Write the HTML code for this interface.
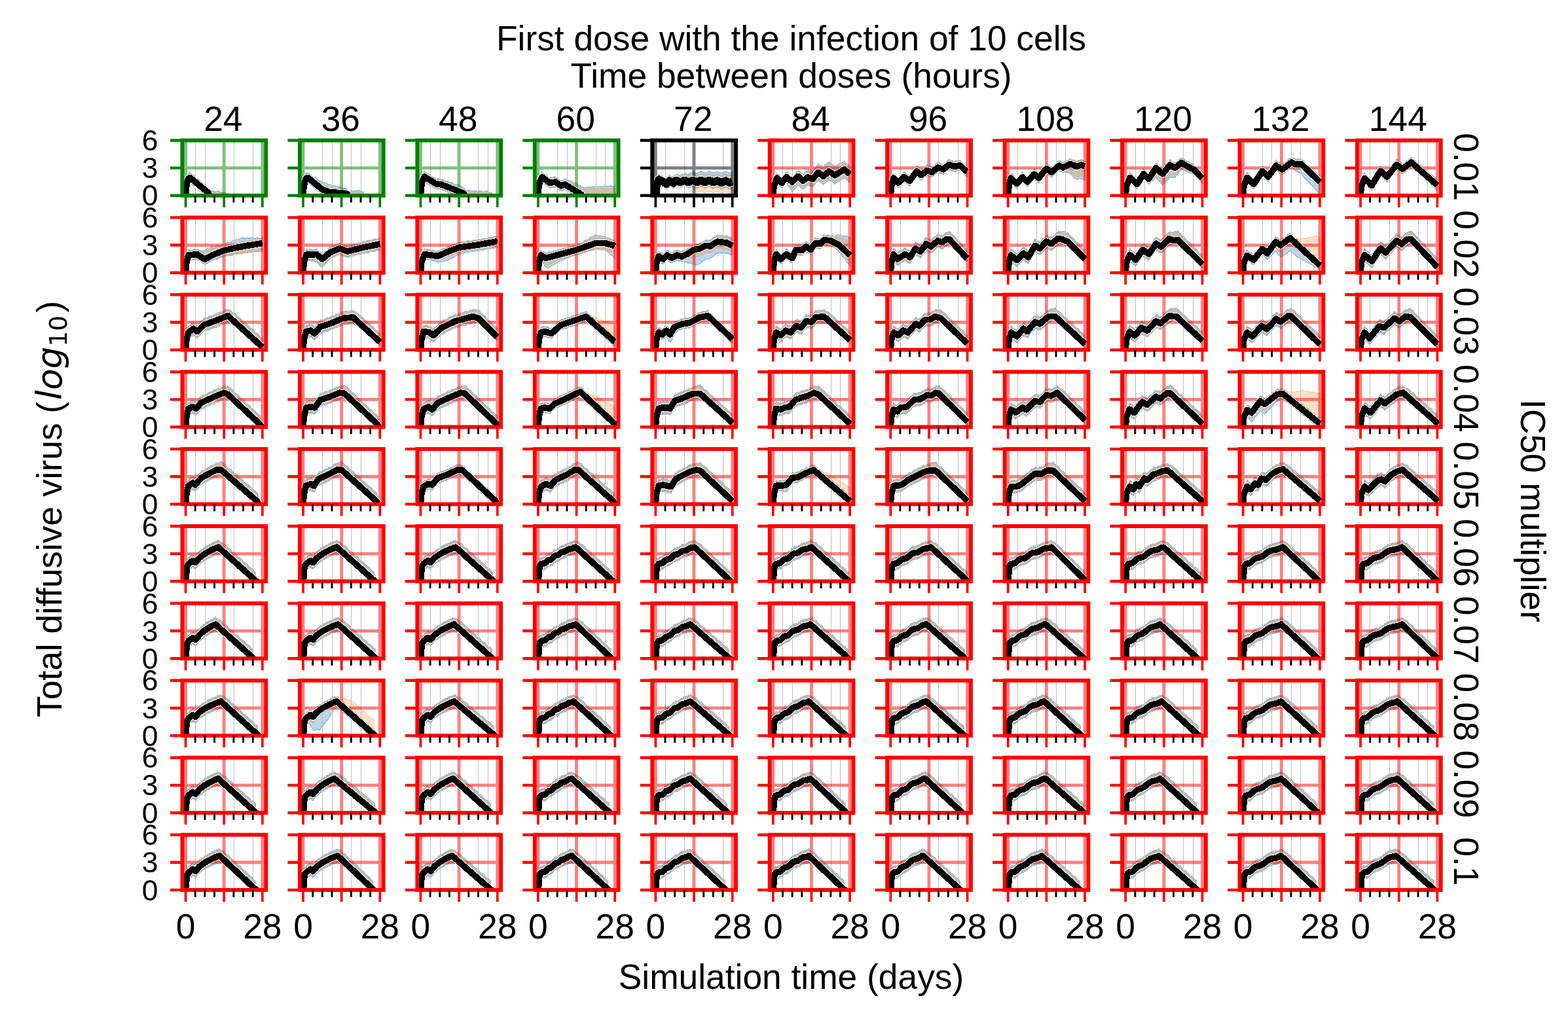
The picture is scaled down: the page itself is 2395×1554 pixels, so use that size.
<!DOCTYPE html><html><head><meta charset="utf-8"><style>html,body{margin:0;padding:0;background:#fff;width:2395px;height:1554px;overflow:hidden;}svg{display:block;}text{font-family:"Liberation Sans",Arial,sans-serif;}</style></head><body>
<svg width="2395" height="1554" viewBox="0 0 2395 1554">
<rect width="2395" height="1554" fill="#fff"/>
<defs><path id="gg" d="M5.1 0V84.3M63.76 0V84.3M122.42 0V84.3M0 42.15H127.8" stroke="#008000" stroke-opacity="0.5" stroke-width="4.8" fill="none"/><g id="fg"><rect width="127.8" height="84.3" fill="none" stroke="#008000" stroke-width="5.9"/><path d="M-18.5 84.3H0M-18.5 42.15H0M-18.5 0H0" stroke="#008000" stroke-width="4.4"/><path d="M5.1 84.3v18M63.76 84.3v18M122.42 84.3v18" stroke="#008000" stroke-width="3.7"/><use href="#mt"/></g><path id="gk" d="M5.1 0V84.3M63.76 0V84.3M122.42 0V84.3M0 42.15H127.8" stroke="#000000" stroke-opacity="0.5" stroke-width="4.8" fill="none"/><g id="fk"><rect width="127.8" height="84.3" fill="none" stroke="#000000" stroke-width="5.9"/><path d="M-18.5 84.3H0M-18.5 42.15H0M-18.5 0H0" stroke="#000000" stroke-width="4.4"/><path d="M5.1 84.3v18M63.76 84.3v18M122.42 84.3v18" stroke="#000000" stroke-width="3.7"/><use href="#mt"/></g><path id="gr" d="M5.1 0V84.3M63.76 0V84.3M122.42 0V84.3M0 42.15H127.8" stroke="#ff0000" stroke-opacity="0.5" stroke-width="4.8" fill="none"/><g id="fr"><rect width="127.8" height="84.3" fill="none" stroke="#ff0000" stroke-width="5.9"/><path d="M-18.5 84.3H0M-18.5 42.15H0M-18.5 0H0" stroke="#ff0000" stroke-width="4.4"/><path d="M5.1 84.3v18M63.76 84.3v18M122.42 84.3v18" stroke="#ff0000" stroke-width="3.7"/><use href="#mt"/></g><path id="mt" d="M19.77 84.3v10.8M34.43 84.3v10.8M49.1 84.3v10.8M78.42 84.3v10.8M93.09 84.3v10.8M107.76 84.3v10.8" stroke="#000" stroke-width="2.9"/></defs>
<svg x="278.45" y="214.5" width="127.8" height="84.3" overflow="hidden"><path d="M5.9 65.3 7.6 54.8 8.9 52.5 9.3 50.6 11.8 48.5 11.8 49.9 14.7 51.6 17.7 53.3 20.6 57.2 23.5 58.8 26.5 60.6 29.4 64.5 32.3 66.1 35.3 67.9 38.2 71.7 39.9 72.3 41.1 76.1 42.8 78.2 44.1 77.4 47 76.9 49.9 78.5 52.9 77.8 55.8 77.4 58.7 79.5 61.7 79.3 64.6 79.4 67.5 81.5 70.5 81.5 72.1 81.5 72.1 86.7 70.5 86.5 67.5 86 64.6 86.7 61.7 86.5 58.7 86 55.8 86.7 52.9 86.5 49.9 86 47 86.7 44.1 86.4 42.8 86 41.1 86.2 39.9 87.8 38.2 86 35.3 84.4 32.3 81.6 29.4 78.8 26.5 77.1 23.5 74.3 20.6 71.5 17.7 69.8 14.7 67.1 11.8 64.3 11.8 65 9.3 66 8.9 66.9 7.6 71.3 5.9 80.8Z" fill="#1f77b4" fill-opacity="0.3" stroke="#1f77b4" stroke-opacity="0.4" stroke-width="1.4" shape-rendering="crispEdges"/><path d="M5.9 66.3 7.6 55.8 8.9 53.3 9.3 51.5 11.8 49.5 11.8 50.7 14.7 52.5 17.7 54.4 20.6 58 23.5 59.8 26.5 61.6 29.4 65.3 32.3 67 35.3 68.9 38.2 72.5 39.9 73.2 41.1 77.7 42.8 79.5 44.1 78.9 47 78.5 49.9 79.8 52.9 79.2 55.8 78.9 58.7 80.7 61.7 80.5 64.6 80.6 67.5 82.3 70.5 82 72.1 81.9 72.1 86.4 70.5 86.2 67.5 85.8 64.6 86.4 61.7 86.2 58.7 85.8 55.8 86.4 52.9 86.2 49.9 85.8 47 86.4 44.1 86.2 42.8 85.8 41.1 85.8 39.9 86.9 38.2 85.2 35.3 83.4 32.3 80.7 29.4 77.9 26.5 76.1 23.5 73.4 20.6 70.7 17.7 68.8 14.7 66.1 11.8 63.4 11.8 64 9.3 65.1 8.9 66 7.6 70.3 5.9 79.9Z" fill="#ff7f0e" fill-opacity="0.24" stroke="#ff7f0e" stroke-opacity="0.3" stroke-width="1.2" shape-rendering="crispEdges"/></svg><path d="M298.5 214.5V298.8M313.5 214.5V298.8M357.5 214.5V298.8M386.5 214.5V298.8" stroke="#bdbdbd" stroke-width="1"/><use href="#gg" transform="translate(278.45,214.5)"/><svg x="278.45" y="214.5" width="127.8" height="84.3" overflow="hidden"><path d="M5.1 84.3 5.9 73.1 7.6 63.2 9.3 58.3 11.8 56.9 39.9 80.1 42.8 88.5" fill="none" stroke="#fff" stroke-width="11.2" stroke-linejoin="round"/><path d="M5.1 84.3 5.9 73.1 7.6 63.2 9.3 58.3 11.8 56.9 39.9 80.1 42.8 88.5" fill="none" stroke="#000" stroke-width="9.6" stroke-linejoin="round" shape-rendering="crispEdges"/></svg><use href="#fg" transform="translate(278.45,214.5)"/>
<text x="241.45" y="314.4" font-size="44.44" text-anchor="end">0</text>
<text x="241.45" y="272.25" font-size="44.44" text-anchor="end">3</text>
<text x="241.45" y="230.1" font-size="44.44" text-anchor="end">6</text>
<text x="340.85" y="200" font-size="53.33" text-anchor="middle">24</text>
<svg x="457.9" y="214.5" width="127.8" height="84.3" overflow="hidden"><path d="M5.9 64.8 7.6 55.2 8.9 52.6 9.3 50 11.8 49.1 12.2 50 14.7 50.7 17.7 53.4 20.6 56.9 23.5 55.8 26.5 58.3 29.4 61.4 32.3 62.2 33.6 63.4 35.3 65 38.2 64.5 41.1 65.8 44.1 68.1 44.9 67.2 47 68.1 49.9 69.8 52.9 69 55.8 70.1 58.7 71.8 60.4 70.7 61.7 71.6 64.6 73.5 67.5 72.6 70.5 73.4 72.1 74.6 73.4 77.1 75.5 77.6 76.3 78.5 79.3 76.8 82.2 77.1 85.1 77.8 88.1 76.2 91 76.5 93.9 78.6 96.9 78.5 97.3 79.3 97.3 87.6 96.9 87.8 93.9 87.1 91 87.5 88.1 87.7 85.1 87 82.2 87.4 79.3 87.6 76.3 86.9 75.5 87.3 73.4 87.4 72.1 88.8 70.5 89.1 67.5 89 64.6 87.9 61.7 88 60.4 88.1 58.7 87.3 55.8 87.6 52.9 87.6 49.9 86.7 47 87.1 44.9 87.1 44.1 86.1 41.1 85.4 38.2 84.4 35.3 82.5 33.6 82.3 32.3 81.5 29.4 78.3 26.5 76.5 23.5 74.2 20.6 71.1 17.7 69.2 14.7 67 12.2 64.2 11.8 65 9.3 66.3 8.9 66.9 7.6 71.1 5.9 81.1Z" fill="#1f77b4" fill-opacity="0.3" stroke="#1f77b4" stroke-opacity="0.4" stroke-width="1.4" shape-rendering="crispEdges"/><path d="M5.9 65.8 7.6 56.2 8.9 53.4 9.3 51 11.8 50.1 12.2 50.8 14.7 51.7 17.7 54.4 20.6 57.7 23.5 58.9 26.5 61.4 29.4 64.5 32.3 65.6 33.6 66.8 35.3 68.3 38.2 68.1 41.1 69.4 44.1 71.5 44.9 70.8 47 71.5 49.9 72.8 52.9 72.1 55.8 72.8 58.7 73.8 60.4 72.8 61.7 73.3 64.6 74.5 67.5 73.6 70.5 74.4 72.1 75.4 73.4 78.6 75.5 79.1 76.3 79.9 79.3 78.6 82.2 78.9 85.1 79.6 88.1 78.3 91 78.7 93.9 80.2 96.9 79.9 97.3 80.5 97.3 86.7 96.9 86.9 93.9 86.3 91 86.7 88.1 86.9 85.1 86.2 82.2 86.6 79.3 86.8 76.3 86.2 75.5 86.6 73.4 86.6 72.1 88 70.5 88.2 67.5 88 64.6 87.1 61.7 87.1 60.4 87.1 58.7 86.4 55.8 86.7 52.9 86.7 49.9 85.9 47 86.1 44.9 86.2 44.1 85.2 41.1 84.4 38.2 83.4 35.3 81.6 33.6 81.4 32.3 80.5 29.4 77.5 26.5 75.5 23.5 73.2 20.6 70.2 17.7 68.3 14.7 66 12.2 63.4 11.8 64 9.3 65.3 8.9 66 7.6 70.1 5.9 80.1Z" fill="#ff7f0e" fill-opacity="0.24" stroke="#ff7f0e" stroke-opacity="0.3" stroke-width="1.2" shape-rendering="crispEdges"/></svg><path d="M492.5 214.5V298.8M507.5 214.5V298.8M536.5 214.5V298.8M551.5 214.5V298.8" stroke="#bdbdbd" stroke-width="1"/><use href="#gg" transform="translate(457.9,214.5)"/><svg x="457.9" y="214.5" width="127.8" height="84.3" overflow="hidden"><path d="M5.1 84.3 5.9 73.1 7.6 63.2 9.3 58.3 12.2 56.9 33.6 74.5 44.9 79.1 60.4 80.1 72.1 81.5 75.5 88.5" fill="none" stroke="#fff" stroke-width="11.2" stroke-linejoin="round"/><path d="M5.1 84.3 5.9 73.1 7.6 63.2 9.3 58.3 12.2 56.9 33.6 74.5 44.9 79.1 60.4 80.1 72.1 81.5 75.5 88.5" fill="none" stroke="#000" stroke-width="9.6" stroke-linejoin="round" shape-rendering="crispEdges"/></svg><use href="#fg" transform="translate(457.9,214.5)"/>
<text x="520.3" y="200" font-size="53.33" text-anchor="middle">36</text>
<svg x="637.35" y="214.5" width="127.8" height="84.3" overflow="hidden"><path d="M5.9 64.5 7.6 55.1 8.9 52.7 11 46.9 11.8 48.6 14.7 50.6 17.7 51.1 20.6 54 23.5 56 26.5 56.5 28.6 58.9 29.4 59.2 32.3 58.3 35.3 59.8 36.5 60.1 38.2 59.3 41.1 61.5 44.1 62.6 47 62.3 49.1 64.2 49.9 64.5 52.9 64.3 55.8 66.5 58.7 67.7 61.7 67.4 63.8 69.4 64.6 69.8 67.5 70 70.5 72.7 71.3 73.1 73.4 75.2 74.2 76.6 76.3 76.8 79.3 75.8 82.2 77.3 85.1 77.4 88.1 76.3 91 77.7 93.9 77.8 96.9 76.7 99.8 78.1 102.7 78.1 105.7 77 108.6 78.6 111.5 79.9 114 79.9 114 88.1 111.5 87.5 108.6 87.4 105.7 88 102.7 87.4 99.8 87.3 96.9 87.9 93.9 87.3 91 87.2 88.1 87.8 85.1 87.2 82.2 87.1 79.3 87.7 76.3 87.1 74.2 87 73.4 87.6 71.3 88.6 70.5 88.3 67.5 87.7 64.6 86 63.8 85.6 61.7 85.4 58.7 83.6 55.8 82.4 52.9 81.9 49.9 80 49.1 79.8 47 79.6 44.1 77.8 41.1 76.7 38.2 76.2 36.5 74.9 35.3 74.8 32.3 75 29.4 73.9 28.6 73.9 26.5 73.2 23.5 70.7 20.6 69 17.7 67.8 14.7 65.3 11.8 63.6 11 63.6 8.9 67.3 7.6 70.1 5.9 81.2Z" fill="#1f77b4" fill-opacity="0.3" stroke="#1f77b4" stroke-opacity="0.4" stroke-width="1.4" shape-rendering="crispEdges"/><path d="M5.9 65.6 7.6 56 8.9 53.5 11 48 11.8 49.5 14.7 51.4 17.7 52.1 20.6 54.9 23.5 56.8 26.5 57.5 28.6 59.8 29.4 60 32.3 59.3 35.3 60.8 36.5 61 38.2 60.6 41.1 62.7 44.1 63.9 47 63.9 49.1 65.7 49.9 66.1 52.9 66.2 55.8 68.4 58.7 69.7 61.7 69.8 63.8 71.7 64.6 72 67.5 72.1 70.5 74.3 71.3 74.6 73.4 77.5 74.2 78.6 76.3 78.7 79.3 77.9 82.2 79.1 85.1 79.2 88.1 78.3 91 79.6 93.9 79.6 96.9 78.7 99.8 80 102.7 80 105.7 79.2 108.6 80.5 111.5 81.3 114 81.1 114 87.1 111.5 86.6 108.6 86.5 105.7 87 102.7 86.5 99.8 86.5 96.9 87 93.9 86.5 91 86.4 88.1 86.9 85.1 86.4 82.2 86.4 79.3 86.9 76.3 86.4 74.2 86.3 73.4 86.9 71.3 87.7 70.5 87.4 67.5 86.7 64.6 85.1 63.8 84.8 61.7 84.4 58.7 82.7 55.8 81.6 52.9 80.9 49.9 79.2 49.1 78.9 47 78.6 44.1 76.9 41.1 75.8 38.2 75.2 36.5 74 35.3 73.9 32.3 74 29.4 73 28.6 73 26.5 72.2 23.5 69.8 20.6 68.1 17.7 66.8 14.7 64.4 11.8 62.7 11 62.6 8.9 66.5 7.6 69.2 5.9 80.2Z" fill="#ff7f0e" fill-opacity="0.24" stroke="#ff7f0e" stroke-opacity="0.3" stroke-width="1.2" shape-rendering="crispEdges"/></svg><path d="M657.5 214.5V298.8M672.5 214.5V298.8M730.5 214.5V298.8M745.5 214.5V298.8" stroke="#bdbdbd" stroke-width="1"/><use href="#gg" transform="translate(637.35,214.5)"/><svg x="637.35" y="214.5" width="127.8" height="84.3" overflow="hidden"><path d="M5.1 84.3 5.9 73.1 7.6 62.5 11 55.5 28.6 66.3 36.5 67.4 49.1 72.2 63.8 78.1 71.3 81.1 74.2 88.5" fill="none" stroke="#fff" stroke-width="11.2" stroke-linejoin="round"/><path d="M5.1 84.3 5.9 73.1 7.6 62.5 11 55.5 28.6 66.3 36.5 67.4 49.1 72.2 63.8 78.1 71.3 81.1 74.2 88.5" fill="none" stroke="#000" stroke-width="9.6" stroke-linejoin="round" shape-rendering="crispEdges"/></svg><use href="#fg" transform="translate(637.35,214.5)"/>
<text x="699.75" y="200" font-size="53.33" text-anchor="middle">48</text>
<svg x="816.8" y="214.5" width="127.8" height="84.3" overflow="hidden"><path d="M5.9 64.6 7.6 56.2 8.9 52.8 11 47.8 11.8 49.8 14.7 51.2 17.7 52.7 20.6 56.4 22.7 57.1 23.5 56.3 26.5 57.3 29.4 56.1 31.5 55.1 32.3 57.1 35.3 58.2 38.2 59.5 40.3 62.3 41.1 61.2 44.1 59 46.2 59.3 47 58.7 49.9 59.3 52 61.6 52.9 61.1 55.8 61.8 58.7 64.5 61.7 64.9 64.6 65.8 66.7 68.3 67.5 68 70.5 69.3 71.3 71.3 73.4 71.7 73.4 71.2 76.3 72.5 79.3 71.3 82.2 70.7 85.1 72 88.1 70.8 91 70.2 93.9 71.5 96.9 70.4 99.8 69.9 102.7 71.2 105.7 70 108.6 69.5 111.5 70.8 114.5 69.7 117.4 69.2 120.3 70.5 122.4 69.3 122.4 89.3 120.3 88.8 117.4 89.5 114.5 89.3 111.5 88.8 108.6 89.5 105.7 89.3 102.7 88.8 99.8 89.5 96.9 89.3 93.9 88.8 91 89.5 88.1 89.3 85.1 88.8 82.2 89.5 79.3 89.3 76.3 88.8 73.4 89.5 73.4 89.3 71.3 90.2 70.5 90.4 67.5 88 66.7 87 64.6 86.5 61.7 84.4 58.7 82.2 55.8 81.1 52.9 79.1 52 78.2 49.9 77.7 47 75.7 46.2 74.8 44.1 76.2 41.1 76.8 40.3 76.6 38.2 76 35.3 73.7 32.3 71.4 31.5 71.6 29.4 71.6 26.5 71.7 23.5 72.9 22.7 72.7 20.6 70.7 17.7 69.3 14.7 66.7 11.8 64.2 11 64.3 8.9 68.3 7.6 70.6 5.9 81.2Z" fill="#1f77b4" fill-opacity="0.3" stroke="#1f77b4" stroke-opacity="0.4" stroke-width="1.4" shape-rendering="crispEdges"/><path d="M5.9 65.7 7.6 57 8.9 53.8 11 48.8 11.8 50.6 14.7 52.2 17.7 53.8 20.6 57.2 22.7 58.1 23.5 57.4 26.5 58.1 29.4 57 31.5 56.1 32.3 57.9 35.3 59.1 38.2 60.5 40.3 63.1 41.1 62.1 44.1 60.7 46.2 61.3 47 61 49.9 61.8 52 63.9 52.9 63.6 55.8 64.4 58.7 67 61.7 67.6 64.6 68.5 66.7 70.9 67.5 70.7 70.5 72.2 71.3 73.9 73.4 74.4 73.4 74 76.3 75.1 79.3 74.1 82.2 73.6 85.1 74.6 88.1 73.7 91 73.2 93.9 74.4 96.9 73.5 99.8 73.1 102.7 74.2 105.7 73.3 108.6 72.9 111.5 74.1 114.5 73.1 117.4 72.8 120.3 73.9 122.4 73 122.4 88.1 120.3 87.7 117.4 88.2 114.5 88 111.5 87.6 108.6 88.1 105.7 88 102.7 87.5 99.8 88.1 96.9 87.9 93.9 87.4 91 88 88.1 87.8 85.1 87.4 82.2 87.9 79.3 87.7 76.3 87.3 73.4 87.9 73.4 87.7 71.3 89.4 70.5 89.4 67.5 87.1 66.7 86.1 64.6 85.5 61.7 83.5 58.7 81.3 55.8 80.2 52.9 78.2 52 77.3 49.9 76.7 47 74.8 46.2 73.9 44.1 75.2 41.1 75.8 40.3 75.7 38.2 75 35.3 72.8 32.3 70.5 31.5 70.6 29.4 70.7 26.5 70.8 23.5 71.9 22.7 71.7 20.6 69.8 17.7 68.3 14.7 65.8 11.8 63.3 11 63.3 8.9 67.4 7.6 69.7 5.9 80.2Z" fill="#ff7f0e" fill-opacity="0.24" stroke="#ff7f0e" stroke-opacity="0.3" stroke-width="1.2" shape-rendering="crispEdges"/></svg><path d="M851.5 214.5V298.8M866.5 214.5V298.8M910.5 214.5V298.8M924.5 214.5V298.8" stroke="#bdbdbd" stroke-width="1"/><use href="#gg" transform="translate(816.8,214.5)"/><svg x="816.8" y="214.5" width="127.8" height="84.3" overflow="hidden"><path d="M5.1 84.3 5.9 73.1 7.6 63.2 11 56.2 22.7 64.9 31.5 63.5 40.3 69.3 46.2 67.4 52 70.8 66.7 79.7 71.3 82.9 73.4 88.5" fill="none" stroke="#fff" stroke-width="11.2" stroke-linejoin="round"/><path d="M5.1 84.3 5.9 73.1 7.6 63.2 11 56.2 22.7 64.9 31.5 63.5 40.3 69.3 46.2 67.4 52 70.8 66.7 79.7 71.3 82.9 73.4 88.5" fill="none" stroke="#000" stroke-width="9.6" stroke-linejoin="round" shape-rendering="crispEdges"/></svg><use href="#fg" transform="translate(816.8,214.5)"/>
<text x="879.2" y="200" font-size="53.33" text-anchor="middle">60</text>
<svg x="996.25" y="214.5" width="127.8" height="84.3" overflow="hidden"><path d="M5.9 66.9 6.4 63.4 8.9 54.9 10.1 51.7 11.8 53.7 14.7 53.8 15.6 54.5 17.7 57 20.6 57.3 21.9 58.4 23.5 57.3 26.1 52.7 26.5 53.3 29.4 55.7 32.3 55.6 35.3 52.8 36.5 52.4 38.2 51.6 41.1 53 42.8 54.6 44.1 52.5 47 51.3 49.1 51 49.9 49.8 52.9 51.1 55.4 52.8 55.8 51.1 58.7 49.8 61.7 48.9 61.7 47.5 64.6 48.9 67.5 51.1 68 49.8 70.5 49.2 73.4 48.7 74.2 46.9 76.3 48.3 79.3 50.4 80.5 49.5 82.2 49.3 85.1 48.8 86.8 46.5 88.1 47.7 91 49.8 93.1 49.2 93.9 49.5 96.9 49.3 99.4 46.9 99.8 47.7 102.7 49.8 105.7 49.6 105.7 50.2 108.6 49.6 111.5 46.8 111.9 47.3 114.5 49.1 117.4 48.9 118.2 50 120.3 50 122.4 47.7 122.4 73.4 120.3 73.4 118.2 74.4 117.4 74.4 114.5 72.3 111.9 71.5 111.5 72.1 108.6 72.6 105.7 74.3 105.7 74.6 102.7 72.5 99.8 71.6 99.4 71.7 96.9 71.8 93.9 73.2 93.1 73.7 91 72 88.1 71.1 86.8 70.8 85.1 70.8 82.2 72.5 80.5 73.6 79.3 72.3 76.3 71.4 74.2 70.7 73.4 70.3 70.5 72 68 73.4 67.5 72.4 64.6 71.3 61.7 69.9 61.7 69.1 58.7 70.6 55.8 71.8 55.4 71.3 52.9 70.6 49.9 69.5 49.1 68.4 47 69.9 44.1 71.4 42.8 71.3 41.1 71 38.2 69.9 36.5 68.4 35.3 70.2 32.3 73.4 29.4 71 26.5 69.9 26.1 69.8 23.5 72.1 21.9 74.6 20.6 73.9 17.7 71.2 15.6 70.4 14.7 70.1 11.8 67.9 10.1 67.6 8.9 71.2 6.4 77.6 5.9 82.8Z" fill="#1f77b4" fill-opacity="0.3" stroke="#1f77b4" stroke-opacity="0.4" stroke-width="1.4" shape-rendering="crispEdges"/><path d="M5.9 67.9 6.4 64.1 8.9 56 10.1 52.7 11.8 54.5 14.7 54.8 15.6 55.5 17.7 57.8 20.6 58.6 21.9 59.7 23.5 58.7 26.1 54.5 26.5 55.1 29.4 57.6 32.3 58 35.3 55.2 36.5 54.6 38.2 54.1 41.1 55.5 42.8 56.9 44.1 55.1 47 53.9 49.1 53.4 49.9 52.5 52.9 53.8 55.4 55.3 55.8 53.9 58.7 52.5 61.7 51.6 61.7 50.4 64.6 51.8 67.5 53.8 68 52.8 70.5 52.1 73.4 51.5 74.2 49.9 76.3 51.3 79.3 53.3 80.5 52.7 82.2 52.4 85.1 51.8 86.8 49.8 88.1 50.8 91 52.8 93.1 52.5 93.9 52.8 96.9 52.4 99.4 50.4 99.8 51.1 102.7 53 105.7 53.1 105.7 53.6 108.6 53 111.5 50.4 111.9 50.8 114.5 52.5 117.4 52.6 118.2 53.5 120.3 53.4 122.4 51.5 122.4 80.2 120.3 80.3 118.2 81.3 117.4 81.2 114.5 79.2 111.9 78.4 111.5 78.9 108.6 79.5 105.7 81.2 105.7 81.4 102.7 79.5 99.8 78.5 99.4 78.5 96.9 78.7 93.9 80 93.1 80.6 91 79 88.1 78 86.8 77.7 85.1 77.8 82.2 79.5 80.5 80.4 79.3 79.2 76.3 78.3 74.2 77.5 73.4 77.3 70.5 79 68 80.3 67.5 79.2 64.6 76.4 61.7 73.4 61.7 72.8 58.7 72.7 55.8 72.3 55.4 71.6 52.9 70.4 49.9 68.6 49.1 67.6 47 68.9 44.1 70.4 42.8 70.4 41.1 70.1 38.2 68.9 36.5 67.6 35.3 69.3 32.3 72.4 29.4 70.2 26.5 68.9 26.1 68.9 23.5 71.2 21.9 73.6 20.6 72.9 17.7 70.4 15.6 69.4 14.7 69.1 11.8 67 10.1 66.6 8.9 70.3 6.4 76.7 5.9 81.9Z" fill="#ff7f0e" fill-opacity="0.24" stroke="#ff7f0e" stroke-opacity="0.3" stroke-width="1.2" shape-rendering="crispEdges"/></svg><path d="M1016.5 214.5V298.8M1045.5 214.5V298.8M1104.5 214.5V298.8" stroke="#bdbdbd" stroke-width="1"/><use href="#gk" transform="translate(996.25,214.5)"/><svg x="996.25" y="214.5" width="127.8" height="84.3" overflow="hidden"><path d="M5.1 84.3 6.4 70.2 10.1 59.7 15.6 62.5 21.9 66.7 26.1 61.8 32.3 65.3 36.5 61.1 42.8 63.9 49.1 61.1 55.4 63.9 61.7 61.1 68 63.9 74.2 61.1 80.5 63.9 86.8 61.1 93.1 63.9 99.4 61.8 105.7 64.6 111.9 61.8 118.2 64.6 122.4 63.2" fill="none" stroke="#fff" stroke-width="13.6" stroke-linejoin="round"/><path d="M5.1 84.3 6.4 70.2 10.1 59.7 15.6 62.5 21.9 66.7 26.1 61.8 32.3 65.3 36.5 61.1 42.8 63.9 49.1 61.1 55.4 63.9 61.7 61.1 68 63.9 74.2 61.1 80.5 63.9 86.8 61.1 93.1 63.9 99.4 61.8 105.7 64.6 111.9 61.8 118.2 64.6 122.4 63.2" fill="none" stroke="#000" stroke-width="12.0" stroke-linejoin="round" shape-rendering="crispEdges"/></svg><use href="#fk" transform="translate(996.25,214.5)"/>
<text x="1058.65" y="200" font-size="53.33" text-anchor="middle">72</text>
<svg x="1175.7" y="214.5" width="127.8" height="84.3" overflow="hidden"><path d="M5.9 67.5 6.4 63.1 8.9 54.8 11 50.2 11.8 51.2 14.7 52.7 17.7 56.7 18.5 57.7 20.6 53.8 23.5 51.4 25.6 49 26.5 48.3 29.4 52 32.3 54.5 34.4 54.9 35.3 55.3 38.2 52.2 41.1 47.5 43.2 46.4 44.1 47.1 47 48.2 49.9 51.8 50.8 52.5 52.9 49.3 55.8 47.9 58.3 45.7 58.7 44.6 61.7 46.6 64.6 47.4 65.4 46.4 67.5 44.9 70.5 41.1 73.4 36.1 74.2 36.3 76.3 37.7 79.3 38.4 81.8 41.4 82.2 40.9 85.1 36.8 88.1 35.3 90.6 33.1 91 32.2 93.9 35.8 96.9 37.9 99.4 38.7 99.8 39.8 102.7 38.1 105.7 35.3 108.6 35.1 111.5 33.4 114 30.9 114.5 32.7 117.4 35.3 120.3 36.9 122.4 40.3 122.4 64.8 120.3 63.6 117.4 60.4 114.5 57.7 114 58 111.5 58.9 108.6 60.5 105.7 63 102.7 64.1 99.8 65.8 99.4 66.7 96.9 64.3 93.9 62.2 91 60.7 90.6 59.8 88.1 61.9 85.1 64.9 82.2 66.7 81.8 67.1 79.3 65.6 76.3 62.6 74.2 60.9 73.4 62.5 70.5 65.2 67.5 68.6 65.4 71.6 64.6 70.6 61.7 69.4 58.7 68.8 58.3 68 55.8 69.9 52.9 73.1 50.8 74.3 49.9 73.6 47 71.9 44.1 68.8 43.2 68.2 41.1 71.1 38.2 73.8 35.3 77.1 34.4 78.7 32.3 74.9 29.4 70.5 26.5 66.7 25.6 65 23.5 67.1 20.6 70.5 18.5 72.4 17.7 71.7 14.7 69.4 11.8 65.9 11 65.2 8.9 71.5 6.4 77.7 5.9 82.5Z" fill="#1f77b4" fill-opacity="0.3" stroke="#1f77b4" stroke-opacity="0.4" stroke-width="1.4" shape-rendering="crispEdges"/><path d="M5.9 68.4 6.4 63.9 8.9 55.9 11 51.1 11.8 52.1 14.7 53.8 17.7 57.6 18.5 58.5 20.6 54.9 23.5 52.2 25.6 49.8 26.5 49.4 29.4 52.8 32.3 55.4 34.4 56 35.3 56.2 38.2 53.4 41.1 49.4 43.2 48.3 44.1 49.2 47 50.7 49.9 54.1 50.8 54.9 52.9 51.9 55.8 50.4 58.3 48.2 58.7 47.3 61.7 49.1 64.6 50 65.4 49.2 67.5 47.5 70.5 43.8 73.4 39 74.2 39 76.3 40.4 79.3 41.4 81.8 44.2 82.2 43.8 85.1 39.9 88.1 38.2 90.6 36 91 35.3 93.9 38.7 96.9 40.8 99.4 41.7 99.8 42.6 102.7 40.9 105.7 38.3 108.6 37.9 111.5 36.1 114 33.8 114.5 35.3 117.4 37.9 120.3 39.8 122.4 42.9 122.4 62 120.3 60.7 117.4 57.6 114.5 54.9 114 55.1 111.5 56.1 108.6 57.8 105.7 60.1 102.7 61.3 99.8 63 99.4 63.8 96.9 61.5 93.9 59.4 91 57.9 90.6 57.1 88.1 59.2 85.1 62.1 82.2 64 81.8 64.4 79.3 62.8 76.3 59.9 74.2 58.2 73.4 59.7 70.5 62.5 67.5 65.9 65.4 68.8 64.6 67.9 61.7 66.7 58.7 66.1 58.3 65.3 55.8 67.2 52.9 70.1 50.8 71.3 49.9 70.6 47 68.5 44.1 65.3 43.2 64.6 41.1 67.3 38.2 69.9 35.3 73 34.4 74.4 32.3 71.1 29.4 67.5 26.5 64.2 25.6 62.8 23.5 65.4 20.6 69.5 18.5 71.5 17.7 70.8 14.7 68.4 11.8 65 11 64.3 8.9 70.5 6.4 76.8 5.9 81.6Z" fill="#ff7f0e" fill-opacity="0.24" stroke="#ff7f0e" stroke-opacity="0.3" stroke-width="1.2" shape-rendering="crispEdges"/></svg><path d="M1195.5 214.5V298.8M1210.5 214.5V298.8M1269.5 214.5V298.8M1283.5 214.5V298.8" stroke="#bdbdbd" stroke-width="1"/><use href="#gr" transform="translate(1175.7,214.5)"/><svg x="1175.7" y="214.5" width="127.8" height="84.3" overflow="hidden"><path d="M5.1 84.3 6.4 70.2 11 57.6 18.5 64.9 25.6 56.2 34.4 63.5 43.2 54.8 50.8 62 58.3 56.2 65.4 59 74.2 48.8 81.8 54.8 90.6 47.3 99.4 53.4 114 44.4 122.4 51.7" fill="none" stroke="#fff" stroke-width="11.2" stroke-linejoin="round"/><path d="M5.1 84.3 6.4 70.2 11 57.6 18.5 64.9 25.6 56.2 34.4 63.5 43.2 54.8 50.8 62 58.3 56.2 65.4 59 74.2 48.8 81.8 54.8 90.6 47.3 99.4 53.4 114 44.4 122.4 51.7" fill="none" stroke="#000" stroke-width="9.6" stroke-linejoin="round" shape-rendering="crispEdges"/></svg><use href="#fr" transform="translate(1175.7,214.5)"/>
<text x="1238.1" y="200" font-size="53.33" text-anchor="middle">84</text>
<svg x="1355.15" y="214.5" width="127.8" height="84.3" overflow="hidden"><path d="M5.9 67.9 6.4 62.5 8.9 52.3 9.7 50.6 11.8 52 14.7 54.3 16.8 57.9 17.7 56.3 20.6 52.7 23.5 51.3 25.6 48.4 26.5 48.3 29.4 51.7 32.3 52.8 34.4 53.5 35.3 53.8 38.2 48.8 41.1 44.1 44.1 41.4 44.9 39.4 47 40.5 49.9 44.4 52 45.3 52.9 44 55.8 43 58.7 39.7 60.8 37.4 61.7 39.2 64.6 39.4 67.5 40.1 68.4 41.8 70.5 39.2 73.4 36.3 76.3 35.3 77.2 33.7 79.3 33.9 82.2 36.3 85.1 36.2 86 36.1 88.1 35.7 91 32.3 93.9 29.4 94.8 30.1 96.9 29.9 99.8 30.6 102.3 33 102.7 31.8 105.7 30.9 108.6 31.7 111.1 30.2 111.5 30.2 114.5 34.3 117.4 35.8 120.3 38.2 121.2 40.3 122.4 39.8 122.4 55.6 121.2 54.5 120.3 54.5 117.4 51.7 114.5 48.5 111.5 46.6 111.1 46 108.6 46 105.7 47.2 102.7 47.6 102.3 47.2 99.8 46.9 96.9 45.6 94.8 44.3 93.9 45.8 91 48 88.1 50 86 52.4 85.1 51.9 82.2 50.5 79.3 50.3 77.2 49.4 76.3 49.6 73.4 52.7 70.5 54.9 68.4 56.1 67.5 56.5 64.6 55.1 61.7 53.5 60.8 53.9 58.7 55.3 55.8 57.3 52.9 60.5 52 60.9 49.9 58.7 47 57 44.9 55 44.1 55.7 41.1 60.6 38.2 64.4 35.3 68.1 34.4 70 32.3 68.4 29.4 66 26.5 64.8 25.6 64 23.5 65.6 20.6 69.3 17.7 71.8 16.8 72.3 14.7 70.8 11.8 67.5 9.7 65 8.9 68.9 6.4 78 5.9 82.3Z" fill="#1f77b4" fill-opacity="0.3" stroke="#1f77b4" stroke-opacity="0.4" stroke-width="1.4" shape-rendering="crispEdges"/><path d="M5.9 68.7 6.4 63.4 8.9 53.4 9.7 51.4 11.8 52.9 14.7 55.4 16.8 58.7 17.7 57.2 20.6 53.8 23.5 52.1 25.6 49.4 26.5 49.4 29.4 52.5 32.3 53.7 34.4 54.6 35.3 54.6 38.2 49.8 41.1 45.2 44.1 42.2 44.9 40.3 47 41.6 49.9 45.2 52 46.2 52.9 45.1 55.8 43.8 58.7 40.6 60.8 38.5 61.7 40 64.6 40.4 67.5 41.1 68.4 42.6 70.5 40.1 73.4 37.3 76.3 36.1 77.2 34.6 79.3 34.9 82.2 37.1 85.1 37.2 86 37.1 88.1 36.5 91 33.2 93.9 30.4 94.8 30.9 96.9 30.8 99.8 31.6 102.3 33.7 102.7 32.8 105.7 31.9 108.6 32.5 111.1 31.2 111.5 31.3 114.5 35.1 117.4 36.8 120.3 39.2 121.2 41.1 122.4 40.7 122.4 54.7 121.2 53.7 120.3 53.5 117.4 50.7 114.5 47.6 111.5 45.6 111.1 45.1 108.6 45.1 105.7 46.3 102.7 46.7 102.3 46.3 99.8 46 96.9 44.7 94.8 43.5 93.9 44.8 91 47.1 88.1 49.1 86 51.5 85.1 51 82.2 49.7 79.3 49.3 77.2 48.5 76.3 48.7 73.4 51.7 70.5 53.9 68.4 55.2 67.5 55.5 64.6 54.1 61.7 52.6 60.8 52.9 58.7 54.4 55.8 56.5 52.9 59.5 52 60 49.9 57.8 47 56 44.9 54 44.1 54.9 41.1 59.6 38.2 63.5 35.3 67.3 34.4 69 32.3 67.4 29.4 65.2 26.5 63.8 25.6 63 23.5 64.8 20.6 68.3 17.7 70.9 16.8 71.4 14.7 69.9 11.8 66.6 9.7 64.1 8.9 67.9 6.4 77.1 5.9 81.4Z" fill="#ff7f0e" fill-opacity="0.24" stroke="#ff7f0e" stroke-opacity="0.3" stroke-width="1.2" shape-rendering="crispEdges"/></svg><path d="M1375.5 214.5V298.8M1433.5 214.5V298.8M1463.5 214.5V298.8" stroke="#bdbdbd" stroke-width="1"/><use href="#gr" transform="translate(1355.15,214.5)"/><svg x="1355.15" y="214.5" width="127.8" height="84.3" overflow="hidden"><path d="M5.1 84.3 6.4 70.2 9.7 57.6 16.8 64.9 25.6 56.2 34.4 62 44.9 47.2 52 53.1 60.8 45.8 68.4 48.8 77.2 41.6 86 44.4 94.8 37 102.3 39.9 111.1 38.2 121.2 47.2 122.4 47.8" fill="none" stroke="#fff" stroke-width="11.2" stroke-linejoin="round"/><path d="M5.1 84.3 6.4 70.2 9.7 57.6 16.8 64.9 25.6 56.2 34.4 62 44.9 47.2 52 53.1 60.8 45.8 68.4 48.8 77.2 41.6 86 44.4 94.8 37 102.3 39.9 111.1 38.2 121.2 47.2 122.4 47.8" fill="none" stroke="#000" stroke-width="9.6" stroke-linejoin="round" shape-rendering="crispEdges"/></svg><use href="#fr" transform="translate(1355.15,214.5)"/>
<text x="1417.55" y="200" font-size="53.33" text-anchor="middle">96</text>
<svg x="1534.6" y="214.5" width="127.8" height="84.3" overflow="hidden"><path d="M5.9 68 6.4 62 8.9 51.4 9.3 50.7 11.8 51.7 14.7 54.8 17.7 58.6 18.5 58 20.6 55.9 23.5 53.6 26.5 48.9 27.3 48.2 29.4 51.4 32.3 53 34.4 55.6 35.3 55.6 38.2 50.9 41.1 48 44.1 45.7 44.9 43.4 47 45.5 49.9 48.9 52 49.3 52.9 48.7 55.8 45.9 58.7 40.8 61.7 37.6 63.8 35.9 64.6 35.1 67.5 37.9 70.5 41.2 71.3 40.4 73.4 39.1 76.3 37.5 79.3 33.6 82.2 31.6 83 31.8 85.1 31.4 88.1 33.3 88.9 34.6 91 32.2 93.9 31.3 96.9 30.8 99.8 27.9 100.6 28.1 102.7 29.9 105.7 29.7 108.6 31.7 109.4 32.9 111.5 30.8 114.5 30.6 117 30.6 117.4 29.3 120.3 30.8 122.4 32.2 122.4 60.6 120.3 60 117.4 59 117 58.1 114.5 58.8 111.5 59.5 109.4 59.1 108.6 59 105.7 57.5 102.7 53.2 100.6 51.1 99.8 51.2 96.9 49.7 93.9 49.3 91 48.8 88.9 48.9 88.1 49 85.1 47.8 83 46.1 82.2 47.2 79.3 50 76.3 51.8 73.4 54.8 71.3 56.8 70.5 55.4 67.5 53.6 64.6 51.6 63.8 50.2 61.7 53.3 58.7 57.2 55.8 60.2 52.9 64.4 52 65.6 49.9 63.2 47 61.3 44.9 59.7 44.1 60 41.1 63.8 38.2 67.3 35.3 69.9 34.4 71.3 32.3 69.4 29.4 65.7 27.3 64 26.5 65.2 23.5 67.9 20.6 71.8 18.5 74.3 17.7 72.8 14.7 70.6 11.8 68 9.3 64.9 8.9 67.3 6.4 78.3 5.9 82.2Z" fill="#1f77b4" fill-opacity="0.3" stroke="#1f77b4" stroke-opacity="0.4" stroke-width="1.4" shape-rendering="crispEdges"/><path d="M5.9 68.8 6.4 63 8.9 52.4 9.3 51.5 11.8 52.7 14.7 55.7 17.7 59.4 18.5 59 20.6 56.9 23.5 54.4 26.5 49.9 27.3 49.2 29.4 52.2 32.3 54.1 34.4 56.5 35.3 56.4 38.2 52 41.1 49 44.1 46.5 44.9 44.4 47 46.5 49.9 49.7 52 50.3 52.9 49.6 55.8 46.7 58.7 41.8 61.7 38.6 63.8 36.7 64.6 36.2 67.5 38.9 70.5 42 71.3 41.4 73.4 40.1 76.3 38.3 79.3 34.6 82.2 32.5 83 32.6 85.1 32.4 88.1 34.3 88.9 35.4 91 33.2 93.9 32.3 96.9 31.6 99.8 28.9 100.6 29 102.7 30.7 105.7 30.8 108.6 32.6 109.4 33.7 111.5 31.9 114.5 31.5 117 31.4 117.4 30.3 120.3 31.7 122.4 33 122.4 56.8 120.3 56.2 117.4 55.2 117 54.4 114.5 55.1 111.5 55.9 109.4 55.6 108.6 55.4 105.7 53.9 102.7 50.1 100.6 48.2 99.8 48.4 96.9 47.3 93.9 47.3 91 47.6 88.9 48.1 88.1 48 85.1 46.8 83 45.2 82.2 46.3 79.3 49 76.3 50.9 73.4 53.8 71.3 55.8 70.5 54.6 67.5 52.7 64.6 50.6 63.8 49.3 61.7 52.4 58.7 56.2 55.8 59.3 52.9 63.4 52 64.7 49.9 62.3 47 60.3 44.9 58.8 44.1 59.1 41.1 62.8 38.2 66.3 35.3 69 34.4 70.4 32.3 68.4 29.4 64.8 27.3 63.1 26.5 64.2 23.5 67 20.6 70.8 18.5 73.4 17.7 72 14.7 69.7 11.8 67 9.3 64.1 8.9 66.3 6.4 77.3 5.9 81.4Z" fill="#ff7f0e" fill-opacity="0.24" stroke="#ff7f0e" stroke-opacity="0.3" stroke-width="1.2" shape-rendering="crispEdges"/></svg><path d="M1554.5 214.5V298.8M1583.5 214.5V298.8M1613.5 214.5V298.8M1627.5 214.5V298.8" stroke="#bdbdbd" stroke-width="1"/><use href="#gr" transform="translate(1534.6,214.5)"/><svg x="1534.6" y="214.5" width="127.8" height="84.3" overflow="hidden"><path d="M5.1 84.3 6.4 70.2 9.3 57.6 18.5 66.3 27.3 56.2 34.4 63.5 44.9 51.7 52 57.6 63.8 42.9 71.3 48.8 83 38.7 88.9 41.6 100.6 35.9 109.4 39.9 117 37.6 122.4 39.2" fill="none" stroke="#fff" stroke-width="11.2" stroke-linejoin="round"/><path d="M5.1 84.3 6.4 70.2 9.3 57.6 18.5 66.3 27.3 56.2 34.4 63.5 44.9 51.7 52 57.6 63.8 42.9 71.3 48.8 83 38.7 88.9 41.6 100.6 35.9 109.4 39.9 117 37.6 122.4 39.2" fill="none" stroke="#000" stroke-width="9.6" stroke-linejoin="round" shape-rendering="crispEdges"/></svg><use href="#fr" transform="translate(1534.6,214.5)"/>
<text x="1597" y="200" font-size="53.33" text-anchor="middle">108</text>
<svg x="1714.05" y="214.5" width="127.8" height="84.3" overflow="hidden"><path d="M5.9 67.7 6.4 61.7 8.9 56.6 11.8 49.6 11.8 48.2 14.7 52.1 17.7 55 20.6 56.4 22.7 59.5 23.5 58.3 26.5 52.5 29.4 49.1 32.3 44.7 32.8 42.7 35.3 46.4 38.2 49.3 40.7 50.4 41.1 51 44.1 46.6 47 40.7 49.9 37.4 51.6 34.9 52.9 34.7 55.8 38.6 58.7 41.3 61.7 42.7 61.7 44 64.6 40.4 67.5 35.6 70.5 33.3 73 30.3 73.4 29.3 76.3 32.3 79.3 34.1 80.5 33.6 82.2 33.5 85.1 31.2 88.1 27.6 90.6 26.9 91 27.1 93.9 27.7 96.9 30.8 99.8 32.6 100.6 31.9 102.7 34.2 105.7 35.4 108.6 35.6 109.4 37.3 111.5 39.3 114.5 41.1 117.4 45.5 120.3 48.3 122.4 49.3 122.4 66 120.3 63.3 117.4 60.2 114.5 57.9 111.5 54.2 109.4 52 108.6 52.3 105.7 50.3 102.7 48.9 100.6 48.6 99.8 47.5 96.9 46.4 93.9 46 91 44.3 90.6 44.1 88.1 47.5 85.1 50.7 82.2 54.5 80.5 57.3 79.3 56.6 76.3 56.3 73.4 56.6 73 55.9 70.5 59.1 67.5 62.6 64.6 65 61.7 67.9 61.7 68.6 58.7 64.7 55.8 61.4 52.9 58.8 51.6 56.8 49.9 58.5 47 61.6 44.1 63.6 41.1 66.2 40.7 67.2 38.2 64.1 35.3 61.3 32.8 59.4 32.3 59.4 29.4 64 26.5 69.2 23.5 73.1 22.7 74.4 20.6 73.1 17.7 69.7 14.7 67.1 11.8 64.9 11.8 64.2 8.9 71.6 6.4 78.4 5.9 82.4Z" fill="#1f77b4" fill-opacity="0.3" stroke="#1f77b4" stroke-opacity="0.4" stroke-width="1.4" shape-rendering="crispEdges"/><path d="M5.9 68.6 6.4 62.8 8.9 57.5 11.8 50.4 11.8 49.3 14.7 53 17.7 55.8 20.6 57.4 22.7 60.4 23.5 59.2 26.5 53.5 29.4 50 32.3 45.5 32.8 43.8 35.3 47.2 38.2 50.2 40.7 51.5 41.1 51.9 44.1 47.4 47 41.8 49.9 38.3 51.6 35.7 52.9 35.8 55.8 39.5 58.7 42.2 61.7 43.8 61.7 44.8 64.6 41.3 67.5 36.7 70.5 34.2 73 31.1 73.4 30.3 76.3 33.2 79.3 34.9 80.5 34.6 82.2 34.4 85.1 32 88.1 28.7 90.6 27.8 91 27.9 93.9 28.8 96.9 31.7 99.8 33.4 100.6 32.9 102.7 35 105.7 36.3 108.6 36.6 109.4 38.2 111.5 40.2 114.5 42.2 117.4 46.3 120.3 49.2 122.4 50.4 122.4 65 120.3 62.4 117.4 59.3 114.5 56.9 111.5 53.4 109.4 51.1 108.6 51.3 105.7 49.4 102.7 48 100.6 47.7 99.8 46.8 96.9 45.2 93.9 44.2 91 42.1 90.6 41.9 88.1 44.9 85.1 48 82.2 51.6 80.5 54.2 79.3 53.5 76.3 53 73.4 53.1 73 52.5 70.5 55.7 67.5 59.4 64.6 62.1 61.7 65.3 61.7 65.9 58.7 62.3 55.8 59.3 52.9 56.8 51.6 55 49.9 56.8 47 60.1 44.1 62.4 41.1 65.3 40.7 66.2 38.2 63.2 35.3 60.4 32.8 58.4 32.3 58.5 29.4 63.1 26.5 68.2 23.5 72.2 22.7 73.5 20.6 72.1 17.7 68.8 14.7 66.2 11.8 63.9 11.8 63.3 8.9 70.7 6.4 77.4 5.9 81.5Z" fill="#ff7f0e" fill-opacity="0.24" stroke="#ff7f0e" stroke-opacity="0.3" stroke-width="1.2" shape-rendering="crispEdges"/></svg><path d="M1734.5 214.5V298.8M1748.5 214.5V298.8M1807.5 214.5V298.8M1822.5 214.5V298.8" stroke="#bdbdbd" stroke-width="1"/><use href="#gr" transform="translate(1714.05,214.5)"/><svg x="1714.05" y="214.5" width="127.8" height="84.3" overflow="hidden"><path d="M5.1 84.3 6.4 70.2 11.8 56.8 22.7 66.9 32.8 51.3 40.7 59 51.6 42.1 61.7 51.3 73 37.6 80.5 42.1 90.6 34.2 100.6 40.4 109.4 44.5 122.4 57.9" fill="none" stroke="#fff" stroke-width="11.2" stroke-linejoin="round"/><path d="M5.1 84.3 6.4 70.2 11.8 56.8 22.7 66.9 32.8 51.3 40.7 59 51.6 42.1 61.7 51.3 73 37.6 80.5 42.1 90.6 34.2 100.6 40.4 109.4 44.5 122.4 57.9" fill="none" stroke="#000" stroke-width="9.6" stroke-linejoin="round" shape-rendering="crispEdges"/></svg><use href="#fr" transform="translate(1714.05,214.5)"/>
<text x="1776.45" y="200" font-size="53.33" text-anchor="middle">120</text>
<svg x="1893.5" y="214.5" width="127.8" height="84.3" overflow="hidden"><path d="M5.9 67.2 6.4 61.8 8.9 56.5 11.4 49 11.8 48.7 14.7 53.2 17.7 55.3 20.6 57.6 21.4 59.9 23.5 56 26.5 50.9 29.4 48 32.3 42.8 34.8 38.4 35.3 40.2 38.2 42.3 41.1 44.7 43.6 48.7 44.1 47.2 47 42.6 49.9 39.9 52.9 35 55.8 30.3 55.8 31.8 58.7 32.7 61.7 34 64.6 37.3 65 36.7 67.5 34.2 70.5 33.4 73.4 30.2 76.3 27.5 79.3 26.7 82.2 27.2 85.1 28.1 86 30 88.1 28.8 91 28 93.9 29.1 96.9 30.9 99.8 33.2 102.7 37.5 105.7 39.2 108.6 41.6 111.5 45.8 114.5 47.6 117.4 50 120.3 54.2 122.4 55.1 122.4 82.2 120.3 79.4 117.4 77 114.5 73.7 111.5 70.1 108.6 67.7 105.7 64.4 102.7 60.7 99.8 58.3 96.9 54.8 93.9 50 91 49.4 88.1 48 86 46.6 85.1 46.4 82.2 43.2 79.3 40.9 76.3 43.9 73.4 45.9 70.5 47.7 67.5 50.7 65 52.3 64.6 51.6 61.7 50.5 58.7 48.4 55.8 46.1 55.8 46.8 52.9 50.6 49.9 54.2 47 59 44.1 62.8 43.6 63 41.1 61.2 38.2 57.9 35.3 54.6 34.8 54.9 32.3 58.3 29.4 62.3 26.5 67.4 23.5 71.5 21.4 74.2 20.6 74.1 17.7 70.8 14.7 67.5 11.8 65.3 11.4 64.5 8.9 70.9 6.4 78.3 5.9 82.7Z" fill="#1f77b4" fill-opacity="0.3" stroke="#1f77b4" stroke-opacity="0.4" stroke-width="1.4" shape-rendering="crispEdges"/><path d="M5.9 68.1 6.4 62.8 8.9 57.3 11.4 49.9 11.8 49.8 14.7 54 17.7 56.2 20.6 58.6 21.4 60.7 23.5 56.9 26.5 52 29.4 48.8 32.3 43.7 34.8 39.4 35.3 41 38.2 43.3 41.1 45.7 43.6 49.5 44.1 48.2 47 43.6 49.9 40.7 52.9 35.9 55.8 31.4 55.8 32.6 58.7 33.7 61.7 35.1 64.6 38.1 65 37.6 67.5 35.3 70.5 34.2 73.4 31.2 76.3 28.5 79.3 27.5 82.2 28.1 85.1 29.2 86 30.8 88.1 29.7 91 29 93.9 29.9 96.9 31.8 99.8 34.3 102.7 38.2 105.7 40.2 108.6 42.7 111.5 46.6 114.5 48.5 117.4 51 120.3 55 122.4 56.1 122.4 70 120.3 67.6 117.4 65.4 114.5 62.4 111.5 59.2 108.6 57 105.7 54 102.7 50.8 99.8 48.6 96.9 45.7 93.9 42.5 91 43.4 88.1 43.5 86 43.4 85.1 43.6 82.2 41.9 79.3 40.1 76.3 42.9 73.4 45 70.5 46.8 67.5 49.7 65 51.4 64.6 50.7 61.7 49.5 58.7 47.4 55.8 45.2 55.8 45.8 52.9 49.7 49.9 53.4 47 58.1 44.1 61.9 43.6 62.1 41.1 60.2 38.2 57 35.3 53.7 34.8 53.9 32.3 57.4 29.4 61.4 26.5 66.4 23.5 70.6 21.4 73.4 20.6 73.1 17.7 69.9 14.7 66.6 11.8 64.3 11.4 63.6 8.9 70 6.4 77.4 5.9 81.7Z" fill="#ff7f0e" fill-opacity="0.24" stroke="#ff7f0e" stroke-opacity="0.3" stroke-width="1.2" shape-rendering="crispEdges"/></svg><path d="M1928.5 214.5V298.8M1942.5 214.5V298.8M1972.5 214.5V298.8M1986.5 214.5V298.8" stroke="#bdbdbd" stroke-width="1"/><use href="#gr" transform="translate(1893.5,214.5)"/><svg x="1893.5" y="214.5" width="127.8" height="84.3" overflow="hidden"><path d="M5.1 84.3 6.4 70.2 11.4 56.8 21.4 66.9 34.8 46.8 43.6 55.6 55.8 38.7 65 44.5 79.3 33.6 86 36.9 93.9 36 122.8 63.5" fill="none" stroke="#fff" stroke-width="11.2" stroke-linejoin="round"/><path d="M5.1 84.3 6.4 70.2 11.4 56.8 21.4 66.9 34.8 46.8 43.6 55.6 55.8 38.7 65 44.5 79.3 33.6 86 36.9 93.9 36 122.8 63.5" fill="none" stroke="#000" stroke-width="9.6" stroke-linejoin="round" shape-rendering="crispEdges"/></svg><use href="#fr" transform="translate(1893.5,214.5)"/>
<text x="1955.9" y="200" font-size="53.33" text-anchor="middle">132</text>
<svg x="2072.95" y="214.5" width="127.8" height="84.3" overflow="hidden"><path d="M5.9 66.7 6.4 62.3 8.9 57.2 11.4 49.6 11.8 50.3 14.7 54.4 17.7 56 20.6 59.3 22.3 62.1 23.5 58.6 26.5 54.1 29.4 50.3 32.3 44 35.3 39.5 35.7 39.9 38.2 40.7 41.1 43.7 44.1 47.2 45.7 47.3 47 46.1 49.9 43.4 52.9 38.2 55.8 34.9 58.7 32.1 60.4 28.5 61.7 30 64.6 33.1 67.5 33.9 69.2 35.7 70.5 35.7 73.4 32.1 76.3 30.4 79.3 29.1 82.2 25.5 82.6 25.8 85.1 28.9 88.1 30 91 33.1 93.9 36.6 96.9 37.7 99.8 40.9 102.7 44.3 105.7 45.4 108.6 48.6 111.5 52 114.5 52.8 117.4 55.6 120.3 58.6 121.6 58.1 122.4 59.4 122.4 76.3 121.6 75.9 120.3 74.1 117.4 71.9 114.5 69.7 111.5 66.4 108.6 64.2 105.7 61.9 102.7 58.6 99.8 56.5 96.9 54.2 93.9 50.9 91 48.7 88.1 46.5 85.1 43.2 82.6 41.4 82.2 42 79.3 43.4 76.3 46.1 73.4 48.5 70.5 50 69.2 51.4 67.5 50.3 64.6 47.4 61.7 45.7 60.4 45 58.7 46.4 55.8 50.6 52.9 54.6 49.9 57.6 47 61.9 45.7 63.7 44.1 61.5 41.1 59.4 38.2 57 35.7 54.1 35.3 55.3 32.3 60.4 29.4 64.5 26.5 69.9 23.5 74.9 22.3 76.3 20.6 75.1 17.7 72.3 14.7 68.6 11.8 66.2 11.4 65.9 8.9 71.4 6.4 78.1 5.9 82.9Z" fill="#1f77b4" fill-opacity="0.3" stroke="#1f77b4" stroke-opacity="0.4" stroke-width="1.4" shape-rendering="crispEdges"/><path d="M5.9 67.7 6.4 63.2 8.9 58 11.4 50.6 11.8 51.3 14.7 55.2 17.7 57 20.6 60.3 22.3 62.9 23.5 59.6 26.5 55.1 29.4 51.1 32.3 45 35.3 40.5 35.7 40.7 38.2 41.7 41.1 44.6 44.1 48 45.7 48.3 47 47.1 49.9 44.2 52.9 39.2 55.8 35.8 58.7 32.9 60.4 29.6 61.7 30.9 64.6 33.9 67.5 35 69.2 36.6 70.5 36.5 73.4 33.1 76.3 31.4 79.3 29.9 82.2 26.6 82.6 26.7 85.1 29.7 88.1 31 91 34.1 93.9 37.4 96.9 38.8 99.8 41.8 102.7 45.1 105.7 46.5 108.6 49.6 111.5 52.9 114.5 54.2 117.4 57.3 120.3 60.6 121.6 60.5 122.4 61.7 122.4 75.4 121.6 75 120.3 73.2 117.4 71 114.5 68.7 111.5 65.5 108.6 63.3 105.7 60.9 102.7 57.8 99.8 55.5 96.9 53.2 93.9 50 91 47.8 88.1 45.5 85.1 42.3 82.6 40.5 82.2 41 79.3 42.6 76.3 45.1 73.4 47.5 70.5 49.1 69.2 50.4 67.5 49.4 64.6 46.5 61.7 44.7 60.4 44 58.7 45.5 55.8 49.7 52.9 53.6 49.9 56.8 47 60.9 45.7 62.7 44.1 60.6 41.1 58.5 38.2 56.1 35.7 53.2 35.3 54.4 32.3 59.4 29.4 63.7 26.5 68.9 23.5 73.9 22.3 75.4 20.6 74.2 17.7 71.3 14.7 67.8 11.8 65.2 11.4 64.9 8.9 70.5 6.4 77.2 5.9 82Z" fill="#ff7f0e" fill-opacity="0.24" stroke="#ff7f0e" stroke-opacity="0.3" stroke-width="1.2" shape-rendering="crispEdges"/></svg><path d="M2092.5 214.5V298.8M2122.5 214.5V298.8M2166.5 214.5V298.8M2180.5 214.5V298.8" stroke="#bdbdbd" stroke-width="1"/><use href="#gr" transform="translate(2072.95,214.5)"/><svg x="2072.95" y="214.5" width="127.8" height="84.3" overflow="hidden"><path d="M5.1 84.3 6.4 70.2 11.4 57.9 22.3 69 35.7 46.8 45.7 55.6 60.4 36.9 69.2 43.6 82.6 33.6 121.6 67.9 122.4 68.6" fill="none" stroke="#fff" stroke-width="11.2" stroke-linejoin="round"/><path d="M5.1 84.3 6.4 70.2 11.4 57.9 22.3 69 35.7 46.8 45.7 55.6 60.4 36.9 69.2 43.6 82.6 33.6 121.6 67.9 122.4 68.6" fill="none" stroke="#000" stroke-width="9.6" stroke-linejoin="round" shape-rendering="crispEdges"/></svg><use href="#fr" transform="translate(2072.95,214.5)"/>
<text x="2135.35" y="200" font-size="53.33" text-anchor="middle">144</text>
<text transform="translate(2220.5,255.15) rotate(90)" font-size="53.33" text-anchor="middle">0.01</text>
<svg x="278.45" y="332.4" width="127.8" height="84.3" overflow="hidden"><path d="M5.9 65.5 6.4 61.3 8.9 52.1 9.3 49.1 11.8 49.8 14.7 49.9 17.7 48.2 20.6 48.9 22.7 49 23.5 48.2 26.5 50.3 29.4 51.1 32.3 50.1 34.4 51.6 35.3 50.9 38.2 46.4 41.1 46.3 44.1 45.5 47 43.2 47 44.3 49.9 44.1 52.9 42.2 55.8 42.8 58.7 42.5 61.7 40.7 63.8 41.5 64.6 41.3 67.5 38.8 70.5 38.8 73.4 37.8 76.3 35.3 79.3 35.3 80.5 34.9 82.2 33 85.1 33.2 88.1 32.2 91 30.6 93.9 31.7 96.9 31.8 99.4 30.4 99.8 31.7 102.7 31.7 105.7 30.5 108.6 31.7 111.5 31.8 114.5 30.5 117.4 31.8 120.3 31.9 122.4 30.6 122.4 51.6 120.3 51.1 117.4 51.5 114.5 52.4 111.5 52.1 108.6 52.5 105.7 53.4 102.7 53.1 99.8 53.5 99.4 54.1 96.9 53.8 93.9 54.3 91 55.3 88.1 55 85.1 55.5 82.2 56.5 80.5 56.1 79.3 56.4 76.3 57.5 73.4 57.4 70.5 58 67.5 59.1 64.6 59 63.8 59.3 61.7 60.6 58.7 60.9 55.8 62 52.9 63.6 49.9 64 47 65.1 47 65.6 44.1 66.5 41.1 68.1 38.2 70.1 35.3 71 34.4 71.5 32.3 70.7 29.4 68.1 26.5 66.3 23.5 64.9 22.7 63.6 20.6 64 17.7 64.9 14.7 64.5 11.8 65 9.3 65.7 8.9 66.6 6.4 76.5 5.9 82.1Z" fill="#1f77b4" fill-opacity="0.3" stroke="#1f77b4" stroke-opacity="0.4" stroke-width="1.4" shape-rendering="crispEdges"/><path d="M5.9 66.5 6.4 62.2 8.9 52.9 9.3 50.1 11.8 50.7 14.7 50.7 17.7 49.2 20.6 49.8 22.7 49.3 23.5 48.5 26.5 50.5 29.4 51.9 32.3 51.9 34.4 53.6 35.3 53.1 38.2 49.5 41.1 49.2 44.1 48.3 47 46.1 47 47.1 49.9 46.7 52.9 45 55.8 45.3 58.7 44.9 61.7 43.2 63.8 43.8 64.6 43.7 67.5 41.9 70.5 42.2 73.4 41.7 76.3 39.8 79.3 40.2 80.5 40 82.2 38.6 85.1 39 88.1 38.6 91 36.9 93.9 37.4 96.9 36.9 99.4 35.4 99.8 36.3 102.7 35.9 105.7 34.4 108.6 34.9 111.5 34.5 114.5 33 117.4 33.5 120.3 33.1 122.4 31.7 122.4 51.3 120.3 50.9 117.4 51.2 114.5 52 111.5 51.7 108.6 52 105.7 52.8 102.7 52.5 99.8 52.8 99.4 53.3 96.9 53.1 93.9 53.5 91 54.3 88.1 54.1 85.1 54.5 82.2 55.3 80.5 55 79.3 55.2 76.3 56.2 73.4 56.1 70.5 56.7 67.5 57.7 64.6 57.6 63.8 57.8 61.7 58.9 58.7 59.3 55.8 60.4 52.9 61.8 49.9 62.3 47 63.6 47 64 44.1 65.1 41.1 66.9 38.2 69 35.3 70 34.4 70.6 32.3 69.7 29.4 67.2 26.5 65.4 23.5 63.9 22.7 62.8 20.6 63.1 17.7 63.9 14.7 63.6 11.8 64 9.3 64.7 8.9 65.8 6.4 75.6 5.9 81.1Z" fill="#ff7f0e" fill-opacity="0.24" stroke="#ff7f0e" stroke-opacity="0.3" stroke-width="1.2" shape-rendering="crispEdges"/></svg><path d="M298.5 332.4V416.7M313.5 332.4V416.7M357.5 332.4V416.7M386.5 332.4V416.7" stroke="#bdbdbd" stroke-width="1"/><use href="#gr" transform="translate(278.45,332.4)"/><svg x="278.45" y="332.4" width="127.8" height="84.3" overflow="hidden"><path d="M5.1 84.3 6.4 68.8 9.3 57.6 22.7 56.2 34.4 63.9 47 56.9 63.8 50.3 80.5 46.4 99.4 42.9 122.4 39.2" fill="none" stroke="#fff" stroke-width="11.2" stroke-linejoin="round"/><path d="M5.1 84.3 6.4 68.8 9.3 57.6 22.7 56.2 34.4 63.9 47 56.9 63.8 50.3 80.5 46.4 99.4 42.9 122.4 39.2" fill="none" stroke="#000" stroke-width="9.6" stroke-linejoin="round" shape-rendering="crispEdges"/></svg><use href="#fr" transform="translate(278.45,332.4)"/>
<text x="241.45" y="432.3" font-size="44.44" text-anchor="end">0</text>
<text x="241.45" y="390.15" font-size="44.44" text-anchor="end">3</text>
<text x="241.45" y="348" font-size="44.44" text-anchor="end">6</text>
<svg x="457.9" y="332.4" width="127.8" height="84.3" overflow="hidden"><path d="M5.9 65.5 6.4 61.8 8.9 52.2 9.7 48.4 11.8 49.8 14.7 49 17.7 48.1 20.6 49.4 23.5 48.6 25.6 47.7 26.5 49.9 29.4 51.6 32.3 53.3 34.4 56.5 35.3 55.1 38.2 51.8 41.1 50.7 44.1 47.5 46.2 44.9 47 46.1 49.9 44.1 52.9 42.2 55.8 42.4 58.7 40.5 60.8 38.9 61.7 40.7 64.6 41 67.5 41.3 70.5 43.8 72.6 43.7 73.4 42.8 76.3 43.5 79.3 41.9 82.2 40.5 85.1 41.1 88.1 39.5 91 38.1 93.9 38.7 96.4 37.2 96.9 36.5 99.8 37.3 102.7 35.8 105.7 34.5 108.6 35.3 111.5 33.7 114.5 32.5 117.4 33.3 120.3 31.7 122.4 30.7 122.4 50 120.3 50.2 117.4 50.3 114.5 51.6 111.5 51.9 108.6 52.1 105.7 53.4 102.7 53.7 99.8 53.9 96.9 55.2 96.4 55 93.9 55.2 91 56.6 88.1 57 85.1 57.3 82.2 58.8 79.3 59.2 76.3 59.5 73.4 61 72.6 60.9 70.5 59.7 67.5 59.3 64.6 57.9 61.7 56.4 60.8 56.8 58.7 57.4 55.8 58.2 52.9 60.1 49.9 61 47 61.8 46.2 63.1 44.1 65.1 41.1 68.1 38.2 72.1 35.3 75.1 34.4 75.7 32.3 75.3 29.4 72.1 26.5 68.5 25.6 68.4 23.5 67.5 20.6 66.5 17.7 66.6 14.7 65.5 11.8 64.6 9.7 65 8.9 67.6 6.4 76.2 5.9 82.1Z" fill="#1f77b4" fill-opacity="0.3" stroke="#1f77b4" stroke-opacity="0.4" stroke-width="1.4" shape-rendering="crispEdges"/><path d="M5.9 66.6 6.4 62.6 8.9 53.1 9.7 49.5 11.8 50.6 14.7 49.9 17.7 49.1 20.6 50.2 23.5 49.5 25.6 48.8 26.5 50.7 29.4 52.6 32.3 54.3 34.4 57.3 35.3 56 38.2 52.8 41.1 51.5 44.1 48.4 46.2 46 47 46.9 49.9 45 52.9 43.2 55.8 43.2 58.7 41.4 60.8 40 61.7 41.5 64.6 41.9 67.5 42.4 70.5 44.8 72.6 44.9 73.4 44.1 76.3 44.6 79.3 43.2 82.2 41.9 85.1 42.4 88.1 41 91 39.8 93.9 40.3 96.4 38.8 96.9 38.3 99.8 38.8 102.7 37.4 105.7 36.3 108.6 36.9 111.5 35.4 114.5 34.3 117.4 34.9 120.3 33.5 122.4 32.6 122.4 48.2 120.3 48.4 117.4 48.6 114.5 49.8 111.5 50.2 108.6 50.4 105.7 51.6 102.7 52 99.8 52.2 96.9 53.4 96.4 53.3 93.9 53.5 91 54.9 88.1 55.3 85.1 55.7 82.2 57 79.3 57.5 76.3 57.9 73.4 59.2 72.6 59.1 70.5 58 67.5 57.5 64.6 56.2 61.7 54.8 60.8 55.1 58.7 55.6 55.8 56.5 52.9 58.3 49.9 59.3 47 60.2 46.2 61.3 44.1 63.2 41.1 66 38.2 69.7 35.3 72.5 34.4 73.1 32.3 72.4 29.4 69.4 26.5 66 25.6 65.8 23.5 65.1 20.6 64.3 17.7 64.5 14.7 63.6 11.8 63.3 9.7 64 8.9 66.7 6.4 75.4 5.9 81.1Z" fill="#ff7f0e" fill-opacity="0.24" stroke="#ff7f0e" stroke-opacity="0.3" stroke-width="1.2" shape-rendering="crispEdges"/></svg><path d="M492.5 332.4V416.7M507.5 332.4V416.7M536.5 332.4V416.7M551.5 332.4V416.7" stroke="#bdbdbd" stroke-width="1"/><use href="#gr" transform="translate(457.9,332.4)"/><svg x="457.9" y="332.4" width="127.8" height="84.3" overflow="hidden"><path d="M5.1 84.3 6.4 68.8 9.7 56.9 25.6 56.2 34.4 63.5 46.2 53.4 60.8 47.3 72.6 51.7 96.4 45.8 122.8 40.4" fill="none" stroke="#fff" stroke-width="11.2" stroke-linejoin="round"/><path d="M5.1 84.3 6.4 68.8 9.7 56.9 25.6 56.2 34.4 63.5 46.2 53.4 60.8 47.3 72.6 51.7 96.4 45.8 122.8 40.4" fill="none" stroke="#000" stroke-width="9.6" stroke-linejoin="round" shape-rendering="crispEdges"/></svg><use href="#fr" transform="translate(457.9,332.4)"/>
<svg x="637.35" y="332.4" width="127.8" height="84.3" overflow="hidden"><path d="M5.9 65.9 6.4 62 8.9 53.7 11 48.1 11.8 49.4 14.7 48.5 17.7 49.1 20.6 50.6 23.5 49.7 26.5 50.3 29.4 51.8 31.5 50.8 32.3 50.6 35.3 50.4 38.2 47.7 41.1 46.6 44.1 46.4 47 43.7 47 44 49.9 44 52.9 41.5 55.8 40.7 58.7 40.8 61.7 38.3 63.8 37.8 64.6 38.8 67.5 37 70.5 36.9 73.4 37.5 76.3 35.7 79.3 35.6 82.2 36.2 85.1 34.4 88.1 34.4 91 35 93.1 33.2 93.9 33.5 96.9 34 99.8 32 102.7 31.9 105.7 32.4 108.6 30.5 111.5 30.4 114.5 30.8 117.4 28.9 119.9 28.9 120.3 29.9 122.4 28.7 122.4 46.5 120.3 45.6 119.9 46 117.4 46.7 114.5 46.5 111.5 47.5 108.6 48.3 105.7 48.1 102.7 49.1 99.8 49.8 96.9 49.6 93.9 50.7 93.1 51 91 50.6 88.1 51.5 85.1 52.2 82.2 51.9 79.3 52.8 76.3 53.4 73.4 53.1 70.5 54.4 67.5 55.5 64.6 55.7 63.8 56.5 61.7 57.7 58.7 58.6 55.8 60.7 52.9 62.5 49.9 63.3 47 65.5 47 65.6 44.1 65.6 41.1 66.8 38.2 67.5 35.3 67.5 32.3 68.7 31.5 69 29.4 67.5 26.5 67 23.5 66 20.6 64.8 17.7 65 14.7 64.7 11.8 63.6 11 64.1 8.9 69.9 6.4 76.2 5.9 81.9Z" fill="#1f77b4" fill-opacity="0.3" stroke="#1f77b4" stroke-opacity="0.4" stroke-width="1.4" shape-rendering="crispEdges"/><path d="M5.9 66.9 6.4 62.7 8.9 54.7 11 49.1 11.8 50.2 14.7 49.5 17.7 50 20.6 51.4 23.5 50.7 26.5 51.3 29.4 52.6 31.5 51.8 32.3 51.6 35.3 51.2 38.2 48.7 41.1 47.6 44.1 47.2 47 44.7 47 45 49.9 44.8 52.9 42.6 55.8 41.7 58.7 41.5 61.7 39.3 63.8 38.8 64.6 39.6 67.5 38 70.5 37.8 73.4 38.3 76.3 36.7 79.3 36.6 82.2 37 85.1 35.4 88.1 35.3 91 35.8 93.1 34.3 93.9 34.5 96.9 34.8 99.8 33.1 102.7 32.9 105.7 33.2 108.6 31.5 111.5 31.3 114.5 31.6 117.4 29.9 119.9 29.9 120.3 30.7 122.4 29.7 122.4 44.1 120.3 43.3 119.9 43.7 117.4 44.3 114.5 44.2 111.5 45.2 108.6 45.9 105.7 45.8 102.7 46.7 99.8 47.4 96.9 47.4 93.9 48.3 93.1 48.6 91 48.3 88.1 49.2 85.1 49.8 82.2 49.7 79.3 50.6 76.3 51.3 73.4 51.2 70.5 52.2 67.5 52.9 64.6 52.8 63.8 53.4 61.7 54.4 58.7 55 55.8 56.6 52.9 57.9 49.9 58.5 47 60.1 47 60.2 44.1 60.6 41.1 62 38.2 63.1 35.3 63.8 32.3 65.6 31.5 66 29.4 65.2 26.5 65.3 23.5 64.9 20.6 64 17.7 64.1 14.7 63.7 11.8 62.8 11 63.1 8.9 69 6.4 75.3 5.9 80.9Z" fill="#ff7f0e" fill-opacity="0.24" stroke="#ff7f0e" stroke-opacity="0.3" stroke-width="1.2" shape-rendering="crispEdges"/></svg><path d="M657.5 332.4V416.7M672.5 332.4V416.7M730.5 332.4V416.7M745.5 332.4V416.7" stroke="#bdbdbd" stroke-width="1"/><use href="#gr" transform="translate(637.35,332.4)"/><svg x="637.35" y="332.4" width="127.8" height="84.3" overflow="hidden"><path d="M5.1 84.3 6.4 68.8 11 56.2 31.5 59 47 52 63.8 45.8 93.1 41.6 119.9 36.8 122.4 37" fill="none" stroke="#fff" stroke-width="11.2" stroke-linejoin="round"/><path d="M5.1 84.3 6.4 68.8 11 56.2 31.5 59 47 52 63.8 45.8 93.1 41.6 119.9 36.8 122.4 37" fill="none" stroke="#000" stroke-width="9.6" stroke-linejoin="round" shape-rendering="crispEdges"/></svg><use href="#fr" transform="translate(637.35,332.4)"/>
<svg x="816.8" y="332.4" width="127.8" height="84.3" overflow="hidden"><path d="M5.9 66.5 6.4 61.7 8.9 50.7 9.3 50.1 11.8 52 14.7 52.3 16.8 54.6 17.7 54.7 20.6 52.5 23.5 52.8 26.5 52.3 29.4 50.1 32.3 50.4 35.3 49.9 38.2 47.8 38.6 48.8 41.1 48.3 44.1 46.2 47 46.5 49.9 46 52.9 43.9 55.8 44.2 58.7 43.6 60.8 41.7 61.7 42.6 64.6 41.8 67.5 39.4 70.5 39.4 73.4 37.9 76.3 34.8 79.3 34.3 82.2 32.8 85.1 29.7 88.1 29.2 91 27.8 93.1 26.1 93.9 27.4 96.9 28 99.8 27.1 102.7 28.8 105.7 29.3 107.8 28.4 108.6 30 111.5 31.2 114.5 31.2 117.4 33.7 120.3 35 121.2 34.1 122.4 36.3 122.4 62.3 121.2 61.5 120.3 60.1 117.4 57.6 114.5 55.7 111.5 52.6 108.6 50.1 107.8 50 105.7 48.1 102.7 47.9 99.8 48.3 96.9 47.5 93.9 47.3 93.1 47.9 91 47.8 88.1 48.7 85.1 50.1 82.2 50.4 79.3 51.5 76.3 53.1 73.4 53.4 70.5 54.5 67.5 56.1 64.6 56.5 61.7 57.6 60.8 58.4 58.7 58.3 55.8 59.2 52.9 61 49.9 61.6 47 63 44.1 64.8 41.1 65.4 38.6 66.6 38.2 67.4 35.3 68.4 32.3 70.2 29.4 72.4 26.5 73.4 23.5 75.2 20.6 77.4 17.7 75.9 16.8 75.6 14.7 73.1 11.8 68.1 9.3 65.2 8.9 67.3 6.4 76.3 5.9 81.6Z" fill="#1f77b4" fill-opacity="0.3" stroke="#1f77b4" stroke-opacity="0.4" stroke-width="1.4" shape-rendering="crispEdges"/><path d="M5.9 67.4 6.4 62.5 8.9 51.7 9.3 51 11.8 52.8 14.7 53.4 16.8 55.5 17.7 55.6 20.6 53.6 23.5 53.7 26.5 53.2 29.4 51.2 32.3 51.3 35.3 50.8 38.2 48.8 38.6 49.6 41.1 49.2 44.1 47.3 47 47.4 49.9 46.8 52.9 44.9 55.8 45.1 58.7 44.5 60.8 42.7 61.7 43.3 64.6 42.2 67.5 39.9 70.5 39.6 73.4 38.5 76.3 36.1 79.3 35.9 82.2 34.7 85.1 32.4 88.1 32.1 91 31.1 93.1 29.5 93.9 30.6 96.9 31 99.8 30.3 102.7 31.7 105.7 32 107.8 31.2 108.6 32.6 111.5 33.8 114.5 33.5 117.4 35.4 120.3 36.2 121.2 35.3 122.4 37.1 122.4 55.1 121.2 54.9 120.3 54.1 117.4 53.1 114.5 52.6 111.5 51.1 108.6 50.2 107.8 50.4 105.7 49.8 102.7 49.6 99.8 49.9 96.9 49.2 93.9 49.1 93.1 49.6 91 49.6 88.1 50.5 85.1 51.8 82.2 52.1 79.3 53 76.3 54.3 73.4 54.6 70.5 55.5 67.5 56.8 64.6 57.1 61.7 58 60.8 58.8 58.7 58.6 55.8 59.3 52.9 60.4 49.9 60.4 47 61.1 44.1 62.2 41.1 62.3 38.6 62.9 38.2 63.6 35.3 64.6 32.3 66.2 29.4 68.3 26.5 69.2 23.5 70.9 20.6 72.9 17.7 72.1 16.8 71.9 14.7 69.8 11.8 65.7 9.3 64.3 8.9 66.4 6.4 75.4 5.9 80.7Z" fill="#ff7f0e" fill-opacity="0.24" stroke="#ff7f0e" stroke-opacity="0.3" stroke-width="1.2" shape-rendering="crispEdges"/></svg><path d="M851.5 332.4V416.7M866.5 332.4V416.7M910.5 332.4V416.7M924.5 332.4V416.7" stroke="#bdbdbd" stroke-width="1"/><use href="#gr" transform="translate(816.8,332.4)"/><svg x="816.8" y="332.4" width="127.8" height="84.3" overflow="hidden"><path d="M5.1 84.3 6.4 68.8 9.3 57.6 16.8 62.1 38.6 56.2 60.8 50.3 93.1 39.2 107.8 39.2 121.2 42.9 122.4 43.6" fill="none" stroke="#fff" stroke-width="11.2" stroke-linejoin="round"/><path d="M5.1 84.3 6.4 68.8 9.3 57.6 16.8 62.1 38.6 56.2 60.8 50.3 93.1 39.2 107.8 39.2 121.2 42.9 122.4 43.6" fill="none" stroke="#000" stroke-width="9.6" stroke-linejoin="round" shape-rendering="crispEdges"/></svg><use href="#fr" transform="translate(816.8,332.4)"/>
<svg x="996.25" y="332.4" width="127.8" height="84.3" overflow="hidden"><path d="M5.9 67.9 6.4 62.6 8.9 53.3 9.7 52 11.8 52.7 14.7 53.7 16.8 56.5 17.7 55 20.6 51.2 22.7 50.6 23.5 50.4 26.5 51.5 29.4 54.8 32.3 52.6 35.3 50.4 37.8 50.6 38.2 50 41.1 50.1 44.1 52.5 44.9 52 47 50.3 49.9 50.4 52.9 48.2 55.4 46.4 55.8 47.5 58.7 44.7 61.7 41.9 63.8 41.9 64.6 41 67.5 40 70.5 41 72.1 40 73.4 38.7 76.3 38.7 79.3 36.1 81.8 34 82.2 35.4 85.1 34.5 88.1 33.9 88.9 35.4 91 32.9 93.9 30.2 96.9 29.4 99.4 26.8 99.8 26.3 102.7 28 105.7 27.4 108.2 27.1 108.6 28.6 111.5 28 114 27.8 114.5 29.4 117.4 29.8 120.3 30.7 122.4 33.1 122.4 57.2 120.3 57.2 117.4 55.8 114.5 54.3 114 54.9 111.5 54.6 108.6 54.1 108.2 54.8 105.7 54.5 102.7 54.1 99.8 54.8 99.4 54.5 96.9 56 93.9 59 91 61 88.9 62.1 88.1 63 85.1 63.2 82.2 63.2 81.8 64 79.3 65.6 76.3 67.4 73.4 70.4 72.1 71 70.5 71.2 67.5 73.1 64.6 71.6 63.8 70.6 61.7 71 58.7 70.2 55.8 69.4 55.4 70.1 52.9 68.7 49.9 67.2 47 66.8 44.9 67.4 44.1 66.8 41.1 66.7 38.2 65.5 37.8 65 35.3 67 32.3 68.1 29.4 69.2 26.5 68.1 23.5 65.8 22.7 65 20.6 67.8 17.7 70.4 16.8 70.9 14.7 70.3 11.8 68 9.7 66.4 8.9 69.9 6.4 77.9 5.9 82.3Z" fill="#1f77b4" fill-opacity="0.3" stroke="#1f77b4" stroke-opacity="0.4" stroke-width="1.4" shape-rendering="crispEdges"/><path d="M5.9 68.7 6.4 63.5 8.9 54.4 9.7 52.8 11.8 53.6 14.7 54.8 16.8 57.3 17.7 55.9 20.6 52.3 22.7 51.4 23.5 51.4 26.5 52.6 29.4 55.6 32.3 53.6 35.3 51.5 37.8 51.4 38.2 50.9 41.1 51.2 44.1 53.3 44.9 52.9 47 51.3 49.9 51.2 52.9 49.2 55.4 47.4 55.8 48.3 58.7 45.6 61.7 43 63.8 42.7 64.6 41.9 67.5 41 70.5 41.8 72.1 40.9 73.4 39.8 76.3 39.5 79.3 37.3 81.8 35.5 82.2 36.7 85.1 36.3 88.1 36 88.9 37.2 91 35 93.9 32.5 96.9 31.7 99.4 29.2 99.8 28.8 102.7 30.3 105.7 29.9 108.2 29.7 108.6 31 111.5 30.5 114 30.4 114.5 31.8 117.4 32.3 120.3 33.3 122.4 35.5 122.4 51.8 120.3 51.4 117.4 49.9 114.5 48.2 114 48.6 111.5 48.2 108.6 47.5 108.2 48.1 105.7 47.7 102.7 47 99.8 47.4 99.4 47.1 96.9 48.5 93.9 51.1 91 52.9 88.9 54 88.1 54.6 85.1 54.2 82.2 53.6 81.8 54.2 79.3 55.4 76.3 56.6 73.4 58.9 72.1 59.3 70.5 59.3 67.5 60.4 64.6 59.9 63.8 59.4 61.7 60.8 58.7 61.7 55.8 62.5 55.4 63.3 52.9 63.4 49.9 63.8 47 65.8 44.9 66.5 44.1 66 41.1 65.7 38.2 64.5 37.8 64.1 35.3 66 32.3 67.1 29.4 68.3 26.5 67.1 23.5 64.9 22.7 64.1 20.6 66.8 17.7 69.4 16.8 70 14.7 69.3 11.8 67.1 9.7 65.5 8.9 68.9 6.4 77 5.9 81.4Z" fill="#ff7f0e" fill-opacity="0.24" stroke="#ff7f0e" stroke-opacity="0.3" stroke-width="1.2" shape-rendering="crispEdges"/></svg><path d="M1016.5 332.4V416.7M1045.5 332.4V416.7M1104.5 332.4V416.7" stroke="#bdbdbd" stroke-width="1"/><use href="#gr" transform="translate(996.25,332.4)"/><svg x="996.25" y="332.4" width="127.8" height="84.3" overflow="hidden"><path d="M5.1 84.3 6.4 70.2 9.7 59 16.8 63.5 22.7 57.6 29.4 61.8 37.8 57.6 44.9 59.7 55.4 54.8 63.8 48.9 72.1 47.8 81.8 42.9 88.9 43.6 99.4 36.8 108.2 37.9 114 38.7 122.4 42.9" fill="none" stroke="#fff" stroke-width="11.2" stroke-linejoin="round"/><path d="M5.1 84.3 6.4 70.2 9.7 59 16.8 63.5 22.7 57.6 29.4 61.8 37.8 57.6 44.9 59.7 55.4 54.8 63.8 48.9 72.1 47.8 81.8 42.9 88.9 43.6 99.4 36.8 108.2 37.9 114 38.7 122.4 42.9" fill="none" stroke="#000" stroke-width="9.6" stroke-linejoin="round" shape-rendering="crispEdges"/></svg><use href="#fr" transform="translate(996.25,332.4)"/>
<svg x="1175.7" y="332.4" width="127.8" height="84.3" overflow="hidden"><path d="M5.9 67.1 6.4 60.6 8.9 51.3 9.7 49.3 11.8 50.1 14.7 53.3 16.8 56.6 17.7 54.6 20.6 52.3 23.5 51 25.6 48 26.5 48.7 29.4 51.8 32.3 52.4 34.4 54.1 35.3 53.3 38.2 45.3 40.3 40.9 41.1 42.1 44.1 41.2 47 42 49.1 43.4 49.9 41.2 52.9 38.5 55 37.5 55.8 36.6 58.7 38.7 61.7 41.5 62.5 40.6 64.6 38.1 67.5 35.1 69.6 30.9 70.5 31.4 73.4 32.8 76.3 31.9 77.2 32.4 79.3 31.3 82.2 26.9 83 26.5 85.1 27.7 88.1 26.6 91 27.4 93.1 28.6 93.9 27.6 96.9 28.2 99.8 28.5 102.7 26.4 105.2 26.4 105.7 27.4 108.6 26.5 111.5 27.6 114.5 29.1 117.4 28.2 120.3 29.3 122.4 30.6 122.4 73.7 120.3 71.4 117.4 67.8 114.5 63.2 111.5 59.8 108.6 56.2 105.7 51.6 105.2 51.5 102.7 49.5 99.8 46.2 96.9 45.2 93.9 44 93.1 42.9 91 43.1 88.1 43 85.1 42 83 42.2 82.2 43.3 79.3 45.5 77.2 48.2 76.3 48.2 73.4 47.1 70.5 47.1 69.6 47.2 67.5 49.4 64.6 53.9 62.5 56.9 61.7 55.7 58.7 54.5 55.8 52.9 55 51.7 52.9 54.4 49.9 57.5 49.1 57.6 47 57.8 44.1 57.5 41.1 56.3 40.3 56.8 38.2 61.6 35.3 67.5 34.4 70 32.3 68.7 29.4 66 26.5 64.6 25.6 64.2 23.5 65.2 20.6 68.3 17.7 70.8 16.8 70.8 14.7 69.3 11.8 66.3 9.7 63.5 8.9 67.3 6.4 76.8 5.9 81.3Z" fill="#1f77b4" fill-opacity="0.3" stroke="#1f77b4" stroke-opacity="0.4" stroke-width="1.4" shape-rendering="crispEdges"/><path d="M5.9 67.9 6.4 61.6 8.9 52.3 9.7 50.1 11.8 51.1 14.7 54.3 16.8 57.4 17.7 55.6 20.6 53.3 23.5 51.8 25.6 49 26.5 49.7 29.4 52.6 32.3 53.5 34.4 55.1 35.3 54.1 38.2 46.4 40.3 41.9 41.1 42.9 44.1 42.2 47 42.9 49.1 44.2 49.9 42.2 52.9 39.5 55 38.3 55.8 37.6 58.7 39.6 61.7 42.3 62.5 41.6 64.6 39 67.5 35.9 69.6 31.9 70.5 32.3 73.4 33.6 76.3 32.9 77.2 33.4 79.3 32.1 82.2 27.9 83 27.4 85.1 28.5 88.1 27.6 91 28.4 93.1 29.4 93.9 28.6 96.9 30.3 99.8 31.1 102.7 29.8 105.2 30.1 105.7 31.1 108.6 31 111.5 32.5 114.5 34.4 117.4 34.3 120.3 35.9 122.4 37.5 122.4 67.4 120.3 65.4 117.4 62.3 114.5 58.3 111.5 55.3 108.6 52.2 105.7 48.4 105.2 48.4 102.7 47.4 99.8 45.3 96.9 44.3 93.9 43 93.1 42 91 42.2 88.1 42 85.1 41.1 83 41.3 82.2 42.3 79.3 44.7 77.2 47.2 76.3 47.3 73.4 46.2 70.5 46.2 69.6 46.2 67.5 48.5 64.6 52.9 62.5 55.9 61.7 54.9 58.7 53.5 55.8 51.9 55 50.9 52.9 53.4 49.9 56.5 49.1 56.8 47 56.9 44.1 56.5 41.1 55.5 40.3 55.8 38.2 60.6 35.3 66.7 34.4 69 32.3 67.7 29.4 65.2 26.5 63.7 25.6 63.2 23.5 64.4 20.6 67.3 17.7 69.8 16.8 70 14.7 68.3 11.8 65.4 9.7 62.7 8.9 66.3 6.4 75.8 5.9 80.4Z" fill="#ff7f0e" fill-opacity="0.24" stroke="#ff7f0e" stroke-opacity="0.3" stroke-width="1.2" shape-rendering="crispEdges"/></svg><path d="M1195.5 332.4V416.7M1210.5 332.4V416.7M1269.5 332.4V416.7M1283.5 332.4V416.7" stroke="#bdbdbd" stroke-width="1"/><use href="#gr" transform="translate(1175.7,332.4)"/><svg x="1175.7" y="332.4" width="127.8" height="84.3" overflow="hidden"><path d="M5.1 84.3 6.4 68.8 9.7 56.2 16.8 63.5 25.6 56.2 34.4 62.1 40.3 48.9 49.1 50.3 55 44.4 62.5 48.9 69.6 39.2 77.2 40.3 83 34.4 93.1 35.5 105.2 41.6 122.8 57.6" fill="none" stroke="#fff" stroke-width="11.2" stroke-linejoin="round"/><path d="M5.1 84.3 6.4 68.8 9.7 56.2 16.8 63.5 25.6 56.2 34.4 62.1 40.3 48.9 49.1 50.3 55 44.4 62.5 48.9 69.6 39.2 77.2 40.3 83 34.4 93.1 35.5 105.2 41.6 122.8 57.6" fill="none" stroke="#000" stroke-width="9.6" stroke-linejoin="round" shape-rendering="crispEdges"/></svg><use href="#fr" transform="translate(1175.7,332.4)"/>
<svg x="1355.15" y="332.4" width="127.8" height="84.3" overflow="hidden"><path d="M5.9 65 6.4 58.5 8.9 50 9.7 47.2 11.8 48.4 14.7 53.1 15.6 54.5 17.7 51.7 20.6 51 23.5 49.4 26.5 46.2 27.3 46.8 29.4 48.2 32.3 48.5 34.8 51.1 35.3 50.7 38.2 44.7 41.1 41.2 43.2 38.1 44.1 37.2 47 40 49.9 41.9 50.8 41 52.9 39.4 55.8 35.8 58.7 30.7 59.6 30.8 61.7 32.1 64.6 32.4 66.7 34.8 67.5 34.2 70.5 30.4 73.4 29.1 76.3 26.7 77.2 24.7 79.3 26.6 82.2 27.6 84.3 27 85.1 27.6 88.1 25.4 90.6 22.2 91 23.3 93.9 22.3 94.8 20.8 96.9 23.6 99.8 26.1 102.7 28 105.7 32.4 108.6 35.6 111.5 37.5 114.5 41.9 117.4 45.1 120.3 47 121.6 49.6 122.4 50.4 122.4 68.1 121.6 67.2 120.3 66.5 117.4 62.7 114.5 59.5 111.5 57 108.6 53.2 105.7 50 102.7 47.5 99.8 43.7 96.9 41.7 94.8 41.3 93.9 41.1 91 42.8 90.6 43.7 88.1 44.9 85.1 47.2 84.3 48.4 82.2 47.1 79.3 46.1 77.2 46 76.3 46.1 73.4 48.6 70.5 51.7 67.5 53.5 66.7 54.3 64.6 53.7 61.7 51.3 59.6 50.2 58.7 51.8 55.8 54.9 52.9 58.8 50.8 62.1 49.9 60.9 47 59.3 44.1 58.2 43.2 57 41.1 60.5 38.2 65.6 35.3 69.6 34.8 70.3 32.3 69.4 29.4 67 27.3 66 26.5 67 23.5 68.2 20.6 70.1 17.7 72.5 15.6 73.1 14.7 72.2 11.8 69.1 9.7 65.8 8.9 69.1 6.4 79.1 5.9 83.5Z" fill="#1f77b4" fill-opacity="0.3" stroke="#1f77b4" stroke-opacity="0.4" stroke-width="1.4" shape-rendering="crispEdges"/><path d="M5.9 66.6 6.4 60.2 8.9 51.6 9.7 48.7 11.8 50.2 14.7 54.7 15.6 56 17.7 53.5 20.6 52.6 23.5 51 26.5 48 27.3 48.4 29.4 49.8 32.3 50.3 34.8 52.7 35.3 52.3 38.2 46.5 41.1 42.8 43.2 39.7 44.1 39 47 41.6 49.9 43.5 50.8 42.8 52.9 41.1 55.8 37.4 58.7 32.5 59.6 32.4 61.7 33.7 64.6 34.2 66.7 36.4 67.5 35.8 70.5 32.2 73.4 30.7 76.3 28.3 77.2 26.5 79.3 28.2 82.2 29.3 84.3 28.9 85.1 29.2 88.1 27 90.6 24 91 24.9 93.9 24.1 94.8 22.8 96.9 25.5 99.8 28.1 102.7 30.2 105.7 34.4 108.6 37.5 111.5 39.7 114.5 43.9 117.4 47 120.3 49.2 121.6 51.6 122.4 52.4 122.4 67.5 121.6 66.6 120.3 65.8 117.4 62.1 114.5 58.9 111.5 56.3 108.6 52.6 105.7 49.4 102.7 46.8 99.8 43.1 96.9 40.9 94.8 40.1 93.9 39.9 91 41.2 90.6 41.9 88.1 43.3 85.1 45.5 84.3 46.7 82.2 45.4 79.3 44.5 77.2 44.3 76.3 44.4 73.4 46.9 70.5 49.9 67.5 51.8 66.7 52.6 64.6 51.9 61.7 49.6 59.6 48.5 58.7 50.1 55.8 53.3 52.9 57.2 50.8 60.3 49.9 59.3 47 57.7 44.1 56.5 43.2 55.4 41.1 58.8 38.2 63.9 35.3 67.9 34.8 68.7 32.3 67.7 29.4 65.4 27.3 64.3 26.5 65.3 23.5 66.5 20.6 68.5 17.7 70.7 15.6 71.5 14.7 70.5 11.8 67.3 9.7 64.1 8.9 67.4 6.4 77.3 5.9 81.9Z" fill="#ff7f0e" fill-opacity="0.24" stroke="#ff7f0e" stroke-opacity="0.3" stroke-width="1.2" shape-rendering="crispEdges"/></svg><path d="M1375.5 332.4V416.7M1433.5 332.4V416.7M1463.5 332.4V416.7" stroke="#bdbdbd" stroke-width="1"/><use href="#gr" transform="translate(1355.15,332.4)"/><svg x="1355.15" y="332.4" width="127.8" height="84.3" overflow="hidden"><path d="M5.1 84.3 6.4 68.8 9.7 56.2 15.6 63.5 27.3 56.2 34.8 60.6 43.2 47.3 50.8 51.7 59.6 40.3 66.7 44.4 77.2 35.5 84.3 37.9 90.6 33.1 94.8 33.1 121.6 62.1 122.4 62.9" fill="none" stroke="#fff" stroke-width="11.2" stroke-linejoin="round"/><path d="M5.1 84.3 6.4 68.8 9.7 56.2 15.6 63.5 27.3 56.2 34.8 60.6 43.2 47.3 50.8 51.7 59.6 40.3 66.7 44.4 77.2 35.5 84.3 37.9 90.6 33.1 94.8 33.1 121.6 62.1 122.4 62.9" fill="none" stroke="#000" stroke-width="9.6" stroke-linejoin="round" shape-rendering="crispEdges"/></svg><use href="#fr" transform="translate(1355.15,332.4)"/>
<svg x="1534.6" y="332.4" width="127.8" height="84.3" overflow="hidden"><path d="M5.9 64.5 6.4 58.5 8.9 50.3 9.3 48.1 11.8 49.3 14.7 53.1 17.7 54.8 18.5 54.7 20.6 54 23.5 50.3 26.5 46.5 28.6 45.8 29.4 45.7 32.3 47.2 35.3 50.9 36.1 50.8 38.2 46.3 41.1 42.6 44.1 36.7 46.2 32.3 47 34.2 49.9 35.2 52.9 36.2 53.7 38.2 55.8 35.2 58.7 31.4 61.7 29.8 63.8 26.8 64.6 26.5 67.5 29.3 70.5 29.8 71.3 29.6 73.4 29.3 76.3 26 79.3 23 81.4 22.7 82.2 21.7 85.1 20.7 87.2 21.8 88.1 21 91 21 93.9 23.7 96.4 23.7 96.9 23.6 99.8 28 102.7 30.1 105.7 32.6 108.6 37 111.5 39 114.5 41.5 117.4 45.9 120.3 47.9 122.4 49.5 122.4 68.7 120.3 66.4 117.4 62.9 114.5 60.7 111.5 57.5 108.6 54 105.7 51.8 102.7 48.6 99.8 45.1 96.9 42.9 96.4 42.2 93.9 40.7 91 40.3 88.1 39.8 87.2 39.5 85.1 41 82.2 41.9 81.4 41.7 79.3 44.2 76.3 46.3 73.4 48.3 71.3 50.8 70.5 50 67.5 48.2 64.6 47.6 63.8 46.9 61.7 48.7 58.7 52.5 55.8 55.2 53.7 57 52.9 57.2 49.9 55.1 47 53 46.2 53.2 44.1 56.5 41.1 61.3 38.2 67.2 36.1 70.5 35.3 69.5 32.3 68 29.4 65.4 28.6 64.4 26.5 67.2 23.5 69.8 20.6 72.5 18.5 75.3 17.7 74.2 14.7 71.5 11.8 69.9 9.3 67.4 8.9 68.7 6.4 79.1 5.9 83.8Z" fill="#1f77b4" fill-opacity="0.3" stroke="#1f77b4" stroke-opacity="0.4" stroke-width="1.4" shape-rendering="crispEdges"/><path d="M5.9 66.1 6.4 60.3 8.9 51.9 9.3 49.7 11.8 51.1 14.7 54.6 17.7 56.4 18.5 56.4 20.6 55.5 23.5 51.9 26.5 48.3 28.6 47.3 29.4 47.4 32.3 49 35.3 52.4 36.1 52.4 38.2 48.1 41.1 44.2 44.1 38.4 46.2 34.1 47 35.8 49.9 36.9 52.9 38 53.7 39.7 55.8 36.9 58.7 33.2 61.7 31.3 63.8 28.5 64.6 28.3 67.5 30.9 70.5 31.5 71.3 31.4 73.4 30.9 76.3 27.7 79.3 24.8 81.4 24.2 82.2 23.4 85.1 22.7 87.2 23.7 88.1 23 91 23.2 93.9 25.6 96.4 25.8 96.9 25.8 99.8 30 102.7 32.2 105.7 34.7 108.6 38.9 111.5 41 114.5 43.6 117.4 47.8 120.3 49.9 122.4 51.7 122.4 68 120.3 65.7 117.4 62.4 114.5 60 111.5 56.8 108.6 53.5 105.7 51.1 102.7 47.9 99.8 44.6 96.9 42.2 96.4 41.5 93.9 40.2 91 39.6 88.1 39 87.2 38.6 85.1 39.8 82.2 40.2 81.4 40.1 79.3 42.4 76.3 44.6 73.4 46.7 71.3 49 70.5 48.3 67.5 46.6 64.6 45.8 63.8 45.2 61.7 47 58.7 50.7 55.8 53.5 53.7 55.4 52.9 55.5 49.9 53.4 47 51.3 46.2 51.4 44.1 54.8 41.1 59.7 38.2 65.4 36.1 68.8 35.3 67.9 32.3 66.2 29.4 63.7 28.6 62.7 26.5 65.5 23.5 68.1 20.6 70.8 18.5 73.6 17.7 72.6 14.7 69.9 11.8 68.1 9.3 65.8 8.9 67.1 6.4 77.3 5.9 82.1Z" fill="#ff7f0e" fill-opacity="0.24" stroke="#ff7f0e" stroke-opacity="0.3" stroke-width="1.2" shape-rendering="crispEdges"/></svg><path d="M1554.5 332.4V416.7M1583.5 332.4V416.7M1613.5 332.4V416.7M1627.5 332.4V416.7" stroke="#bdbdbd" stroke-width="1"/><use href="#gr" transform="translate(1534.6,332.4)"/><svg x="1534.6" y="332.4" width="127.8" height="84.3" overflow="hidden"><path d="M5.1 84.3 6.4 68.8 9.3 57.6 18.5 65.1 28.6 54.8 36.1 60.6 46.2 42.9 53.7 47.3 63.8 36.8 71.3 40.3 81.4 32 87.2 33.1 96.4 36.8 122.8 63.5" fill="none" stroke="#fff" stroke-width="11.2" stroke-linejoin="round"/><path d="M5.1 84.3 6.4 68.8 9.3 57.6 18.5 65.1 28.6 54.8 36.1 60.6 46.2 42.9 53.7 47.3 63.8 36.8 71.3 40.3 81.4 32 87.2 33.1 96.4 36.8 122.8 63.5" fill="none" stroke="#000" stroke-width="9.6" stroke-linejoin="round" shape-rendering="crispEdges"/></svg><use href="#fr" transform="translate(1534.6,332.4)"/>
<svg x="1714.05" y="332.4" width="127.8" height="84.3" overflow="hidden"><path d="M5.9 63.9 6.4 58.9 8.9 54.1 11.4 46.8 11.8 47.3 14.7 50.9 17.7 52 20.6 54.6 23.5 51.6 26.5 46.1 29.4 42.1 31.5 40.2 32.3 39.5 35.3 41.8 38.2 45 40.7 45.4 41.1 45 44.1 41.8 47 36.1 49.9 32.1 51.6 30.7 52.9 30.1 55.8 32.1 58.7 34.9 59.6 33.9 61.7 32.2 64.6 30.3 67.5 25.9 70.5 23.3 71.7 23 73.4 21.8 76.3 22.4 78.4 23.5 79.3 21.7 82.2 21.4 85.1 22.1 85.1 20.6 88.1 24 91 27.8 93.9 29.3 96.9 32.6 99.8 36.5 102.7 38 105.7 41.3 108.6 45.2 111.5 46.6 114.5 50 117.4 53.9 120.3 55.3 122.4 57.9 122.4 76.4 120.3 74.6 117.4 70.9 114.5 68.5 111.5 65.9 108.6 62.3 105.7 59.8 102.7 57.2 99.8 53.6 96.9 51.2 93.9 48.5 91 44.9 88.1 42.5 85.1 39.8 85.1 39.1 82.2 40 79.3 41.1 78.4 41 76.3 41.8 73.4 42.5 71.7 42.1 70.5 43.8 67.5 46.9 64.6 49.2 61.7 52.6 59.6 54.9 58.7 53.7 55.8 52.5 52.9 50.9 51.6 49.5 49.9 52.5 47 56.9 44.1 60.5 41.1 65.3 40.7 66 38.2 63.5 35.3 62 32.3 60 31.5 58.7 29.4 62.2 26.5 66.5 23.5 70 20.6 74.7 17.7 72.3 14.7 69.2 11.8 67.3 11.4 67 8.9 72.3 6.4 78.9 5.9 84.1Z" fill="#1f77b4" fill-opacity="0.3" stroke="#1f77b4" stroke-opacity="0.4" stroke-width="1.4" shape-rendering="crispEdges"/><path d="M5.9 65.7 6.4 60.6 8.9 55.6 11.4 48.5 11.8 49 14.7 52.4 17.7 53.7 20.6 56.3 23.5 53.1 26.5 47.8 29.4 43.8 31.5 41.8 32.3 41.2 35.3 43.5 38.2 46.5 40.7 47.1 41.1 46.8 44.1 43.4 47 37.9 49.9 33.8 51.6 32.3 52.9 31.9 55.8 33.8 58.7 36.4 59.6 35.7 61.7 33.9 64.6 31.8 67.5 27.7 70.5 25 71.7 24.6 73.4 23.6 76.3 24.3 78.4 25.4 79.3 23.8 82.2 23.5 85.1 24 85.1 22.8 88.1 26 91 29.7 93.9 31.5 96.9 34.7 99.8 38.4 102.7 40.1 105.7 43.4 108.6 47.1 111.5 48.8 114.5 52.1 117.4 55.8 120.3 57.5 122.4 60 122.4 75.7 120.3 73.9 117.4 70.4 114.5 67.9 111.5 65.2 108.6 61.7 105.7 59.2 102.7 56.5 99.8 53 96.9 50.5 93.9 47.8 91 44.3 88.1 41.8 85.1 39.1 85.1 38.5 82.2 39.4 79.3 40.3 78.4 40.2 76.3 40.7 73.4 40.9 71.7 40.4 70.5 42.1 67.5 45.2 64.6 47.5 61.7 50.9 59.6 53.1 58.7 52.1 55.8 50.8 52.9 49.2 51.6 47.9 49.9 50.8 47 55.1 44.1 58.8 41.1 63.6 40.7 64.3 38.2 61.9 35.3 60.3 32.3 58.3 31.5 57.1 29.4 60.5 26.5 64.8 23.5 68.3 20.6 73 17.7 70.6 14.7 67.6 11.8 65.6 11.4 65.3 8.9 70.7 6.4 77.2 5.9 82.4Z" fill="#ff7f0e" fill-opacity="0.24" stroke="#ff7f0e" stroke-opacity="0.3" stroke-width="1.2" shape-rendering="crispEdges"/></svg><path d="M1734.5 332.4V416.7M1748.5 332.4V416.7M1807.5 332.4V416.7M1822.5 332.4V416.7" stroke="#bdbdbd" stroke-width="1"/><use href="#gr" transform="translate(1714.05,332.4)"/><svg x="1714.05" y="332.4" width="127.8" height="84.3" overflow="hidden"><path d="M5.1 84.3 6.4 68.8 11.4 56.9 20.6 64.6 31.5 49.2 40.7 55.8 51.6 39.9 59.6 44.5 71.7 32.3 78.4 35.1 85.1 34.2 122.8 71.4" fill="none" stroke="#fff" stroke-width="11.2" stroke-linejoin="round"/><path d="M5.1 84.3 6.4 68.8 11.4 56.9 20.6 64.6 31.5 49.2 40.7 55.8 51.6 39.9 59.6 44.5 71.7 32.3 78.4 35.1 85.1 34.2 122.8 71.4" fill="none" stroke="#000" stroke-width="9.6" stroke-linejoin="round" shape-rendering="crispEdges"/></svg><use href="#fr" transform="translate(1714.05,332.4)"/>
<svg x="1893.5" y="332.4" width="127.8" height="84.3" overflow="hidden"><path d="M5.9 65.5 6.4 61.3 8.9 56.2 11.4 49.3 11.8 50.7 14.7 53 17.7 53.6 20.6 56.6 21.4 57.5 23.5 53.5 26.5 50.9 29.4 47.5 32.3 42.5 34.8 40.5 35.3 41.1 38.2 42.3 41.1 46.1 42.4 47.5 44.1 43.7 47 40.7 49.9 36.8 52.9 31.3 55 29.5 55.8 30.3 58.7 31.1 61.7 34.4 62.5 35.2 64.6 32.3 67.5 31.3 70.5 29.2 73.4 25.7 76.3 24.7 77.2 24.2 79.3 24.8 82.2 28.7 85.1 31.5 88.1 32.9 91 36.9 93.9 39.6 96.9 41 99.8 45 102.7 47.7 105.7 49.1 108.6 53.1 111.5 55.8 114.5 57.2 117.4 61.2 120.3 63.9 122.4 64.5 122.4 81.2 120.3 78.7 117.4 76.3 114.5 75.3 111.5 73 108.6 71.3 105.7 70.2 102.7 67.9 99.8 66.3 96.9 65.2 93.9 62.9 91 61.2 88.1 60.2 85.1 57.5 82.2 54.9 79.3 52.8 77.2 50.2 76.3 50.9 73.4 53.7 70.5 55.2 67.5 57.5 64.6 60.3 62.5 60.6 61.7 59.7 58.7 56.8 55.8 52.7 55 51.8 52.9 54.4 49.9 56.6 47 59.5 44.1 63 42.4 63.9 41.1 62.5 38.2 59.9 35.3 56.2 34.8 55.9 32.3 59.2 29.4 62.2 26.5 66 23.5 70.2 21.4 72.1 20.6 71.7 17.7 70.2 14.7 67.6 11.8 65.8 11.4 66 8.9 70.8 6.4 76.5 5.9 82.1Z" fill="#1f77b4" fill-opacity="0.3" stroke="#1f77b4" stroke-opacity="0.4" stroke-width="1.4" shape-rendering="crispEdges"/><path d="M5.9 66.5 6.4 62.2 8.9 57.1 11.4 50.4 11.8 51.6 14.7 53.8 17.7 54.6 20.6 57.5 21.4 58.3 23.5 54.5 26.5 51.8 29.4 48.4 32.3 43.6 34.8 41.3 35.3 41.9 38.2 43.4 41.1 47 42.4 48.3 44.1 44.8 47 41.6 49.9 37.6 52.9 32.4 55 30.4 55.8 31.1 58.7 32.2 61.7 35.3 62.5 36 64.6 33.4 67.5 32.2 70.5 30.1 73.4 26.8 76.3 25.6 77.2 25.1 79.3 25.9 82.2 29.6 85.1 31.3 88.1 31.5 91 33.5 93.9 33 96.9 31.4 99.8 31.9 102.7 31.3 105.7 29.7 108.6 30.2 111.5 29.6 114.5 28 117.4 28.5 120.3 28.9 122.4 29.7 122.4 80.2 120.3 77.8 117.4 75.1 114.5 72.9 111.5 69.7 108.6 67 105.7 64.8 102.7 61.6 99.8 59.3 96.9 57.5 93.9 54.6 91 52.3 88.1 50.5 85.1 47.6 82.2 45.4 79.3 43.5 77.2 41.3 76.3 42.1 73.4 45.2 70.5 47.2 67.5 49.8 64.6 52.9 62.5 53.7 61.7 53 58.7 50.6 55.8 47.3 55 46.6 52.9 49.5 49.9 52.5 47 56 44.1 60 42.4 61.4 41.1 60.2 38.2 58.1 35.3 54.9 34.8 54.6 32.3 58.2 29.4 61.3 26.5 65 23.5 69.2 21.4 71.2 20.6 70.8 17.7 69.2 14.7 66.7 11.8 64.9 11.4 65 8.9 69.9 6.4 75.5 5.9 81.1Z" fill="#ff7f0e" fill-opacity="0.24" stroke="#ff7f0e" stroke-opacity="0.3" stroke-width="1.2" shape-rendering="crispEdges"/></svg><path d="M1928.5 332.4V416.7M1942.5 332.4V416.7M1972.5 332.4V416.7M1986.5 332.4V416.7" stroke="#bdbdbd" stroke-width="1"/><use href="#gr" transform="translate(1893.5,332.4)"/><svg x="1893.5" y="332.4" width="127.8" height="84.3" overflow="hidden"><path d="M5.1 84.3 6.4 68.8 11.4 57.9 21.4 64.6 34.8 47.9 42.4 54.7 55 36.9 62.5 42.4 77.2 31.5 122.8 73.5" fill="none" stroke="#fff" stroke-width="11.2" stroke-linejoin="round"/><path d="M5.1 84.3 6.4 68.8 11.4 57.9 21.4 64.6 34.8 47.9 42.4 54.7 55 36.9 62.5 42.4 77.2 31.5 122.8 73.5" fill="none" stroke="#000" stroke-width="9.6" stroke-linejoin="round" shape-rendering="crispEdges"/></svg><use href="#fr" transform="translate(1893.5,332.4)"/>
<svg x="2072.95" y="332.4" width="127.8" height="84.3" overflow="hidden"><path d="M5.9 63.7 6.4 60 8.9 53.3 11.4 46.5 11.8 48.4 14.7 50.4 17.7 52.3 20.6 56.4 22.3 57.2 23.5 54.6 26.5 51.6 29.4 46.5 32.3 41.3 35.3 38.3 35.7 37 38.2 38.4 41.1 42.3 43.6 43.7 44.1 42.5 47 40.7 49.9 36.7 52.9 32.7 55.8 30.9 58.7 26.9 60.4 24.4 61.7 26.7 64.6 28 67.5 29.5 68 31.3 70.5 28.1 73.4 24.8 75.9 23.9 76.3 22.9 79.3 21.3 82.2 21.8 82.6 20.8 85.1 22.3 88.1 26.9 91 29.1 93.9 31.7 96.9 36.2 99.8 38.4 102.7 41 105.7 45.6 108.6 47.8 111.5 50.4 114.5 54.9 117.4 57.1 120.3 59.7 121.6 62.5 122.4 62.4 122.4 80.9 121.6 79.5 120.3 78.9 117.4 75.6 114.5 72 111.5 69.6 108.6 66.2 105.7 62.7 102.7 60.3 99.8 56.9 96.9 53.3 93.9 50.9 91 47.5 88.1 44 85.1 41.6 82.6 39.6 82.2 39.4 79.3 41.8 76.3 43.2 75.9 43 73.4 46 70.5 48.4 68 50.3 67.5 50.7 64.6 48.2 61.7 45.7 60.4 45.5 58.7 47 55.8 49.8 52.9 53.8 49.9 56.6 47 59.5 44.1 63.4 43.6 63.5 41.1 61 38.2 59.2 35.7 56.7 35.3 57 32.3 62.1 29.4 66.1 26.5 70.2 23.5 75.3 22.3 76.8 20.6 74.9 17.7 72.9 14.7 69.8 11.8 66.8 11.4 67.1 8.9 72.7 6.4 78.3 5.9 84.2Z" fill="#1f77b4" fill-opacity="0.3" stroke="#1f77b4" stroke-opacity="0.4" stroke-width="1.4" shape-rendering="crispEdges"/><path d="M5.9 65.4 6.4 61.5 8.9 55 11.4 48.3 11.8 49.9 14.7 52 17.7 54 20.6 57.9 22.3 58.9 23.5 56.3 26.5 53.1 29.4 48.1 32.3 43.1 35.3 39.9 35.7 38.7 38.2 40.2 41.1 43.8 43.6 45.3 44.1 44.3 47 42.3 49.9 38.4 52.9 34.5 55.8 32.5 58.7 28.6 60.4 26.2 61.7 28.3 64.6 29.7 67.5 31.3 68 32.8 70.5 29.8 73.4 26.6 75.9 25.5 76.3 24.7 79.3 23.3 82.2 23.6 82.6 22.8 85.1 24.5 88.1 28.8 91 31.2 93.9 33.8 96.9 38.1 99.8 40.5 102.7 43.2 105.7 47.5 108.6 49.8 111.5 52.5 114.5 56.8 117.4 59.1 120.3 61.9 121.6 64.4 122.4 64.4 122.4 80.2 121.6 79 120.3 78.2 117.4 74.9 114.5 71.4 111.5 68.9 108.6 65.6 105.7 62.1 102.7 59.6 99.8 56.2 96.9 52.7 93.9 50.2 91 46.9 88.1 43.4 85.1 40.9 82.6 38.7 82.2 38.6 79.3 40.5 76.3 41.5 75.9 41.3 73.4 44.3 70.5 46.7 68 48.6 67.5 48.9 64.6 46.5 61.7 44 60.4 43.7 58.7 45.3 55.8 48.2 52.9 52 49.9 54.9 47 57.8 44.1 61.7 43.6 61.8 41.1 59.4 38.2 57.5 35.7 55.1 35.3 55.4 32.3 60.4 29.4 64.4 26.5 68.5 23.5 73.5 22.3 75.1 20.6 73.3 17.7 71.2 14.7 68.1 11.8 65.2 11.4 65.4 8.9 71 6.4 76.7 5.9 82.5Z" fill="#ff7f0e" fill-opacity="0.24" stroke="#ff7f0e" stroke-opacity="0.3" stroke-width="1.2" shape-rendering="crispEdges"/></svg><path d="M2092.5 332.4V416.7M2122.5 332.4V416.7M2166.5 332.4V416.7M2180.5 332.4V416.7" stroke="#bdbdbd" stroke-width="1"/><use href="#gr" transform="translate(2072.95,332.4)"/><svg x="2072.95" y="332.4" width="127.8" height="84.3" overflow="hidden"><path d="M5.1 84.3 6.4 68.8 11.4 56.9 22.3 66.9 35.7 46.8 43.6 53.5 60.4 35.1 68 40.6 75.9 33.3 82.6 33.3 121.6 74.6 122.4 75.4" fill="none" stroke="#fff" stroke-width="11.2" stroke-linejoin="round"/><path d="M5.1 84.3 6.4 68.8 11.4 56.9 22.3 66.9 35.7 46.8 43.6 53.5 60.4 35.1 68 40.6 75.9 33.3 82.6 33.3 121.6 74.6 122.4 75.4" fill="none" stroke="#000" stroke-width="9.6" stroke-linejoin="round" shape-rendering="crispEdges"/></svg><use href="#fr" transform="translate(2072.95,332.4)"/>
<text transform="translate(2220.5,373.05) rotate(90)" font-size="53.33" text-anchor="middle">0.02</text>
<svg x="278.45" y="450.3" width="127.8" height="84.3" overflow="hidden"><path d="M5.9 64 6.4 60.1 8.9 49.3 9.3 47.7 11.8 47.1 14.7 43.5 16.8 41.9 17.7 43.8 20.6 44.7 22.7 46.2 23.5 46.6 26.5 42.5 29.4 39.6 32.3 38 33.2 35.8 35.3 35.1 38.2 35.3 41.1 32.9 44.1 31.9 47 32 49.9 29.6 52 29 52.9 29.8 55.8 27.3 58.7 26.3 61.7 26.2 64.6 23.7 67.5 22.7 69.6 23 70.5 22.1 73.4 24 76.3 26.8 79.3 27.5 82.2 30.4 85.1 34.2 88.1 35.5 91 38.4 93.9 42.2 96.9 43.4 99.8 46.4 102.7 50.1 105.7 51.4 108.6 54.4 111.5 58.1 114.5 59.4 117.4 62.4 120.3 66.1 122.4 66.6 122.4 85.7 120.3 83.1 117.4 81 114.5 78.5 111.5 75.1 108.6 73 105.7 70.5 102.7 67.2 99.8 65.1 96.9 62.5 93.9 59.2 91 57.1 88.1 54.6 85.1 51.2 82.2 49.1 79.3 46.6 76.3 44.2 73.4 43.8 70.5 42.9 69.6 41.9 67.5 43.3 64.6 44.6 61.7 45.1 58.7 46.8 55.8 48.1 52.9 48.6 52 49.5 49.9 50.3 47 50.7 44.1 52.3 41.1 53.5 38.2 53.8 35.3 55.5 33.2 56.3 32.3 56.4 29.4 59.9 26.5 62.8 23.5 65 22.7 66.5 20.6 64.9 17.7 62.1 16.8 62.1 14.7 63.7 11.8 65.3 9.3 67.8 8.9 69.4 6.4 78.3 5.9 84.1Z" fill="#1f77b4" fill-opacity="0.3" stroke="#1f77b4" stroke-opacity="0.4" stroke-width="1.4" shape-rendering="crispEdges"/><path d="M5.9 65.7 6.4 61.6 8.9 51 9.3 49.4 11.8 48.6 14.7 45.2 16.8 43.6 17.7 45.3 20.6 46.4 22.7 48 23.5 48.2 26.5 44.2 29.4 41.4 32.3 39.5 33.2 37.6 35.3 36.9 38.2 36.8 41.1 34.6 44.1 33.7 47 33.6 49.9 31.4 52 30.7 52.9 31.4 55.8 29.1 58.7 28 61.7 27.8 64.6 25.5 67.5 24.4 69.6 24.5 70.5 23.9 73.4 25.9 76.3 28.6 79.3 29.6 82.2 32.5 85.1 36.1 88.1 37.6 91 40.5 93.9 44.1 96.9 45.6 99.8 48.5 102.7 52 105.7 53.5 108.6 56.5 111.5 60 114.5 61.5 117.4 64.4 120.3 68 122.4 68.7 122.4 85 120.3 82.5 117.4 80.3 114.5 77.8 111.5 74.6 108.6 72.4 105.7 69.8 102.7 66.6 99.8 64.4 96.9 61.8 93.9 58.6 91 56.4 88.1 53.9 85.1 50.6 82.2 48.4 79.3 45.9 76.3 43.4 73.4 42.5 70.5 41.2 69.6 40.3 67.5 41.6 64.6 42.9 61.7 43.5 58.7 45.1 55.8 46.3 52.9 47 52 47.8 49.9 48.6 47 49.1 44.1 50.6 41.1 51.7 38.2 52.2 35.3 53.8 33.2 54.5 32.3 54.8 29.4 58.2 26.5 61.1 23.5 63.4 22.7 64.7 20.6 63.2 17.7 60.5 16.8 60.4 14.7 62 11.8 63.7 9.3 66.1 8.9 67.7 6.4 76.7 5.9 82.3Z" fill="#ff7f0e" fill-opacity="0.24" stroke="#ff7f0e" stroke-opacity="0.3" stroke-width="1.2" shape-rendering="crispEdges"/></svg><path d="M298.5 450.3V534.6M313.5 450.3V534.6M357.5 450.3V534.6M386.5 450.3V534.6" stroke="#bdbdbd" stroke-width="1"/><use href="#gr" transform="translate(278.45,450.3)"/><svg x="278.45" y="450.3" width="127.8" height="84.3" overflow="hidden"><path d="M5.1 84.3 6.4 68.8 9.3 57.7 16.8 52 22.7 56.3 33.2 46.1 52 39.3 69.6 32.2 122.4 80.1" fill="none" stroke="#fff" stroke-width="11.2" stroke-linejoin="round"/><path d="M5.1 84.3 6.4 68.8 9.3 57.7 16.8 52 22.7 56.3 33.2 46.1 52 39.3 69.6 32.2 122.4 80.1" fill="none" stroke="#000" stroke-width="9.6" stroke-linejoin="round" shape-rendering="crispEdges"/></svg><use href="#fr" transform="translate(278.45,450.3)"/>
<text x="241.45" y="550.2" font-size="44.44" text-anchor="end">0</text>
<text x="241.45" y="508.05" font-size="44.44" text-anchor="end">3</text>
<text x="241.45" y="465.9" font-size="44.44" text-anchor="end">6</text>
<svg x="457.9" y="450.3" width="127.8" height="84.3" overflow="hidden"><path d="M5.9 64.6 6.4 59.9 8.9 49 9.7 46.8 11.8 46.8 14.7 44.8 16.8 45.3 17.7 46.4 20.6 47.2 22.7 49.8 23.5 49.2 26.5 44.4 29.4 41.9 31.5 39.9 32.3 38.2 35.3 38.2 38.2 37.6 41.1 35.2 44.1 35.2 47 34.6 49.1 32.4 49.9 33.1 52.9 32.2 55.8 29.6 58.7 29.4 61.7 28.5 64.6 25.8 66.7 26 67.5 26.3 70.5 24.6 73.4 25.5 76.3 25.5 79.3 23.9 81.4 24.8 82.2 25.5 85.1 25.9 88.1 28.7 91 31 93.9 32.3 96.9 36.2 99.8 39.1 102.7 40.4 105.7 44.2 108.6 47.1 111.5 48.4 114.5 52.3 117.4 55.1 120.3 56.4 122.4 59.5 122.4 77.3 120.3 76 117.4 72.6 114.5 70 111.5 67.9 108.6 64.6 105.7 62 102.7 59.9 99.8 56.5 96.9 54 93.9 51.9 91 48.5 88.1 46.9 85.1 46.5 82.2 44.8 81.4 44.6 79.3 45.3 76.3 44.8 73.4 45.2 70.5 46 67.5 45.5 66.7 45.7 64.6 47.1 61.7 47.6 58.7 49 55.8 50.8 52.9 51.3 49.9 52.7 49.1 53.5 47 53.5 44.1 54.7 41.1 56.2 38.2 56.4 35.3 57.6 32.3 59.1 31.5 58.7 29.4 61.3 26.5 65.2 23.5 67.9 22.7 69.1 20.6 68 17.7 65 16.8 64.6 14.7 65.5 11.8 65.3 9.7 66 8.9 69.6 6.4 78.4 5.9 83.8Z" fill="#1f77b4" fill-opacity="0.3" stroke="#1f77b4" stroke-opacity="0.4" stroke-width="1.4" shape-rendering="crispEdges"/><path d="M5.9 66.2 6.4 61.5 8.9 50.8 9.7 48.4 11.8 48.4 14.7 46.6 16.8 46.9 17.7 48 20.6 49 22.7 51.4 23.5 50.8 26.5 46.2 29.4 43.6 31.5 41.5 32.3 40 35.3 39.8 38.2 39.2 41.1 37 44.1 36.8 47 36.1 49.1 34.3 49.9 34.8 52.9 33.8 55.8 31.4 58.7 31 61.7 30.1 64.6 27.7 66.7 27.7 67.5 27.9 70.5 26.5 73.4 27.1 76.3 27.1 79.3 25.7 81.4 26.5 82.2 27.2 85.1 27.9 88.1 30.6 91 33 93.9 34.5 96.9 38.2 99.8 41 102.7 42.6 105.7 46.2 108.6 49 111.5 50.6 114.5 54.2 117.4 57.1 120.3 58.6 122.4 61.5 122.4 76.7 120.3 75.3 117.4 72 114.5 69.4 111.5 67.2 108.6 64 105.7 61.4 102.7 59.2 99.8 55.9 96.9 53.4 93.9 51.1 91 47.9 88.1 46.1 85.1 45.2 82.2 43.2 81.4 42.9 79.3 43.5 76.3 43.2 73.4 43.5 70.5 44.2 67.5 43.8 66.7 44 64.6 45.3 61.7 46 58.7 47.3 55.8 49 52.9 49.6 49.9 51 49.1 51.8 47 51.9 44.1 53 41.1 54.4 38.2 54.8 35.3 55.9 32.3 57.3 31.5 57 29.4 59.6 26.5 63.5 23.5 66.3 22.7 67.4 20.6 66.2 17.7 63.4 16.8 62.9 14.7 63.7 11.8 63.7 9.7 64.3 8.9 67.9 6.4 76.7 5.9 82.1Z" fill="#ff7f0e" fill-opacity="0.24" stroke="#ff7f0e" stroke-opacity="0.3" stroke-width="1.2" shape-rendering="crispEdges"/></svg><path d="M492.5 450.3V534.6M507.5 450.3V534.6M536.5 450.3V534.6M551.5 450.3V534.6" stroke="#bdbdbd" stroke-width="1"/><use href="#gr" transform="translate(457.9,450.3)"/><svg x="457.9" y="450.3" width="127.8" height="84.3" overflow="hidden"><path d="M5.1 84.3 6.4 68.8 9.7 56.2 16.8 54.8 22.7 59.3 31.5 49 49.1 43.1 66.7 35.8 81.4 34.6 122.8 72.5" fill="none" stroke="#fff" stroke-width="11.2" stroke-linejoin="round"/><path d="M5.1 84.3 6.4 68.8 9.7 56.2 16.8 54.8 22.7 59.3 31.5 49 49.1 43.1 66.7 35.8 81.4 34.6 122.8 72.5" fill="none" stroke="#000" stroke-width="9.6" stroke-linejoin="round" shape-rendering="crispEdges"/></svg><use href="#fr" transform="translate(457.9,450.3)"/>
<svg x="637.35" y="450.3" width="127.8" height="84.3" overflow="hidden"><path d="M5.9 65.1 6.4 59.4 8.9 49 9.7 47.3 11.8 47.1 14.7 46.6 17.7 48.5 18.5 48.1 20.6 48.8 23.5 52.6 24.4 52.7 26.5 49.9 29.4 48.6 32.3 45.4 35.3 41.8 37.4 41.3 38.2 40.3 41.1 38 44.1 38.1 47 36 49.9 33.8 52.9 33.8 55.8 31.7 57.9 29.9 58.7 31.1 61.7 29.6 64.6 28 67.5 28.7 70.5 27.2 73.4 25.6 76.3 26.3 79.3 24.8 82.2 23.2 84.7 24 85.1 23.2 88.1 22.4 91 23.7 93.1 22.8 93.9 23 96.9 27.3 99.8 29.5 102.7 31.7 105.7 36.1 108.6 38.2 111.5 40.4 114.5 44.8 117.4 46.9 120.3 49.2 121.2 51.5 122.4 51.6 122.4 70 121.2 68.6 120.3 68.5 117.4 65.3 114.5 62 111.5 59.8 108.6 56.5 105.7 53.2 102.7 51 99.8 47.8 96.9 44.5 93.9 42.3 93.1 41.1 91 41.3 88.1 42.9 85.1 43.4 84.7 43.1 82.2 44.5 79.3 44.9 76.3 45.3 73.4 46.9 70.5 47.2 67.5 47.7 64.6 49.2 61.7 49.6 58.7 50 57.9 51 55.8 51.5 52.9 52.6 49.9 54.8 47 55.7 44.1 56.8 41.1 59 38.2 59.9 37.4 60 35.3 62.7 32.3 64.9 29.4 67.3 26.5 70.6 24.4 72.1 23.5 71.1 20.6 69.5 18.5 67.4 17.7 67 14.7 67.3 11.8 66.3 9.7 65.7 8.9 69.6 6.4 78.6 5.9 83.5Z" fill="#1f77b4" fill-opacity="0.3" stroke="#1f77b4" stroke-opacity="0.4" stroke-width="1.4" shape-rendering="crispEdges"/><path d="M5.9 66.6 6.4 61.1 8.9 50.8 9.7 48.8 11.8 48.7 14.7 48.4 17.7 50 18.5 49.7 20.6 50.6 23.5 54.1 24.4 54.3 26.5 51.6 29.4 50.2 32.3 47 35.3 43.6 37.4 42.9 38.2 42 41.1 39.8 44.1 39.6 47 37.7 49.9 35.6 52.9 35.3 55.8 33.4 57.9 31.7 58.7 32.7 61.7 31.3 64.6 29.9 67.5 30.3 70.5 28.9 73.4 27.4 76.3 27.9 79.3 26.5 82.2 25 84.7 25.6 85.1 25 88.1 24.3 91 25.5 93.1 24.9 93.9 25.1 96.9 29.3 99.8 31.5 102.7 33.9 105.7 38 108.6 40.2 111.5 42.6 114.5 46.7 117.4 49 120.3 51.4 121.2 53.4 122.4 53.7 122.4 69.4 121.2 68 120.3 67.8 117.4 64.6 114.5 61.4 111.5 59.1 108.6 55.9 105.7 52.6 102.7 50.3 99.8 47.1 96.9 43.9 93.9 41.6 93.1 40.5 91 40.5 88.1 41.6 85.1 41.7 84.7 41.5 82.2 42.8 79.3 43.2 76.3 43.7 73.4 45.1 70.5 45.5 67.5 46 64.6 47.4 61.7 47.9 58.7 48.4 57.9 49.2 55.8 49.9 52.9 51 49.9 53 47 54.1 44.1 55.2 41.1 57.2 38.2 58.3 37.4 58.4 35.3 60.9 32.3 63.2 29.4 65.6 26.5 68.9 24.4 70.4 23.5 69.5 20.6 67.8 18.5 65.8 17.7 65.4 14.7 65.5 11.8 64.7 9.7 64.1 8.9 67.9 6.4 76.9 5.9 81.9Z" fill="#ff7f0e" fill-opacity="0.24" stroke="#ff7f0e" stroke-opacity="0.3" stroke-width="1.2" shape-rendering="crispEdges"/></svg><path d="M657.5 450.3V534.6M672.5 450.3V534.6M730.5 450.3V534.6M745.5 450.3V534.6" stroke="#bdbdbd" stroke-width="1"/><use href="#gr" transform="translate(637.35,450.3)"/><svg x="637.35" y="450.3" width="127.8" height="84.3" overflow="hidden"><path d="M5.1 84.3 6.4 68.8 9.7 56.2 18.5 57.6 24.4 62.2 37.4 50.4 57.9 40.6 84.7 33.4 93.1 35.8 121.2 63.6 122.4 64.6" fill="none" stroke="#fff" stroke-width="11.2" stroke-linejoin="round"/><path d="M5.1 84.3 6.4 68.8 9.7 56.2 18.5 57.6 24.4 62.2 37.4 50.4 57.9 40.6 84.7 33.4 93.1 35.8 121.2 63.6 122.4 64.6" fill="none" stroke="#000" stroke-width="9.6" stroke-linejoin="round" shape-rendering="crispEdges"/></svg><use href="#fr" transform="translate(637.35,450.3)"/>
<svg x="816.8" y="450.3" width="127.8" height="84.3" overflow="hidden"><path d="M5.9 67.1 6.4 60.7 8.9 51.2 9.3 50.9 11.8 49 14.7 48.4 15.6 49.5 17.7 48.8 20.6 49.7 23.5 51.8 25.6 51.1 26.5 50.4 29.4 49 32.3 45.1 35.3 42.5 38.2 41.1 40.3 37.9 41.1 37.7 44.1 38 47 35.7 49.9 34.8 52.9 35 55.8 32.7 58.7 31.9 60.8 32.4 61.7 30.8 64.6 30 67.5 30.2 70.5 27.8 73.4 27 76.3 27.2 78.4 25.1 79.3 26.1 82.2 29.8 85.1 31 88.1 33.8 91 37.5 93.9 38.7 96.9 41.6 99.8 45.3 102.7 46.4 105.7 49.3 108.6 53 111.5 54.2 114.5 57.1 117.4 60.7 120.3 61.9 121.2 63 122.4 64.7 122.4 79 121.2 78.8 120.3 78.2 117.4 75 114.5 72.9 111.5 70.5 108.6 67.2 105.7 65.2 102.7 62.8 99.8 59.5 96.9 57.4 93.9 55 91 51.7 88.1 49.7 85.1 47.3 82.2 44 79.3 42 78.4 41.4 76.3 41.4 73.4 42.9 70.5 44 67.5 44.4 64.6 45.9 61.7 47 60.8 46.6 58.7 47.9 55.8 48.9 52.9 49.2 49.9 50.8 47 51.8 44.1 52.1 41.1 53.7 40.3 54 38.2 55.3 35.3 58.5 32.3 61.2 29.4 63.2 26.5 66.5 25.6 67.2 23.5 66 20.6 65.7 17.7 64.9 15.6 63.6 14.7 64.5 11.8 65.1 9.3 65.1 8.9 67.3 6.4 76.8 5.9 81.3Z" fill="#1f77b4" fill-opacity="0.3" stroke="#1f77b4" stroke-opacity="0.4" stroke-width="1.4" shape-rendering="crispEdges"/><path d="M5.9 67.9 6.4 61.7 8.9 52.2 9.3 51.6 11.8 50 14.7 49.4 15.6 50.2 17.7 49.8 20.6 50.7 23.5 52.6 25.6 52.1 26.5 51.4 29.4 49.8 32.3 46.1 35.3 43.5 38.2 41.9 40.3 38.9 41.1 38.7 44.1 38.7 47 36.7 49.9 35.8 52.9 35.8 55.8 33.7 58.7 32.9 60.8 33.2 61.7 31.8 64.6 31 67.5 30.9 70.5 28.8 73.4 28 76.3 28 78.4 26.1 79.3 27.1 82.2 30.6 85.1 32 88.1 33.7 91 35.5 93.9 35.3 96.9 36.5 99.8 38.3 102.7 38.1 105.7 39.3 108.6 41.1 111.5 40.8 114.5 42 117.4 43.9 120.3 43.6 121.2 44.2 122.4 45.8 122.4 78.1 121.2 77.8 120.3 77.3 117.4 74.1 114.5 72 111.5 69.5 108.6 66.4 105.7 64.2 102.7 61.8 99.8 58.6 96.9 56.5 93.9 54 91 50.9 88.1 48.8 85.1 46.3 82.2 43.1 79.3 41 78.4 40.4 76.3 40.5 73.4 42 70.5 43.1 67.5 43.5 64.6 45 61.7 46 60.8 45.8 58.7 46.9 55.8 48 52.9 48.4 49.9 49.8 47 50.9 44.1 51.3 41.1 52.8 40.3 53.1 38.2 54.4 35.3 57.6 32.3 60.2 29.4 62.3 26.5 65.5 25.6 66.3 23.5 65.1 20.6 64.8 17.7 63.9 15.6 62.8 14.7 63.5 11.8 64.2 9.3 64.2 8.9 66.3 6.4 75.8 5.9 80.4Z" fill="#ff7f0e" fill-opacity="0.24" stroke="#ff7f0e" stroke-opacity="0.3" stroke-width="1.2" shape-rendering="crispEdges"/></svg><path d="M851.5 450.3V534.6M866.5 450.3V534.6M910.5 450.3V534.6M924.5 450.3V534.6" stroke="#bdbdbd" stroke-width="1"/><use href="#gr" transform="translate(816.8,450.3)"/><svg x="816.8" y="450.3" width="127.8" height="84.3" overflow="hidden"><path d="M5.1 84.3 6.4 68.8 9.3 57.7 15.6 56.3 25.6 59.3 40.3 46.1 60.8 39.3 78.4 33.4 121.2 71 122.4 71.7" fill="none" stroke="#fff" stroke-width="11.2" stroke-linejoin="round"/><path d="M5.1 84.3 6.4 68.8 9.3 57.7 15.6 56.3 25.6 59.3 40.3 46.1 60.8 39.3 78.4 33.4 121.2 71 122.4 71.7" fill="none" stroke="#000" stroke-width="9.6" stroke-linejoin="round" shape-rendering="crispEdges"/></svg><use href="#fr" transform="translate(816.8,450.3)"/>
<svg x="996.25" y="450.3" width="127.8" height="84.3" overflow="hidden"><path d="M5.9 66.9 6.4 60.3 8.9 52.9 9.7 50.7 11.8 50.3 14.7 52.7 15.6 53.6 17.7 50.1 20.6 48.1 21.4 47.7 23.5 48.4 26.5 52.3 27.3 53.6 29.4 48.7 32.3 44.9 34.4 41.9 35.3 40.2 38.2 40.1 41.1 39.3 44.1 36.8 46.2 37 47 37.3 49.9 35.5 52.9 36.2 55.8 36.1 56.6 34.6 58.7 34.5 61.7 33.3 63.8 30.7 64.6 31.4 67.5 30.2 70.5 27.3 73 27.2 73.4 27.4 76.3 25.4 79.3 25.9 82.2 25.6 84.7 23.7 85.1 25.2 88.1 28.2 91 29.6 93.9 33.5 96.9 36.4 99.8 37.8 102.7 41.7 105.7 44.7 108.6 46.1 111.5 50 114.5 52.9 117.4 54.3 120.3 58.3 122.4 60.4 122.4 75.1 120.3 73.2 117.4 71 114.5 67.6 111.5 64.9 108.6 62.8 105.7 59.4 102.7 56.7 99.8 54.5 96.9 51.1 93.9 48.4 91 46.3 88.1 42.8 85.1 40.2 84.7 40.4 82.2 40.2 79.3 40.9 76.3 42.1 73.4 42 73 42.2 70.5 44 67.5 44.8 64.6 46.5 63.8 47.4 61.7 47.9 58.7 49.6 56.6 51.3 55.8 50.7 52.9 51.2 49.9 52.2 47 51.9 46.2 52.2 44.1 53.5 41.1 53.9 38.2 55.5 35.3 59.1 34.4 59.3 32.3 64.3 29.4 70.7 27.3 72.7 26.5 71.7 23.5 68.2 21.4 64.6 20.6 65.4 17.7 67.8 15.6 68.4 14.7 67.9 11.8 66.9 9.7 65.2 8.9 68.2 6.4 77 5.9 81.4Z" fill="#1f77b4" fill-opacity="0.3" stroke="#1f77b4" stroke-opacity="0.4" stroke-width="1.4" shape-rendering="crispEdges"/><path d="M5.9 67.7 6.4 61.4 8.9 53.8 9.7 51.5 11.8 51.3 14.7 53.6 15.6 54.4 17.7 51.1 20.6 49 21.4 48.5 23.5 49.4 26.5 53.2 27.3 54.4 29.4 49.8 32.3 45.8 34.4 42.7 35.3 41.2 38.2 41 41.1 40.2 44.1 37.9 46.2 37.9 47 38.1 49.9 36.5 52.9 37 55.8 36.9 56.6 35.6 58.7 35.4 61.7 34.1 63.8 31.8 64.6 32.3 67.5 31 70.5 28.4 73 28.1 73.4 28.2 76.3 26.5 79.3 26.8 82.2 26.4 84.7 24.7 85.1 26.1 88.1 29 91 30.6 93.9 34.4 96.9 37.3 99.8 38.9 102.7 42.6 105.7 45.5 108.6 47.1 111.5 50.9 114.5 53.7 117.4 55.4 120.3 59.1 122.4 61.2 122.4 74.2 120.3 72.3 117.4 70 114.5 66.7 111.5 64 108.6 61.8 105.7 58.5 102.7 55.8 99.8 53.5 96.9 50.2 93.9 47.5 91 45.3 88.1 42 85.1 39.3 84.7 39.4 82.2 39.3 79.3 40 76.3 41.1 73.4 41.1 73 41.3 70.5 43 67.5 44 64.6 45.6 63.8 46.4 61.7 47 58.7 48.7 56.6 50.3 55.8 49.8 52.9 50.3 49.9 51.2 47 51 46.2 51.2 44.1 52.5 41.1 53 38.2 54.3 35.3 55.9 34.4 55.6 32.3 59.2 29.4 64.4 27.3 67.2 26.5 66.6 23.5 64 21.4 61.3 20.6 62.4 17.7 65.7 15.6 67.2 14.7 67 11.8 65.9 9.7 64.3 8.9 67.3 6.4 76 5.9 80.5Z" fill="#ff7f0e" fill-opacity="0.24" stroke="#ff7f0e" stroke-opacity="0.3" stroke-width="1.2" shape-rendering="crispEdges"/></svg><path d="M1016.5 450.3V534.6M1045.5 450.3V534.6M1104.5 450.3V534.6" stroke="#bdbdbd" stroke-width="1"/><use href="#gr" transform="translate(996.25,450.3)"/><svg x="996.25" y="450.3" width="127.8" height="84.3" overflow="hidden"><path d="M5.1 84.3 6.4 68.8 9.7 57.7 15.6 60.7 21.4 54.8 27.3 60.7 34.4 49 46.2 44.5 56.6 43.1 63.8 39.3 73 34.6 84.7 32.2 122.8 68" fill="none" stroke="#fff" stroke-width="11.2" stroke-linejoin="round"/><path d="M5.1 84.3 6.4 68.8 9.7 57.7 15.6 60.7 21.4 54.8 27.3 60.7 34.4 49 46.2 44.5 56.6 43.1 63.8 39.3 73 34.6 84.7 32.2 122.8 68" fill="none" stroke="#000" stroke-width="9.6" stroke-linejoin="round" shape-rendering="crispEdges"/></svg><use href="#fr" transform="translate(996.25,450.3)"/>
<svg x="1175.7" y="450.3" width="127.8" height="84.3" overflow="hidden"><path d="M5.9 64.6 6.4 58.5 8.9 51.6 9.7 48.3 11.8 48.7 14.7 52 16.8 52.7 17.7 51 20.6 49.5 23.5 46 24.4 44.3 26.5 46.6 29.4 47.1 31.9 47.2 32.3 48.2 35.3 44.2 38.2 39.9 40.7 38.4 41.1 37.9 44.1 38.3 47 40.9 47.8 40.6 49.9 37.1 52.9 34.7 55.4 30.7 55.8 29.9 58.7 31.8 61.7 31.4 64.2 31 64.6 31.9 67.5 27.7 70 23.9 70.5 25.3 73.4 24.3 76.3 23.2 79.3 24.4 82.2 23.3 83 22.5 85.1 25.2 88.1 26.1 91 27.1 93.9 31.1 96.9 33 99.8 35 102.7 39.1 105.7 41 108.6 43 111.5 47.1 114.5 48.9 117.4 51 120.3 55.1 122.4 56.2 122.4 74.5 120.3 72.2 117.4 70.3 114.5 67.3 111.5 64.2 108.6 62.3 105.7 59.3 102.7 56.2 99.8 54.3 96.9 51.3 93.9 48.2 91 46.5 88.1 45.2 85.1 43.8 83 43.9 82.2 43.6 79.3 43.5 76.3 44.5 73.4 44.4 70.5 44.3 70 45.1 67.5 47.7 64.6 50.9 64.2 52.1 61.7 51.4 58.7 50.7 55.8 51 55.4 50.6 52.9 53.5 49.9 58.1 47.8 60.4 47 59.7 44.1 59.2 41.1 57.6 40.7 57.1 38.2 60.8 35.3 63.7 32.3 66.8 31.9 68.1 29.4 66.6 26.5 65.2 24.4 65.1 23.5 65.5 20.6 68.1 17.7 71.7 16.8 72.1 14.7 70.5 11.8 69.3 9.7 67.5 8.9 70 6.4 79.1 5.9 83.8Z" fill="#1f77b4" fill-opacity="0.3" stroke="#1f77b4" stroke-opacity="0.4" stroke-width="1.4" shape-rendering="crispEdges"/><path d="M5.9 66.2 6.4 60.3 8.9 53.1 9.7 49.9 11.8 50.5 14.7 53.5 16.8 54.4 17.7 52.8 20.6 51.1 23.5 47.7 24.4 46.1 26.5 48.1 29.4 48.8 31.9 49 32.3 49.7 35.3 45.8 38.2 41.7 40.7 39.9 41.1 39.6 44.1 40.1 47 42.5 47.8 42.3 49.9 38.9 52.9 36.2 55.4 32.4 55.8 31.8 58.7 33.3 61.7 33.1 64.2 32.8 64.6 33.5 67.5 29.4 70 25.7 70.5 26.9 73.4 26 76.3 25.1 79.3 26 82.2 25 83 24.4 85.1 26.9 88.1 28 91 29.3 93.9 33 96.9 35 99.8 37.1 102.7 41 105.7 43 108.6 45.1 111.5 49 114.5 51 117.4 53.1 120.3 57 122.4 58.2 122.4 73.9 120.3 71.6 117.4 69.6 114.5 66.7 111.5 63.6 108.6 61.6 105.7 58.7 102.7 55.7 99.8 53.6 96.9 50.7 93.9 47.7 91 45.8 88.1 44.1 85.1 42.4 83 42.1 82.2 41.9 79.3 41.8 76.3 42.7 73.4 42.7 70.5 42.7 70 43.3 67.5 46 64.6 49.2 64.2 50.4 61.7 49.7 58.7 49 55.8 49.2 55.4 48.9 52.9 51.9 49.9 56.3 47.8 58.7 47 58.1 44.1 57.5 41.1 55.9 40.7 55.5 38.2 59 35.3 62.1 32.3 65.2 31.9 66.3 29.4 65 26.5 63.6 24.4 63.3 23.5 63.8 20.6 66.5 17.7 69.9 16.8 70.4 14.7 68.8 11.8 67.6 9.7 65.9 8.9 68.4 6.4 77.3 5.9 82.1Z" fill="#ff7f0e" fill-opacity="0.24" stroke="#ff7f0e" stroke-opacity="0.3" stroke-width="1.2" shape-rendering="crispEdges"/></svg><path d="M1195.5 450.3V534.6M1210.5 450.3V534.6M1269.5 450.3V534.6M1283.5 450.3V534.6" stroke="#bdbdbd" stroke-width="1"/><use href="#gr" transform="translate(1175.7,450.3)"/><svg x="1175.7" y="450.3" width="127.8" height="84.3" overflow="hidden"><path d="M5.1 84.3 6.4 68.8 9.7 57.7 16.8 62.2 24.4 54.8 31.9 57.7 40.7 47.5 47.8 50.4 55.4 40.6 64.2 41.7 70 34.6 83 33.4 122.8 69.5" fill="none" stroke="#fff" stroke-width="11.2" stroke-linejoin="round"/><path d="M5.1 84.3 6.4 68.8 9.7 57.7 16.8 62.2 24.4 54.8 31.9 57.7 40.7 47.5 47.8 50.4 55.4 40.6 64.2 41.7 70 34.6 83 33.4 122.8 69.5" fill="none" stroke="#000" stroke-width="9.6" stroke-linejoin="round" shape-rendering="crispEdges"/></svg><use href="#fr" transform="translate(1175.7,450.3)"/>
<svg x="1355.15" y="450.3" width="127.8" height="84.3" overflow="hidden"><path d="M5.9 64 6.4 58.9 8.9 51.8 9.7 47.7 11.8 49 14.7 52.1 16.8 52.1 17.7 51.4 20.6 49.7 23.5 45.5 24.4 44.7 26.5 46.7 29.4 46.5 31.9 47.6 32.3 48.3 35.3 43.7 38.2 40.5 41.1 38.4 43.6 34.2 44.1 34.5 47 37.3 49.1 37.1 49.9 36.3 52.9 34.4 55.8 29.9 57.9 27.8 58.7 29 61.7 27.6 64.6 27.8 65.4 28.9 67.5 26.2 70.5 24.6 73 24.1 73.4 22.7 76.3 22.8 79.3 23.7 81.8 22.3 82.2 23 85.1 26.9 88.1 28.3 91 31.5 93.9 35.3 96.9 36.8 99.8 39.9 102.7 43.8 105.7 45.2 108.6 48.4 111.5 52.3 114.5 53.7 117.4 56.9 120.3 60.7 121.6 60.5 122.4 61.6 122.4 80.2 121.6 79.7 120.3 77.8 117.4 75.5 114.5 72.8 111.5 69.3 108.6 67 105.7 64.4 102.7 60.8 99.8 58.6 96.9 55.9 93.9 52.4 91 50.1 88.1 47.4 85.1 43.9 82.2 41.6 81.8 41.4 79.3 41.2 76.3 42.6 73.4 43.6 73 43.1 70.5 45.2 67.5 47.2 65.4 47.8 64.6 48.4 61.7 48.5 58.7 47.8 57.9 48.4 55.8 50.7 52.9 53.1 49.9 56.8 49.1 57.8 47 55.9 44.1 54.9 43.6 54.8 41.1 56.9 38.2 60.8 35.3 64.2 32.3 66.8 31.9 67.9 29.4 66.9 26.5 65.1 24.4 64.9 23.5 65.8 20.6 68 17.7 71.5 16.8 72.3 14.7 70.4 11.8 69.1 9.7 67.8 8.9 69.9 6.4 78.9 5.9 84Z" fill="#1f77b4" fill-opacity="0.3" stroke="#1f77b4" stroke-opacity="0.4" stroke-width="1.4" shape-rendering="crispEdges"/><path d="M5.9 65.7 6.4 60.6 8.9 53.3 9.7 49.4 11.8 50.8 14.7 53.6 16.8 53.9 17.7 53.1 20.6 51.2 23.5 47.2 24.4 46.4 26.5 48.2 29.4 48.3 31.9 49.3 32.3 49.9 35.3 45.4 38.2 42.2 41.1 39.9 43.6 35.9 44.1 36.3 47 38.8 49.1 38.8 49.9 38.1 52.9 35.9 55.8 31.7 57.9 29.6 58.7 30.6 61.7 29.4 64.6 29.6 65.4 30.5 67.5 28 70.5 26.3 73 25.7 73.4 24.5 76.3 24.7 79.3 25.5 81.8 24.4 82.2 25.1 85.1 28.8 88.1 30.5 91 33.5 93.9 37.3 96.9 38.9 99.8 42 102.7 45.7 105.7 47.4 108.6 50.5 111.5 54.2 114.5 55.8 117.4 59 120.3 62.6 121.6 62.7 122.4 63.7 122.4 79.5 121.6 79 120.3 77.2 117.4 74.8 114.5 72.1 111.5 68.7 108.6 66.3 105.7 63.7 102.7 60.3 99.8 57.9 96.9 55.2 93.9 51.8 91 49.4 88.1 46.7 85.1 43.3 82.2 41 81.8 40.7 79.3 40.4 76.3 41.3 73.4 41.9 73 41.4 70.5 43.5 67.5 45.4 65.4 46.2 64.6 46.7 61.7 46.7 58.7 46.2 57.9 46.6 55.8 48.9 52.9 51.5 49.9 55.1 49.1 56 47 54.3 44.1 53.2 43.6 53 41.1 55.3 38.2 59.1 35.3 62.4 32.3 65.2 31.9 66.2 29.4 65.2 26.5 63.5 24.4 63.2 23.5 64 20.6 66.4 17.7 69.8 16.8 70.6 14.7 68.8 11.8 67.4 9.7 66.1 8.9 68.3 6.4 77.2 5.9 82.3Z" fill="#ff7f0e" fill-opacity="0.24" stroke="#ff7f0e" stroke-opacity="0.3" stroke-width="1.2" shape-rendering="crispEdges"/></svg><path d="M1375.5 450.3V534.6M1433.5 450.3V534.6M1463.5 450.3V534.6" stroke="#bdbdbd" stroke-width="1"/><use href="#gr" transform="translate(1355.15,450.3)"/><svg x="1355.15" y="450.3" width="127.8" height="84.3" overflow="hidden"><path d="M5.1 84.3 6.4 68.8 9.7 57.7 16.8 62.2 24.4 54.8 31.9 57.7 43.6 44.5 49.1 47.5 57.9 38.2 65.4 38.2 73 33.4 81.8 35.8 121.6 74 122.4 74.7" fill="none" stroke="#fff" stroke-width="11.2" stroke-linejoin="round"/><path d="M5.1 84.3 6.4 68.8 9.7 57.7 16.8 62.2 24.4 54.8 31.9 57.7 43.6 44.5 49.1 47.5 57.9 38.2 65.4 38.2 73 33.4 81.8 35.8 121.6 74 122.4 74.7" fill="none" stroke="#000" stroke-width="9.6" stroke-linejoin="round" shape-rendering="crispEdges"/></svg><use href="#fr" transform="translate(1355.15,450.3)"/>
<svg x="1534.6" y="450.3" width="127.8" height="84.3" overflow="hidden"><path d="M5.9 63.6 6.4 59.4 8.9 51.6 9.7 47.4 11.8 49.7 14.7 52.1 17.7 52.6 18.5 54.1 20.6 52.1 23.5 47.3 26.5 44.9 28.6 42.8 29.4 42 32.3 45.2 34.4 47.1 35.3 44.7 38.2 42 41.1 38.7 44.1 33.6 46.2 32 47 32.7 49.9 32.3 52.9 34.5 53.7 35.1 55.8 31.9 58.7 30.4 61.7 28.2 64.6 24.3 66.7 23.5 67.5 23.5 70.5 21.2 73.4 21.3 76.3 21 77.2 19.6 79.3 22.7 82.2 25.6 85.1 26.9 88.1 30.8 91 33.7 93.9 35.1 96.9 38.9 99.8 41.8 102.7 43.2 105.7 47 108.6 49.9 111.5 51.3 114.5 55.2 117.4 58 120.3 59.4 122.4 62.5 122.4 80.2 120.3 78.9 117.4 75.5 114.5 72.9 111.5 70.8 108.6 67.4 105.7 64.8 102.7 62.7 99.8 59.3 96.9 56.7 93.9 54.6 91 51.2 88.1 48.6 85.1 46.5 82.2 43.1 79.3 40.5 77.2 39.1 76.3 38.4 73.4 39.5 70.5 41.8 67.5 42.7 66.7 43.4 64.6 45.7 61.7 47.5 58.7 50.2 55.8 53.2 53.7 54.3 52.9 54.2 49.9 53.6 47 51.7 46.2 51.6 44.1 54.7 41.1 57.7 38.2 61.5 35.3 65.7 34.4 66 32.3 64.6 29.4 63 28.6 61.6 26.5 64.3 23.5 68.1 20.6 70.8 18.5 73.5 17.7 73.4 14.7 70.7 11.8 68.9 9.7 68 8.9 70.1 6.4 78.6 5.9 84.2Z" fill="#1f77b4" fill-opacity="0.3" stroke="#1f77b4" stroke-opacity="0.4" stroke-width="1.4" shape-rendering="crispEdges"/><path d="M5.9 65.4 6.4 61 8.9 53.1 9.7 49.1 11.8 51.3 14.7 53.7 17.7 54.4 18.5 55.8 20.6 53.7 23.5 49.1 26.5 46.5 28.6 44.4 29.4 43.8 32.3 46.8 34.4 48.7 35.3 46.5 38.2 43.6 41.1 40.3 44.1 35.4 46.2 33.6 47 34.2 49.9 34.2 52.9 36.1 53.7 36.7 55.8 33.7 58.7 32.1 61.7 29.8 64.6 26.1 66.7 25.2 67.5 25.2 70.5 23.2 73.4 23.2 76.3 22.9 77.2 21.8 79.3 24.7 82.2 27.6 85.1 29.1 88.1 32.8 91 35.7 93.9 37.2 96.9 40.9 99.8 43.8 102.7 45.3 105.7 49 108.6 51.9 111.5 53.4 114.5 57.1 117.4 60 120.3 61.6 122.4 64.5 122.4 79.6 120.3 78.2 117.4 74.9 114.5 72.3 111.5 70.1 108.6 66.8 105.7 64.2 102.7 62 99.8 58.7 96.9 56.1 93.9 53.9 91 50.6 88.1 48 85.1 45.8 82.2 42.5 79.3 39.9 77.2 38.4 76.3 37.8 73.4 38.7 70.5 40.5 67.5 41.2 66.7 41.7 64.6 43.9 61.7 45.8 58.7 48.5 55.8 51.4 53.7 52.7 52.9 52.5 49.9 51.8 47 50.1 46.2 49.9 44.1 53 41.1 56 38.2 59.8 35.3 63.9 34.4 64.4 32.3 63 29.4 61.2 28.6 60 26.5 62.6 23.5 66.4 20.6 69.2 18.5 71.8 17.7 71.6 14.7 69.1 11.8 67.3 9.7 66.3 8.9 68.4 6.4 76.9 5.9 82.5Z" fill="#ff7f0e" fill-opacity="0.24" stroke="#ff7f0e" stroke-opacity="0.3" stroke-width="1.2" shape-rendering="crispEdges"/></svg><path d="M1554.5 450.3V534.6M1583.5 450.3V534.6M1613.5 450.3V534.6M1627.5 450.3V534.6" stroke="#bdbdbd" stroke-width="1"/><use href="#gr" transform="translate(1534.6,450.3)"/><svg x="1534.6" y="450.3" width="127.8" height="84.3" overflow="hidden"><path d="M5.1 84.3 6.4 68.8 9.7 57.7 18.5 63.6 28.6 52 34.4 56.3 46.2 41.7 53.7 44.5 66.7 33.4 77.2 33.4 122.8 75.4" fill="none" stroke="#fff" stroke-width="11.2" stroke-linejoin="round"/><path d="M5.1 84.3 6.4 68.8 9.7 57.7 18.5 63.6 28.6 52 34.4 56.3 46.2 41.7 53.7 44.5 66.7 33.4 77.2 33.4 122.8 75.4" fill="none" stroke="#000" stroke-width="9.6" stroke-linejoin="round" shape-rendering="crispEdges"/></svg><use href="#fr" transform="translate(1534.6,450.3)"/>
<svg x="1714.05" y="450.3" width="127.8" height="84.3" overflow="hidden"><path d="M5.9 63.6 6.4 59.9 8.9 53.4 11.4 46.4 11.8 48.1 14.7 49.6 17.7 50.8 19.3 53.4 20.6 51.3 23.5 46.9 26.5 44.8 29.4 40.6 32.3 41.2 35.3 44.2 38.2 45 38.2 44.2 41.1 42.5 44.1 38.8 47 34.9 49.9 33.2 51.6 30.8 52.9 30.5 55.8 33.3 58.3 33.7 58.7 32.6 61.7 31.6 64.6 28.5 67.5 25.2 70.5 24.2 71.7 22.5 73.4 21.3 76.3 22 79.3 20.5 82.2 19.8 83 21.3 85.1 22.5 88.1 24.5 91 28.7 93.9 30.6 96.9 32.7 99.8 36.8 102.7 38.8 105.7 40.8 108.6 45 111.5 46.9 114.5 49 117.4 53.2 120.3 55.1 122.4 56.4 122.4 75.7 120.3 73.4 117.4 70.3 114.5 68.3 111.5 65.3 108.6 62.1 105.7 60.2 102.7 57.1 99.8 54 96.9 52 93.9 48.9 91 45.8 88.1 43.8 85.1 40.8 83 38.5 82.2 39.1 79.3 39 76.3 40.1 73.4 42.2 71.7 42.7 70.5 43.4 67.5 46.5 64.6 48.6 61.7 50.6 58.7 53.8 58.3 53.7 55.8 52.3 52.9 51.6 51.6 50.7 49.9 52.1 47 55.9 44.1 58.6 41.1 61.3 38.2 65.2 38.2 64.7 35.3 62.9 32.3 62.1 29.4 60.2 26.5 63.4 23.5 67.6 20.6 70.7 19.3 71.9 17.7 71.5 14.7 68.9 11.8 66.6 11.4 67 8.9 72.6 6.4 78.4 5.9 84.2Z" fill="#1f77b4" fill-opacity="0.3" stroke="#1f77b4" stroke-opacity="0.4" stroke-width="1.4" shape-rendering="crispEdges"/><path d="M5.9 65.4 6.4 61.5 8.9 55 11.4 48.1 11.8 49.6 14.7 51.2 17.7 52.5 19.3 54.9 20.6 52.9 23.5 48.6 26.5 46.3 29.4 42.3 32.3 43 35.3 45.7 38.2 46.7 38.2 46 41.1 44.1 44.1 40.5 47 36.7 49.9 34.8 51.6 32.5 52.9 32.3 55.8 34.9 58.3 35.4 58.7 34.4 61.7 33.2 64.6 30.2 67.5 27.1 70.5 25.8 71.7 24.2 73.4 23.2 76.3 23.8 79.3 22.6 82.2 21.9 83 23.2 85.1 24.5 88.1 26.7 91 30.6 93.9 32.7 96.9 34.8 99.8 38.8 102.7 40.8 105.7 43 108.6 46.9 111.5 49 114.5 51.2 117.4 55.1 120.3 57.1 122.4 58.5 122.4 75 120.3 72.8 117.4 69.7 114.5 67.6 111.5 64.6 108.6 61.6 105.7 59.5 102.7 56.5 99.8 53.4 96.9 51.3 93.9 48.3 91 45.3 88.1 43.1 85.1 40.1 83 37.9 82.2 38.4 79.3 38.3 76.3 39 73.4 40.7 71.7 41 70.5 41.7 67.5 44.8 64.6 46.9 61.7 49 58.7 52 58.3 52 55.8 50.6 52.9 49.9 51.6 49 49.9 50.5 47 54.2 44.1 56.9 41.1 59.7 38.2 63.4 38.2 63 35.3 61.3 32.3 60.4 29.4 58.5 26.5 61.8 23.5 65.9 20.6 69 19.3 70.3 17.7 69.7 14.7 67.3 11.8 65 11.4 65.3 8.9 70.9 6.4 76.7 5.9 82.5Z" fill="#ff7f0e" fill-opacity="0.24" stroke="#ff7f0e" stroke-opacity="0.3" stroke-width="1.2" shape-rendering="crispEdges"/></svg><path d="M1734.5 450.3V534.6M1748.5 450.3V534.6M1807.5 450.3V534.6M1822.5 450.3V534.6" stroke="#bdbdbd" stroke-width="1"/><use href="#gr" transform="translate(1714.05,450.3)"/><svg x="1714.05" y="450.3" width="127.8" height="84.3" overflow="hidden"><path d="M5.1 84.3 6.4 68.8 11.4 56.8 19.3 62.4 29.4 50.3 38.2 54.8 51.6 40.7 58.3 43.7 71.7 32.6 83 33.5 122.8 70.4" fill="none" stroke="#fff" stroke-width="11.2" stroke-linejoin="round"/><path d="M5.1 84.3 6.4 68.8 11.4 56.8 19.3 62.4 29.4 50.3 38.2 54.8 51.6 40.7 58.3 43.7 71.7 32.6 83 33.5 122.8 70.4" fill="none" stroke="#000" stroke-width="9.6" stroke-linejoin="round" shape-rendering="crispEdges"/></svg><use href="#fr" transform="translate(1714.05,450.3)"/>
<svg x="1893.5" y="450.3" width="127.8" height="84.3" overflow="hidden"><path d="M5.9 64 6.4 60.1 8.9 53.4 11.4 47.9 11.8 49.4 14.7 50.2 17.7 52.4 19.3 54.8 20.6 52.1 23.5 48.9 26.5 46.8 29.4 42.2 32.3 39 33.6 38.8 35.3 38.5 38.2 40.4 41.1 43.3 41.6 42.2 44.1 39.6 47 37.6 49.9 33 52.9 29.9 55.8 27.9 55.8 26.5 58.7 28.7 61.7 31.7 62.5 30.9 64.6 29.5 67.5 28.3 70.5 24.6 73.4 22.5 73.8 23.3 76.3 21.1 78 20.8 79.3 22.7 82.2 23.1 85.1 26.3 88.1 30.2 91 31.6 93.9 34.8 96.9 38.7 99.8 40.1 102.7 43.3 105.7 47.2 108.6 48.6 111.5 51.8 114.5 55.7 117.4 57.1 120.3 60.3 122.4 63.4 122.4 80.4 120.3 78.9 117.4 76.2 114.5 72.7 111.5 70.4 108.6 67.7 105.7 64.2 102.7 61.9 99.8 59.2 96.9 55.7 93.9 53.4 91 50.7 88.1 47.2 85.1 44.9 82.2 42.2 79.3 40.4 78 40.4 76.3 41.5 73.8 42.3 73.4 43.2 70.5 45.6 67.5 47.2 64.6 50.1 62.5 51.8 61.7 50.6 58.7 49.2 55.8 47.3 55.8 46.6 52.9 50.4 49.9 53.7 47 56.2 44.1 60 41.6 62.8 41.1 61.9 38.2 60.7 35.3 59 33.6 57.3 32.3 59.3 29.4 62.6 26.5 65.2 23.5 69.1 20.6 72.4 19.3 73.1 17.7 72.5 14.7 70.4 11.8 67.6 11.4 68 8.9 73.4 6.4 78.3 5.9 84Z" fill="#1f77b4" fill-opacity="0.3" stroke="#1f77b4" stroke-opacity="0.4" stroke-width="1.4" shape-rendering="crispEdges"/><path d="M5.9 65.7 6.4 61.6 8.9 55.1 11.4 49.6 11.8 50.9 14.7 52 17.7 54.1 19.3 56.3 20.6 53.8 23.5 50.6 26.5 48.3 29.4 44 32.3 40.8 33.6 40.4 35.3 40.2 38.2 42.1 41.1 44.8 41.6 44 44.1 41.3 47 39.1 49.9 34.8 52.9 31.7 55.8 29.4 55.8 28.3 58.7 30.4 61.7 33.3 62.5 32.7 64.6 31.2 67.5 29.8 70.5 26.4 73.4 24.3 73.8 24.9 76.3 23 78 22.7 79.3 24.5 82.2 25.3 85.1 28.4 88.1 32.1 91 33.8 93.9 36.9 96.9 40.6 99.8 42.3 102.7 45.4 105.7 49.1 108.6 50.7 111.5 53.9 114.5 57.6 117.4 59.2 120.3 62.4 122.4 65.3 122.4 79.8 120.3 78.2 117.4 75.6 114.5 72.1 111.5 69.7 108.6 67.1 105.7 63.6 102.7 61.2 99.8 58.6 96.9 55.1 93.9 52.8 91 50.1 88.1 46.6 85.1 44.3 82.2 41.6 79.3 39.4 78 39.2 76.3 40.1 73.8 40.6 73.4 41.4 70.5 43.8 67.5 45.6 64.6 48.3 62.5 50.1 61.7 48.9 58.7 47.5 55.8 45.6 55.8 45 52.9 48.7 49.9 51.9 47 54.6 44.1 58.3 41.6 61 41.1 60.2 38.2 59 35.3 57.2 33.6 55.7 32.3 57.6 29.4 60.9 26.5 63.6 23.5 67.4 20.6 70.7 19.3 71.5 17.7 70.8 14.7 68.7 11.8 66 11.4 66.2 8.9 71.7 6.4 76.7 5.9 82.3Z" fill="#ff7f0e" fill-opacity="0.24" stroke="#ff7f0e" stroke-opacity="0.3" stroke-width="1.2" shape-rendering="crispEdges"/></svg><path d="M1928.5 450.3V534.6M1942.5 450.3V534.6M1972.5 450.3V534.6M1986.5 450.3V534.6" stroke="#bdbdbd" stroke-width="1"/><use href="#gr" transform="translate(1893.5,450.3)"/><svg x="1893.5" y="450.3" width="127.8" height="84.3" overflow="hidden"><path d="M5.1 84.3 6.4 68.8 11.4 57.9 19.3 63.6 33.6 47.8 41.6 52.5 55.8 37 62.5 41.5 73.8 32.6 78 32.6 122.8 75.9" fill="none" stroke="#fff" stroke-width="11.2" stroke-linejoin="round"/><path d="M5.1 84.3 6.4 68.8 11.4 57.9 19.3 63.6 33.6 47.8 41.6 52.5 55.8 37 62.5 41.5 73.8 32.6 78 32.6 122.8 75.9" fill="none" stroke="#000" stroke-width="9.6" stroke-linejoin="round" shape-rendering="crispEdges"/></svg><use href="#fr" transform="translate(1893.5,450.3)"/>
<svg x="2072.95" y="450.3" width="127.8" height="84.3" overflow="hidden"><path d="M5.9 64.6 6.4 59.9 8.9 53 11.4 48.4 11.8 49.4 14.7 51.4 17.7 55.9 18.9 57.8 20.6 54.2 23.5 51.4 26.5 48.1 29.4 42.9 32.3 40.1 33.6 38.9 35.3 37.9 38.2 39.8 41.1 41 41.1 39.6 44.1 38 47 35.8 49.9 31.7 52.9 30.1 55.8 27.8 57.1 25.3 58.7 27.4 61.7 29.4 64.6 29.8 67.5 28.5 70.5 26.3 73.4 22.5 73.4 23.7 76.3 23.2 79.3 21.2 81.4 21.8 82.2 22.7 85.1 24.3 88.1 28.4 91 31.6 93.9 33.2 96.9 37.3 99.8 40.4 102.7 42 105.7 46.1 108.6 49.3 111.5 50.9 114.5 55 117.4 58.1 120.3 59.7 121.6 62.2 122.4 63 122.4 80.6 121.6 79.9 120.3 79.2 117.4 75.6 114.5 72.7 111.5 70.4 108.6 66.8 105.7 63.9 102.7 61.5 99.8 57.9 96.9 55.1 93.9 52.7 91 49.1 88.1 46.2 85.1 43.8 82.2 40.2 81.4 39.7 79.3 41.3 76.3 42 73.4 43.5 73.4 44 70.5 45.7 67.5 48.2 64.6 51.2 61.7 48.7 58.7 47.1 57.1 46.6 55.8 47 52.9 49.8 49.9 52.9 47 54.8 44.1 57.6 41.1 60.7 41.1 60 38.2 59.3 35.3 58.9 33.6 57.7 32.3 59.5 29.4 63.8 26.5 66.8 23.5 70.8 20.6 75 18.9 76.5 17.7 75.2 14.7 72.2 11.8 67.9 11.4 67.7 8.9 73.6 6.4 78.4 5.9 83.8Z" fill="#1f77b4" fill-opacity="0.3" stroke="#1f77b4" stroke-opacity="0.4" stroke-width="1.4" shape-rendering="crispEdges"/><path d="M5.9 66.2 6.4 61.5 8.9 54.8 11.4 50.1 11.8 51 14.7 53.2 17.7 57.5 18.9 59.4 20.6 56 23.5 53.1 26.5 49.6 29.4 44.7 32.3 41.7 33.6 40.4 35.3 39.7 38.2 41.5 41.1 42.6 41.1 41.4 44.1 39.7 47 37.3 49.9 33.5 52.9 31.8 55.8 29.4 57.1 27.1 58.7 29 61.7 31 64.6 31.6 67.5 30.1 70.5 28 73.4 24.4 73.4 25.3 76.3 25 79.3 23.2 81.4 23.8 82.2 24.7 85.1 26.5 88.1 30.4 91 33.5 93.9 35.4 96.9 39.3 99.8 42.4 102.7 44.2 105.7 48.1 108.6 51.2 111.5 53.1 114.5 57 117.4 60.1 120.3 61.9 121.6 64.2 122.4 65 122.4 79.9 121.6 79.3 120.3 78.5 117.4 75 114.5 72.1 111.5 69.7 108.6 66.2 105.7 63.3 102.7 60.8 99.8 57.3 96.9 54.4 93.9 52 91 48.5 88.1 45.6 85.1 43.1 82.2 39.6 81.4 39 79.3 40.2 76.3 40.7 73.4 41.8 73.4 42.2 70.5 44 67.5 46.5 64.6 49.4 61.7 47 58.7 45.4 57.1 44.8 55.8 45.3 52.9 48.1 49.9 51.1 47 53.1 44.1 55.9 41.1 58.9 41.1 58.3 38.2 57.6 35.3 57.2 33.6 56.1 32.3 57.8 29.4 62 26.5 65.2 23.5 69.1 20.6 73.3 18.9 74.8 17.7 73.5 14.7 70.4 11.8 66.3 11.4 66 8.9 71.9 6.4 76.7 5.9 82.1Z" fill="#ff7f0e" fill-opacity="0.24" stroke="#ff7f0e" stroke-opacity="0.3" stroke-width="1.2" shape-rendering="crispEdges"/></svg><path d="M2092.5 450.3V534.6M2122.5 450.3V534.6M2166.5 450.3V534.6M2180.5 450.3V534.6" stroke="#bdbdbd" stroke-width="1"/><use href="#gr" transform="translate(2072.95,450.3)"/><svg x="2072.95" y="450.3" width="127.8" height="84.3" overflow="hidden"><path d="M5.1 84.3 6.4 68.8 11.4 57.9 18.9 66.9 33.6 48.1 41.1 50.3 57.1 36.1 64.6 40.7 73.4 33.5 81.4 34.3 121.6 74.7 122.4 75.4" fill="none" stroke="#fff" stroke-width="11.2" stroke-linejoin="round"/><path d="M5.1 84.3 6.4 68.8 11.4 57.9 18.9 66.9 33.6 48.1 41.1 50.3 57.1 36.1 64.6 40.7 73.4 33.5 81.4 34.3 121.6 74.7 122.4 75.4" fill="none" stroke="#000" stroke-width="9.6" stroke-linejoin="round" shape-rendering="crispEdges"/></svg><use href="#fr" transform="translate(2072.95,450.3)"/>
<text transform="translate(2220.5,490.95) rotate(90)" font-size="53.33" text-anchor="middle">0.03</text>
<svg x="278.45" y="568.2" width="127.8" height="84.3" overflow="hidden"><path d="M5.9 65 6.4 59.5 8.9 47.6 9.3 47.2 11.8 45.7 14.7 43.3 15.6 44.3 17.7 44.9 20.6 45.3 21.4 47.1 23.5 44.1 26.5 39.4 28.6 38.2 29.4 37.4 32.3 35 35.3 35.1 38.2 33.2 41.1 30.9 44.1 31 47 29.1 49.1 27.2 49.9 28.3 52.9 26.5 55.8 24.4 58.7 24.6 61.7 22.9 63.8 21.1 64.6 22.6 67.5 22.3 69.6 21.5 70.5 23.5 73.4 25.1 76.3 26.9 79.3 31.1 82.2 33.3 85.1 35.1 88.1 39.3 91 41.4 93.9 43.3 96.9 47.5 99.8 49.6 102.7 51.5 105.7 55.7 108.6 57.8 111.5 59.7 114.5 63.9 117.4 66 118.2 66 119.6 69.9 119.6 87.1 118.2 85.4 117.4 84.2 114.5 81.1 111.5 79.1 108.6 76 105.7 72.9 102.7 70.9 99.8 67.8 96.9 64.8 93.9 62.8 91 59.6 88.1 56.6 85.1 54.6 82.2 51.4 79.3 48.4 76.3 46.4 73.4 43.2 70.5 41.1 69.6 41.6 67.5 41.5 64.6 41.7 63.8 42.5 61.7 42.9 58.7 43.8 55.8 45.7 52.9 46.4 49.9 47.3 49.1 48.4 47 48.9 44.1 49.9 41.1 52 38.2 52.8 35.3 53.9 32.3 56 29.4 56.8 28.6 57 26.5 60.3 23.5 63.4 21.4 65.8 20.6 66.1 17.7 64.2 15.6 63 14.7 64.1 11.8 64.8 9.3 65.8 8.9 68.3 6.4 78.6 5.9 83.5Z" fill="#1f77b4" fill-opacity="0.3" stroke="#1f77b4" stroke-opacity="0.4" stroke-width="1.4" shape-rendering="crispEdges"/><path d="M5.9 66.6 6.4 61.1 8.9 49.4 9.3 48.7 11.8 47.3 14.7 45.1 15.6 45.9 17.7 46.5 20.6 47.1 21.4 48.7 23.5 45.7 26.5 41.2 28.6 39.8 29.4 39 32.3 36.8 35.3 36.6 38.2 34.9 41.1 32.7 44.1 32.5 47 30.8 49.1 29 49.9 29.8 52.9 28.2 55.8 26.2 58.7 26.2 61.7 24.6 63.8 22.9 64.6 24.2 67.5 24.1 69.6 23.6 70.5 25.4 73.4 27.1 76.3 29.1 79.3 33.1 82.2 35.3 85.1 37.3 88.1 41.3 91 43.5 93.9 45.5 96.9 49.5 99.8 51.7 102.7 53.7 105.7 57.7 108.6 59.8 111.5 61.9 114.5 65.9 117.4 68 118.2 68.2 119.6 71.8 119.6 86.5 118.2 84.7 117.4 83.6 114.5 80.6 111.5 78.4 108.6 75.4 105.7 72.4 102.7 70.2 99.8 67.2 96.9 64.2 93.9 62 91 59 88.1 56 85.1 53.9 82.2 50.8 79.3 47.8 76.3 45.7 73.4 42.6 70.5 40.3 69.6 40.5 67.5 40.2 64.6 40.1 63.8 40.7 61.7 41.2 58.7 42.2 55.8 43.9 52.9 44.7 49.9 45.7 49.1 46.6 47 47.2 44.1 48.3 41.1 50.2 38.2 51.2 35.3 52.3 32.3 54.2 29.4 55.2 28.6 55.3 26.5 58.5 23.5 61.8 21.4 64.2 20.6 64.4 17.7 62.5 15.6 61.3 14.7 62.3 11.8 63.2 9.3 64.1 8.9 66.5 6.4 76.9 5.9 81.9Z" fill="#ff7f0e" fill-opacity="0.24" stroke="#ff7f0e" stroke-opacity="0.3" stroke-width="1.2" shape-rendering="crispEdges"/></svg><path d="M298.5 568.2V652.5M313.5 568.2V652.5M357.5 568.2V652.5M386.5 568.2V652.5" stroke="#bdbdbd" stroke-width="1"/><use href="#gr" transform="translate(278.45,568.2)"/><svg x="278.45" y="568.2" width="127.8" height="84.3" overflow="hidden"><path d="M5.1 84.3 6.4 68.8 9.3 56.2 15.6 53.4 21.4 56.2 28.6 47.3 49.1 37.9 63.8 32 69.6 34.4 118.2 79.7 123.3 88.5" fill="none" stroke="#fff" stroke-width="11.2" stroke-linejoin="round"/><path d="M5.1 84.3 6.4 68.8 9.3 56.2 15.6 53.4 21.4 56.2 28.6 47.3 49.1 37.9 63.8 32 69.6 34.4 118.2 79.7 123.3 88.5" fill="none" stroke="#000" stroke-width="9.6" stroke-linejoin="round" shape-rendering="crispEdges"/></svg><use href="#fr" transform="translate(278.45,568.2)"/>
<text x="241.45" y="668.1" font-size="44.44" text-anchor="end">0</text>
<text x="241.45" y="625.95" font-size="44.44" text-anchor="end">3</text>
<text x="241.45" y="583.8" font-size="44.44" text-anchor="end">6</text>
<svg x="457.9" y="568.2" width="127.8" height="84.3" overflow="hidden"><path d="M5.9 65.3 6.4 58.9 8.9 48.2 9.7 46 11.8 44.4 14.7 43.7 16.8 44.6 17.7 43.5 20.6 44.1 22.7 45.9 23.5 43.5 26.5 39.4 29.4 36.7 31.5 32.6 32.3 32.3 35.3 32.6 38.2 30.3 41.1 29.3 44.1 29.5 46.2 27.5 47 27.2 49.9 27.2 52.9 24.8 55.8 23.6 58.7 23.6 60.8 21.4 61.7 21.3 64.6 22 67.5 20.2 68.4 20.1 70.5 23 73.4 24.4 76.3 27.3 79.3 31.2 82.2 32.6 85.1 35.5 88.1 39.4 91 40.8 93.9 43.7 96.9 47.6 99.8 49 102.7 51.9 105.7 55.8 108.6 57.2 111.5 60.2 114.5 64.1 117.4 65.4 118.2 66.4 119.6 70 119.6 87 118.2 85.2 117.4 84.5 114.5 81.1 111.5 78.9 108.6 76.3 105.7 72.9 102.7 70.7 99.8 68.1 96.9 64.6 93.9 62.5 91 59.8 88.1 56.4 85.1 54.3 82.2 51.6 79.3 48.2 76.3 46.1 73.4 43.4 70.5 40 68.4 39.2 67.5 39.5 64.6 40.1 61.7 42 60.8 42.3 58.7 42.5 55.8 44.3 52.9 45.5 49.9 46 47 47.9 46.2 48.2 44.1 48.2 41.1 49.9 38.2 50.8 35.3 51.2 32.3 52.8 31.5 53 29.4 55.2 26.5 59.8 23.5 63.8 22.7 64.3 20.6 64.4 17.7 63.7 16.8 62.9 14.7 63.9 11.8 64.4 9.7 64.2 8.9 68.4 6.4 78.9 5.9 83.4Z" fill="#1f77b4" fill-opacity="0.3" stroke="#1f77b4" stroke-opacity="0.4" stroke-width="1.4" shape-rendering="crispEdges"/><path d="M5.9 66.8 6.4 60.6 8.9 50 9.7 47.5 11.8 46.1 14.7 45.4 16.8 46.1 17.7 45.3 20.6 45.9 22.7 47.4 23.5 45.3 26.5 41.2 29.4 38.3 31.5 34.4 32.3 34 35.3 34.1 38.2 32.1 41.1 31 44.1 31.1 46.2 29.3 47 29 49.9 28.8 52.9 26.5 55.8 25.3 58.7 25.2 60.8 23.2 61.7 23.1 64.6 23.8 67.5 22.3 68.4 22.2 70.5 24.9 73.4 26.6 76.3 29.4 79.3 33.1 82.2 34.8 85.1 37.6 88.1 41.3 91 43 93.9 45.8 96.9 49.5 99.8 51.2 102.7 54 105.7 57.8 108.6 59.4 111.5 62.3 114.5 66 117.4 67.6 118.2 68.5 119.6 71.9 119.6 86.4 118.2 84.5 117.4 83.8 114.5 80.5 111.5 78.2 108.6 75.6 105.7 72.3 102.7 70 99.8 67.4 96.9 64.1 93.9 61.8 91 59.2 88.1 55.9 85.1 53.6 82.2 50.9 79.3 47.7 76.3 45.4 73.4 42.7 70.5 39.4 68.4 38.4 67.5 38.6 64.6 39 61.7 40.3 60.8 40.6 58.7 40.9 55.8 42.6 52.9 43.8 49.9 44.4 47 46.1 46.2 46.4 44.1 46.6 41.1 48.1 38.2 49.1 35.3 49.5 32.3 51 31.5 51.3 29.4 53.6 26.5 58.1 23.5 62.1 22.7 62.7 20.6 62.7 17.7 62 16.8 61.3 14.7 62.2 11.8 62.7 9.7 62.6 8.9 66.7 6.4 77.2 5.9 81.8Z" fill="#ff7f0e" fill-opacity="0.24" stroke="#ff7f0e" stroke-opacity="0.3" stroke-width="1.2" shape-rendering="crispEdges"/></svg><path d="M492.5 568.2V652.5M507.5 568.2V652.5M536.5 568.2V652.5M551.5 568.2V652.5" stroke="#bdbdbd" stroke-width="1"/><use href="#gr" transform="translate(457.9,568.2)"/><svg x="457.9" y="568.2" width="127.8" height="84.3" overflow="hidden"><path d="M5.1 84.3 6.4 68.8 9.7 54.8 16.8 53.4 22.7 54.8 31.5 42.9 46.2 37.9 60.8 32 68.4 33.1 118.2 79.7 123.3 88.5" fill="none" stroke="#fff" stroke-width="11.2" stroke-linejoin="round"/><path d="M5.1 84.3 6.4 68.8 9.7 54.8 16.8 53.4 22.7 54.8 31.5 42.9 46.2 37.9 60.8 32 68.4 33.1 118.2 79.7 123.3 88.5" fill="none" stroke="#000" stroke-width="9.6" stroke-linejoin="round" shape-rendering="crispEdges"/></svg><use href="#fr" transform="translate(457.9,568.2)"/>
<svg x="637.35" y="568.2" width="127.8" height="84.3" overflow="hidden"><path d="M5.9 65.1 6.4 58.5 8.9 49.7 9.3 48.7 11.8 45.8 14.7 45 16.8 44.4 17.7 43.6 20.6 46.5 22.7 48.6 23.5 46.1 26.5 43.5 29.4 40.6 31.5 36.6 32.3 37.1 35.3 36.3 38.2 33.5 41.1 33.1 44.1 32.2 47 29.4 49.1 29.4 49.9 29.5 52.9 26.9 55.8 26.6 58.7 25.8 61.7 23.2 64.6 22.9 66.7 22.5 67.5 21 70.5 21.5 72.6 21.6 73.4 20.7 76.3 23.9 79.3 27.1 82.2 28.5 85.1 32.4 88.1 35.6 91 37 93.9 40.8 96.9 44 99.8 45.4 102.7 49.3 105.7 52.4 108.6 53.9 111.5 57.7 114.5 60.9 117.4 62.3 120.3 66.2 121.2 67.3 122.1 67.9 122.1 87.4 121.2 84.7 120.3 84.1 117.4 81.8 114.5 78.3 111.5 75.6 108.6 73.4 105.7 69.8 102.7 67.2 99.8 64.9 96.9 61.4 93.9 58.8 91 56.5 88.1 52.9 85.1 50.3 82.2 48 79.3 44.5 76.3 41.9 73.4 40.5 72.6 39.5 70.5 40.5 67.5 42.2 66.7 41.8 64.6 42.9 61.7 44.6 58.7 45 55.8 46.4 52.9 48.1 49.9 48.6 49.1 49.1 47 50.6 44.1 51.2 41.1 52.7 38.2 54.5 35.3 55.1 32.3 56.7 31.5 57.6 29.4 59.3 26.5 63 23.5 66.9 22.7 67.2 20.6 66 17.7 64.3 16.8 62.9 14.7 64.4 11.8 66.4 9.3 67.1 8.9 69 6.4 79.1 5.9 83.5Z" fill="#1f77b4" fill-opacity="0.3" stroke="#1f77b4" stroke-opacity="0.4" stroke-width="1.4" shape-rendering="crispEdges"/><path d="M5.9 66.7 6.4 60.3 8.9 51.3 9.3 50.2 11.8 47.6 14.7 46.6 16.8 46 17.7 45.3 20.6 48.1 22.7 50.1 23.5 47.9 26.5 45.2 29.4 42.1 31.5 38.4 32.3 38.8 35.3 37.9 38.2 35.3 41.1 34.7 44.1 33.8 47 31.2 49.1 31 49.9 31.1 52.9 28.7 55.8 28.3 58.7 27.4 61.7 25 64.6 24.6 66.7 24.1 67.5 22.8 70.5 23.3 72.6 23.4 73.4 22.8 76.3 25.9 79.3 29.1 82.2 30.7 85.1 34.4 88.1 37.5 91 39.2 93.9 42.8 96.9 46 99.8 47.6 102.7 51.3 105.7 54.4 108.6 56 111.5 59.8 114.5 62.8 117.4 64.5 120.3 68.2 121.2 69.2 122.1 70.1 122.1 86.7 121.2 84.1 120.3 83.4 117.4 81.1 114.5 77.7 111.5 75 108.6 72.6 105.7 69.2 102.7 66.6 99.8 64.2 96.9 60.8 93.9 58.1 91 55.8 88.1 52.4 85.1 49.7 82.2 47.3 79.3 43.9 76.3 41.3 73.4 39.6 72.6 38.6 70.5 39.3 67.5 40.5 66.7 40.2 64.6 41.2 61.7 42.8 58.7 43.4 55.8 44.7 52.9 46.3 49.9 46.9 49.1 47.5 47 48.8 44.1 49.5 41.1 51.1 38.2 52.8 35.3 53.5 32.3 55 31.5 55.8 29.4 57.7 26.5 61.4 23.5 65.2 22.7 65.6 20.6 64.3 17.7 62.5 16.8 61.3 14.7 62.7 11.8 64.7 9.3 65.5 8.9 67.4 6.4 77.3 5.9 81.9Z" fill="#ff7f0e" fill-opacity="0.24" stroke="#ff7f0e" stroke-opacity="0.3" stroke-width="1.2" shape-rendering="crispEdges"/></svg><path d="M657.5 568.2V652.5M672.5 568.2V652.5M730.5 568.2V652.5M745.5 568.2V652.5" stroke="#bdbdbd" stroke-width="1"/><use href="#gr" transform="translate(637.35,568.2)"/><svg x="637.35" y="568.2" width="127.8" height="84.3" overflow="hidden"><path d="M5.1 84.3 6.4 68.8 9.3 57.6 16.8 53.4 22.7 57.6 31.5 47.2 49.1 39.2 66.7 32 72.6 33 121.2 79.7 125.4 88.5" fill="none" stroke="#fff" stroke-width="11.2" stroke-linejoin="round"/><path d="M5.1 84.3 6.4 68.8 9.3 57.6 16.8 53.4 22.7 57.6 31.5 47.2 49.1 39.2 66.7 32 72.6 33 121.2 79.7 125.4 88.5" fill="none" stroke="#000" stroke-width="9.6" stroke-linejoin="round" shape-rendering="crispEdges"/></svg><use href="#fr" transform="translate(637.35,568.2)"/>
<svg x="816.8" y="568.2" width="127.8" height="84.3" overflow="hidden"><path d="M5.9 66.5 6.4 60.3 8.9 50.9 9.3 48.7 11.8 47.1 14.7 47.9 15.6 47.3 17.7 46.7 20.6 48.7 22.7 48.7 23.5 46.8 26.5 45.4 29.4 42 30.2 40.2 32.3 40.7 35.3 38.9 38.2 36.7 41.1 36.8 44.1 35 47 32.7 49.1 33.2 49.9 32.3 52.9 29.9 55.8 29.9 58.7 27.9 60.8 25.9 61.7 27 64.6 25.1 67.5 22.9 69.6 23.4 70.5 23.6 73.4 25.5 76.3 29.7 79.3 31.8 82.2 33.7 85.1 37.9 88.1 40 91 41.9 93.9 46.1 96.9 48.2 99.8 50.1 102.7 54.3 105.7 56.4 108.6 58.3 111.5 62.5 114.5 64.5 117.4 66.5 120.3 70.7 122.4 71.9 122.4 87.4 120.3 85.1 117.4 83.1 114.5 80 111.5 76.9 108.6 74.9 105.7 71.8 102.7 68.7 99.8 66.7 96.9 63.6 93.9 60.5 91 58.5 88.1 55.4 85.1 52.3 82.2 50.3 79.3 47.2 76.3 44.1 73.4 42.1 70.5 38.9 69.6 37.9 67.5 39.5 64.6 40.4 61.7 41.4 60.8 42.5 58.7 43.1 55.8 44.3 52.9 46.5 49.9 47.6 49.1 47.7 47 49.4 44.1 50.2 41.1 51.3 38.2 53.3 35.3 54.2 32.3 55.2 30.2 56.9 29.4 57.2 26.5 59.9 23.5 63.5 22.7 63.8 20.6 63.2 17.7 63.3 15.6 62.4 14.7 62.4 11.8 63.8 9.3 63.8 8.9 65.4 6.4 77 5.9 81.6Z" fill="#1f77b4" fill-opacity="0.3" stroke="#1f77b4" stroke-opacity="0.4" stroke-width="1.4" shape-rendering="crispEdges"/><path d="M5.9 67.4 6.4 61.4 8.9 51.7 9.3 49.6 11.8 48.2 14.7 48.7 15.6 48.2 17.7 47.7 20.6 49.5 22.7 49.6 23.5 47.9 26.5 46.2 29.4 42.9 30.2 41.3 32.3 41.5 35.3 39.8 38.2 37.7 41.1 37.6 44.1 35.9 47 33.8 49.1 34.1 49.9 33.2 52.9 31 55.8 30.7 58.7 28.8 60.8 26.9 61.7 27.8 64.6 26 67.5 24 69.6 24.2 70.5 24.5 73.4 26.6 76.3 30.5 79.3 31.8 82.2 32.2 85.1 34.5 88.1 35.1 91 35.5 93.9 37.9 96.9 39.1 99.8 40 102.7 42.9 105.7 44 108.6 45 111.5 47.9 114.5 48.9 117.4 49.9 120.3 53.2 122.4 55.6 122.4 86.5 120.3 84.2 117.4 82.1 114.5 79 111.5 76 108.6 73.9 105.7 70.8 102.7 67.8 99.8 65.7 96.9 62.6 93.9 59.6 91 57.5 88.1 54.4 85.1 51.4 82.2 49.3 79.3 46.2 76.3 43.2 73.4 41.1 70.5 38 69.6 37 67.5 38.5 64.6 39.5 61.7 40.6 60.8 41.5 58.7 42.2 55.8 43.5 52.9 45.6 49.9 46.6 49.1 46.9 47 48.4 44.1 49.3 41.1 50.4 38.2 52.3 35.3 53.2 32.3 54.4 30.2 55.9 29.4 56.3 26.5 59 23.5 62.5 22.7 62.9 20.6 62.3 17.7 62.3 15.6 61.5 14.7 61.5 11.8 62.8 9.3 62.9 8.9 64.6 6.4 76 5.9 80.7Z" fill="#ff7f0e" fill-opacity="0.24" stroke="#ff7f0e" stroke-opacity="0.3" stroke-width="1.2" shape-rendering="crispEdges"/></svg><path d="M851.5 568.2V652.5M866.5 568.2V652.5M910.5 568.2V652.5M924.5 568.2V652.5" stroke="#bdbdbd" stroke-width="1"/><use href="#gr" transform="translate(816.8,568.2)"/><svg x="816.8" y="568.2" width="127.8" height="84.3" overflow="hidden"><path d="M5.1 84.3 6.4 68.8 9.3 56.2 15.6 54.8 22.7 56.2 30.2 48.8 49.1 40.3 60.8 34.4 69.6 30.5 122.4 79.7 126.6 88.5" fill="none" stroke="#fff" stroke-width="11.2" stroke-linejoin="round"/><path d="M5.1 84.3 6.4 68.8 9.3 56.2 15.6 54.8 22.7 56.2 30.2 48.8 49.1 40.3 60.8 34.4 69.6 30.5 122.4 79.7 126.6 88.5" fill="none" stroke="#000" stroke-width="9.6" stroke-linejoin="round" shape-rendering="crispEdges"/></svg><use href="#fr" transform="translate(816.8,568.2)"/>
<svg x="996.25" y="568.2" width="127.8" height="84.3" overflow="hidden"><path d="M5.9 64.1 6.4 58.8 8.9 50.6 9.7 46.2 11.8 45.6 14.7 46.2 15.6 44.8 17.7 44.7 20.6 45.9 22.7 44.7 23.5 44.9 26.5 47 27.3 46 29.4 42.5 32.3 38.8 34.4 34 35.3 33.7 38.2 34 41.1 31.7 44.1 30.7 46.2 31.2 47 29.6 49.9 28.2 52.9 28.1 55.8 25.4 56.6 25.1 58.7 25.6 61.7 23.3 63.8 22.6 64.6 23.6 67.5 21.3 70.5 20.4 73 21.1 73.4 20.1 76.3 22.9 79.3 26.7 82.2 28 85.1 30.8 88.1 34.7 91 36 93.9 38.8 96.9 42.6 99.8 43.9 102.7 46.7 105.7 50.5 108.6 51.8 111.5 54.7 114.5 58.5 117.4 59.7 120.3 62.6 122.4 65.6 122.4 82.7 120.3 81.3 117.4 78.8 114.5 75.5 111.5 73.4 108.6 70.9 105.7 67.5 102.7 65.5 99.8 62.9 96.9 59.6 93.9 57.5 91 55 88.1 51.7 85.1 49.6 82.2 47 79.3 43.7 76.3 41.7 73.4 39.1 73 38.1 70.5 39.6 67.5 41.3 64.6 42.4 63.8 43.5 61.7 44.2 58.7 44.5 56.6 45.8 55.8 46.2 52.9 46.9 49.9 48.9 47 50.2 46.2 49.9 44.1 51.3 41.1 52.2 38.2 52.6 35.3 54.2 34.4 54.4 32.3 57.3 29.4 62.9 27.3 66.3 26.5 65.5 23.5 65.2 22.7 64.9 20.6 64.3 17.7 64.9 15.6 64.9 14.7 64.5 11.8 65.8 9.7 66.2 8.9 68.8 6.4 78.9 5.9 84Z" fill="#1f77b4" fill-opacity="0.3" stroke="#1f77b4" stroke-opacity="0.4" stroke-width="1.4" shape-rendering="crispEdges"/><path d="M5.9 65.8 6.4 60.5 8.9 52.1 9.7 48 11.8 47.3 14.7 47.7 15.6 46.5 17.7 46.4 20.6 47.5 22.7 46.4 23.5 46.6 26.5 48.6 27.3 47.8 29.4 44.2 32.3 40.3 34.4 35.8 35.3 35.4 38.2 35.5 41.1 33.4 44.1 32.4 46.2 32.8 47 31.3 49.9 30 52.9 29.7 55.8 27.2 56.6 26.9 58.7 27.2 61.7 25.1 63.8 24.4 64.6 25.2 67.5 23.2 70.5 22.5 73 23 73.4 22.2 76.3 25 79.3 28.6 82.2 30.2 85.1 32.9 88.1 36.6 91 38.1 93.9 40.9 96.9 44.5 99.8 46 102.7 48.8 105.7 52.4 108.6 54 111.5 56.8 114.5 60.4 117.4 61.9 120.3 64.7 122.4 67.6 122.4 82.1 120.3 80.7 117.4 78.1 114.5 74.9 111.5 72.7 108.6 70.2 105.7 67 102.7 64.8 99.8 62.2 96.9 59 93.9 56.9 91 54.3 88.1 51.1 85.1 48.9 82.2 46.4 79.3 43.2 76.3 41 73.4 38.4 73 37.5 70.5 38.7 67.5 40.1 64.6 40.8 63.8 41.7 61.7 42.4 58.7 42.9 56.6 44.1 55.8 44.5 52.9 45.3 49.9 47.1 47 48.5 46.2 48.3 44.1 49.5 41.1 50.5 38.2 50.9 35.3 52.4 34.4 52.7 32.3 55.7 29.4 61.1 27.3 64.6 26.5 63.8 23.5 63.5 22.7 63.2 20.6 62.7 17.7 63.2 15.6 63.2 14.7 62.8 11.8 64.1 9.7 64.5 8.9 67.2 6.4 77.2 5.9 82.3Z" fill="#ff7f0e" fill-opacity="0.24" stroke="#ff7f0e" stroke-opacity="0.3" stroke-width="1.2" shape-rendering="crispEdges"/></svg><path d="M1016.5 568.2V652.5M1045.5 568.2V652.5M1104.5 568.2V652.5" stroke="#bdbdbd" stroke-width="1"/><use href="#gr" transform="translate(996.25,568.2)"/><svg x="996.25" y="568.2" width="127.8" height="84.3" overflow="hidden"><path d="M5.1 84.3 6.4 68.8 9.7 56.2 15.6 54.8 22.7 54.8 27.3 56.2 34.4 44.3 46.2 40.3 56.6 35.5 63.8 33.1 73 33.1 122.8 78.1" fill="none" stroke="#fff" stroke-width="11.2" stroke-linejoin="round"/><path d="M5.1 84.3 6.4 68.8 9.7 56.2 15.6 54.8 22.7 54.8 27.3 56.2 34.4 44.3 46.2 40.3 56.6 35.5 63.8 33.1 73 33.1 122.8 78.1" fill="none" stroke="#000" stroke-width="9.6" stroke-linejoin="round" shape-rendering="crispEdges"/></svg><use href="#fr" transform="translate(996.25,568.2)"/>
<svg x="1175.7" y="568.2" width="127.8" height="84.3" overflow="hidden"><path d="M5.9 63.7 6.4 59.3 8.9 50.5 9.7 45.8 11.8 47.1 14.7 48.2 16.8 47.2 17.7 47.6 20.6 46.8 22.7 44.3 23.5 45 26.5 45 29.4 43 30.2 43.7 32.3 41.7 35.3 36.8 38.2 34.1 39 33.6 41.1 31.4 44.1 31.3 47 30.7 49.1 28.4 49.9 29.2 52.9 28.9 55.8 26.6 58.3 26.9 58.7 27.1 61.7 24.1 64.6 23.5 67.1 22.5 67.5 21.1 70.5 22.1 73.4 22.5 74.2 21.1 76.3 23.6 79.3 26.8 82.2 28.1 85.1 31.9 88.1 34.9 91 36.3 93.9 40.1 96.9 43.1 99.8 44.5 102.7 48.3 105.7 51.3 108.6 52.6 111.5 56.5 114.5 59.5 117.4 60.8 120.3 64.7 122.4 66.9 122.4 84.3 120.3 82.5 117.4 80.3 114.5 76.9 111.5 74.3 108.6 72.1 105.7 68.7 102.7 66.1 99.8 64 96.9 60.5 93.9 58 91 55.8 88.1 52.3 85.1 49.8 82.2 47.6 79.3 44.1 76.3 41.6 74.2 40.9 73.4 40.4 70.5 41.2 67.5 42.4 67.1 41.8 64.6 43.4 61.7 45.5 58.7 46.3 58.3 46.8 55.8 47.9 52.9 47.9 49.9 48.9 49.1 49.6 47 49.7 44.1 51 41.1 52.5 39 52.5 38.2 53.8 35.3 57.7 32.3 60.5 30.2 63.3 29.4 63.9 26.5 63.7 23.5 64.5 22.7 65.1 20.6 65.4 17.7 67 16.8 67.9 14.7 66.7 11.8 66.4 9.7 66.4 8.9 68.9 6.4 78.7 5.9 84.2Z" fill="#1f77b4" fill-opacity="0.3" stroke="#1f77b4" stroke-opacity="0.4" stroke-width="1.4" shape-rendering="crispEdges"/><path d="M5.9 65.4 6.4 61 8.9 52 9.7 47.6 11.8 48.7 14.7 49.8 16.8 49 17.7 49.3 20.6 48.3 22.7 46.1 23.5 46.7 26.5 46.6 29.4 44.8 30.2 45.4 32.3 43.3 35.3 38.6 38.2 35.8 39 35.2 41.1 33.2 44.1 32.9 47 32.2 49.1 30.3 49.9 30.8 52.9 30.4 55.8 28.5 58.3 28.6 58.7 28.7 61.7 25.9 64.6 25.1 67.1 24.1 67.5 22.9 70.5 23.9 73.4 24.4 74.2 23.2 76.3 25.7 79.3 28.7 82.2 30.3 85.1 33.9 88.1 36.9 91 38.4 93.9 42.1 96.9 45.1 99.8 46.6 102.7 50.3 105.7 53.3 108.6 54.8 111.5 58.5 114.5 61.4 117.4 63 120.3 66.7 122.4 68.8 122.4 83.7 120.3 81.9 117.4 79.6 114.5 76.3 111.5 73.7 108.6 71.4 105.7 68.1 102.7 65.5 99.8 63.2 96.9 59.9 93.9 57.3 91 55 88.1 51.7 85.1 49.1 82.2 46.9 79.3 43.5 76.3 41 74.2 40 73.4 39.5 70.5 40 67.5 40.7 67.1 40.2 64.6 41.7 61.7 43.7 58.7 44.7 58.3 45.1 55.8 46.1 52.9 46.3 49.9 47.2 49.1 47.9 47 48 44.1 49.3 41.1 50.7 39 50.9 38.2 52.1 35.3 56 32.3 58.9 30.2 61.6 29.4 62.1 26.5 62.1 23.5 62.8 22.7 63.3 20.6 63.7 17.7 65.4 16.8 66.1 14.7 65.1 11.8 64.8 9.7 64.7 8.9 67.2 6.4 77 5.9 82.5Z" fill="#ff7f0e" fill-opacity="0.24" stroke="#ff7f0e" stroke-opacity="0.3" stroke-width="1.2" shape-rendering="crispEdges"/></svg><path d="M1195.5 568.2V652.5M1210.5 568.2V652.5M1269.5 568.2V652.5M1283.5 568.2V652.5" stroke="#bdbdbd" stroke-width="1"/><use href="#gr" transform="translate(1175.7,568.2)"/><svg x="1175.7" y="568.2" width="127.8" height="84.3" overflow="hidden"><path d="M5.1 84.3 6.4 68.8 9.7 56.2 16.8 57.6 22.7 54.8 30.2 53.4 39 42.9 49.1 39.2 58.3 36.8 67.1 32 74.2 34.4 122.8 79.7" fill="none" stroke="#fff" stroke-width="11.2" stroke-linejoin="round"/><path d="M5.1 84.3 6.4 68.8 9.7 56.2 16.8 57.6 22.7 54.8 30.2 53.4 39 42.9 49.1 39.2 58.3 36.8 67.1 32 74.2 34.4 122.8 79.7" fill="none" stroke="#000" stroke-width="9.6" stroke-linejoin="round" shape-rendering="crispEdges"/></svg><use href="#fr" transform="translate(1175.7,568.2)"/>
<svg x="1355.15" y="568.2" width="127.8" height="84.3" overflow="hidden"><path d="M5.9 63.6 6.4 59.9 8.9 51.1 9.7 47.2 11.8 49.7 14.7 50.7 15.6 50.1 17.7 48.6 19.8 45.3 20.6 44.2 23.5 45.2 26.5 44.3 29.4 42.9 30.2 44.3 32.3 41.7 35.3 37.7 38.2 36.2 40.7 33.2 41.1 32.2 44.1 33.2 47 32.3 49.9 31 50.8 32.3 52.9 30.6 55.8 27.9 58.7 27.7 61.2 25.6 61.7 24.8 64.6 26.7 66.7 26.5 67.5 25.1 70.5 24.8 73.4 22.5 74.2 21.1 76.3 22.4 78.8 21.6 79.3 21 82.2 24.4 85.1 26.5 88.1 28.6 91 33 93.9 35.2 96.9 37.3 99.8 41.7 102.7 43.9 105.7 46 108.6 50.4 111.5 52.6 114.5 54.8 117.4 59.1 120.3 61.3 122.4 62.6 122.4 82 120.3 79.6 117.4 76.3 114.5 74.1 111.5 70.8 108.6 67.6 105.7 65.4 102.7 62.1 99.8 58.9 96.9 56.7 93.9 53.4 91 50.2 88.1 48 85.1 44.7 82.2 41.7 79.3 41.2 78.8 40.6 76.3 41.1 74.2 42.5 73.4 42.6 70.5 44 67.5 46.4 66.7 46.5 64.6 45.8 61.7 46.1 61.2 45.5 58.7 46.7 55.8 49.1 52.9 50.3 50.8 51.3 49.9 52.1 47 52 44.1 52.1 41.1 53.2 40.7 52.8 38.2 55 35.3 58.7 32.3 61.1 30.2 63 29.4 63.8 26.5 63.7 23.5 63.9 20.6 65 19.8 64.6 17.7 67.3 15.6 70.8 14.7 69.9 11.8 68.2 9.7 67.9 8.9 70.2 6.4 78.4 5.9 84.2Z" fill="#1f77b4" fill-opacity="0.3" stroke="#1f77b4" stroke-opacity="0.4" stroke-width="1.4" shape-rendering="crispEdges"/><path d="M5.9 65.4 6.4 61.4 8.9 52.7 9.7 49 11.8 51.2 14.7 52.3 15.6 51.9 17.7 50.2 19.8 46.9 20.6 46 23.5 46.8 26.5 46 29.4 44.7 30.2 45.8 32.3 43.3 35.3 39.5 38.2 37.8 40.7 34.8 41.1 34 44.1 34.8 47 34 49.9 32.8 50.8 33.9 52.9 32.2 55.8 29.8 58.7 29.2 61.2 27.3 61.7 26.6 64.6 28.3 66.7 28.2 67.5 27 70.5 26.4 73.4 24.2 74.2 23 76.3 24.1 78.8 23.4 79.3 23 82.2 26.3 85.1 28.5 88.1 30.8 91 34.9 93.9 37.2 96.9 39.5 99.8 43.6 102.7 45.9 105.7 48.2 108.6 52.3 111.5 54.6 114.5 56.9 117.4 61 120.3 63.3 122.4 64.8 122.4 81.3 120.3 78.9 117.4 75.7 114.5 73.4 111.5 70.2 108.6 67 105.7 64.7 102.7 61.5 99.8 58.3 96.9 56 93.9 52.8 91 49.6 88.1 47.3 85.1 44 82.2 41.1 79.3 40.1 78.8 39.5 76.3 39.7 74.2 40.7 73.4 40.9 70.5 42.3 67.5 44.7 66.7 44.8 64.6 44.2 61.7 44.3 61.2 43.9 58.7 45.1 55.8 47.3 52.9 48.7 50.8 49.6 49.9 50.3 47 50.3 44.1 50.5 41.1 51.4 40.7 51.1 38.2 53.4 35.3 56.9 32.3 59.5 30.2 61.4 29.4 62.1 26.5 62.1 23.5 62.3 20.6 63.2 19.8 62.9 17.7 65.6 15.6 69.1 14.7 68.2 11.8 66.6 9.7 66.1 8.9 68.5 6.4 76.8 5.9 82.5Z" fill="#ff7f0e" fill-opacity="0.24" stroke="#ff7f0e" stroke-opacity="0.3" stroke-width="1.2" shape-rendering="crispEdges"/></svg><path d="M1375.5 568.2V652.5M1433.5 568.2V652.5M1463.5 568.2V652.5" stroke="#bdbdbd" stroke-width="1"/><use href="#gr" transform="translate(1355.15,568.2)"/><svg x="1355.15" y="568.2" width="127.8" height="84.3" overflow="hidden"><path d="M5.1 84.3 6.4 68.8 9.7 57.6 15.6 60.6 19.8 54.8 30.2 53.4 40.7 42.9 50.8 41.6 61.2 35.5 66.7 36.5 74.2 32 78.8 33.1 122.8 76.7" fill="none" stroke="#fff" stroke-width="11.2" stroke-linejoin="round"/><path d="M5.1 84.3 6.4 68.8 9.7 57.6 15.6 60.6 19.8 54.8 30.2 53.4 40.7 42.9 50.8 41.6 61.2 35.5 66.7 36.5 74.2 32 78.8 33.1 122.8 76.7" fill="none" stroke="#000" stroke-width="9.6" stroke-linejoin="round" shape-rendering="crispEdges"/></svg><use href="#fr" transform="translate(1355.15,568.2)"/>
<svg x="1534.6" y="568.2" width="127.8" height="84.3" overflow="hidden"><path d="M5.9 63.9 6.4 60.1 8.9 50.5 9.7 47.5 11.8 50.1 14.7 50.7 16.8 51.8 17.7 52.6 20.6 49.3 23.5 47.2 26.5 46.5 27.3 44.7 29.4 45.6 32.3 48.3 33.2 47.4 35.3 45.2 38.2 43.5 41.1 39.2 44.1 36.1 46.2 35.2 47 34.1 49.9 34.7 52.9 36.6 53.7 35.4 55.8 33.3 58.7 31.6 61.7 27.2 63.8 25.2 64.6 26.5 67.5 25.7 70.5 26.2 71.3 27.6 73.4 25.1 76.3 23.6 79.3 23.2 80.1 21.4 82.2 22.9 85.1 26 88.1 26.5 91 29.4 93.9 33.4 96.9 34.9 99.8 38 102.7 42 105.7 43.5 108.6 46.6 111.5 50.6 114.5 52.1 117.4 55.2 120.3 59.2 122.4 59.9 122.4 79 120.3 76.2 117.4 73.9 114.5 71.2 111.5 67.6 108.6 65.3 105.7 62.6 102.7 59 99.8 56.7 96.9 54 93.9 50.4 91 48.2 88.1 45.6 85.1 43.8 82.2 43.1 80.1 42.4 79.3 42.2 76.3 44.3 73.4 46 71.3 46.5 70.5 46.9 67.5 46.5 64.6 45.3 63.8 45.8 61.7 48 58.7 50.3 55.8 53.9 53.7 56 52.9 55.2 49.9 55.2 47 54.6 46.2 53.8 44.1 56.6 41.1 59.6 38.2 62 35.3 65.6 33.2 67.7 32.3 66.7 29.4 65.9 27.3 64.9 26.5 64.9 23.5 67.5 20.6 69.5 17.7 70.8 16.8 72.1 14.7 70.7 11.8 68.3 9.7 67.7 8.9 70.4 6.4 78.3 5.9 84.1Z" fill="#1f77b4" fill-opacity="0.3" stroke="#1f77b4" stroke-opacity="0.4" stroke-width="1.4" shape-rendering="crispEdges"/><path d="M5.9 65.7 6.4 61.6 8.9 52.2 9.7 49.3 11.8 51.6 14.7 52.4 16.8 53.6 17.7 54.1 20.6 51 23.5 49 26.5 48 27.3 46.4 29.4 47.4 32.3 49.8 33.2 49.2 35.3 47 38.2 45 41.1 40.9 44.1 37.9 46.2 36.8 47 35.9 49.9 36.5 52.9 38.1 53.7 37.2 55.8 35.1 58.7 33.1 61.7 29 63.8 26.9 64.6 28.1 67.5 27.5 70.5 28 71.3 29.1 73.4 26.9 76.3 25.4 79.3 24.8 80.1 23.2 82.2 24.7 85.1 27.7 88.1 28.6 91 31.5 93.9 35.3 96.9 37.1 99.8 40.1 102.7 43.9 105.7 45.7 108.6 48.7 111.5 52.5 114.5 54.3 117.4 57.3 120.3 61.1 122.4 62 122.4 78.3 120.3 75.7 117.4 73.3 114.5 70.5 111.5 67.1 108.6 64.7 105.7 61.9 102.7 58.5 99.8 56.1 96.9 53.3 93.9 49.9 91 47.5 88.1 44.9 85.1 42.8 82.2 41.7 80.1 40.6 79.3 40.5 76.3 42.6 73.4 44.2 71.3 44.8 70.5 45.2 67.5 44.7 64.6 43.7 63.8 44.1 61.7 46.2 58.7 48.7 55.8 52.2 53.7 54.3 52.9 53.6 49.9 53.5 47 52.9 46.2 52.2 44.1 54.9 41.1 57.9 38.2 60.4 35.3 63.9 33.2 66 32.3 65.1 29.4 64.2 27.3 63.2 26.5 63.2 23.5 65.8 20.6 67.8 17.7 69.2 16.8 70.4 14.7 69 11.8 66.7 9.7 66 8.9 68.7 6.4 76.7 5.9 82.4Z" fill="#ff7f0e" fill-opacity="0.24" stroke="#ff7f0e" stroke-opacity="0.3" stroke-width="1.2" shape-rendering="crispEdges"/></svg><path d="M1554.5 568.2V652.5M1583.5 568.2V652.5M1613.5 568.2V652.5M1627.5 568.2V652.5" stroke="#bdbdbd" stroke-width="1"/><use href="#gr" transform="translate(1534.6,568.2)"/><svg x="1534.6" y="568.2" width="127.8" height="84.3" overflow="hidden"><path d="M5.1 84.3 6.4 68.8 9.7 57.6 16.8 62 27.3 54.8 33.2 57.6 46.2 44.3 53.7 45.8 63.8 35.5 71.3 36.8 80.1 32 122.8 73.8" fill="none" stroke="#fff" stroke-width="11.2" stroke-linejoin="round"/><path d="M5.1 84.3 6.4 68.8 9.7 57.6 16.8 62 27.3 54.8 33.2 57.6 46.2 44.3 53.7 45.8 63.8 35.5 71.3 36.8 80.1 32 122.8 73.8" fill="none" stroke="#000" stroke-width="9.6" stroke-linejoin="round" shape-rendering="crispEdges"/></svg><use href="#fr" transform="translate(1534.6,568.2)"/>
<svg x="1714.05" y="568.2" width="127.8" height="84.3" overflow="hidden"><path d="M5.9 64.5 6.4 60 8.9 52.6 11.4 47.5 11.8 48.5 14.7 49.4 17.7 52.6 18.1 53.5 20.6 48.7 23.5 45.7 26.5 42.4 29.4 37.1 30.7 36.3 32.3 37.8 35.3 38.1 38.2 40.7 38.2 41.2 41.1 37.1 44.1 35.3 47 33 49.9 28.8 51.6 28.2 52.9 29.2 55.8 28.9 58.3 30.8 58.7 30.9 61.7 27.1 64.6 25.7 67.5 23.8 68.4 21.7 70.5 22.1 73.4 21.8 73.8 20.3 76.3 22.8 79.3 25.9 82.2 27.2 85.1 31 88.1 34.2 91 35.5 93.9 39.4 96.9 42.5 99.8 43.8 102.7 47.7 105.7 50.8 108.6 52.2 111.5 56 114.5 59.1 117.4 60.5 120.3 64.4 122.4 66.6 122.4 84.1 120.3 82.2 117.4 80 114.5 76.5 111.5 73.9 108.6 71.7 105.7 68.2 102.7 65.6 99.8 63.3 96.9 59.9 93.9 57.3 91 55 88.1 51.5 85.1 49 82.2 46.7 79.3 43.2 76.3 40.9 73.8 40.5 73.4 39.9 70.5 41.6 68.4 43.1 67.5 43.1 64.6 45.6 61.7 48.5 58.7 50.1 58.3 50.7 55.8 50.1 52.9 48.3 51.6 48 49.9 50 47 52 44.1 55 41.1 58.1 38.2 60.1 38.2 60.4 35.3 59.1 32.3 56.6 30.7 55.8 29.4 57.9 26.5 61.1 23.5 65.2 20.6 69.5 18.1 72.1 17.7 72 14.7 70 11.8 66.9 11.4 66.9 8.9 73.2 6.4 78.3 5.9 83.8Z" fill="#1f77b4" fill-opacity="0.3" stroke="#1f77b4" stroke-opacity="0.4" stroke-width="1.4" shape-rendering="crispEdges"/><path d="M5.9 66.1 6.4 61.5 8.9 54.4 11.4 49.1 11.8 50 14.7 51.2 17.7 54.2 18.1 55.1 20.6 50.5 23.5 47.4 26.5 43.9 29.4 38.8 30.7 37.9 32.3 39.4 35.3 39.9 38.2 42.4 38.2 42.8 41.1 38.9 44.1 36.9 47 34.6 49.9 30.7 51.6 29.9 52.9 30.8 55.8 30.7 58.3 32.5 58.7 32.5 61.7 28.9 64.6 27.4 67.5 25.4 68.4 23.5 70.5 23.9 73.4 23.6 73.8 22.3 76.3 24.8 79.3 27.8 82.2 29.4 85.1 33 88.1 36.1 91 37.7 93.9 41.4 96.9 44.4 99.8 46 102.7 49.7 105.7 52.7 108.6 54.3 111.5 58 114.5 61 117.4 62.7 120.3 66.4 122.4 68.6 122.4 83.5 120.3 81.6 117.4 79.3 114.5 75.9 111.5 73.3 108.6 71 105.7 67.6 102.7 65 99.8 62.6 96.9 59.3 93.9 56.6 91 54.3 88.1 51 85.1 48.3 82.2 46 79.3 42.6 76.3 40.2 73.8 39.4 73.4 38.9 70.5 40.1 68.4 41.3 67.5 41.4 64.6 43.9 61.7 46.7 58.7 48.4 58.3 49 55.8 48.4 52.9 46.6 51.6 46.3 49.9 48.3 47 50.4 44.1 53.3 41.1 56.4 38.2 58.5 38.2 58.7 35.3 57.3 32.3 54.9 30.7 54.2 29.4 56.2 26.5 59.4 23.5 63.5 20.6 67.8 18.1 70.5 17.7 70.4 14.7 68.3 11.8 65.3 11.4 65.2 8.9 71.4 6.4 76.7 5.9 82.1Z" fill="#ff7f0e" fill-opacity="0.24" stroke="#ff7f0e" stroke-opacity="0.3" stroke-width="1.2" shape-rendering="crispEdges"/></svg><path d="M1734.5 568.2V652.5M1748.5 568.2V652.5M1807.5 568.2V652.5M1822.5 568.2V652.5" stroke="#bdbdbd" stroke-width="1"/><use href="#gr" transform="translate(1714.05,568.2)"/><svg x="1714.05" y="568.2" width="127.8" height="84.3" overflow="hidden"><path d="M5.1 84.3 6.4 68.8 11.4 57 18.1 62.5 30.7 45.9 38.2 50.4 51.6 38 58.3 40.7 68.4 32.6 73.8 33 122.8 79.4" fill="none" stroke="#fff" stroke-width="11.2" stroke-linejoin="round"/><path d="M5.1 84.3 6.4 68.8 11.4 57 18.1 62.5 30.7 45.9 38.2 50.4 51.6 38 58.3 40.7 68.4 32.6 73.8 33 122.8 79.4" fill="none" stroke="#000" stroke-width="9.6" stroke-linejoin="round" shape-rendering="crispEdges"/></svg><use href="#fr" transform="translate(1714.05,568.2)"/>
<svg x="1893.5" y="568.2" width="127.8" height="84.3" overflow="hidden"><path d="M5.9 66.9 6.4 61.3 8.9 55 11.4 51 11.8 50.9 14.7 51.8 17.7 55.1 18.1 55 20.6 50.7 23.5 48.2 26.5 43.9 29.4 39.1 31.5 37.7 32.3 37.8 35.3 38.8 38.2 42.2 38.2 41.7 41.1 38.5 44.1 37.6 47 34.8 49.9 31.5 52.9 30.6 55.8 27.8 57.1 25.9 58.7 27.2 61.7 26.3 64.6 25.1 65.9 26.4 67.5 27.2 70.5 28.7 73.4 32.5 76.3 34.3 79.3 35.8 82.2 39.6 85.1 41.4 88.1 42.9 91 46.7 93.9 48.4 96.9 50 99.8 53.8 102.7 55.5 105.7 57.1 108.6 60.9 111.5 62.6 114.5 64.2 117.4 68 120.3 69.6 122.4 70.6 122.4 87.1 120.3 85.1 117.4 82.4 114.5 80.7 111.5 78 108.6 75.3 105.7 73.6 102.7 70.9 99.8 68.2 96.9 66.6 93.9 63.8 91 61.1 88.1 59.5 85.1 56.7 82.2 54 79.3 52.4 76.3 49.6 73.4 46.9 70.5 45.3 67.5 42.5 65.9 40.9 64.6 42 61.7 43 58.7 43.8 57.1 45.2 55.8 46.1 52.9 49 49.9 52.8 47 55.5 44.1 58.4 41.1 62.1 38.2 64 38.2 63.7 35.3 62.5 32.3 60.1 31.5 59.3 29.4 62.7 26.5 66.1 23.5 69.8 20.6 74.4 18.1 76.2 17.7 75.5 14.7 72.1 11.8 67.5 11.4 66.7 8.9 71.6 6.4 76.5 5.9 81.4Z" fill="#1f77b4" fill-opacity="0.3" stroke="#1f77b4" stroke-opacity="0.4" stroke-width="1.4" shape-rendering="crispEdges"/><path d="M5.9 67.7 6.4 62.2 8.9 56 11.4 51.9 11.8 51.8 14.7 52.9 17.7 56 18.1 55.9 20.6 51.7 23.5 49 26.5 44.8 29.4 40.1 31.5 38.5 32.3 38.7 35.3 39.9 38.2 43 38.2 42.6 41.1 39.5 44.1 38.4 47 35.7 49.9 32.6 52.9 31.5 55.8 28.7 57.1 26.9 58.7 28 61.7 27.2 64.6 26.2 65.9 27.3 67.5 28.1 70.5 28.6 73.4 30.4 76.3 30.4 79.3 30.2 82.2 31.4 85.1 30.4 88.1 29.3 91 30.1 93.9 29.1 96.9 27.9 99.8 29.5 102.7 29.4 105.7 29.3 108.6 31 111.5 30.9 114.5 30.7 117.4 32.4 120.3 32.3 122.4 32.1 122.4 86.2 120.3 84.2 117.4 81.5 114.5 79.7 111.5 77.1 108.6 74.4 105.7 72.7 102.7 70 99.8 67.3 96.9 65.6 93.9 62.9 91 60.2 88.1 58.5 85.1 55.8 82.2 53.2 79.3 51.4 76.3 48.7 73.4 46.1 70.5 44.3 67.5 41.6 65.9 40 64.6 40.7 61.7 40.7 58.7 40.7 57.1 41.5 55.8 42.1 52.9 44.6 49.9 48.1 47 50.6 44.1 53.2 41.1 56.6 38.2 58.5 38.2 58.3 35.3 57 32.3 54.6 31.5 53.8 29.4 57.2 26.5 60.7 23.5 64.3 20.6 68.8 18.1 71.2 17.7 70.5 14.7 68 11.8 65.2 11.4 64.7 8.9 70.6 6.4 75.6 5.9 80.6Z" fill="#ff7f0e" fill-opacity="0.24" stroke="#ff7f0e" stroke-opacity="0.3" stroke-width="1.2" shape-rendering="crispEdges"/></svg><path d="M1928.5 568.2V652.5M1942.5 568.2V652.5M1972.5 568.2V652.5M1986.5 568.2V652.5" stroke="#bdbdbd" stroke-width="1"/><use href="#gr" transform="translate(1893.5,568.2)"/><svg x="1893.5" y="568.2" width="127.8" height="84.3" overflow="hidden"><path d="M5.1 84.3 6.4 68.8 11.4 58.2 18.1 62.5 31.5 44.8 38.2 49.3 57.1 34.4 65.9 33.5 122.8 79.4" fill="none" stroke="#fff" stroke-width="11.2" stroke-linejoin="round"/><path d="M5.1 84.3 6.4 68.8 11.4 58.2 18.1 62.5 31.5 44.8 38.2 49.3 57.1 34.4 65.9 33.5 122.8 79.4" fill="none" stroke="#000" stroke-width="9.6" stroke-linejoin="round" shape-rendering="crispEdges"/></svg><use href="#fr" transform="translate(1893.5,568.2)"/>
<svg x="2072.95" y="568.2" width="127.8" height="84.3" overflow="hidden"><path d="M5.9 65.3 6.4 58.9 8.9 52.3 11.4 47.2 11.8 46.3 14.7 48.3 17.7 51.8 20.2 52.5 20.6 51.9 23.5 49.6 26.5 44.8 29.4 41.1 32.3 38.8 35.3 34 35.7 33.4 38.2 36.4 41.1 37.1 42.4 37.9 44.1 37.9 47 34.3 49.9 32.1 52.9 31 55.8 27.5 58.7 25.3 60.4 25.2 61.7 23.5 64.6 22.7 67.5 23.1 70 21 70.5 21.4 73.4 24.2 76.3 24.5 79.3 26.5 82.2 30.3 85.1 31.6 88.1 34.4 91 38.2 93.9 39.5 96.9 42.2 99.8 46 102.7 47.3 105.7 50.1 108.6 53.9 111.5 55.1 114.5 57.9 117.4 61.7 120.3 62.9 122.4 65 122.4 83.7 120.3 82 117.4 78.7 114.5 76.7 111.5 74.2 108.6 70.9 105.7 68.8 102.7 66.3 99.8 63 96.9 61 93.9 58.5 91 55.2 88.1 53.2 85.1 50.6 82.2 47.4 79.3 45.3 76.3 44 73.4 42.4 70.5 42 70 42 67.5 42 64.6 43.5 61.7 44.3 60.4 44.1 58.7 45.9 55.8 48.2 52.9 49.8 49.9 52.7 47 54.9 44.1 56.5 42.4 58.4 41.1 57.5 38.2 54.9 35.7 53.9 35.3 54.4 32.3 57.3 29.4 61.5 26.5 65 23.5 67.9 20.6 72.1 20.2 72.6 17.7 70.1 14.7 68.5 11.8 66.3 11.4 65.4 8.9 72.5 6.4 78.9 5.9 83.4Z" fill="#1f77b4" fill-opacity="0.3" stroke="#1f77b4" stroke-opacity="0.4" stroke-width="1.4" shape-rendering="crispEdges"/><path d="M5.9 66.8 6.4 60.6 8.9 54 11.4 48.7 11.8 48 14.7 50.1 17.7 53.3 20.2 54.2 20.6 53.6 23.5 51.1 26.5 46.5 29.4 42.9 32.3 40.3 35.3 35.7 35.7 35.2 38.2 37.9 41.1 38.8 42.4 39.6 44.1 39.4 47 36.1 49.9 33.8 52.9 32.6 55.8 29.3 58.7 27 60.4 26.8 61.7 25.3 64.6 24.5 67.5 24.7 70 22.8 70.5 23.1 73.4 25.9 76.3 26.6 79.3 28.6 82.2 32.3 85.1 33.8 88.1 36.5 91 40.1 93.9 41.6 96.9 44.3 99.8 47.9 102.7 49.4 105.7 52.2 108.6 55.8 111.5 57.2 114.5 60 117.4 63.6 120.3 65.1 122.4 67.1 122.4 83.1 120.3 81.3 117.4 78.1 114.5 76 111.5 73.5 108.6 70.3 105.7 68.2 102.7 65.6 99.8 62.5 96.9 60.3 93.9 57.8 91 54.6 88.1 52.5 85.1 49.9 82.2 46.8 79.3 44.7 76.3 43 73.4 41.2 70.5 40.4 70 40.2 67.5 40.4 64.6 41.7 61.7 42.6 60.4 42.4 58.7 44.2 55.8 46.5 52.9 48.2 49.9 50.9 47 53.2 44.1 54.9 42.4 56.7 41.1 55.8 38.2 53.3 35.7 52.2 35.3 52.6 32.3 55.7 29.4 59.8 26.5 63.3 23.5 66.3 20.6 70.4 20.2 70.9 17.7 68.5 14.7 66.8 11.8 64.6 11.4 63.8 8.9 70.8 6.4 77.2 5.9 81.8Z" fill="#ff7f0e" fill-opacity="0.24" stroke="#ff7f0e" stroke-opacity="0.3" stroke-width="1.2" shape-rendering="crispEdges"/></svg><path d="M2092.5 568.2V652.5M2122.5 568.2V652.5M2166.5 568.2V652.5M2180.5 568.2V652.5" stroke="#bdbdbd" stroke-width="1"/><use href="#gr" transform="translate(2072.95,568.2)"/><svg x="2072.95" y="568.2" width="127.8" height="84.3" overflow="hidden"><path d="M5.1 84.3 6.4 68.8 11.4 55.9 20.2 62.5 35.7 43.7 42.4 48.2 60.4 34.4 70 31.6 123.7 79.4" fill="none" stroke="#fff" stroke-width="11.2" stroke-linejoin="round"/><path d="M5.1 84.3 6.4 68.8 11.4 55.9 20.2 62.5 35.7 43.7 42.4 48.2 60.4 34.4 70 31.6 123.7 79.4" fill="none" stroke="#000" stroke-width="9.6" stroke-linejoin="round" shape-rendering="crispEdges"/></svg><use href="#fr" transform="translate(2072.95,568.2)"/>
<text transform="translate(2220.5,608.85) rotate(90)" font-size="53.33" text-anchor="middle">0.04</text>
<svg x="278.45" y="686.1" width="127.8" height="84.3" overflow="hidden"><path d="M5.9 65.2 6.4 58.6 8.9 48.4 9.3 47.3 11.8 44.2 14.7 42.9 15.6 43 17.7 43 19.8 45.1 20.6 44.8 23.5 39.8 26.5 37 28.6 35.1 29.4 33.2 32.3 32.4 35.3 31.4 38.2 28.4 40.3 28 41.1 28.2 44.1 25.3 47 24.6 49.9 23.7 52 21.1 52.9 21.7 55.8 21.3 58.7 18.9 59.6 19.5 61.7 21.6 64.6 22.7 67.5 26.2 70.5 29.3 73.4 30.4 76.3 33.9 79.3 37 82.2 38.1 85.1 41.6 88.1 44.7 91 45.8 93.9 49.3 96.9 52.3 99.8 53.5 102.7 57 105.7 60 108.6 61.2 111.5 64.7 114 67.4 114.5 66.7 115.4 69.4 115.4 87.3 114.5 86.1 114 84.7 111.5 82.7 108.6 80.6 105.7 77.4 102.7 75 99.8 72.9 96.9 69.7 93.9 67.3 91 65.2 88.1 61.9 85.1 59.6 82.2 57.5 79.3 54.2 76.3 51.9 73.4 49.8 70.5 46.5 67.5 44.3 64.6 42.1 61.7 38.8 59.6 37.8 58.7 38.7 55.8 39.6 52.9 41.6 52 42.5 49.9 42.8 47 44.6 44.1 46.5 41.1 47.2 40.3 48 38.2 49.5 35.3 50.3 32.3 52.2 29.4 54.2 28.6 53.9 26.5 56.7 23.5 60.6 20.6 63.4 19.8 64.7 17.7 63.7 15.6 61.5 14.7 62.4 11.8 64.8 9.3 65.7 8.9 67.9 6.4 79 5.9 83.5Z" fill="#1f77b4" fill-opacity="0.3" stroke="#1f77b4" stroke-opacity="0.4" stroke-width="1.4" shape-rendering="crispEdges"/><path d="M5.9 66.7 6.4 60.3 8.9 50 9.3 48.9 11.8 45.9 14.7 44.5 15.6 44.6 17.7 44.7 19.8 46.7 20.6 46.3 23.5 41.6 26.5 38.6 28.6 36.7 29.4 35 32.3 34.1 35.3 33 38.2 30.2 40.3 29.7 41.1 29.8 44.1 27.1 47 26.2 49.9 25.3 52 23 52.9 23.4 55.8 23.1 58.7 21 59.6 21.5 61.7 23.5 64.6 24.9 67.5 28.2 70.5 31.2 73.4 32.6 76.3 35.9 79.3 38.9 82.2 40.3 85.1 43.6 88.1 46.6 91 48 93.9 51.3 96.9 54.3 99.8 55.7 102.7 59 105.7 62 108.6 63.4 111.5 66.7 114 69.3 114.5 68.9 115.4 71.4 115.4 86.7 114.5 85.4 114 84.1 111.5 82.1 108.6 79.9 105.7 76.8 102.7 74.4 99.8 72.2 96.9 69.1 93.9 66.7 91 64.5 88.1 61.4 85.1 59 82.2 56.8 79.3 53.7 76.3 51.3 73.4 49.1 70.5 46 67.5 43.6 64.6 41.4 61.7 38.3 59.6 37 58.7 37.8 55.8 38.5 52.9 40 52 40.7 49.9 41.2 47 42.9 44.1 44.7 41.1 45.6 40.3 46.3 38.2 47.7 35.3 48.7 32.3 50.5 29.4 52.4 28.6 52.2 26.5 55 23.5 58.8 20.6 61.7 19.8 63 17.7 61.9 15.6 59.9 14.7 60.8 11.8 63 9.3 64.1 8.9 66.2 6.4 77.3 5.9 81.9Z" fill="#ff7f0e" fill-opacity="0.24" stroke="#ff7f0e" stroke-opacity="0.3" stroke-width="1.2" shape-rendering="crispEdges"/></svg><path d="M298.5 686.1V770.4M313.5 686.1V770.4M357.5 686.1V770.4M386.5 686.1V770.4" stroke="#bdbdbd" stroke-width="1"/><use href="#gr" transform="translate(278.45,686.1)"/><svg x="278.45" y="686.1" width="127.8" height="84.3" overflow="hidden"><path d="M5.1 84.3 6.4 68.8 9.3 56.2 15.6 52 19.8 54.8 28.6 44.3 40.3 37.9 52 32 59.6 32 114 79.7 119.1 88.5" fill="none" stroke="#fff" stroke-width="11.2" stroke-linejoin="round"/><path d="M5.1 84.3 6.4 68.8 9.3 56.2 15.6 52 19.8 54.8 28.6 44.3 40.3 37.9 52 32 59.6 32 114 79.7 119.1 88.5" fill="none" stroke="#000" stroke-width="9.6" stroke-linejoin="round" shape-rendering="crispEdges"/></svg><use href="#fr" transform="translate(278.45,686.1)"/>
<text x="241.45" y="786" font-size="44.44" text-anchor="end">0</text>
<text x="241.45" y="743.85" font-size="44.44" text-anchor="end">3</text>
<text x="241.45" y="701.7" font-size="44.44" text-anchor="end">6</text>
<svg x="457.9" y="686.1" width="127.8" height="84.3" overflow="hidden"><path d="M5.9 64.7 6.4 58.4 8.9 48.9 9.3 46.9 11.8 44.8 14.7 45 16.8 44 17.7 43.4 20.6 46.5 21.4 46.7 23.5 42.6 26.5 39.6 28.6 36.3 29.4 34.8 32.3 34.8 35.3 33.1 38.2 30.7 41.1 30.8 43.2 29.5 44.1 27.9 47 27.7 49.9 25.8 52.9 23.1 55.8 22.9 56.6 22.1 58.7 20.4 61.7 20.8 63.8 19.7 64.6 19.2 67.5 23.1 70.5 25.3 73.4 26.9 76.3 31 79.3 33.1 82.2 34.8 85.1 38.9 88.1 41 91 42.7 93.9 46.7 96.9 48.9 99.8 50.6 102.7 54.6 105.7 56.7 108.6 58.5 111.5 62.5 114.5 64.6 117 66 117.4 68.1 118.3 69.3 118.3 87.4 117.4 85.4 117 85.4 114.5 82.7 111.5 79.8 108.6 77.9 105.7 74.8 102.7 71.9 99.8 70 96.9 66.9 93.9 64 91 62.1 88.1 59 85.1 56.2 82.2 54.3 79.3 51.1 76.3 48.3 73.4 46.4 70.5 43.3 67.5 40.4 64.6 38.7 63.8 38 61.7 39 58.7 41.3 56.6 42 55.8 42.3 52.9 44.5 49.9 45.6 47 46.9 44.1 49.2 43.2 49.1 41.1 49.9 38.2 51.9 35.3 52.7 32.3 53.8 29.4 55.8 28.6 55.6 26.5 58.5 23.5 63.5 21.4 66 20.6 65.3 17.7 64.2 16.8 63.1 14.7 63.8 11.8 65.6 9.3 65.9 8.9 67.6 6.4 79.1 5.9 83.7Z" fill="#1f77b4" fill-opacity="0.3" stroke="#1f77b4" stroke-opacity="0.4" stroke-width="1.4" shape-rendering="crispEdges"/><path d="M5.9 66.3 6.4 60.2 8.9 50.5 9.3 48.5 11.8 46.6 14.7 46.6 16.8 45.6 17.7 45.2 20.6 48.1 21.4 48.4 23.5 44.4 26.5 41.2 28.6 37.9 29.4 36.6 32.3 36.4 35.3 34.8 38.2 32.5 41.1 32.4 43.2 31.1 44.1 29.8 47 29.3 49.9 27.4 52.9 25 55.8 24.6 56.6 23.8 58.7 22.3 61.7 22.6 63.8 21.7 64.6 21.3 67.5 25 70.5 27.3 73.4 29.1 76.3 32.9 79.3 35.1 82.2 37 85.1 40.8 88.1 43 91 44.9 93.9 48.7 96.9 50.9 99.8 52.7 102.7 56.6 105.7 58.8 108.6 60.6 111.5 64.5 114.5 66.6 117 68.1 117.4 70.1 118.3 71.3 118.3 86.7 117.4 84.8 117 84.7 114.5 82.1 111.5 79.2 108.6 77.2 105.7 74.2 102.7 71.3 99.8 69.3 96.9 66.3 93.9 63.5 91 61.4 88.1 58.4 85.1 55.6 82.2 53.5 79.3 50.5 76.3 47.7 73.4 45.7 70.5 42.6 67.5 39.8 64.6 38 63.8 37.2 61.7 37.9 58.7 39.8 56.6 40.3 55.8 40.6 52.9 42.8 49.9 43.9 47 45.3 44.1 47.4 43.2 47.4 41.1 48.2 38.2 50.1 35.3 51 32.3 52.2 29.4 54 28.6 54 26.5 56.9 23.5 61.7 21.4 64.3 20.6 63.7 17.7 62.5 16.8 61.5 14.7 62.2 11.8 63.8 9.3 64.3 8.9 66 6.4 77.4 5.9 82Z" fill="#ff7f0e" fill-opacity="0.24" stroke="#ff7f0e" stroke-opacity="0.3" stroke-width="1.2" shape-rendering="crispEdges"/></svg><path d="M492.5 686.1V770.4M507.5 686.1V770.4M536.5 686.1V770.4M551.5 686.1V770.4" stroke="#bdbdbd" stroke-width="1"/><use href="#gr" transform="translate(457.9,686.1)"/><svg x="457.9" y="686.1" width="127.8" height="84.3" overflow="hidden"><path d="M5.1 84.3 6.4 68.8 9.3 56.2 16.8 53.4 21.4 56.2 28.6 45.8 43.2 39.2 56.6 32 63.8 32 117 79.7 122 88.5" fill="none" stroke="#fff" stroke-width="11.2" stroke-linejoin="round"/><path d="M5.1 84.3 6.4 68.8 9.3 56.2 16.8 53.4 21.4 56.2 28.6 45.8 43.2 39.2 56.6 32 63.8 32 117 79.7 122 88.5" fill="none" stroke="#000" stroke-width="9.6" stroke-linejoin="round" shape-rendering="crispEdges"/></svg><use href="#fr" transform="translate(457.9,686.1)"/>
<svg x="637.35" y="686.1" width="127.8" height="84.3" overflow="hidden"><path d="M5.9 66 6.4 60.6 8.9 52.3 9.3 49.6 11.8 47.9 14.7 47.7 16.8 45.4 17.7 45.3 20.6 47.4 22.7 46.8 23.5 45.5 26.5 43.4 29.4 38.7 31.5 36 32.3 37.1 35.3 34.9 38.2 33.7 41.1 34 44.1 31.8 46.2 31 47 31.9 49.9 29.3 52.9 27.7 55.8 27.6 58.7 24.9 60.8 23.8 61.7 25.1 64.6 23.9 67.5 23.8 68.4 25.1 70.5 25.8 73.4 28.5 76.3 32.5 79.3 33.9 82.2 36.6 85.1 40.6 88.1 42.1 91 44.8 93.9 48.8 96.9 50.2 99.8 52.9 102.7 56.9 105.7 58.3 108.6 61.1 111.5 65 114.5 66.4 117.4 69.2 119.9 72.8 120.3 72.2 121.3 74 121.3 90 120.3 88.4 119.9 87 117.4 85.3 114.5 82.6 111.5 79.2 108.6 77.1 105.7 74.4 102.7 71.1 99.8 69 96.9 66.3 93.9 62.9 91 60.9 88.1 58.2 85.1 54.8 82.2 52.7 79.3 50 76.3 46.7 73.4 44.6 70.5 41.9 68.4 39.3 67.5 40 64.6 39.9 61.7 39.3 60.8 40 58.7 40.9 55.8 41.8 52.9 43.9 49.9 45.2 47 46.1 46.2 47.2 44.1 47.8 41.1 48.4 38.2 50.3 35.3 51.5 32.3 52.2 31.5 53.2 29.4 55.8 26.5 59 23.5 62.6 22.7 63.3 20.6 61.7 17.7 61.6 16.8 61.3 14.7 61.9 11.8 64.2 9.3 65.5 8.9 66.5 6.4 76.9 5.9 81.9Z" fill="#1f77b4" fill-opacity="0.3" stroke="#1f77b4" stroke-opacity="0.4" stroke-width="1.4" shape-rendering="crispEdges"/><path d="M5.9 67 6.4 61.6 8.9 53.1 9.3 50.6 11.8 48.9 14.7 48.5 16.8 46.3 17.7 46.3 20.6 48.2 22.7 47.7 23.5 46.6 26.5 44.2 29.4 39.7 31.5 37 32.3 37.9 35.3 35.9 38.2 34.7 41.1 34.8 44.1 32.8 46.2 32 47 32.7 49.9 30.2 52.9 28.7 55.8 28.4 58.7 25.9 60.8 24.8 61.7 25.9 64.6 24.9 67.5 24.8 68.4 25.9 70.5 26.8 73.4 29.5 76.3 33.3 79.3 34.9 82.2 37.6 85.1 41.4 88.1 43.1 91 45.8 93.9 49.5 96.9 51.2 99.8 53.9 102.7 57.7 105.7 59.3 108.6 62.1 111.5 65.8 114.5 67.4 117.4 70.2 119.9 73.6 120.3 73.2 121.3 75 121.3 89 120.3 87.4 119.9 86.1 117.4 84.3 114.5 81.6 111.5 78.4 108.6 76.2 105.7 73.5 102.7 70.2 99.8 68 96.9 65.3 93.9 62.1 91 59.9 88.1 57.2 85.1 54 82.2 51.8 79.3 49.1 76.3 45.8 73.4 43.6 70.5 40.9 68.4 38.5 67.5 39 64.6 39 61.7 38.5 60.8 39 58.7 40 55.8 40.9 52.9 42.9 49.9 44.3 47 45.2 46.2 46.2 44.1 46.9 41.1 47.4 38.2 48.9 35.3 49.9 32.3 50.4 31.5 51.3 29.4 53.7 26.5 56.7 23.5 60.8 22.7 61.7 20.6 60.7 17.7 60.6 16.8 60.3 14.7 61 11.8 63.2 9.3 64.5 8.9 65.7 6.4 75.9 5.9 80.9Z" fill="#ff7f0e" fill-opacity="0.24" stroke="#ff7f0e" stroke-opacity="0.3" stroke-width="1.2" shape-rendering="crispEdges"/></svg><path d="M657.5 686.1V770.4M672.5 686.1V770.4M730.5 686.1V770.4M745.5 686.1V770.4" stroke="#bdbdbd" stroke-width="1"/><use href="#gr" transform="translate(637.35,686.1)"/><svg x="637.35" y="686.1" width="127.8" height="84.3" overflow="hidden"><path d="M5.1 84.3 6.4 68.8 9.3 57.6 16.8 53.4 22.7 54.8 31.5 44.3 46.2 39.2 60.8 32 68.4 32 119.9 79.7 124.9 88.5" fill="none" stroke="#fff" stroke-width="11.2" stroke-linejoin="round"/><path d="M5.1 84.3 6.4 68.8 9.3 57.6 16.8 53.4 22.7 54.8 31.5 44.3 46.2 39.2 60.8 32 68.4 32 119.9 79.7 124.9 88.5" fill="none" stroke="#000" stroke-width="9.6" stroke-linejoin="round" shape-rendering="crispEdges"/></svg><use href="#fr" transform="translate(637.35,686.1)"/>
<svg x="816.8" y="686.1" width="127.8" height="84.3" overflow="hidden"><path d="M5.9 63.7 6.4 59.3 8.9 50.4 9.3 47.3 11.8 46.6 14.7 45.6 16.8 43 17.7 44 20.6 45.8 23.5 45.4 24.4 46.5 26.5 44.5 29.4 39.4 31.5 37.6 32.3 37.8 35.3 35 38.2 34.4 41.1 33.7 44.1 30.8 47 30.2 49.1 29.9 49.9 27.9 52.9 26.9 55.8 25.7 58.7 22.4 60.8 22 61.7 22.3 64.6 19.9 66.7 20 67.5 21.1 70.5 21.7 73.4 25.2 76.3 28.4 79.3 29.6 82.2 33.1 85.1 36.2 88.1 37.4 91 41 93.9 44.1 96.9 45.3 99.8 48.9 102.7 52 105.7 53.2 108.6 56.8 111.5 59.9 114.5 61.1 117.4 64.7 119.9 67.4 120.3 66.7 121.3 69.4 121.3 87.3 120.3 86.1 119.9 84.7 117.4 82.7 114.5 80.5 111.5 77.2 108.6 74.8 105.7 72.6 102.7 69.3 99.8 66.9 96.9 64.8 93.9 61.4 91 59 88.1 56.9 85.1 53.5 82.2 51.2 79.3 49 76.3 45.6 73.4 43.3 70.5 41.1 67.5 38.7 66.7 38.7 64.6 40.4 61.7 41.3 60.8 42.1 58.7 43.8 55.8 44.8 52.9 46.9 49.9 49.1 49.1 48.9 47 50.2 44.1 51.9 41.1 52.5 38.2 54.2 35.3 56 32.3 56.6 31.5 57.3 29.4 60.3 26.5 63.2 24.4 66.1 23.5 66.2 20.6 64.3 17.7 63.6 16.8 63.6 14.7 64.1 11.8 66.1 9.3 67.8 8.9 68.7 6.4 78.7 5.9 84.2Z" fill="#1f77b4" fill-opacity="0.3" stroke="#1f77b4" stroke-opacity="0.4" stroke-width="1.4" shape-rendering="crispEdges"/><path d="M5.9 65.5 6.4 60.9 8.9 51.9 9.3 49.1 11.8 48.2 14.7 47.2 16.8 44.8 17.7 45.7 20.6 47.3 23.5 47.2 24.4 48.1 26.5 46.1 29.4 41.2 31.5 39.2 32.3 39.4 35.3 36.8 38.2 36.1 41.1 35.2 44.1 32.6 47 31.9 49.1 31.5 49.9 29.7 52.9 28.6 55.8 27.3 58.7 24.3 60.8 23.7 61.7 23.9 64.6 21.8 66.7 22 67.5 22.9 70.5 23.9 73.4 27.2 76.3 30.3 79.3 31.7 82.2 35.1 85.1 38.2 88.1 39.6 91 43 93.9 46.1 96.9 47.5 99.8 50.9 102.7 53.9 105.7 55.4 108.6 58.8 111.5 61.8 114.5 63.2 117.4 66.7 119.9 69.3 120.3 68.8 121.3 71.4 121.3 86.7 120.3 85.4 119.9 84.1 117.4 82 114.5 79.8 111.5 76.6 108.6 74.2 105.7 71.9 102.7 68.7 99.8 66.3 96.9 64.1 93.9 60.8 91 58.4 88.1 56.2 85.1 52.9 82.2 50.5 79.3 48.3 76.3 45.1 73.4 42.7 70.5 40.4 67.5 37.9 66.7 37.8 64.6 39.1 61.7 39.8 60.8 40.4 58.7 42 55.8 43.2 52.9 45.2 49.9 47.4 49.1 47.3 47 48.5 44.1 50.2 41.1 50.9 38.2 52.5 35.3 54.2 32.3 54.9 31.5 55.6 29.4 58.5 26.5 61.6 24.4 64.4 23.5 64.4 20.6 62.7 17.7 61.9 16.8 61.9 14.7 62.5 11.8 64.4 9.3 66.1 8.9 67.1 6.4 77 5.9 82.5Z" fill="#ff7f0e" fill-opacity="0.24" stroke="#ff7f0e" stroke-opacity="0.3" stroke-width="1.2" shape-rendering="crispEdges"/></svg><path d="M851.5 686.1V770.4M866.5 686.1V770.4M910.5 686.1V770.4M924.5 686.1V770.4" stroke="#bdbdbd" stroke-width="1"/><use href="#gr" transform="translate(816.8,686.1)"/><svg x="816.8" y="686.1" width="127.8" height="84.3" overflow="hidden"><path d="M5.1 84.3 6.4 68.8 9.3 57.6 16.8 53.4 24.4 56.2 31.5 47.3 49.1 39.2 60.8 32 66.7 32 119.9 79.7 124.9 88.5" fill="none" stroke="#fff" stroke-width="11.2" stroke-linejoin="round"/><path d="M5.1 84.3 6.4 68.8 9.3 57.6 16.8 53.4 24.4 56.2 31.5 47.3 49.1 39.2 60.8 32 66.7 32 119.9 79.7 124.9 88.5" fill="none" stroke="#000" stroke-width="9.6" stroke-linejoin="round" shape-rendering="crispEdges"/></svg><use href="#fr" transform="translate(816.8,686.1)"/>
<svg x="996.25" y="686.1" width="127.8" height="84.3" overflow="hidden"><path d="M5.9 63.6 6.4 59.8 8.9 50.1 9.7 45.8 11.8 46.7 14.7 45.9 16.8 44.3 17.7 45.9 20.6 46.3 22.7 45.7 23.5 47.2 26.5 47.6 28.6 47 29.4 47.1 32.3 42.2 35.3 36.5 36.1 36.5 38.2 35 41.1 32.4 44.1 32.2 46.2 30.6 47 29.2 49.9 29.1 52.9 27.3 55.8 24.8 58.3 25 58.7 24.4 61.7 22.6 64.6 23.2 67.1 22.1 67.5 21 70.5 22 73 21.1 73.4 20.4 76.3 23.9 79.3 26.1 82.2 27.9 85.1 32.1 88.1 34.4 91 36.2 93.9 40.4 96.9 42.6 99.8 44.4 102.7 48.6 105.7 50.8 108.6 52.6 111.5 56.8 114.5 59 117.4 60.9 120.3 65.1 122.4 66.4 122.4 84.6 120.3 82.3 117.4 80.3 114.5 77.1 111.5 74.1 108.6 72.1 105.7 68.9 102.7 65.9 99.8 63.8 96.9 60.6 93.9 57.6 91 55.6 88.1 52.4 85.1 49.4 82.2 47.4 79.3 44.2 76.3 41.2 73.4 40.4 73 39.7 70.5 40.5 67.5 42.4 67.1 42 64.6 42.5 61.7 44 58.7 44.3 58.3 44.2 55.8 46.1 52.9 47 49.9 48.2 47 50.3 46.2 50.2 44.1 51.2 41.1 53.5 38.2 54.5 36.1 55.5 35.3 57.5 32.3 61.5 29.4 66 28.6 68 26.5 66.9 23.5 66 22.7 66.5 20.6 65.5 17.7 64.6 16.8 65.1 14.7 64.9 11.8 65.4 9.7 66.5 8.9 69.1 6.4 78.4 5.9 84.3Z" fill="#1f77b4" fill-opacity="0.3" stroke="#1f77b4" stroke-opacity="0.4" stroke-width="1.4" shape-rendering="crispEdges"/><path d="M5.9 65.4 6.4 61.4 8.9 51.7 9.7 47.6 11.8 48.3 14.7 47.5 16.8 46.1 17.7 47.4 20.6 47.9 22.7 47.5 23.5 48.8 26.5 49.2 28.6 48.8 29.4 48.7 32.3 43.8 35.3 38.3 36.1 38.1 38.2 36.7 41.1 34.2 44.1 33.7 46.2 32.3 47 31 49.9 30.7 52.9 28.9 55.8 26.6 58.3 26.6 58.7 26.1 61.7 24.5 64.6 24.8 67.1 23.7 67.5 22.9 70.5 23.7 73 23 73.4 22.5 76.3 25.8 79.3 28.2 82.2 30.1 85.1 34.1 88.1 36.4 91 38.3 93.9 42.3 96.9 44.6 99.8 46.6 102.7 50.5 105.7 52.8 108.6 54.8 111.5 58.8 114.5 61 117.4 63 120.3 67 122.4 68.5 122.4 83.9 120.3 81.7 117.4 79.6 114.5 76.5 111.5 73.5 108.6 71.4 105.7 68.3 102.7 65.3 99.8 63.1 96.9 60 93.9 57.1 91 54.9 88.1 51.8 85.1 48.8 82.2 46.7 79.3 43.5 76.3 40.6 73.4 39.4 73 38.8 70.5 39.3 67.5 40.6 67.1 40.3 64.6 40.8 61.7 42.2 58.7 42.6 58.3 42.5 55.8 44.3 52.9 45.3 49.9 46.6 47 48.6 46.2 48.6 44.1 49.5 41.1 51.7 38.2 52.9 36.1 53.8 35.3 55.7 32.3 59.9 29.4 64.3 28.6 66.2 26.5 65.2 23.5 64.4 22.7 64.8 20.6 63.8 17.7 63 16.8 63.3 14.7 63.3 11.8 63.7 9.7 64.7 8.9 67.4 6.4 76.8 5.9 82.5Z" fill="#ff7f0e" fill-opacity="0.24" stroke="#ff7f0e" stroke-opacity="0.3" stroke-width="1.2" shape-rendering="crispEdges"/></svg><path d="M1016.5 686.1V770.4M1045.5 686.1V770.4M1104.5 686.1V770.4" stroke="#bdbdbd" stroke-width="1"/><use href="#gr" transform="translate(996.25,686.1)"/><svg x="996.25" y="686.1" width="127.8" height="84.3" overflow="hidden"><path d="M5.1 84.3 6.4 68.8 9.7 56.2 16.8 54.8 22.7 56.2 28.6 57.6 36.1 45.8 46.2 40.3 58.3 34.4 67.1 32 73 33 122.8 79.7" fill="none" stroke="#fff" stroke-width="11.2" stroke-linejoin="round"/><path d="M5.1 84.3 6.4 68.8 9.7 56.2 16.8 54.8 22.7 56.2 28.6 57.6 36.1 45.8 46.2 40.3 58.3 34.4 67.1 32 73 33 122.8 79.7" fill="none" stroke="#000" stroke-width="9.6" stroke-linejoin="round" shape-rendering="crispEdges"/></svg><use href="#fr" transform="translate(996.25,686.1)"/>
<svg x="1175.7" y="686.1" width="127.8" height="84.3" overflow="hidden"><path d="M5.9 65.7 6.4 61.9 8.9 51.4 9.7 47.9 11.8 49.3 14.7 48.2 16.8 47.9 17.7 49.2 20.6 47.6 23.5 46.9 25.6 47.9 26.5 45.7 29.4 42 32.3 39.9 34.4 36.2 35.3 35.9 38.2 36.8 41.1 35.2 43.6 34.6 44.1 35.7 47 33 49.9 31.4 52.9 31.2 55.4 28.7 55.8 28.4 58.7 28.5 61.7 26.1 64.6 24.8 67.1 25.1 67.5 24.2 70.5 26.7 73.4 30.5 76.3 31.8 79.3 34.2 82.2 38 85.1 39.3 88.1 41.8 91 45.5 93.9 46.8 96.9 49.3 99.8 53.1 102.7 54.3 105.7 56.8 108.6 60.6 111.5 61.8 114.5 64.4 117.4 68.1 120.3 69.3 122.4 71.2 122.4 87.2 120.3 85.5 117.4 82.3 114.5 80.4 111.5 77.9 108.6 74.8 105.7 72.9 102.7 70.4 99.8 67.3 96.9 65.4 93.9 62.9 91 59.7 88.1 57.9 85.1 55.4 82.2 52.2 79.3 50.3 76.3 47.8 73.4 44.7 70.5 42.8 67.5 40.3 67.1 39.3 64.6 41 61.7 42.1 58.7 42.7 55.8 44.6 55.4 44.7 52.9 45.4 49.9 47.6 47 49 44.1 49.9 43.6 50.8 41.1 51.1 38.2 51 35.3 52.6 34.4 52.8 32.3 55.2 29.4 60.1 26.5 64.3 25.6 64.9 23.5 65.3 20.6 64.7 17.7 63.7 16.8 64.3 14.7 64.1 11.8 63.5 9.7 64.2 8.9 67.2 6.4 76.2 5.9 82Z" fill="#1f77b4" fill-opacity="0.3" stroke="#1f77b4" stroke-opacity="0.4" stroke-width="1.4" shape-rendering="crispEdges"/><path d="M5.9 66.7 6.4 62.7 8.9 52.3 9.7 48.9 11.8 50.1 14.7 49.2 16.8 49 17.7 50 20.6 48.5 23.5 47.9 25.6 48.7 26.5 46.7 29.4 43 32.3 40.7 34.4 37.2 35.3 36.9 38.2 37.6 41.1 36.2 43.6 35.6 44.1 36.5 47 34 49.9 32.4 52.9 32 55.4 29.7 55.8 29.4 58.7 29.3 61.7 27.1 64.6 25.9 67.1 25.9 67.5 25.2 70.5 27.7 73.4 31.3 76.3 32.2 79.3 33.4 82.2 35.7 85.1 35.8 88.1 37.1 91 39.4 93.9 40.3 96.9 42.2 99.8 45.1 102.7 45.9 105.7 47.9 108.6 50.8 111.5 51.6 114.5 53.5 117.4 56.5 120.3 57.3 122.4 59.2 122.4 86.3 120.3 84.5 117.4 81.5 114.5 79.5 111.5 77 108.6 73.9 105.7 71.9 102.7 69.4 99.8 66.4 96.9 64.4 93.9 61.9 91 58.9 88.1 56.9 85.1 54.4 82.2 51.4 79.3 49.4 76.3 46.9 73.4 43.8 70.5 41.9 67.5 39.3 67.1 38.5 64.6 40 61.7 41.2 58.7 41.9 55.8 43.6 55.4 43.7 52.9 44.5 49.9 46.6 47 48.1 44.1 49.1 43.6 49.9 41.1 50.2 38.2 50.1 35.3 51.1 34.4 51.2 32.3 53.2 29.4 57.3 26.5 60.7 25.6 61.2 23.5 62.1 20.6 62.5 17.7 62.5 16.8 63.2 14.7 63.1 11.8 62.7 9.7 63.2 8.9 66.3 6.4 75.3 5.9 81Z" fill="#ff7f0e" fill-opacity="0.24" stroke="#ff7f0e" stroke-opacity="0.3" stroke-width="1.2" shape-rendering="crispEdges"/></svg><path d="M1195.5 686.1V770.4M1210.5 686.1V770.4M1269.5 686.1V770.4M1283.5 686.1V770.4" stroke="#bdbdbd" stroke-width="1"/><use href="#gr" transform="translate(1175.7,686.1)"/><svg x="1175.7" y="686.1" width="127.8" height="84.3" overflow="hidden"><path d="M5.1 84.3 6.4 68.8 9.7 56.2 16.8 56.2 25.6 54.8 34.4 44.3 43.6 42.9 55.4 36.8 67.1 32 122.8 79.7" fill="none" stroke="#fff" stroke-width="11.2" stroke-linejoin="round"/><path d="M5.1 84.3 6.4 68.8 9.7 56.2 16.8 56.2 25.6 54.8 34.4 44.3 43.6 42.9 55.4 36.8 67.1 32 122.8 79.7" fill="none" stroke="#000" stroke-width="9.6" stroke-linejoin="round" shape-rendering="crispEdges"/></svg><use href="#fr" transform="translate(1175.7,686.1)"/>
<svg x="1355.15" y="686.1" width="127.8" height="84.3" overflow="hidden"><path d="M5.9 64.4 6.4 60 8.9 49 9.7 46.6 11.8 47.3 14.7 45.8 16.8 46.5 17.7 46.9 20.6 44.4 23.5 44 24.4 44.4 26.5 41.2 29.4 39.6 31.9 38.2 32.3 36.6 35.3 35.9 38.2 35.1 41.1 32.2 43.6 31.7 44.1 32.1 47 29.1 49.9 28.4 52.9 27.5 55.4 24.7 55.8 25.5 58.7 25.2 61.7 22.9 63.8 23.1 64.6 23.4 67.5 21 70.5 20.9 73.4 20.9 74.2 19.4 76.3 22.4 79.3 25.7 82.2 27 85.1 30.8 88.1 34.1 91 35.5 93.9 39.2 96.9 42.5 99.8 43.9 102.7 47.7 105.7 50.9 108.6 52.3 111.5 56.1 114.5 59.3 117.4 60.7 120.3 64.5 122.4 66.9 122.4 84.3 120.3 82.5 117.4 80.2 114.5 76.7 111.5 74.1 108.6 71.8 105.7 68.3 102.7 65.7 99.8 63.3 96.9 59.8 93.9 57.3 91 54.9 88.1 51.4 85.1 48.8 82.2 46.5 79.3 43 76.3 40.4 74.2 38.9 73.4 38.2 70.5 39.4 67.5 41.5 64.6 42.5 63.8 43.2 61.7 44.2 58.7 44.3 55.8 45.5 55.4 46 52.9 46.6 49.9 48.4 47 50.3 44.1 51 43.6 51.6 41.1 53.2 38.2 53.9 35.3 55.7 32.3 57.5 31.9 57 29.4 59.3 26.5 62 24.4 63 23.5 63.6 20.6 65.1 17.7 65.4 16.8 66.1 14.7 66.4 11.8 65.7 9.7 66.1 8.9 69.6 6.4 78.3 5.9 83.8Z" fill="#1f77b4" fill-opacity="0.3" stroke="#1f77b4" stroke-opacity="0.4" stroke-width="1.4" shape-rendering="crispEdges"/><path d="M5.9 66.1 6.4 61.5 8.9 50.8 9.7 48.2 11.8 48.8 14.7 47.6 16.8 48.2 17.7 48.5 20.6 46.1 23.5 45.7 24.4 45.9 26.5 43 29.4 41.3 31.9 39.8 32.3 38.4 35.3 37.6 38.2 36.7 41.1 34 43.6 33.4 44.1 33.7 47 31 49.9 30.1 52.9 29.1 55.4 26.6 55.8 27.2 58.7 26.8 61.7 24.7 63.8 24.8 64.6 25 67.5 23 70.5 22.9 73.4 22.8 74.2 21.6 76.3 24.4 79.3 27.6 82.2 29.2 85.1 32.8 88.1 36 91 37.6 93.9 41.2 96.9 44.4 99.8 46.1 102.7 49.7 105.7 52.9 108.6 54.5 111.5 58.1 114.5 61.3 117.4 62.9 120.3 66.5 122.4 68.9 122.4 83.7 120.3 81.9 117.4 79.5 114.5 76.1 111.5 73.5 108.6 71.1 105.7 67.7 102.7 65 99.8 62.6 96.9 59.2 93.9 56.6 91 54.2 88.1 50.8 85.1 48.2 82.2 45.8 79.3 42.4 76.3 39.8 74.2 38.2 73.4 37.6 70.5 38.5 67.5 40.2 64.6 40.9 63.8 41.5 61.7 42.5 58.7 42.7 55.8 43.8 55.4 44.2 52.9 44.9 49.9 46.7 47 48.5 44.1 49.4 43.6 49.9 41.1 51.4 38.2 52.3 35.3 54 32.3 55.7 31.9 55.3 29.4 57.6 26.5 60.3 24.4 61.3 23.5 61.9 20.6 63.3 17.7 63.8 16.8 64.4 14.7 64.7 11.8 64.1 9.7 64.4 8.9 67.8 6.4 76.7 5.9 82.2Z" fill="#ff7f0e" fill-opacity="0.24" stroke="#ff7f0e" stroke-opacity="0.3" stroke-width="1.2" shape-rendering="crispEdges"/></svg><path d="M1375.5 686.1V770.4M1433.5 686.1V770.4M1463.5 686.1V770.4" stroke="#bdbdbd" stroke-width="1"/><use href="#gr" transform="translate(1355.15,686.1)"/><svg x="1355.15" y="686.1" width="127.8" height="84.3" overflow="hidden"><path d="M5.1 84.3 6.4 68.8 9.7 56.2 16.8 56.2 24.4 53.4 31.9 47.3 43.6 41.6 55.4 35.5 63.8 33.1 74.2 33.1 122.8 79.7" fill="none" stroke="#fff" stroke-width="11.2" stroke-linejoin="round"/><path d="M5.1 84.3 6.4 68.8 9.7 56.2 16.8 56.2 24.4 53.4 31.9 47.3 43.6 41.6 55.4 35.5 63.8 33.1 74.2 33.1 122.8 79.7" fill="none" stroke="#000" stroke-width="9.6" stroke-linejoin="round" shape-rendering="crispEdges"/></svg><use href="#fr" transform="translate(1355.15,686.1)"/>
<svg x="1534.6" y="686.1" width="127.8" height="84.3" overflow="hidden"><path d="M5.9 65 6.4 59.6 8.9 50 9.7 48.5 11.8 48.3 14.7 47.1 16.8 48.5 17.7 47.9 20.6 45.7 23.5 45.9 24.4 45.3 26.5 42.4 29.4 41.3 31.5 39.2 32.3 37.5 35.3 36.7 38.2 34.2 41.1 30.9 44.1 30.1 46.2 28.2 47 27.2 49.9 28.6 52.9 28.1 55.8 27.1 56.6 28.5 58.7 26.7 61.7 23.7 63.8 23.7 64.6 22.9 67.5 21 70.5 21.4 73.4 20.4 74.2 19.4 76.3 22.9 79.3 25.2 82.2 27 85.1 31.3 88.1 33.6 91 35.5 93.9 39.7 96.9 42 99.8 43.9 102.7 48.2 105.7 50.4 108.6 52.3 111.5 56.6 114.5 58.8 117.4 60.8 120.3 65 122.4 66.4 122.4 84.6 120.3 82.3 117.4 80.2 114.5 76.9 111.5 73.8 108.6 71.8 105.7 68.5 102.7 65.4 99.8 63.3 96.9 60.1 93.9 57 91 54.9 88.1 51.7 85.1 48.6 82.2 46.5 79.3 43.2 76.3 40.2 74.2 38.9 73.4 38.4 70.5 39.1 67.5 41.5 64.6 42.7 63.8 43 61.7 45.1 58.7 46.5 56.6 47.7 55.8 48.4 52.9 47.9 49.9 47.7 47 48.4 46.2 47.9 44.1 49.2 41.1 52.1 38.2 53.7 35.3 55.7 32.3 58.5 31.5 58.6 29.4 60.2 26.5 63.4 24.4 64.6 23.5 64.8 20.6 66.5 17.7 67.1 16.8 67.2 14.7 67.9 11.8 67.3 9.7 67.2 8.9 70.7 6.4 78.5 5.9 83.6Z" fill="#1f77b4" fill-opacity="0.3" stroke="#1f77b4" stroke-opacity="0.4" stroke-width="1.4" shape-rendering="crispEdges"/><path d="M5.9 66.5 6.4 61.2 8.9 51.8 9.7 50.1 11.8 49.9 14.7 48.9 16.8 50.1 17.7 49.5 20.6 47.5 23.5 47.5 24.4 46.9 26.5 44.2 29.4 42.9 31.5 40.8 32.3 39.3 35.3 38.3 38.2 35.8 41.1 32.7 44.1 31.7 46.2 29.9 47 29 49.9 30.1 52.9 29.8 55.8 28.9 56.6 30.1 58.7 28.3 61.7 25.5 63.8 25.3 64.6 24.6 67.5 23 70.5 23.3 73.4 22.4 74.2 21.6 76.3 24.8 79.3 27.2 82.2 29.2 85.1 33.2 88.1 35.6 91 37.7 93.9 41.7 96.9 44 99.8 46.1 102.7 50.1 105.7 52.4 108.6 54.5 111.5 58.5 114.5 60.8 117.4 62.9 120.3 66.9 122.4 68.5 122.4 83.9 120.3 81.7 117.4 79.5 114.5 76.3 111.5 73.3 108.6 71.1 105.7 67.9 102.7 64.8 99.8 62.6 96.9 59.4 93.9 56.4 91 54.2 88.1 51 85.1 48 82.2 45.8 79.3 42.6 76.3 39.6 74.2 38.2 73.4 37.8 70.5 38.3 67.5 40.2 64.6 41.1 63.8 41.3 61.7 43.3 58.7 44.8 56.6 46.1 55.8 46.6 52.9 46.2 49.9 46 47 46.6 46.2 46.2 44.1 47.6 41.1 50.3 38.2 52 35.3 54 32.3 56.8 31.5 56.9 29.4 58.6 26.5 61.6 24.4 62.9 23.5 63.1 20.6 64.8 17.7 65.4 16.8 65.6 14.7 66.2 11.8 65.7 9.7 65.6 8.9 68.9 6.4 76.9 5.9 81.9Z" fill="#ff7f0e" fill-opacity="0.24" stroke="#ff7f0e" stroke-opacity="0.3" stroke-width="1.2" shape-rendering="crispEdges"/></svg><path d="M1554.5 686.1V770.4M1583.5 686.1V770.4M1613.5 686.1V770.4M1627.5 686.1V770.4" stroke="#bdbdbd" stroke-width="1"/><use href="#gr" transform="translate(1534.6,686.1)"/><svg x="1534.6" y="686.1" width="127.8" height="84.3" overflow="hidden"><path d="M5.1 84.3 6.4 68.8 9.7 57.6 16.8 57.6 24.4 54.8 31.5 48.8 46.2 37.9 56.6 37.9 63.8 33.1 74.2 33.1 122.8 79.7" fill="none" stroke="#fff" stroke-width="11.2" stroke-linejoin="round"/><path d="M5.1 84.3 6.4 68.8 9.7 57.6 16.8 57.6 24.4 54.8 31.5 48.8 46.2 37.9 56.6 37.9 63.8 33.1 74.2 33.1 122.8 79.7" fill="none" stroke="#000" stroke-width="9.6" stroke-linejoin="round" shape-rendering="crispEdges"/></svg><use href="#fr" transform="translate(1534.6,686.1)"/>
<svg x="1714.05" y="686.1" width="127.8" height="84.3" overflow="hidden"><path d="M5.9 65.3 6.4 59 8.9 52.9 11.4 48.4 11.8 47.6 14.7 49.6 17.3 52.9 17.7 50.9 20.6 45.2 21.4 44.9 23.5 45.3 26.1 46.9 26.5 47.6 29.4 41.9 32.3 37.2 34 36 35.3 35.5 38.2 36.9 38.2 38.2 41.1 34.4 44.1 31.7 47 30.4 47.4 28.8 49.9 28 52.9 28.5 54.1 26.9 55.8 26 58.7 25.8 61.7 23.2 61.7 23.1 64.6 24 67.5 22.4 69.6 22.1 70.5 23.9 73.4 24.3 76.3 25.9 79.3 29.2 82.2 30.5 85.1 33.2 88.1 37 91 38.4 93.9 41 96.9 44.9 99.8 46.2 102.7 48.9 105.7 52.7 108.6 54 111.5 56.7 114.5 60.6 117.4 61.9 120.3 64.6 122 67.3 122.4 66.6 122.4 85.6 122 84.3 120.3 83.4 117.4 80.9 114.5 77.6 111.5 75.6 108.6 73 105.7 69.7 102.7 67.7 99.8 65.2 96.9 61.9 93.9 59.9 91 57.3 88.1 54 85.1 52.1 82.2 49.5 79.3 46.2 76.3 45.2 73.4 44.2 70.5 42.7 69.6 43 67.5 43.2 64.6 42.9 61.7 43.9 61.7 43.9 58.7 44.7 55.8 46.7 54.1 47.5 52.9 47.2 49.9 48.7 47.4 49.3 47 49 44.1 52.3 41.1 54.8 38.2 56.8 38.2 57.4 35.3 55.8 34 54.5 32.3 57.7 29.4 62.1 26.5 66.1 26.1 67.4 23.5 65.4 21.4 63.3 20.6 65.6 17.7 70.9 17.3 71.2 14.7 69.9 11.8 67.5 11.4 66.6 8.9 73.1 6.4 78.8 5.9 83.4Z" fill="#1f77b4" fill-opacity="0.3" stroke="#1f77b4" stroke-opacity="0.4" stroke-width="1.4" shape-rendering="crispEdges"/><path d="M5.9 66.8 6.4 60.7 8.9 54.6 11.4 49.9 11.8 49.3 14.7 51.3 17.3 54.4 17.7 52.6 20.6 46.9 21.4 46.5 23.5 47 26.1 48.7 26.5 49.2 29.4 43.7 32.3 39 34 37.5 35.3 37.2 38.2 38.6 38.2 39.7 41.1 36.1 44.1 33.4 47 31.9 47.4 30.5 49.9 29.7 52.9 30 54.1 28.6 55.8 27.8 58.7 27.4 61.7 24.9 61.7 24.9 64.6 25.6 67.5 24.2 69.6 23.9 70.5 25.5 73.4 26.2 76.3 27.9 79.3 31.1 82.2 32.7 85.1 35.3 88.1 38.9 91 40.5 93.9 43.1 96.9 46.8 99.8 48.3 102.7 51 105.7 54.6 108.6 56.2 111.5 58.9 114.5 62.5 117.4 64 120.3 66.7 122 69.2 122.4 68.7 122.4 84.9 122 83.7 120.3 82.7 117.4 80.2 114.5 77 111.5 74.9 108.6 72.3 105.7 69.2 102.7 67.1 99.8 64.5 96.9 61.3 93.9 59.2 91 56.6 88.1 53.5 85.1 51.4 82.2 48.8 79.3 45.6 76.3 44.3 73.4 43 70.5 41.1 69.6 41.3 67.5 41.5 64.6 41.3 61.7 42.2 61.7 42.1 58.7 43 55.8 45 54.1 45.8 52.9 45.6 49.9 46.9 47.4 47.5 47 47.4 44.1 50.5 41.1 53.1 38.2 55.1 38.2 55.7 35.3 54.1 34 52.9 32.3 56 29.4 60.4 26.5 64.4 26.1 65.6 23.5 63.7 21.4 61.7 20.6 63.8 17.7 69.2 17.3 69.5 14.7 68.2 11.8 65.8 11.4 65 8.9 71.4 6.4 77.1 5.9 81.8Z" fill="#ff7f0e" fill-opacity="0.24" stroke="#ff7f0e" stroke-opacity="0.3" stroke-width="1.2" shape-rendering="crispEdges"/></svg><path d="M1734.5 686.1V770.4M1748.5 686.1V770.4M1807.5 686.1V770.4M1822.5 686.1V770.4" stroke="#bdbdbd" stroke-width="1"/><use href="#gr" transform="translate(1714.05,686.1)"/><svg x="1714.05" y="686.1" width="127.8" height="84.3" overflow="hidden"><path d="M5.1 84.3 6.4 68.8 11.4 57.2 17.3 61.7 21.4 53.8 26.1 57.2 34 45 38.2 47.2 47.4 39.1 54.1 37.2 61.7 33.6 69.6 32.7 122 79.4 124.5 82.9" fill="none" stroke="#fff" stroke-width="11.2" stroke-linejoin="round"/><path d="M5.1 84.3 6.4 68.8 11.4 57.2 17.3 61.7 21.4 53.8 26.1 57.2 34 45 38.2 47.2 47.4 39.1 54.1 37.2 61.7 33.6 69.6 32.7 122 79.4 124.5 82.9" fill="none" stroke="#000" stroke-width="9.6" stroke-linejoin="round" shape-rendering="crispEdges"/></svg><use href="#fr" transform="translate(1714.05,686.1)"/>
<svg x="1893.5" y="686.1" width="127.8" height="84.3" overflow="hidden"><path d="M5.9 65.2 6.4 58.6 8.9 53.4 11.4 48.3 11.8 47.2 14.7 50.3 16.8 52.7 17.7 50.1 20.6 46.9 23.5 43.7 23.5 42.2 26.5 44.4 28.1 45.9 29.4 42.1 32.3 37.5 33.6 35.8 35.3 34.9 38.2 36.7 40.3 38 41.1 35.7 44.1 33.6 47 31.3 49.9 26.9 50.4 27.4 52.9 26.6 55.8 23.5 57.1 23.7 58.7 23.7 61.7 21.2 64.6 21.1 65.9 21.2 67.5 20.6 70.5 23 73.4 25.1 76.3 25.9 79.3 29.3 82.2 32.3 85.1 33.4 88.1 36.9 91 39.8 93.9 40.9 96.9 44.4 99.8 47.4 102.7 48.4 105.7 51.9 108.6 54.9 111.5 56 114.5 59.5 117.4 62.4 120.3 63.5 122.4 66.3 122.4 84.3 120.3 83 117.4 79.8 114.5 77.4 111.5 75.4 108.6 72.2 105.7 69.9 102.7 67.9 99.8 64.7 96.9 62.4 93.9 60.4 91 57.2 88.1 54.9 85.1 52.9 82.2 49.6 79.3 47.4 76.3 45.3 73.4 42.6 70.5 42 67.5 41.6 65.9 40.4 64.6 41.1 61.7 42.5 58.7 42.8 57.1 43.6 55.8 44.7 52.9 45.6 50.4 47.2 49.9 48.1 47 50.3 44.1 53.4 41.1 56.8 40.3 56.9 38.2 56.5 35.3 55.9 33.6 54.6 32.3 57.2 29.4 63 28.1 64.5 26.5 64 23.5 63 23.5 62.2 20.6 66.5 17.7 70.8 16.8 71.2 14.7 69.8 11.8 67.8 11.4 66.7 8.9 72.9 6.4 79 5.9 83.5Z" fill="#1f77b4" fill-opacity="0.3" stroke="#1f77b4" stroke-opacity="0.4" stroke-width="1.4" shape-rendering="crispEdges"/><path d="M5.9 66.7 6.4 60.3 8.9 55.1 11.4 49.8 11.8 49 14.7 52 16.8 54.3 17.7 51.9 20.6 48.6 23.5 45.2 23.5 44 26.5 46.1 28.1 47.4 29.4 43.9 32.3 39.2 33.6 37.4 35.3 36.7 38.2 38.4 40.3 39.6 41.1 37.5 44.1 35.3 47 32.9 49.9 28.7 50.4 29 52.9 28.1 55.8 25.3 57.1 25.4 58.7 25.2 61.7 23 64.6 22.8 65.9 22.8 67.5 22.5 70.5 24.9 73.4 27 76.3 28.1 79.3 31.3 82.2 34.3 85.1 35.6 88.1 38.9 91 41.8 93.9 43.1 96.9 46.4 99.8 49.3 102.7 50.6 105.7 54 108.6 56.8 111.5 58.1 114.5 61.5 117.4 64.3 120.3 65.7 122.4 68.3 122.4 83.6 120.3 82.3 117.4 79.2 114.5 76.8 111.5 74.7 108.6 71.6 105.7 69.3 102.7 67.2 99.8 64.1 96.9 61.8 93.9 59.7 91 56.6 88.1 54.3 85.1 52.1 82.2 49 79.3 46.7 76.3 44.6 73.4 41.9 70.5 40.9 67.5 40.1 65.9 38.8 64.6 39.4 61.7 40.8 58.7 41.1 57.1 41.9 55.8 43 52.9 44 50.4 45.6 49.9 46.3 47 48.6 44.1 51.8 41.1 55 40.3 55.2 38.2 54.8 35.3 54.1 33.6 52.9 32.3 55.5 29.4 61.2 28.1 62.9 26.5 62.4 23.5 61.2 23.5 60.6 20.6 64.8 17.7 69.1 16.8 69.6 14.7 68.1 11.8 66 11.4 65.1 8.9 71.2 6.4 77.3 5.9 81.9Z" fill="#ff7f0e" fill-opacity="0.24" stroke="#ff7f0e" stroke-opacity="0.3" stroke-width="1.2" shape-rendering="crispEdges"/></svg><path d="M1928.5 686.1V770.4M1942.5 686.1V770.4M1972.5 686.1V770.4M1986.5 686.1V770.4" stroke="#bdbdbd" stroke-width="1"/><use href="#gr" transform="translate(1893.5,686.1)"/><svg x="1893.5" y="686.1" width="127.8" height="84.3" overflow="hidden"><path d="M5.1 84.3 6.4 68.8 11.4 57.2 16.8 61.7 23.5 52.7 28.1 54.9 33.6 45 40.3 47.2 50.4 37.2 57.1 33.6 65.9 30.6 122.8 79.4" fill="none" stroke="#fff" stroke-width="11.2" stroke-linejoin="round"/><path d="M5.1 84.3 6.4 68.8 11.4 57.2 16.8 61.7 23.5 52.7 28.1 54.9 33.6 45 40.3 47.2 50.4 37.2 57.1 33.6 65.9 30.6 122.8 79.4" fill="none" stroke="#000" stroke-width="9.6" stroke-linejoin="round" shape-rendering="crispEdges"/></svg><use href="#fr" transform="translate(1893.5,686.1)"/>
<svg x="2072.95" y="686.1" width="127.8" height="84.3" overflow="hidden"><path d="M5.9 64.7 6.4 58.4 8.9 54 11.4 47.9 11.8 47.2 14.7 51.6 16.8 53.4 17.7 51.5 20.6 50 23.5 46.7 23.5 45.7 26.5 44 29.4 40.6 31.1 37.7 32.3 38.6 35.3 37.1 36.9 35.4 38.2 37.6 41.1 39 42.4 38.8 44.1 38.3 47 34.7 49.9 30.5 51.2 30.5 52.9 29.1 55.8 26.4 58.7 26.1 60.4 24.7 61.7 23.3 64.6 23.8 67.5 22.3 69.2 20.8 70.5 23 73.4 24 76.3 24.7 79.3 28.3 82.2 30.3 85.1 32 88.1 36 91 38 93.9 39.7 96.9 43.7 99.8 45.7 102.7 47.4 105.7 51.4 108.6 53.4 111.5 55.1 114.5 59.1 117.4 61 120.3 62.8 122.4 66 122.4 83.3 120.3 82.2 117.4 79.2 114.5 76.3 111.5 74.5 108.6 71.5 105.7 68.6 102.7 66.8 99.8 63.8 96.9 60.9 93.9 59.1 91 56.1 88.1 53.3 85.1 51.4 82.2 48.4 79.3 45.6 76.3 44.4 73.4 43.1 70.5 41.9 69.2 42.3 67.5 42.3 64.6 43 61.7 44.6 60.4 44.5 58.7 45.2 55.8 47.7 52.9 48.8 51.2 49.6 49.9 51.7 47 54.4 44.1 57.3 42.4 59.9 41.1 58.6 38.2 56.5 36.9 56.5 35.3 56.6 32.3 57.5 31.1 58.7 29.4 59.9 26.5 62.8 23.5 66.5 23.5 66 20.6 68.7 17.7 72.3 16.8 72.6 14.7 70.2 11.8 67.9 11.4 66.9 8.9 72.6 6.4 79.1 5.9 83.7Z" fill="#1f77b4" fill-opacity="0.3" stroke="#1f77b4" stroke-opacity="0.4" stroke-width="1.4" shape-rendering="crispEdges"/><path d="M5.9 66.3 6.4 60.2 8.9 55.5 11.4 49.5 11.8 49 14.7 53.1 16.8 55 17.7 53.3 20.6 51.5 23.5 48.4 23.5 47.5 26.5 45.5 29.4 42.2 31.1 39.5 32.3 40.2 35.3 38.8 36.9 37.2 38.2 39.2 41.1 40.7 42.4 40.6 44.1 39.9 47 36.4 49.9 32.3 51.2 32.1 52.9 30.8 55.8 28.2 58.7 27.7 60.4 26.3 61.7 25.1 64.6 25.4 67.5 24 69.2 22.7 70.5 24.6 73.4 25.9 76.3 26.8 79.3 30.2 82.2 32.3 85.1 34.1 88.1 37.9 91 40 93.9 41.8 96.9 45.6 99.8 47.7 102.7 49.5 105.7 53.3 108.6 55.4 111.5 57.2 114.5 61 117.4 63.1 120.3 64.9 122.4 68 122.4 82.7 120.3 81.5 117.4 78.6 114.5 75.7 111.5 73.8 108.6 70.9 105.7 68 102.7 66.1 99.8 63.2 96.9 60.4 93.9 58.4 91 55.5 88.1 52.7 85.1 50.7 82.2 47.8 79.3 45 76.3 43.6 73.4 41.9 70.5 40.4 69.2 40.5 67.5 40.6 64.6 41.3 61.7 42.8 60.4 42.8 58.7 43.6 55.8 45.9 52.9 47.2 51.2 48 49.9 49.9 47 52.7 44.1 55.7 42.4 58.1 41.1 56.9 38.2 54.9 36.9 54.7 35.3 54.9 32.3 55.9 31.1 56.9 29.4 58.2 26.5 61.1 23.5 64.8 23.5 64.3 20.6 67.1 17.7 70.5 16.8 70.9 14.7 68.6 11.8 66.1 11.4 65.2 8.9 71 6.4 77.4 5.9 82Z" fill="#ff7f0e" fill-opacity="0.24" stroke="#ff7f0e" stroke-opacity="0.3" stroke-width="1.2" shape-rendering="crispEdges"/></svg><path d="M2092.5 686.1V770.4M2122.5 686.1V770.4M2166.5 686.1V770.4M2180.5 686.1V770.4" stroke="#bdbdbd" stroke-width="1"/><use href="#gr" transform="translate(2072.95,686.1)"/><svg x="2072.95" y="686.1" width="127.8" height="84.3" overflow="hidden"><path d="M5.1 84.3 6.4 68.8 11.4 57.2 16.8 62.8 23.5 56.2 31.1 48.3 36.9 46.1 42.4 49.5 51.2 39.9 60.4 34.5 69.2 31.8 123.7 79.4" fill="none" stroke="#fff" stroke-width="11.2" stroke-linejoin="round"/><path d="M5.1 84.3 6.4 68.8 11.4 57.2 16.8 62.8 23.5 56.2 31.1 48.3 36.9 46.1 42.4 49.5 51.2 39.9 60.4 34.5 69.2 31.8 123.7 79.4" fill="none" stroke="#000" stroke-width="9.6" stroke-linejoin="round" shape-rendering="crispEdges"/></svg><use href="#fr" transform="translate(2072.95,686.1)"/>
<text transform="translate(2220.5,726.75) rotate(90)" font-size="53.33" text-anchor="middle">0.05</text>
<svg x="278.45" y="804" width="127.8" height="84.3" overflow="hidden"><path d="M5.9 67.7 6.4 58.7 7.6 51.6 8.9 48.9 9.7 47.4 11.4 47.4 11.8 46 14.7 43.4 16 43.8 17.7 43.9 20.2 45.2 20.6 46.1 23.5 41.5 26.1 38.1 26.5 39.2 28.1 36.8 29.4 35.5 30.2 36.3 32.3 33.6 34.4 31.7 35.3 32.6 36.5 30.8 38.2 29.5 38.6 30.7 40.7 28.4 41.1 27.9 42.8 28.3 44.1 26.5 44.9 25.9 47 26.2 47 25 49.1 23.8 49.9 24.8 51.2 23 52.9 22.2 53.3 23.4 55 21.7 55.8 22 58.7 25 61.7 25.4 64.6 27.3 67.5 31.3 70.5 32.7 73.4 35.2 76.3 39.2 79.3 40.6 82.2 43.1 85.1 47.1 88.1 48.5 91 51 93.9 54.9 96.9 56.3 99.8 58.9 102.7 62.8 105.7 64.2 108.6 66.8 111.5 70.7 111.9 69.8 111.9 88.7 111.5 87.7 108.6 85.7 105.7 83.1 102.7 79.8 99.8 77.8 96.9 75.2 93.9 71.9 91 70 88.1 67.3 85.1 64.1 82.2 62.1 79.3 59.4 76.3 56.2 73.4 54.2 70.5 51.5 67.5 48.3 64.6 46.3 61.7 44.6 58.7 43 55.8 42.8 55 42.4 53.3 42.3 52.9 43.1 51.2 43.7 49.9 43.7 49.1 44.7 47 45.6 47 45 44.9 46.7 44.1 47 42.8 47.1 41.1 48.7 40.7 48.8 38.6 49.4 38.2 50.3 36.5 51.1 35.3 51.3 34.4 52.5 32.3 53.8 30.2 54.8 29.4 56.2 28.1 56.9 26.5 57.7 26.1 58.7 23.5 61.5 20.6 64.5 20.2 65.7 17.7 63.8 16 62.2 14.7 63.8 11.8 65.9 11.4 65.7 9.7 67.8 8.9 68.7 7.6 69.9 6.4 79 5.9 87.4Z" fill="#1f77b4" fill-opacity="0.3" stroke="#1f77b4" stroke-opacity="0.4" stroke-width="1.4" shape-rendering="crispEdges"/><path d="M5.9 69.4 6.4 60.4 7.6 53.1 8.9 50.6 9.7 49.1 11.4 48.9 11.8 47.7 14.7 45.1 16 45.3 17.7 45.6 20.2 46.9 20.6 47.6 23.5 43.2 26.1 39.9 26.5 40.7 28.1 38.5 29.4 37.3 30.2 37.8 32.3 35.3 34.4 33.5 35.3 34.2 36.5 32.5 38.2 31.3 38.6 32.2 40.7 30.1 41.1 29.7 42.8 29.9 44.1 28.3 44.9 27.6 47 27.7 47 26.8 49.1 25.6 49.9 26.3 51.2 24.8 52.9 24 53.3 24.9 55 23.4 55.8 23.8 58.7 26.7 61.7 27.4 64.6 29.5 67.5 33.2 70.5 34.8 73.4 37.4 76.3 41.1 79.3 42.7 82.2 45.3 85.1 49 88.1 50.6 91 53.2 93.9 56.9 96.9 58.4 99.8 61 102.7 64.7 105.7 66.3 108.6 68.9 111.5 72.6 111.9 71.9 111.9 88.1 111.5 87.1 108.6 85 105.7 82.4 102.7 79.3 99.8 77.2 96.9 74.5 93.9 71.4 91 69.3 88.1 66.6 85.1 63.5 82.2 61.4 79.3 58.8 76.3 55.6 73.4 53.5 70.5 50.9 67.5 47.7 64.6 45.7 61.7 43.7 58.7 41.9 55.8 41.1 55 40.7 53.3 40.7 52.9 41.4 51.2 42 49.9 42 49.1 42.9 47 43.8 47 43.4 44.9 45 44.1 45.3 42.8 45.5 41.1 46.9 40.7 47.1 38.6 47.7 38.2 48.6 36.5 49.4 35.3 49.7 34.4 50.7 32.3 52.1 30.2 53.2 29.4 54.4 28.1 55.2 26.5 56.1 26.1 57 23.5 59.8 20.6 62.9 20.2 64 17.7 62.1 16 60.6 14.7 62.1 11.8 64.2 11.4 64.1 9.7 66 8.9 67 7.6 68.3 6.4 77.3 5.9 85.7Z" fill="#ff7f0e" fill-opacity="0.24" stroke="#ff7f0e" stroke-opacity="0.3" stroke-width="1.2" shape-rendering="crispEdges"/></svg><path d="M298.5 804V888.3M313.5 804V888.3M357.5 804V888.3M386.5 804V888.3" stroke="#bdbdbd" stroke-width="1"/><use href="#gr" transform="translate(278.45,804)"/><svg x="278.45" y="804" width="127.8" height="84.3" overflow="hidden"><path d="M5.6 84.3 6.4 68.8 7.6 60.4 9.7 57.6 11.4 56.2 16 52.7 20.2 55.5 26.1 48.5 28.1 46.9 30.2 45.3 32.3 43.7 34.4 42.2 36.5 41 38.6 39.8 40.7 38.6 42.8 37.5 44.9 36.4 47 35.3 49.1 34.4 51.2 33.4 53.3 32.6 55 32.1 113.2 84.3 117.7 88.5" fill="none" stroke="#fff" stroke-width="11.2" stroke-linejoin="round"/><path d="M5.6 84.3 6.4 68.8 7.6 60.4 9.7 57.6 11.4 56.2 16 52.7 20.2 55.5 26.1 48.5 28.1 46.9 30.2 45.3 32.3 43.7 34.4 42.2 36.5 41 38.6 39.8 40.7 38.6 42.8 37.5 44.9 36.4 47 35.3 49.1 34.4 51.2 33.4 53.3 32.6 55 32.1 113.2 84.3 117.7 88.5" fill="none" stroke="#000" stroke-width="9.6" stroke-linejoin="round" shape-rendering="crispEdges"/></svg><use href="#fr" transform="translate(278.45,804)"/>
<text x="241.45" y="903.9" font-size="44.44" text-anchor="end">0</text>
<text x="241.45" y="861.75" font-size="44.44" text-anchor="end">3</text>
<text x="241.45" y="819.6" font-size="44.44" text-anchor="end">6</text>
<svg x="457.9" y="804" width="127.8" height="84.3" overflow="hidden"><path d="M5.9 67.2 6.4 59.2 7.6 51.6 8.9 48.5 9.7 47.9 11.4 47.3 11.8 45.6 14.7 43.9 16 43.8 17.7 43.4 20.2 45.7 20.6 46 23.5 41 26.1 38.6 26.5 39.1 28.1 36.4 29.4 36.2 30.2 36.4 32.3 33.4 34.4 32.6 35.3 32.9 36.5 30.7 38.2 30.5 38.6 31 40.7 28.4 41.1 28.9 42.8 28.7 44.1 26.6 44.9 27 47 26.6 47 25.2 49.1 24.9 49.9 25.2 51.2 23.2 52.9 23.3 53.3 23.8 55.8 21.5 56.6 22.1 58.7 23.9 61.7 24.1 64.6 26.5 67.5 29.6 70.5 30.8 73.4 34.3 76.3 37.5 79.3 38.7 82.2 42.2 85.1 45.4 88.1 46.6 91 50.1 93.9 53.3 96.9 54.4 99.8 58 102.7 61.1 105.7 62.3 108.6 65.9 111.5 69 113.6 69.5 113.6 88.9 111.5 86.3 108.6 83.9 105.7 81.8 102.7 78.4 99.8 76.1 96.9 73.9 93.9 70.5 91 68.2 88.1 66 85.1 62.7 82.2 60.3 79.3 58.1 76.3 54.8 73.4 52.4 70.5 50.2 67.5 46.9 64.6 44.8 61.7 44.3 58.7 42.6 56.6 42.2 55.8 42.9 53.3 42.9 52.9 43.4 51.2 44.5 49.9 44.3 49.1 45 47 46.3 47 45.6 44.9 47 44.1 47.8 42.8 47.6 41.1 48.9 40.7 49.4 38.6 49.8 38.2 50.4 36.5 51.7 35.3 51.7 34.4 52.5 32.3 54.3 30.2 55 29.4 56 28.1 57.3 26.5 57.7 26.1 58.4 23.5 61.8 20.6 64.5 20.2 65.4 17.7 64.1 16 62.2 14.7 63.6 11.8 66.1 11.4 65.7 9.7 67.5 8.9 68.9 7.6 69.9 6.4 78.7 5.9 87.6Z" fill="#1f77b4" fill-opacity="0.3" stroke="#1f77b4" stroke-opacity="0.4" stroke-width="1.4" shape-rendering="crispEdges"/><path d="M5.9 69 6.4 60.8 7.6 53.1 8.9 50.2 9.7 49.6 11.4 48.9 11.8 47.3 14.7 45.6 16 45.3 17.7 45.2 20.2 47.4 20.6 47.6 23.5 42.8 26.1 40.3 26.5 40.7 28.1 38.2 29.4 37.9 30.2 37.9 32.3 35.2 34.4 34.3 35.3 34.4 36.5 32.5 38.2 32.1 38.6 32.5 40.7 30.2 41.1 30.6 42.8 30.3 44.1 28.4 44.9 28.6 47 28.2 47 27 49.1 26.6 49.9 26.8 51.2 25.1 52.9 25 53.3 25.4 55.8 23.4 56.6 23.8 58.7 25.5 61.7 26.1 64.6 28.6 67.5 31.6 70.5 33 73.4 36.3 76.3 39.4 79.3 40.9 82.2 44.2 85.1 47.3 88.1 48.7 91 52.1 93.9 55.2 96.9 56.6 99.8 60 102.7 63.1 105.7 64.5 108.6 67.9 111.5 71 113.6 71.6 113.6 88.2 111.5 85.7 108.6 83.3 105.7 81.1 102.7 77.8 99.8 75.4 96.9 73.2 93.9 70 91 67.6 88.1 65.3 85.1 62.1 82.2 59.7 79.3 57.4 76.3 54.2 73.4 51.8 70.5 49.5 67.5 46.3 64.6 44.1 61.7 43.1 58.7 41.2 56.6 40.5 55.8 41.1 53.3 41.3 52.9 41.7 51.2 42.7 49.9 42.7 49.1 43.3 47 44.6 47 44 44.9 45.3 44.1 46 42.8 46 41.1 47.2 40.7 47.7 38.6 48.2 38.2 48.7 36.5 49.9 35.3 50 34.4 50.8 32.3 52.6 30.2 53.4 29.4 54.3 28.1 55.5 26.5 56.1 26.1 56.8 23.5 60 20.6 62.9 20.2 63.8 17.7 62.3 16 60.6 14.7 61.9 11.8 64.4 11.4 64.1 9.7 65.8 8.9 67.2 7.6 68.3 6.4 77.1 5.9 85.9Z" fill="#ff7f0e" fill-opacity="0.24" stroke="#ff7f0e" stroke-opacity="0.3" stroke-width="1.2" shape-rendering="crispEdges"/></svg><path d="M492.5 804V888.3M507.5 804V888.3M536.5 804V888.3M551.5 804V888.3" stroke="#bdbdbd" stroke-width="1"/><use href="#gr" transform="translate(457.9,804)"/><svg x="457.9" y="804" width="127.8" height="84.3" overflow="hidden"><path d="M5.6 84.3 6.4 68.8 7.6 60.4 9.7 57.6 11.4 56.2 16 52.7 20.2 55.5 26.1 48.5 28.1 46.9 30.2 45.4 32.3 44 34.4 42.5 36.5 41.3 38.6 40.2 40.7 39 42.8 38 44.9 36.9 47 35.9 49.1 34.9 51.2 34 53.3 33.2 56.6 32.1 114.9 84.3 119.4 88.5" fill="none" stroke="#fff" stroke-width="11.2" stroke-linejoin="round"/><path d="M5.6 84.3 6.4 68.8 7.6 60.4 9.7 57.6 11.4 56.2 16 52.7 20.2 55.5 26.1 48.5 28.1 46.9 30.2 45.4 32.3 44 34.4 42.5 36.5 41.3 38.6 40.2 40.7 39 42.8 38 44.9 36.9 47 35.9 49.1 34.9 51.2 34 53.3 33.2 56.6 32.1 114.9 84.3 119.4 88.5" fill="none" stroke="#000" stroke-width="9.6" stroke-linejoin="round" shape-rendering="crispEdges"/></svg><use href="#fr" transform="translate(457.9,804)"/>
<svg x="637.35" y="804" width="127.8" height="84.3" overflow="hidden"><path d="M5.9 67 6.4 59.7 7.6 51.2 8.9 48.3 9.7 48.5 11.4 46.9 11.8 45.4 14.7 44.5 16 43.4 17.7 43.3 20.2 46.3 20.6 45.6 23.5 40.9 26.1 39.2 26.5 38.7 28.1 36.4 29.4 36.9 30.2 36.1 32.3 33.6 34.4 33.5 35.3 32.8 36.5 30.9 38.2 31.4 38.6 31 40.7 28.8 41.1 30 42.8 28.8 44.1 27.1 44.9 28.1 47 26.8 47 25.7 49.1 26.2 49.9 25.5 51.2 23.9 52.9 24.6 53.3 24.1 55.4 22.2 55.8 23.5 58.7 22.2 58.7 21.2 61.7 24.3 64.6 25.5 67.5 26.3 70.5 30.4 73.4 32.6 76.3 34.3 79.3 38.3 82.2 40.5 85.1 42.2 88.1 46.3 91 48.5 93.9 50.2 96.9 54.2 99.8 56.4 102.7 58.1 105.7 62.2 108.6 64.3 111.5 66 114.5 70.1 115.3 70.4 115.3 88.4 114.5 87.4 111.5 85.5 108.6 82.4 105.7 79.5 102.7 77.6 99.8 74.4 96.9 71.5 93.9 69.6 91 66.5 88.1 63.6 85.1 61.7 82.2 58.5 79.3 55.7 76.3 53.7 73.4 50.6 70.5 47.7 67.5 45.8 64.6 44.1 61.7 42.9 58.7 42.6 58.7 42.1 55.8 42.8 55.4 43.6 53.3 43.9 52.9 43.9 51.2 45.2 49.9 45.2 49.1 45.4 47 47 47 46.5 44.9 47.3 44.1 48.4 42.8 48.4 41.1 49.1 40.7 50 38.6 50.5 38.2 50.5 36.5 52.1 35.3 52.2 34.4 52.6 32.3 54.6 30.2 55.4 29.4 55.9 28.1 57.4 26.5 58 26.1 58.2 23.5 61.8 20.6 64.7 20.2 65.2 17.7 64.1 16 62.4 14.7 63.3 11.8 66.2 11.4 65.9 9.7 67.2 8.9 69 7.6 70.1 6.4 78.5 5.9 87.7Z" fill="#1f77b4" fill-opacity="0.3" stroke="#1f77b4" stroke-opacity="0.4" stroke-width="1.4" shape-rendering="crispEdges"/><path d="M5.9 68.8 6.4 61.3 7.6 52.8 8.9 50.1 9.7 50 11.4 48.5 11.8 47.2 14.7 46 16 45 17.7 45.1 20.2 47.9 20.6 47.2 23.5 42.7 26.1 40.8 26.5 40.3 28.1 38.2 29.4 38.5 30.2 37.8 32.3 35.4 34.4 35.1 35.3 34.5 36.5 32.8 38.2 33 38.6 32.6 40.7 30.6 41.1 31.5 42.8 30.5 44.1 29 44.9 29.7 47 28.5 47 27.6 49.1 27.8 49.9 27.1 51.2 25.7 52.9 26.2 53.3 25.7 55.4 24 55.8 25.1 58.7 23.9 58.7 23 61.7 26 64.6 27.4 67.5 28.5 70.5 32.3 73.4 34.6 76.3 36.5 79.3 40.3 82.2 42.6 85.1 44.4 88.1 48.2 91 50.5 93.9 52.3 96.9 56.2 99.8 58.4 102.7 60.3 105.7 64.1 108.6 66.4 111.5 68.2 114.5 72.1 115.3 72.4 115.3 87.8 114.5 86.8 111.5 84.8 108.6 81.8 105.7 78.9 102.7 76.9 99.8 73.8 96.9 71 93.9 68.9 91 65.9 88.1 63 85.1 61 82.2 57.9 79.3 55.1 76.3 53 73.4 50 70.5 47.2 67.5 45.1 64.6 43.1 61.7 41.6 58.7 40.9 58.7 40.4 55.8 41.1 55.4 41.8 53.3 42.2 52.9 42.2 51.2 43.4 49.9 43.5 49.1 43.7 47 45.3 47 44.8 44.9 45.6 44.1 46.6 42.8 46.7 41.1 47.4 40.7 48.2 38.6 48.8 38.2 48.9 36.5 50.3 35.3 50.6 34.4 51 32.3 52.9 30.2 53.8 29.4 54.3 28.1 55.7 26.5 56.3 26.1 56.5 23.5 60.1 20.6 63.1 20.2 63.5 17.7 62.4 16 60.8 14.7 61.6 11.8 64.4 11.4 64.2 9.7 65.6 8.9 67.3 7.6 68.4 6.4 76.8 5.9 85.9Z" fill="#ff7f0e" fill-opacity="0.24" stroke="#ff7f0e" stroke-opacity="0.3" stroke-width="1.2" shape-rendering="crispEdges"/></svg><path d="M657.5 804V888.3M672.5 804V888.3M730.5 804V888.3M745.5 804V888.3" stroke="#bdbdbd" stroke-width="1"/><use href="#gr" transform="translate(637.35,804)"/><svg x="637.35" y="804" width="127.8" height="84.3" overflow="hidden"><path d="M5.6 84.3 6.4 68.8 7.6 60.4 9.7 57.6 11.4 56.2 16 52.7 20.2 55.5 26.1 48.5 28.1 47 30.2 45.6 32.3 44.2 34.4 42.9 36.5 41.7 38.6 40.6 40.7 39.5 42.8 38.5 44.9 37.5 47 36.6 49.1 35.6 51.2 34.7 53.3 33.9 55.4 33.1 58.7 32.1 116.6 84.3 121 88.5" fill="none" stroke="#fff" stroke-width="11.2" stroke-linejoin="round"/><path d="M5.6 84.3 6.4 68.8 7.6 60.4 9.7 57.6 11.4 56.2 16 52.7 20.2 55.5 26.1 48.5 28.1 47 30.2 45.6 32.3 44.2 34.4 42.9 36.5 41.7 38.6 40.6 40.7 39.5 42.8 38.5 44.9 37.5 47 36.6 49.1 35.6 51.2 34.7 53.3 33.9 55.4 33.1 58.7 32.1 116.6 84.3 121 88.5" fill="none" stroke="#000" stroke-width="9.6" stroke-linejoin="round" shape-rendering="crispEdges"/></svg><use href="#fr" transform="translate(637.35,804)"/>
<svg x="816.8" y="804" width="127.8" height="84.3" overflow="hidden"><path d="M5.9 67.2 6.4 60.1 7.6 50.6 8.9 48.5 9.7 48.8 11.8 47.4 14.7 46.4 15.2 47.8 17.7 44.9 19.8 42.1 20.6 43.1 21.9 41.4 23.5 41 24 42.3 26.1 40.2 26.5 39.5 28.1 39 29.4 36.6 30.2 35.4 32.3 35.8 34.4 34.5 35.3 33.8 36.5 34.6 38.2 31.9 38.6 31.2 40.7 30.9 41.1 29.7 42.8 28.8 44.1 30.1 44.9 28.8 47 27.9 47 29.2 49.1 26.6 49.9 25.8 51.2 26.3 52.9 24.6 53.3 24.3 55.4 25.5 55.8 24.1 57.5 23.5 58.7 24.1 59.6 22.4 61.7 21.8 62.5 22.8 64.6 22.8 67.5 24.4 70.5 27.4 73.4 28.7 76.3 31.3 79.3 35.3 82.2 36.7 85.1 39.3 88.1 43.3 91 44.7 93.9 47.3 96.9 51.3 99.8 52.7 102.7 55.4 105.7 59.3 108.6 60.6 111.5 63.4 114.5 67.3 117.4 68.6 118.6 69.8 118.6 88.7 117.4 87.6 114.5 84.3 111.5 82.2 108.6 79.6 105.7 76.3 102.7 74.2 99.8 71.6 96.9 68.3 93.9 66.2 91 63.6 88.1 60.3 85.1 58.2 82.2 55.6 79.3 52.3 76.3 50.3 73.4 47.6 70.5 44.5 67.5 44.2 64.6 43.1 62.5 41.8 61.7 42.7 59.6 43.2 58.7 43 57.5 44.4 55.8 44.8 55.4 44.3 53.3 45.2 52.9 45.2 51.2 45.1 49.9 46.6 49.1 47.1 47 48 47 48.7 44.9 49.3 44.1 48.8 42.8 49.6 41.1 50 40.7 49.6 38.6 51.9 38.2 52.2 36.5 53.2 35.3 54.4 34.4 54.7 32.3 54.3 30.2 56 29.4 56.7 28.1 57.5 26.5 60 26.1 60.3 24 60.8 23.5 61.5 21.9 61.4 20.6 61.5 19.8 62.6 17.7 64.8 15.2 66.1 14.7 66.9 11.8 67.2 9.7 67.1 8.9 68.9 7.6 70.4 6.4 78.3 5.9 87.6Z" fill="#1f77b4" fill-opacity="0.3" stroke="#1f77b4" stroke-opacity="0.4" stroke-width="1.4" shape-rendering="crispEdges"/><path d="M5.9 69 6.4 61.6 7.6 52.3 8.9 50.3 9.7 50.3 11.8 49.1 14.7 48.2 15.2 49.3 17.7 46.6 19.8 43.8 20.6 44.6 21.9 43.1 23.5 42.7 24 43.9 26.1 42 26.5 41.2 28.1 40.5 29.4 38.3 30.2 37.1 32.3 37.3 34.4 36.2 35.3 35.6 36.5 36.1 38.2 33.6 38.6 33 40.7 32.5 41.1 31.4 42.8 30.6 44.1 31.6 44.9 30.6 47 29.7 47 30.8 49.1 28.3 49.9 27.6 51.2 27.9 52.9 26.4 53.3 26.1 55.4 27 55.8 25.9 57.5 25.3 58.7 25.7 59.6 24.2 61.7 23.6 62.5 24.4 64.6 24.7 67.5 26.4 70.5 29.3 73.4 30.8 76.3 33.4 79.3 37.2 82.2 38.8 85.1 41.4 88.1 45.2 91 46.8 93.9 49.5 96.9 53.2 99.8 54.8 102.7 57.5 105.7 61.2 108.6 62.8 111.5 65.5 114.5 69.2 117.4 70.8 118.6 72 118.6 88 117.4 86.9 114.5 83.7 111.5 81.5 108.6 78.9 105.7 75.7 102.7 73.6 99.8 70.9 96.9 67.7 93.9 65.6 91 62.9 88.1 59.7 85.1 57.6 82.2 54.9 79.3 51.7 76.3 49.6 73.4 46.9 70.5 43.9 67.5 43.1 64.6 41.7 62.5 40.2 61.7 40.9 59.6 41.4 58.7 41.4 57.5 42.7 55.8 43.1 55.4 42.7 53.3 43.4 52.9 43.5 51.2 43.5 49.9 44.9 49.1 45.4 47 46.4 47 46.9 44.9 47.6 44.1 47.2 42.8 47.8 41.1 48.3 40.7 48 38.6 50.2 38.2 50.5 36.5 51.6 35.3 52.7 34.4 53 32.3 52.7 30.2 54.2 29.4 55 28.1 55.9 26.5 58.3 26.1 58.6 24 59.2 23.5 59.8 21.9 59.7 20.6 59.9 19.8 60.8 17.7 63.1 15.2 64.5 14.7 65.1 11.8 65.5 9.7 65.4 8.9 67.2 7.6 68.7 6.4 76.7 5.9 85.9Z" fill="#ff7f0e" fill-opacity="0.24" stroke="#ff7f0e" stroke-opacity="0.3" stroke-width="1.2" shape-rendering="crispEdges"/></svg><path d="M851.5 804V888.3M866.5 804V888.3M910.5 804V888.3M924.5 804V888.3" stroke="#bdbdbd" stroke-width="1"/><use href="#gr" transform="translate(816.8,804)"/><svg x="816.8" y="804" width="127.8" height="84.3" overflow="hidden"><path d="M5.6 84.3 6.4 68.8 7.6 60.4 9.7 57.6 15.2 56.6 17.7 54.8 19.8 52.4 21.9 51.4 24 51.3 26.1 50.3 28.1 48 30.2 45.7 32.3 44.8 34.4 44.6 36.5 43.6 38.6 41.6 40.7 40 42.8 39.3 44.9 39.1 47 38.4 49.1 36.9 51.2 35.5 53.3 34.8 55.4 34.7 57.5 34.1 59.6 32.9 62.5 32.1 119.9 84.3 124.3 88.5" fill="none" stroke="#fff" stroke-width="11.2" stroke-linejoin="round"/><path d="M5.6 84.3 6.4 68.8 7.6 60.4 9.7 57.6 15.2 56.6 17.7 54.8 19.8 52.4 21.9 51.4 24 51.3 26.1 50.3 28.1 48 30.2 45.7 32.3 44.8 34.4 44.6 36.5 43.6 38.6 41.6 40.7 40 42.8 39.3 44.9 39.1 47 38.4 49.1 36.9 51.2 35.5 53.3 34.8 55.4 34.7 57.5 34.1 59.6 32.9 62.5 32.1 119.9 84.3 124.3 88.5" fill="none" stroke="#000" stroke-width="9.6" stroke-linejoin="round" shape-rendering="crispEdges"/></svg><use href="#fr" transform="translate(816.8,804)"/>
<svg x="996.25" y="804" width="127.8" height="84.3" overflow="hidden"><path d="M5.9 67.8 6.4 60.1 7.6 50.2 8.9 49 9.7 48.8 11.8 46.9 14.7 47 15.2 47.7 17.7 44.4 19.8 42.7 20.6 43 21.9 40.7 23.5 41.1 24 41.9 26.1 40 26.5 40.4 28.1 40.2 29.4 37.4 30.2 37.2 32.3 35.8 34.4 33.1 35.3 33.7 36.5 34.2 38.2 32.4 38.6 33 40.7 32.6 41.1 30.8 42.8 30.3 44.1 30.1 44.9 28 47 27.9 47 28.5 49.1 26.8 49.9 27.4 51.2 27.9 52.9 25.7 53.3 26.4 55.4 25.7 55.8 24 57.5 23.8 58.7 23.9 59.6 22.2 61.7 22.9 61.7 23.4 64.6 21.2 67.5 23.9 70.5 26.2 73.4 26.7 76.3 30.3 79.3 33.6 82.2 34.9 85.1 38.6 88.1 41.8 91 43.1 93.9 46.8 96.9 50 99.8 51.4 102.7 55.1 105.7 58.3 108.6 59.6 111.5 63.3 114.5 66.5 117.4 67.8 119.1 70.4 119.1 88.4 117.4 87.3 114.5 83.8 111.5 81.3 108.6 79.1 105.7 75.6 102.7 73.1 99.8 70.8 96.9 67.3 93.9 64.8 91 62.6 88.1 59.1 85.1 56.6 82.2 54.3 79.3 50.9 76.3 48.4 73.4 46.1 70.5 44.1 67.5 43.3 64.6 42.6 61.7 42.6 61.7 42.9 59.6 43.5 58.7 43.1 57.5 43.8 55.8 45.2 55.4 44.7 53.3 46.4 52.9 46.9 51.2 46.9 49.9 47.4 49.1 47.9 47 47.5 47 47.8 44.9 49.1 44.1 48.9 42.8 50.2 41.1 51.8 40.7 51.4 38.6 52.9 38.2 53.3 36.5 52.9 35.3 53.5 34.4 54 32.3 54.4 30.2 57 29.4 58.2 28.1 58.8 26.5 60.2 26.1 60.8 24 60.4 23.5 60.8 21.9 61.4 20.6 61.4 19.8 62.4 17.7 65 15.2 66.1 14.7 66.6 11.8 67.4 9.7 67.1 8.9 68.6 7.6 70.6 6.4 78.3 5.9 87.3Z" fill="#1f77b4" fill-opacity="0.3" stroke="#1f77b4" stroke-opacity="0.4" stroke-width="1.4" shape-rendering="crispEdges"/><path d="M5.9 69.4 6.4 61.6 7.6 51.9 8.9 50.7 9.7 50.3 11.8 48.7 14.7 48.6 15.2 49.3 17.7 46.2 19.8 44.3 20.6 44.5 21.9 42.5 23.5 42.8 24 43.4 26.1 41.8 26.5 42.1 28.1 41.7 29.4 39.2 30.2 38.9 32.3 37.3 34.4 34.9 35.3 35.3 36.5 35.7 38.2 34.2 38.6 34.7 40.7 34.2 41.1 32.6 42.8 32 44.1 31.6 44.9 29.8 47 29.6 47 30.1 49.1 28.6 49.9 29.1 51.2 29.5 52.9 27.6 53.3 28.1 55.4 27.2 55.8 25.8 57.5 25.5 58.7 25.5 59.6 24 61.7 24.5 61.7 25 64.6 23.1 67.5 25.7 70.5 28 73.4 28.8 76.3 32.3 79.3 35.5 82.2 37.1 85.1 40.6 88.1 43.8 91 45.3 93.9 48.8 96.9 52 99.8 53.5 102.7 57.1 105.7 60.2 108.6 61.8 111.5 65.3 114.5 68.4 117.4 70 119.1 72.4 119.1 87.7 117.4 86.6 114.5 83.2 111.5 80.7 108.6 78.3 105.7 75 102.7 72.5 99.8 70.1 96.9 66.8 93.9 64.2 91 61.9 88.1 58.5 85.1 56 82.2 53.6 79.3 50.3 76.3 47.8 73.4 45.4 70.5 43.1 67.5 41.9 64.6 40.9 61.7 41 61.7 41.2 59.6 41.7 58.7 41.4 57.5 42.1 55.8 43.4 55.4 43.1 53.3 44.7 52.9 45.2 51.2 45.2 49.9 45.7 49.1 46.1 47 45.8 47 46.1 44.9 47.3 44.1 47.3 42.8 48.5 41.1 50.1 40.7 49.8 38.6 51.2 38.2 51.6 36.5 51.3 35.3 51.8 34.4 52.2 32.3 52.8 30.2 55.3 29.4 56.4 28.1 57.1 26.5 58.5 26.1 59 24 58.8 23.5 59.1 21.9 59.7 20.6 59.8 19.8 60.7 17.7 63.3 15.2 64.5 14.7 64.9 11.8 65.7 9.7 65.5 8.9 66.9 7.6 68.9 6.4 76.7 5.9 85.6Z" fill="#ff7f0e" fill-opacity="0.24" stroke="#ff7f0e" stroke-opacity="0.3" stroke-width="1.2" shape-rendering="crispEdges"/></svg><path d="M1016.5 804V888.3M1045.5 804V888.3M1104.5 804V888.3" stroke="#bdbdbd" stroke-width="1"/><use href="#gr" transform="translate(996.25,804)"/><svg x="996.25" y="804" width="127.8" height="84.3" overflow="hidden"><path d="M5.6 84.3 6.4 68.8 7.6 60.4 9.7 57.6 15.2 56.6 17.7 54.8 19.8 52.4 21.9 51.1 24 50.8 26.1 50.5 28.1 49.2 30.2 47 32.3 44.8 34.4 43.6 36.5 43.3 38.6 42.9 40.7 41.8 42.8 40.2 44.9 38.7 47 37.8 49.1 37.5 51.2 37.2 53.3 36.3 55.4 35 57.5 33.7 59.6 33 61.7 32.8 64.6 32.1 120.3 84.3 124.6 88.5" fill="none" stroke="#fff" stroke-width="11.2" stroke-linejoin="round"/><path d="M5.6 84.3 6.4 68.8 7.6 60.4 9.7 57.6 15.2 56.6 17.7 54.8 19.8 52.4 21.9 51.1 24 50.8 26.1 50.5 28.1 49.2 30.2 47 32.3 44.8 34.4 43.6 36.5 43.3 38.6 42.9 40.7 41.8 42.8 40.2 44.9 38.7 47 37.8 49.1 37.5 51.2 37.2 53.3 36.3 55.4 35 57.5 33.7 59.6 33 61.7 32.8 64.6 32.1 120.3 84.3 124.6 88.5" fill="none" stroke="#000" stroke-width="9.6" stroke-linejoin="round" shape-rendering="crispEdges"/></svg><use href="#fr" transform="translate(996.25,804)"/>
<svg x="1175.7" y="804" width="127.8" height="84.3" overflow="hidden"><path d="M5.9 68.3 6.4 59.7 7.6 50 8.9 49.6 9.7 48.4 11.8 46.8 14.7 47.5 15.2 47.3 17.7 44.3 19.8 43.2 20.6 42.4 21.9 40.3 23.5 41.1 24 40.8 26.1 39.4 26.5 40.6 28.1 39.8 29.4 37.7 30.2 38.5 32.3 36.1 34.4 32.8 35.3 33.6 36.5 32.5 38.2 31 38.6 32.2 40.7 31.7 41.1 30.5 42.8 31.4 44.1 30.4 44.9 28.9 47 28.8 47 28.4 49.1 25.9 49.9 26.9 51.2 26 52.9 24.5 53.3 25.8 55.4 25.2 55.8 24.1 57.5 25.1 58.7 24.2 59.6 22.8 61.7 23.1 61.7 22.7 63.8 21.2 64.6 23.1 67.5 24.3 70.5 25 73.4 28.6 76.3 30.8 79.3 32.5 82.2 36.6 85.1 38.8 88.1 40.5 91 44.6 93.9 46.8 96.9 48.5 99.8 52.6 102.7 54.7 105.7 56.5 108.6 60.6 111.5 62.7 114.5 64.5 117.4 68.6 119.9 70.3 119.9 88.4 117.4 85.9 114.5 83.9 111.5 80.8 108.6 77.9 105.7 75.9 102.7 72.8 99.8 69.9 96.9 67.9 93.9 64.8 91 61.9 88.1 59.9 85.1 56.8 82.2 53.9 79.3 52 76.3 48.8 73.4 45.9 70.5 44.9 67.5 43.4 64.6 42.2 63.8 42.6 61.7 42.6 61.7 42.4 59.6 44.2 58.7 44 57.5 44.4 55.8 45.4 55.4 45 53.3 45 52.9 45.8 51.2 45.7 49.9 46.1 49.1 47.2 47 48.1 47 47.9 44.9 50.1 44.1 50 42.8 50.5 41.1 51.6 40.7 51.2 38.6 51.3 38.2 52.1 36.5 51.9 35.3 52.6 34.4 53.9 32.3 55.4 30.2 57.4 29.4 58.7 28.1 59.1 26.5 59.5 26.1 60.3 24 60 23.5 60 21.9 61.2 20.6 61.5 19.8 62.1 17.7 65.1 15.2 66.3 14.7 66.3 11.8 67.5 9.7 67.3 8.9 68.3 7.6 70.7 6.4 78.5 5.9 87Z" fill="#1f77b4" fill-opacity="0.3" stroke="#1f77b4" stroke-opacity="0.4" stroke-width="1.4" shape-rendering="crispEdges"/><path d="M5.9 69.9 6.4 61.2 7.6 51.8 8.9 51.2 9.7 50 11.8 48.6 14.7 49.1 15.2 48.9 17.7 46.1 19.8 44.8 20.6 44 21.9 42.1 23.5 42.7 24 42.4 26.1 41.2 26.5 42.2 28.1 41.4 29.4 39.5 30.2 40.1 32.3 37.7 34.4 34.6 35.3 35.2 36.5 34.1 38.2 32.8 38.6 33.8 40.7 33.3 41.1 32.3 42.8 33 44.1 32.1 44.9 30.7 47 30.4 47 30.1 49.1 27.7 49.9 28.5 51.2 27.6 52.9 26.4 53.3 27.4 55.4 26.9 55.8 25.9 57.5 26.7 58.7 25.9 59.6 24.7 61.7 24.7 61.7 24.4 63.8 23 64.6 24.7 67.5 26.2 70.5 27.2 73.4 30.5 76.3 32.8 79.3 34.7 82.2 38.5 85.1 40.8 88.1 42.7 91 46.5 93.9 48.8 96.9 50.7 99.8 54.5 102.7 56.8 105.7 58.7 108.6 62.5 111.5 64.8 114.5 66.7 117.4 70.6 119.9 72.4 119.9 87.8 117.4 85.3 114.5 83.2 111.5 80.2 108.6 77.3 105.7 75.2 102.7 72.2 99.8 69.3 96.9 67.2 93.9 64.2 91 61.3 88.1 59.2 85.1 56.2 82.2 53.3 79.3 51.2 76.3 48.2 73.4 45.3 70.5 44 67.5 42.2 64.6 40.7 63.8 40.9 61.7 40.9 61.7 40.8 59.6 42.4 58.7 42.4 57.5 42.7 55.8 43.6 55.4 43.3 53.3 43.4 52.9 44.1 51.2 44 49.9 44.4 49.1 45.4 47 46.4 47 46.2 44.9 48.3 44.1 48.3 42.8 48.8 41.1 49.8 40.7 49.5 38.6 49.6 38.2 50.3 36.5 50.3 35.3 51 34.4 52.1 32.3 53.7 30.2 55.8 29.4 57 28.1 57.4 26.5 57.9 26.1 58.6 24 58.3 23.5 58.4 21.9 59.4 20.6 59.9 19.8 60.4 17.7 63.4 15.2 64.7 14.7 64.7 11.8 65.8 9.7 65.6 8.9 66.7 7.6 68.9 6.4 76.9 5.9 85.4Z" fill="#ff7f0e" fill-opacity="0.24" stroke="#ff7f0e" stroke-opacity="0.3" stroke-width="1.2" shape-rendering="crispEdges"/></svg><path d="M1195.5 804V888.3M1210.5 804V888.3M1269.5 804V888.3M1283.5 804V888.3" stroke="#bdbdbd" stroke-width="1"/><use href="#gr" transform="translate(1175.7,804)"/><svg x="1175.7" y="804" width="127.8" height="84.3" overflow="hidden"><path d="M5.6 84.3 6.4 68.8 7.6 60.4 9.7 57.6 15.2 56.6 17.7 54.8 19.8 52.4 21.9 50.9 24 50.2 26.1 50 28.1 49.3 30.2 47.7 32.3 45.6 34.4 43.5 36.5 42.1 38.6 41.6 40.7 41.3 42.8 40.8 44.9 39.6 47 38.1 49.1 36.7 51.2 35.7 53.3 35.3 55.4 35 57.5 34.6 59.6 33.7 61.7 32.6 63.8 32.1 121.2 84.3 125.6 88.5" fill="none" stroke="#fff" stroke-width="11.2" stroke-linejoin="round"/><path d="M5.6 84.3 6.4 68.8 7.6 60.4 9.7 57.6 15.2 56.6 17.7 54.8 19.8 52.4 21.9 50.9 24 50.2 26.1 50 28.1 49.3 30.2 47.7 32.3 45.6 34.4 43.5 36.5 42.1 38.6 41.6 40.7 41.3 42.8 40.8 44.9 39.6 47 38.1 49.1 36.7 51.2 35.7 53.3 35.3 55.4 35 57.5 34.6 59.6 33.7 61.7 32.6 63.8 32.1 121.2 84.3 125.6 88.5" fill="none" stroke="#000" stroke-width="9.6" stroke-linejoin="round" shape-rendering="crispEdges"/></svg><use href="#fr" transform="translate(1175.7,804)"/>
<svg x="1355.15" y="804" width="127.8" height="84.3" overflow="hidden"><path d="M5.9 68.7 6.4 59.1 7.6 50.2 8.9 50 9.7 47.8 11.8 47 14.7 47.9 15.2 46.8 17.7 44.5 19.8 43.7 20.6 42 21.9 40.6 23.5 41.3 24 40.1 26.1 39.4 26.5 40.8 28.1 39.4 29.4 38.6 30.2 39.6 32.3 36.9 34.4 34.6 35.3 35.1 36.5 32.8 38.2 31.5 38.6 32.6 40.7 30.8 41.1 30.5 42.8 31.6 44.1 30.3 44.9 29.9 47 30.6 47 29.4 49.1 28.1 49.9 28.9 51.2 26.9 52.9 25.7 53.3 26.7 55.4 24.5 55.8 24.3 57.5 25.2 58.7 23.8 59.6 23.6 61.7 24.7 61.7 23.4 63.8 22.9 64.6 23.8 66.7 21.6 67.5 22.1 70.5 25.1 73.4 25.5 76.3 27.7 79.3 31.6 82.2 33.1 85.1 35.8 88.1 39.8 91 41.2 93.9 43.9 96.9 47.9 99.8 49.3 102.7 52 105.7 56 108.6 57.4 111.5 60.2 114.5 64.1 117.4 65.5 120.3 68.3 122 71.1 122 88.1 120.3 87.1 117.4 84.5 114.5 81.1 111.5 79 108.6 76.3 105.7 73 102.7 70.9 99.8 68.2 96.9 64.9 93.9 62.8 91 60.1 88.1 56.8 85.1 54.7 82.2 52 79.3 48.6 76.3 46.6 73.4 44.8 70.5 43.1 67.5 42.8 66.7 42.4 64.6 42.7 63.8 43.7 61.7 44.2 61.7 43.6 59.6 44.4 58.7 44.5 57.5 44 55.8 45.1 55.4 45.2 53.3 45.5 52.9 46.5 51.2 47.4 49.9 47.7 49.1 48.9 47 49.9 47 49.3 44.9 50.6 44.1 50.7 42.8 50.3 41.1 51.2 40.7 51.1 38.6 51.2 38.2 52.1 36.5 53.1 35.3 53.7 34.4 55.2 32.3 57.1 30.2 58.1 29.4 59.1 28.1 59.5 26.5 59.2 26.1 60 24 60.1 23.5 59.7 21.9 61.1 20.6 61.9 19.8 62 17.7 65 15.2 66.6 14.7 66.2 11.8 67.4 9.7 67.6 8.9 68.2 7.6 70.6 6.4 78.8 5.9 86.9Z" fill="#1f77b4" fill-opacity="0.3" stroke="#1f77b4" stroke-opacity="0.4" stroke-width="1.4" shape-rendering="crispEdges"/><path d="M5.9 70.2 6.4 60.8 7.6 52 8.9 51.5 9.7 49.5 11.8 48.8 14.7 49.4 15.2 48.4 17.7 46.3 19.8 45.2 20.6 43.7 21.9 42.4 23.5 42.9 24 41.8 26.1 41.2 26.5 42.3 28.1 41.1 29.4 40.3 30.2 41.1 32.3 38.6 34.4 36.3 35.3 36.7 36.5 34.5 38.2 33.3 38.6 34.1 40.7 32.5 41.1 32.3 42.8 33.2 44.1 32 44.9 31.7 47 32.2 47 31.2 49.1 29.9 49.9 30.5 51.2 28.6 52.9 27.4 53.3 28.3 55.4 26.3 55.8 26.1 57.5 26.7 58.7 25.6 59.6 25.4 61.7 26.2 61.7 25.2 63.8 24.7 64.6 25.4 66.7 23.4 67.5 23.9 70.5 26.8 73.4 27.6 76.3 29.8 79.3 33.5 82.2 35.2 85.1 37.9 88.1 41.7 91 43.3 93.9 46 96.9 49.8 99.8 51.4 102.7 54.2 105.7 57.9 108.6 59.5 111.5 62.3 114.5 66 117.4 67.6 120.3 70.4 122 73 122 87.5 120.3 86.4 117.4 83.8 114.5 80.5 111.5 78.3 108.6 75.7 105.7 72.4 102.7 70.2 99.8 67.5 96.9 64.3 93.9 62.1 91 59.4 88.1 56.2 85.1 54 82.2 51.3 79.3 48.1 76.3 45.9 73.4 43.9 70.5 42 67.5 41.1 66.7 40.7 64.6 41.1 63.8 42 61.7 42.4 61.7 41.9 59.6 42.7 58.7 42.8 57.5 42.4 55.8 43.4 55.4 43.4 53.3 43.9 52.9 44.7 51.2 45.7 49.9 46 49.1 47.1 47 48.2 47 47.7 44.9 48.9 44.1 48.9 42.8 48.6 41.1 49.4 40.7 49.4 38.6 49.6 38.2 50.4 36.5 51.4 35.3 52.1 34.4 53.4 32.3 55.3 30.2 56.5 29.4 57.4 28.1 57.8 26.5 57.6 26.1 58.2 24 58.4 23.5 58.1 21.9 59.4 20.6 60.2 19.8 60.4 17.7 63.3 15.2 64.9 14.7 64.6 11.8 65.7 9.7 65.9 8.9 66.6 7.6 68.8 6.4 77.1 5.9 85.3Z" fill="#ff7f0e" fill-opacity="0.24" stroke="#ff7f0e" stroke-opacity="0.3" stroke-width="1.2" shape-rendering="crispEdges"/></svg><path d="M1375.5 804V888.3M1433.5 804V888.3M1463.5 804V888.3" stroke="#bdbdbd" stroke-width="1"/><use href="#gr" transform="translate(1355.15,804)"/><svg x="1355.15" y="804" width="127.8" height="84.3" overflow="hidden"><path d="M5.6 84.3 6.4 68.8 7.6 60.4 9.7 57.6 15.2 56.6 17.7 54.8 19.8 52.5 21.9 50.9 24 50.1 26.1 49.8 28.1 49.4 30.2 48.5 32.3 47 34.4 44.9 36.5 42.9 38.6 41.6 40.7 41 42.8 40.7 44.9 40.4 47 39.7 49.1 38.6 51.2 37.2 53.3 35.9 55.4 34.9 57.5 34.4 59.6 34.1 61.7 33.9 63.8 33.4 66.7 32.1 123.3 84.3 127.6 88.5" fill="none" stroke="#fff" stroke-width="11.2" stroke-linejoin="round"/><path d="M5.6 84.3 6.4 68.8 7.6 60.4 9.7 57.6 15.2 56.6 17.7 54.8 19.8 52.5 21.9 50.9 24 50.1 26.1 49.8 28.1 49.4 30.2 48.5 32.3 47 34.4 44.9 36.5 42.9 38.6 41.6 40.7 41 42.8 40.7 44.9 40.4 47 39.7 49.1 38.6 51.2 37.2 53.3 35.9 55.4 34.9 57.5 34.4 59.6 34.1 61.7 33.9 63.8 33.4 66.7 32.1 123.3 84.3 127.6 88.5" fill="none" stroke="#000" stroke-width="9.6" stroke-linejoin="round" shape-rendering="crispEdges"/></svg><use href="#fr" transform="translate(1355.15,804)"/>
<svg x="1534.6" y="804" width="127.8" height="84.3" overflow="hidden"><path d="M5.9 68.6 6.4 58.6 7.6 50.7 8.9 49.9 9.7 47.3 11.8 47.5 14.7 47.8 15.2 46.3 17.7 45.1 19.8 43.8 20.6 41.6 21.9 41.3 23.5 41.3 24 39.7 26.1 39.9 26.5 40.7 28.1 39 29.4 39.5 30.2 40 32.3 37.6 34.4 36.7 35.3 36.7 36.5 34.1 38.2 33.4 38.6 33.7 40.7 30.9 41.1 31.5 42.8 31.7 44.1 30 44.9 30.6 47 31.1 47 29.6 49.1 30 49.9 30.4 51.2 28.5 52.9 28.4 53.3 28.8 55.4 26.1 55.8 26.7 57.5 26.3 58.7 24.3 59.6 24.7 61.7 24.7 61.7 23.3 63.8 23.9 64.6 24.4 65.9 22.8 67.5 23.5 68 24 70.5 21.5 71.3 22.1 73.4 24 76.3 24.5 79.3 27.4 82.2 30.6 85.1 32.1 88.1 35.9 91 39.3 93.9 40.8 96.9 44.6 99.8 48 102.7 49.4 105.7 53.3 108.6 56.7 111.5 58.1 114.5 62.1 117.4 65.4 120.3 66.8 122.4 69.9 122.4 87.9 120.3 86.3 117.4 82.7 114.5 80 111.5 77.6 108.6 74 105.7 71.3 102.7 68.9 99.8 65.3 96.9 62.6 93.9 60.2 91 56.6 88.1 53.9 85.1 51.5 82.2 47.9 79.3 45.5 76.3 44.7 73.4 42.8 71.3 42.2 70.5 42.9 68 43.2 67.5 43.5 65.9 44.1 64.6 43.5 63.8 43.8 61.7 44.6 61.7 43.8 59.6 44.7 58.7 45.5 57.5 45.3 55.8 46.6 55.4 47.3 53.3 47.8 52.9 48.3 51.2 49.6 49.9 49.3 49.1 49.9 47 50.7 47 49.9 44.9 50.5 44.1 51 42.8 50.5 41.1 51.4 40.7 51.9 38.6 52.4 38.2 53.2 36.5 55 35.3 55.4 34.4 56.5 32.3 58.4 30.2 58.6 29.4 59.2 28.1 59.8 26.5 59.2 26.1 59.7 24 60.4 23.5 59.8 21.9 61 20.6 62.3 19.8 62.2 17.7 64.7 15.2 66.8 14.7 66.2 11.8 67.1 9.7 67.8 8.9 68.2 7.6 70.3 6.4 79 5.9 86.9Z" fill="#1f77b4" fill-opacity="0.3" stroke="#1f77b4" stroke-opacity="0.4" stroke-width="1.4" shape-rendering="crispEdges"/><path d="M5.9 70.2 6.4 60.4 7.6 52.4 8.9 51.4 9.7 49.1 11.8 49.2 14.7 49.3 15.2 48.1 17.7 46.7 19.8 45.3 20.6 43.4 21.9 43 23.5 42.9 24 41.5 26.1 41.6 26.5 42.2 28.1 40.8 29.4 41.1 30.2 41.6 32.3 39.4 34.4 38.4 35.3 38.3 36.5 35.9 38.2 35 38.6 35.3 40.7 32.7 41.1 33.2 42.8 33.2 44.1 31.8 44.9 32.3 47 32.6 47 31.4 49.1 31.7 49.9 32 51.2 30.3 52.9 30.1 53.3 30.4 55.4 27.9 55.8 28.4 57.5 27.9 58.7 26.1 59.6 26.4 61.7 26.3 61.7 25.1 63.8 25.6 64.6 25.9 65.9 24.6 67.5 25.2 68 25.6 70.5 23.4 71.3 23.8 73.4 25.7 76.3 26.5 79.3 29.4 82.2 32.5 85.1 34.2 88.1 37.9 91 41.2 93.9 42.9 96.9 46.6 99.8 49.9 102.7 51.6 105.7 55.4 108.6 58.6 111.5 60.3 114.5 64.1 117.4 67.3 120.3 69 122.4 71.9 122.4 87.3 120.3 85.6 117.4 82.1 114.5 79.4 111.5 76.9 108.6 73.4 105.7 70.7 102.7 68.2 99.8 64.7 96.9 62 93.9 59.5 91 56 88.1 53.3 85.1 50.8 82.2 47.3 79.3 44.8 76.3 43.6 73.4 41.4 71.3 40.5 70.5 41.2 68 41.5 67.5 41.8 65.9 42.4 64.6 41.9 63.8 42.1 61.7 42.8 61.7 42.2 59.6 43 58.7 43.7 57.5 43.7 55.8 44.9 55.4 45.5 53.3 46.2 52.9 46.6 51.2 47.8 49.9 47.7 49.1 48.2 47 48.9 47 48.3 44.9 48.8 44.1 49.2 42.8 48.8 41.1 49.7 40.7 50.1 38.6 50.8 38.2 51.5 36.5 53.2 35.3 53.8 34.4 54.8 32.3 56.7 30.2 57 29.4 57.5 28.1 58.1 26.5 57.6 26.1 58 24 58.6 23.5 58.2 21.9 59.3 20.6 60.5 19.8 60.6 17.7 63 15.2 65.1 14.7 64.6 11.8 65.4 9.7 66.1 8.9 66.6 7.6 68.6 6.4 77.3 5.9 85.3Z" fill="#ff7f0e" fill-opacity="0.24" stroke="#ff7f0e" stroke-opacity="0.3" stroke-width="1.2" shape-rendering="crispEdges"/></svg><path d="M1554.5 804V888.3M1583.5 804V888.3M1613.5 804V888.3M1627.5 804V888.3" stroke="#bdbdbd" stroke-width="1"/><use href="#gr" transform="translate(1534.6,804)"/><svg x="1534.6" y="804" width="127.8" height="84.3" overflow="hidden"><path d="M5.6 84.3 6.4 68.8 7.6 60.4 9.7 57.6 15.2 56.6 17.7 54.8 19.8 52.7 21.9 51.1 24 50.1 26.1 49.7 28.1 49.5 30.2 49.1 32.3 48.1 34.4 46.5 36.5 44.7 38.6 42.8 40.7 41.5 42.8 40.8 44.9 40.5 47 40.3 49.1 39.9 51.2 39.2 53.3 38.1 55.4 36.8 57.5 35.6 59.6 34.7 61.7 34.1 63.8 33.8 65.9 33.7 68 33.4 71.3 32.1 124.1 84.3 128.2 88.5" fill="none" stroke="#fff" stroke-width="11.2" stroke-linejoin="round"/><path d="M5.6 84.3 6.4 68.8 7.6 60.4 9.7 57.6 15.2 56.6 17.7 54.8 19.8 52.7 21.9 51.1 24 50.1 26.1 49.7 28.1 49.5 30.2 49.1 32.3 48.1 34.4 46.5 36.5 44.7 38.6 42.8 40.7 41.5 42.8 40.8 44.9 40.5 47 40.3 49.1 39.9 51.2 39.2 53.3 38.1 55.4 36.8 57.5 35.6 59.6 34.7 61.7 34.1 63.8 33.8 65.9 33.7 68 33.4 71.3 32.1 124.1 84.3 128.2 88.5" fill="none" stroke="#000" stroke-width="9.6" stroke-linejoin="round" shape-rendering="crispEdges"/></svg><use href="#fr" transform="translate(1534.6,804)"/>
<svg x="1714.05" y="804" width="127.8" height="84.3" overflow="hidden"><path d="M5.9 68.2 6.4 58.4 7.6 51.3 8.9 49.5 9.7 47.2 11.8 48.1 14.7 47.4 15.2 46.1 17.7 45.6 19.8 43.2 20.6 41.2 21.9 41.4 23.5 40.2 24 38.7 26.1 39.3 26.5 39 28.1 37.4 29.4 38.4 30.2 38 32.3 36 34.4 36.1 35.3 35.1 36.5 32.9 38.2 32.8 38.6 32.1 40.7 29.5 41.1 30.6 42.8 29.3 44.1 27.6 44.9 28.6 47 27.7 47 26.6 49.1 27.6 49.9 27.1 51.2 25.8 52.9 26.7 53.3 26.2 55.4 24.3 55.8 25.5 57.5 24.3 58.7 22.6 59.6 23.5 61.7 22.5 62.9 21.2 64.6 23.6 67.5 24.8 70.5 25.4 73.4 29.2 76.3 31.4 79.3 33 82.2 37.1 85.1 39.2 88.1 40.9 91 45 93.9 47.1 96.9 48.8 99.8 52.9 102.7 55 105.7 56.7 108.6 60.8 111.5 62.8 114.5 64.6 117.4 68.7 119.9 70.3 119.9 88.5 117.4 85.9 114.5 84 111.5 81 108.6 78 105.7 76.1 102.7 73.1 99.8 70.2 96.9 68.3 93.9 65.2 91 62.3 88.1 60.4 85.1 57.3 82.2 54.4 79.3 52.5 76.3 49.4 73.4 46.5 70.5 45.1 67.5 43.6 64.6 42.5 62.9 42.6 61.7 42.5 59.6 42.8 58.7 44 57.5 44.1 55.8 44.8 55.4 45.7 53.3 46 52.9 45.9 51.2 47.1 49.9 46.8 49.1 46.8 47 47.9 47 47.3 44.9 47.7 44.1 48.8 42.8 48.8 41.1 49.7 40.7 50.6 38.6 51.6 38.2 51.8 36.5 54 35.3 54.5 34.4 55.1 32.3 57.1 30.2 57.3 29.4 57.4 28.1 58.4 26.5 58.2 26.1 58.2 24 59.6 23.5 59.3 21.9 60.3 20.6 62.1 19.8 62.2 17.7 64.4 15.2 66.9 14.7 66.4 11.8 66.9 9.7 67.9 8.9 68.4 7.6 70 6.4 79.1 5.9 87.1Z" fill="#1f77b4" fill-opacity="0.3" stroke="#1f77b4" stroke-opacity="0.4" stroke-width="1.4" shape-rendering="crispEdges"/><path d="M5.9 69.8 6.4 60.2 7.6 52.9 8.9 51.1 9.7 49 11.8 49.7 14.7 49 15.2 47.9 17.7 47.2 19.8 44.8 20.6 43 21.9 43 23.5 41.8 24 40.5 26.1 40.8 26.5 40.6 28.1 39.2 29.4 40 30.2 39.6 32.3 37.8 34.4 37.6 35.3 36.7 36.5 34.7 38.2 34.4 38.6 33.8 40.7 31.3 41.1 32.2 42.8 30.9 44.1 29.4 44.9 30.2 47 29.3 47 28.5 49.1 29.2 49.9 28.7 51.2 27.6 52.9 28.3 53.3 27.9 55.4 26.2 55.8 27.1 57.5 26 58.7 24.4 59.6 25.1 61.7 24.2 62.9 23 64.6 25.2 67.5 26.6 70.5 27.6 73.4 31.2 76.3 33.4 79.3 35.2 82.2 39 85.1 41.3 88.1 43.1 91 46.9 93.9 49.1 96.9 51 99.8 54.8 102.7 57 105.7 58.9 108.6 62.7 111.5 64.9 114.5 66.8 117.4 70.6 119.9 72.4 119.9 87.8 117.4 85.3 114.5 83.3 111.5 80.3 108.6 77.5 105.7 75.4 102.7 72.4 99.8 69.6 96.9 67.6 93.9 64.5 91 61.7 88.1 59.7 85.1 56.7 82.2 53.8 79.3 51.8 76.3 48.8 73.4 45.9 70.5 44.3 67.5 42.5 64.6 41 62.9 40.9 61.7 40.8 59.6 41.2 58.7 42.2 57.5 42.4 55.8 43.1 55.4 43.9 53.3 44.3 52.9 44.3 51.2 45.3 49.9 45.1 49.1 45.1 47 46.1 47 45.6 44.9 46.1 44.1 47 42.8 47.1 41.1 48 40.7 48.9 38.6 49.9 38.2 50.2 36.5 52.3 35.3 52.8 34.4 53.4 32.3 55.3 30.2 55.6 29.4 55.8 28.1 56.6 26.5 56.5 26.1 56.5 24 57.9 23.5 57.7 21.9 58.6 20.6 60.3 19.8 60.6 17.7 62.8 15.2 65.2 14.7 64.8 11.8 65.2 9.7 66.1 8.9 66.8 7.6 68.4 6.4 77.4 5.9 85.4Z" fill="#ff7f0e" fill-opacity="0.24" stroke="#ff7f0e" stroke-opacity="0.3" stroke-width="1.2" shape-rendering="crispEdges"/></svg><path d="M1734.5 804V888.3M1748.5 804V888.3M1807.5 804V888.3M1822.5 804V888.3" stroke="#bdbdbd" stroke-width="1"/><use href="#gr" transform="translate(1714.05,804)"/><svg x="1714.05" y="804" width="127.8" height="84.3" overflow="hidden"><path d="M5.6 84.3 6.4 68.8 7.6 60.4 9.7 57.6 15.2 56.6 17.7 54.8 19.8 52.5 21.9 50.6 24 49.3 26.1 48.5 28.1 48 30.2 47.5 32.3 46.7 34.4 45.4 36.5 43.6 38.6 41.7 40.7 40.2 42.8 38.9 44.9 38 47 37.4 49.1 37 51.2 36.6 53.3 36 55.4 35.2 57.5 34.1 59.6 33 62.9 32.1 121.2 84.3 125.7 88.5" fill="none" stroke="#fff" stroke-width="11.2" stroke-linejoin="round"/><path d="M5.6 84.3 6.4 68.8 7.6 60.4 9.7 57.6 15.2 56.6 17.7 54.8 19.8 52.5 21.9 50.6 24 49.3 26.1 48.5 28.1 48 30.2 47.5 32.3 46.7 34.4 45.4 36.5 43.6 38.6 41.7 40.7 40.2 42.8 38.9 44.9 38 47 37.4 49.1 37 51.2 36.6 53.3 36 55.4 35.2 57.5 34.1 59.6 33 62.9 32.1 121.2 84.3 125.7 88.5" fill="none" stroke="#000" stroke-width="9.6" stroke-linejoin="round" shape-rendering="crispEdges"/></svg><use href="#fr" transform="translate(1714.05,804)"/>
<svg x="1893.5" y="804" width="127.8" height="84.3" overflow="hidden"><path d="M5.9 67.7 6.4 58.7 7.6 51.6 8.9 48.9 9.7 47.4 11.8 48.4 14.7 46.8 15.2 46.4 17.7 45.9 19.8 42.7 20.6 41.6 21.9 41.9 23.5 39.7 24 39.1 26.1 39.6 26.5 38.4 28.1 37.7 29.4 38.8 30.2 37.5 32.3 36.7 34.4 37.1 35.3 35.5 36.5 34.4 38.2 34.4 38.6 32.9 40.7 31 41.1 32.1 42.8 29.7 44.1 28.8 44.9 29.6 47 27.5 47 27.3 49.1 28 49.9 26.7 51.2 26.3 52.9 27.3 53.3 26 55.4 25.5 55.8 26.7 57.5 25 58.7 24.4 59.6 25.4 61.7 23.1 61.7 23.1 63.8 23.3 64.6 21.9 65.9 21.6 67.5 23.8 70.5 24.3 73.4 26.1 76.3 29.8 79.3 31.2 82.2 34 85.1 38 88.1 39.4 91 42.2 93.9 46.1 96.9 47.6 99.8 50.3 102.7 54.3 105.7 55.7 108.6 58.5 111.5 62.5 114.5 63.9 117.4 66.7 120.3 70.7 120.7 69.7 120.7 88.7 120.3 87.7 117.4 85.5 114.5 82.9 111.5 79.5 108.6 77.4 105.7 74.7 102.7 71.3 99.8 69.2 96.9 66.5 93.9 63.1 91 61 88.1 58.3 85.1 55 82.2 52.9 79.3 50.1 76.3 46.8 73.4 45.2 70.5 44.1 67.5 42.4 65.9 42.5 64.6 42.7 63.8 42.3 61.7 43.9 61.7 43.9 59.6 44.2 58.7 45.2 57.5 45.6 55.8 45.5 55.4 46.3 53.3 46.6 52.9 46.1 51.2 47 49.9 47.2 49.1 46.8 47 48.1 47 48 44.9 48.3 44.1 49.5 42.8 50.1 41.1 50.7 40.7 51.7 38.6 53.2 38.2 53 36.5 55 35.3 55.7 34.4 55.7 32.3 57.3 30.2 57.7 29.4 57.3 28.1 58.2 26.5 58.5 26.1 58.1 24 59.6 23.5 59.7 21.9 60.3 20.6 62.1 19.8 62.6 17.7 64.3 15.2 66.8 14.7 66.7 11.8 66.7 9.7 67.8 8.9 68.7 7.6 69.9 6.4 79 5.9 87.4Z" fill="#1f77b4" fill-opacity="0.3" stroke="#1f77b4" stroke-opacity="0.4" stroke-width="1.4" shape-rendering="crispEdges"/><path d="M5.9 69.3 6.4 60.4 7.6 53.2 8.9 50.6 9.7 49.2 11.8 49.9 14.7 48.5 15.2 48.1 17.7 47.5 19.8 44.4 20.6 43.4 21.9 43.4 23.5 41.4 24 40.9 26.1 41.1 26.5 40.1 28.1 39.4 29.4 40.3 30.2 39.2 32.3 38.4 34.4 38.6 35.3 37.2 36.5 36.2 38.2 35.9 38.6 34.7 40.7 32.8 41.1 33.6 42.8 31.5 44.1 30.6 44.9 31.2 47 29.3 47 29.1 49.1 29.6 49.9 28.4 51.2 28 52.9 28.9 53.3 27.8 55.4 27.3 55.8 28.2 57.5 26.7 58.7 26.2 59.6 26.9 61.7 24.9 61.7 24.8 63.8 24.9 64.6 23.7 65.9 23.3 67.5 25.5 70.5 26.3 73.4 28.1 76.3 31.7 79.3 33.4 82.2 36.1 85.1 39.9 88.1 41.5 91 44.3 93.9 48 96.9 49.7 99.8 52.5 102.7 56.2 105.7 57.9 108.6 60.6 111.5 64.4 114.5 66 117.4 68.8 120.3 72.6 120.7 71.9 120.7 88 120.3 87.1 117.4 84.9 114.5 82.2 111.5 78.9 108.6 76.7 105.7 74 102.7 70.7 99.8 68.5 96.9 65.8 93.9 62.6 91 60.4 88.1 57.6 85.1 54.4 82.2 52.2 79.3 49.5 76.3 46.2 73.4 44.4 70.5 42.9 67.5 41 65.9 40.7 64.6 41 63.8 40.6 61.7 42.2 61.7 42.1 59.6 42.6 58.7 43.5 57.5 43.9 55.8 43.9 55.4 44.6 53.3 44.9 52.9 44.5 51.2 45.3 49.9 45.5 49.1 45.1 47 46.3 47 46.2 44.9 46.7 44.1 47.7 42.8 48.4 41.1 49.1 40.7 49.9 38.6 51.5 38.2 51.4 36.5 53.3 35.3 54 34.4 54 32.3 55.5 30.2 56 29.4 55.7 28.1 56.5 26.5 56.8 26.1 56.4 24 57.9 23.5 58 21.9 58.7 20.6 60.3 19.8 60.9 17.7 62.7 15.2 65.1 14.7 65 11.8 65.1 9.7 66 8.9 67 7.6 68.2 6.4 77.3 5.9 85.7Z" fill="#ff7f0e" fill-opacity="0.24" stroke="#ff7f0e" stroke-opacity="0.3" stroke-width="1.2" shape-rendering="crispEdges"/></svg><path d="M1928.5 804V888.3M1942.5 804V888.3M1972.5 804V888.3M1986.5 804V888.3" stroke="#bdbdbd" stroke-width="1"/><use href="#gr" transform="translate(1893.5,804)"/><svg x="1893.5" y="804" width="127.8" height="84.3" overflow="hidden"><path d="M5.6 84.3 6.4 68.8 7.6 60.4 9.7 57.6 15.2 56.6 17.7 54.8 19.8 52.6 21.9 50.8 24 49.4 26.1 48.5 28.1 48 30.2 47.6 32.3 47 34.4 46.1 36.5 44.8 38.6 43.1 40.7 41.4 42.8 40 44.9 38.7 47 37.8 49.1 37.2 51.2 36.7 53.3 36.4 55.4 36 57.5 35.4 59.6 34.6 61.7 33.6 63.8 32.6 65.9 32.1 122 84.3 126.3 88.5" fill="none" stroke="#fff" stroke-width="11.2" stroke-linejoin="round"/><path d="M5.6 84.3 6.4 68.8 7.6 60.4 9.7 57.6 15.2 56.6 17.7 54.8 19.8 52.6 21.9 50.8 24 49.4 26.1 48.5 28.1 48 30.2 47.6 32.3 47 34.4 46.1 36.5 44.8 38.6 43.1 40.7 41.4 42.8 40 44.9 38.7 47 37.8 49.1 37.2 51.2 36.7 53.3 36.4 55.4 36 57.5 35.4 59.6 34.6 61.7 33.6 63.8 32.6 65.9 32.1 122 84.3 126.3 88.5" fill="none" stroke="#000" stroke-width="9.6" stroke-linejoin="round" shape-rendering="crispEdges"/></svg><use href="#fr" transform="translate(1893.5,804)"/>
<svg x="2072.95" y="804" width="127.8" height="84.3" overflow="hidden"><path d="M5.9 67.2 6.4 59.2 7.6 51.6 8.9 48.5 9.7 47.9 11.8 48.4 14.7 46.4 15.2 46.9 17.7 45.9 19.8 42.3 20.6 42.3 21.9 42 23.5 39.4 24 39.8 26.1 39.6 26.5 38 28.1 38.2 29.4 38.7 30.2 37.1 32.3 37.3 34.4 37.4 35.3 35.5 36.5 35.7 38.2 35.3 38.6 33.6 40.7 32.7 41.1 33.1 42.8 30.4 44.1 30.3 44.9 30.5 47 27.8 47 28.6 49.1 28.3 49.9 26.5 51.2 26.9 52.9 27.2 53.3 25.7 55.4 26.2 55.8 26.7 57.5 25 58.7 25.5 59.6 25.9 61.7 23.9 61.7 24.8 63.8 24.5 64.6 22.7 65.9 23.1 67.5 23 68.4 21.2 70.5 23.4 73.4 25.7 76.3 26.1 79.3 29.7 82.2 33 85.1 34.3 88.1 38.1 91 41.3 93.9 42.7 96.9 46.5 99.8 49.7 102.7 51.1 105.7 54.8 108.6 58 111.5 59.4 114.5 63.2 117.4 66.4 120.3 67.8 122 70.4 122 88.3 120.3 87.3 117.4 83.8 114.5 81.2 111.5 78.9 108.6 75.4 105.7 72.8 102.7 70.5 99.8 67 96.9 64.5 93.9 62.2 91 58.7 88.1 56.1 85.1 53.8 82.2 50.3 79.3 47.7 76.3 45.7 73.4 43.8 70.5 43 68.4 42.6 67.5 42.2 65.9 43.1 64.6 44.1 63.8 43.7 61.7 44.7 61.7 45.2 59.6 45 58.7 45.5 57.5 46.2 55.8 45.7 55.4 46.1 53.3 46.8 52.9 46.2 51.2 46.9 49.9 47.7 49.1 47.2 47 48.5 47 48.9 44.9 49.3 44.1 50.2 42.8 51.4 41.1 51.9 40.7 52.5 38.6 54.5 38.2 54 36.5 55.5 35.3 56.4 34.4 56.1 32.3 57.1 30.2 57.9 29.4 57.3 28.1 57.9 26.5 58.7 26.1 58.1 24 59.4 23.5 60.1 21.9 60.4 20.6 61.9 19.8 63 17.7 64.3 15.2 66.5 14.7 66.9 11.8 66.7 9.7 67.5 8.9 68.9 7.6 69.9 6.4 78.7 5.9 87.6Z" fill="#1f77b4" fill-opacity="0.3" stroke="#1f77b4" stroke-opacity="0.4" stroke-width="1.4" shape-rendering="crispEdges"/><path d="M5.9 68.9 6.4 60.8 7.6 53.1 8.9 50.2 9.7 49.6 11.8 49.9 14.7 48.1 15.2 48.6 17.7 47.4 19.8 44.1 20.6 43.9 21.9 43.5 23.5 41.1 24 41.4 26.1 41.1 26.5 39.8 28.1 39.8 29.4 40.2 30.2 38.8 32.3 39 34.4 38.9 35.3 37.3 36.5 37.3 38.2 36.9 38.6 35.4 40.7 34.4 41.1 34.6 42.8 32.2 44.1 32 44.9 32 47 29.6 47 30.3 49.1 29.8 49.9 28.4 51.2 28.6 52.9 28.8 53.3 27.5 55.4 27.8 55.8 28.3 57.5 26.8 58.7 27.2 59.6 27.5 61.7 25.7 61.7 26.4 63.8 26.1 64.6 24.5 65.9 24.8 67.5 24.6 68.4 23.1 70.5 25.2 73.4 27.6 76.3 28.3 79.3 31.7 82.2 34.9 85.1 36.5 88.1 40.1 91 43.3 93.9 44.9 96.9 48.5 99.8 51.6 102.7 53.2 105.7 56.8 108.6 60 111.5 61.6 114.5 65.2 117.4 68.3 120.3 70 122 72.4 122 87.7 120.3 86.5 117.4 83.2 114.5 80.5 111.5 78.2 108.6 74.8 105.7 72.2 102.7 69.8 99.8 66.4 96.9 63.8 93.9 61.5 91 58.1 88.1 55.5 85.1 53.1 82.2 49.7 79.3 47.1 76.3 44.9 73.4 42.8 70.5 41.5 68.4 40.9 67.5 40.6 65.9 41.4 64.6 42.3 63.8 42 61.7 43 61.7 43.4 59.6 43.4 58.7 43.8 57.5 44.4 55.8 44.1 55.4 44.4 53.3 45.1 52.9 44.6 51.2 45.2 49.9 45.9 49.1 45.6 47 46.8 47 47.1 44.9 47.7 44.1 48.5 42.8 49.7 41.1 50.2 40.7 50.8 38.6 52.8 38.2 52.4 36.5 53.8 35.3 54.7 34.4 54.5 32.3 55.4 30.2 56.1 29.4 55.7 28.1 56.2 26.5 57 26.1 56.5 24 57.8 23.5 58.3 21.9 58.8 20.6 60.2 19.8 61.2 17.7 62.7 15.2 64.8 14.7 65.2 11.8 65.1 9.7 65.8 8.9 67.2 7.6 68.3 6.4 77 5.9 85.9Z" fill="#ff7f0e" fill-opacity="0.24" stroke="#ff7f0e" stroke-opacity="0.3" stroke-width="1.2" shape-rendering="crispEdges"/></svg><path d="M2092.5 804V888.3M2122.5 804V888.3M2166.5 804V888.3M2180.5 804V888.3" stroke="#bdbdbd" stroke-width="1"/><use href="#gr" transform="translate(2072.95,804)"/><svg x="2072.95" y="804" width="127.8" height="84.3" overflow="hidden"><path d="M5.6 84.3 6.4 68.8 7.6 60.4 9.7 57.6 15.2 56.6 17.7 54.8 19.8 52.7 21.9 50.9 24 49.5 26.1 48.6 28.1 48 30.2 47.6 32.3 47.1 34.4 46.5 36.5 45.5 38.6 44.2 40.7 42.5 42.8 41 44.9 39.7 47 38.5 49.1 37.5 51.2 36.8 53.3 36.4 55.4 36.1 57.5 35.8 59.6 35.3 61.7 34.7 63.8 33.9 65.9 33 68.4 32.1 123.3 84.3 127.5 88.5" fill="none" stroke="#fff" stroke-width="11.2" stroke-linejoin="round"/><path d="M5.6 84.3 6.4 68.8 7.6 60.4 9.7 57.6 15.2 56.6 17.7 54.8 19.8 52.7 21.9 50.9 24 49.5 26.1 48.6 28.1 48 30.2 47.6 32.3 47.1 34.4 46.5 36.5 45.5 38.6 44.2 40.7 42.5 42.8 41 44.9 39.7 47 38.5 49.1 37.5 51.2 36.8 53.3 36.4 55.4 36.1 57.5 35.8 59.6 35.3 61.7 34.7 63.8 33.9 65.9 33 68.4 32.1 123.3 84.3 127.5 88.5" fill="none" stroke="#000" stroke-width="9.6" stroke-linejoin="round" shape-rendering="crispEdges"/></svg><use href="#fr" transform="translate(2072.95,804)"/>
<text transform="translate(2220.5,844.65) rotate(90)" font-size="53.33" text-anchor="middle">0.06</text>
<svg x="278.45" y="921.9" width="127.8" height="84.3" overflow="hidden"><path d="M5.9 67 6.4 59.7 7.6 51.3 8.9 48.3 9.7 48.4 11.4 47 11.8 45.4 14.7 44.4 16 43.4 17.7 43.3 20.2 46.2 20.6 45.7 23.5 40.9 26.1 39.1 26.5 38.7 28.1 35.9 29.4 36.1 30.2 35.3 32.3 32.2 34.4 31.9 35.3 31.2 36.5 29.2 38.2 29.4 38.6 29 40.7 26.4 41.1 27.5 42.8 26.3 44.1 24.4 44.9 25.3 47 24 47 22.8 49.1 23.1 49.9 22.6 50.8 21.2 52.9 23.7 55.8 25.1 58.7 25.6 61.7 29.5 64.6 31.9 67.5 33.4 70.5 37.4 73.4 39.8 76.3 41.3 79.3 45.3 82.2 47.6 85.1 49.2 88.1 53.2 91 55.5 93.9 57 96.9 61.1 99.8 63.4 102.7 64.9 105.7 69 107.8 70.5 107.8 88.4 105.7 86.3 102.7 84.4 99.8 81.3 96.9 78.5 93.9 76.5 91 73.4 88.1 70.6 85.1 68.7 82.2 65.5 79.3 62.7 76.3 60.8 73.4 57.6 70.5 54.8 67.5 52.9 64.6 49.7 61.7 47 58.7 45.2 55.8 43.7 52.9 42.7 50.8 42.7 49.9 42.4 49.1 42.6 47 44.2 47 43.6 44.9 44.7 44.1 45.8 42.8 45.9 41.1 46.8 40.7 47.7 38.6 48.4 38.2 48.7 36.5 50.4 35.3 50.6 34.4 51.1 32.3 53.4 30.2 54.5 29.4 55.2 28.1 57 26.5 57.9 26.1 58.2 23.5 61.9 20.6 64.7 20.2 65.2 17.7 64.1 16 62.4 14.7 63.3 11.8 66.2 11.4 65.9 9.7 67.3 8.9 69 7.6 70 6.4 78.5 5.9 87.7Z" fill="#1f77b4" fill-opacity="0.3" stroke="#1f77b4" stroke-opacity="0.4" stroke-width="1.4" shape-rendering="crispEdges"/><path d="M5.9 68.8 6.4 61.2 7.6 52.9 8.9 50.1 9.7 50 11.4 48.6 11.8 47.2 14.7 46 16 45 17.7 45.1 20.2 47.8 20.6 47.3 23.5 42.7 26.1 40.7 26.5 40.3 28.1 37.7 29.4 37.7 30.2 36.9 32.3 34 34.4 33.5 35.3 32.9 36.5 31 38.2 31 38.6 30.6 40.7 28.3 41.1 29.1 42.8 28 44.1 26.3 44.9 26.9 47 25.6 47 24.6 49.1 24.8 49.9 24.3 50.8 23 52.9 25.4 55.8 27 58.7 27.8 61.7 31.4 64.6 33.9 67.5 35.6 70.5 39.3 73.4 41.8 76.3 43.4 79.3 47.2 82.2 49.6 85.1 51.3 88.1 55.1 91 57.5 93.9 59.2 96.9 63 99.8 65.4 102.7 67.1 105.7 70.9 107.8 72.5 107.8 87.8 105.7 85.8 102.7 83.7 99.8 80.6 96.9 77.9 93.9 75.8 91 72.7 88.1 70 85.1 67.9 82.2 64.9 79.3 62.1 76.3 60.1 73.4 57 70.5 54.2 67.5 52.2 64.6 49.1 61.7 46.4 58.7 44.5 55.8 42.7 52.9 41.3 50.8 40.9 49.9 40.7 49.1 40.9 47 42.4 47 42 44.9 43 44.1 44 42.8 44.2 41.1 45.2 40.7 46 38.6 46.8 38.2 47 36.5 48.6 35.3 49 34.4 49.5 32.3 51.6 30.2 52.9 29.4 53.6 28.1 55.2 26.5 56.2 26.1 56.6 23.5 60.1 20.6 63.1 20.2 63.6 17.7 62.4 16 60.7 14.7 61.7 11.8 64.4 11.4 64.2 9.7 65.6 8.9 67.3 7.6 68.4 6.4 76.9 5.9 85.9Z" fill="#ff7f0e" fill-opacity="0.24" stroke="#ff7f0e" stroke-opacity="0.3" stroke-width="1.2" shape-rendering="crispEdges"/></svg><path d="M298.5 921.9V1006.2M313.5 921.9V1006.2M357.5 921.9V1006.2M386.5 921.9V1006.2" stroke="#bdbdbd" stroke-width="1"/><use href="#gr" transform="translate(278.45,921.9)"/><svg x="278.45" y="921.9" width="127.8" height="84.3" overflow="hidden"><path d="M5.6 84.3 6.4 68.8 7.6 60.4 9.7 57.6 11.4 56.2 16 52.7 20.2 55.5 26.1 48.5 28.1 46.6 30.2 44.7 32.3 42.9 34.4 41.3 36.5 39.9 38.6 38.6 40.7 37.3 42.8 36 44.9 34.8 47 33.7 49.1 32.7 50.8 32.1 109 84.3 113.5 88.5" fill="none" stroke="#fff" stroke-width="11.2" stroke-linejoin="round"/><path d="M5.6 84.3 6.4 68.8 7.6 60.4 9.7 57.6 11.4 56.2 16 52.7 20.2 55.5 26.1 48.5 28.1 46.6 30.2 44.7 32.3 42.9 34.4 41.3 36.5 39.9 38.6 38.6 40.7 37.3 42.8 36 44.9 34.8 47 33.7 49.1 32.7 50.8 32.1 109 84.3 113.5 88.5" fill="none" stroke="#000" stroke-width="9.6" stroke-linejoin="round" shape-rendering="crispEdges"/></svg><use href="#fr" transform="translate(278.45,921.9)"/>
<text x="241.45" y="1021.8" font-size="44.44" text-anchor="end">0</text>
<text x="241.45" y="979.65" font-size="44.44" text-anchor="end">3</text>
<text x="241.45" y="937.5" font-size="44.44" text-anchor="end">6</text>
<svg x="457.9" y="921.9" width="127.8" height="84.3" overflow="hidden"><path d="M5.9 67.2 6.4 60.1 7.6 50.7 8.9 48.5 9.7 48.8 11.4 46.5 11.8 45.6 14.7 44.8 16 42.9 17.7 43.5 20.2 46.6 20.6 45.1 23.5 41.1 26.1 39.5 26.5 38.2 28.1 36.6 29.4 37.2 30.2 35.6 32.3 33.8 34.4 33.8 35.3 32.3 36.5 31.2 38.2 31.7 38.6 30.5 40.7 29 41.1 30.2 42.8 28.3 44.1 27.4 44.9 28.4 47 26.3 47 26 49.1 26.4 49.9 25 51.2 24.1 52.9 24.8 53.3 23.6 55.4 22.5 55.8 23.7 58.7 21.7 58.7 21.5 61.7 24.5 64.6 25 67.5 26.6 70.5 30.6 73.4 32.1 76.3 34.6 79.3 38.6 82.2 40.1 85.1 42.5 88.1 46.5 91 48 93.9 50.5 96.9 54.4 99.8 55.9 102.7 58.4 105.7 62.4 108.6 63.8 111.5 66.4 114.5 70.3 115.3 69.9 115.3 88.7 114.5 87.3 111.5 85.3 108.6 82.6 105.7 79.4 102.7 77.4 99.8 74.7 96.9 71.4 93.9 69.5 91 66.7 88.1 63.5 85.1 61.5 82.2 58.8 79.3 55.6 76.3 53.6 73.4 50.8 70.5 47.6 67.5 45.7 64.6 44.3 61.7 42.8 58.7 42.5 58.7 42.4 55.8 42.7 55.4 43.5 53.3 44.1 52.9 43.7 51.2 45.1 49.9 45.5 49.1 45.3 47 46.9 47 46.7 44.9 47.2 44.1 48.3 42.8 48.7 41.1 49 40.7 49.9 38.6 50.7 38.2 50.4 36.5 52 35.3 52.5 34.4 52.5 32.3 54.5 30.2 55.7 29.4 55.8 28.1 57.3 26.5 58.2 26.1 58 23.5 61.7 20.6 65 20.2 65 17.7 64 16 62.6 14.7 63.1 11.8 66.1 11.4 66.1 9.7 67.1 8.9 68.9 7.6 70.3 6.4 78.3 5.9 87.6Z" fill="#1f77b4" fill-opacity="0.3" stroke="#1f77b4" stroke-opacity="0.4" stroke-width="1.4" shape-rendering="crispEdges"/><path d="M5.9 68.9 6.4 61.6 7.6 52.4 8.9 50.2 9.7 50.3 11.4 48.1 11.8 47.4 14.7 46.3 16 44.6 17.7 45.2 20.2 48.1 20.6 46.8 23.5 42.9 26.1 41 26.5 39.9 28.1 38.4 29.4 38.7 30.2 37.3 32.3 35.6 34.4 35.4 35.3 34 36.5 32.9 38.2 33.3 38.6 32.2 40.7 30.8 41.1 31.8 42.8 30.1 44.1 29.2 44.9 29.9 47 28.1 47 27.8 49.1 28 49.9 26.7 51.2 25.9 52.9 26.4 53.3 25.3 55.4 24.3 55.8 25.3 58.7 23.5 58.7 23.3 61.7 26.2 64.6 27 67.5 28.7 70.5 32.5 73.4 34.2 76.3 36.7 79.3 40.5 82.2 42.2 85.1 44.6 88.1 48.4 91 50.1 93.9 52.6 96.9 56.3 99.8 58 102.7 60.5 105.7 64.3 108.6 65.9 111.5 68.5 114.5 72.2 115.3 72 115.3 88 114.5 86.8 111.5 84.7 108.6 82 105.7 78.8 102.7 76.7 99.8 74 96.9 70.9 93.9 68.8 91 66.1 88.1 62.9 85.1 60.9 82.2 58.1 79.3 55 76.3 52.9 73.4 50.2 70.5 47.1 67.5 45 64.6 43.3 61.7 41.5 58.7 40.8 58.7 40.6 55.8 41 55.4 41.7 53.3 42.4 52.9 42.1 51.2 43.3 49.9 43.7 49.1 43.6 47 45.1 47 45 44.9 45.5 44.1 46.5 42.8 46.9 41.1 47.3 40.7 48.1 38.6 49 38.2 48.8 36.5 50.2 35.3 50.8 34.4 50.8 32.3 52.8 30.2 54 29.4 54.1 28.1 55.6 26.5 56.5 26.1 56.4 23.5 60 20.6 63.3 20.2 63.4 17.7 62.3 16 61 14.7 61.5 11.8 64.3 11.4 64.4 9.7 65.5 8.9 67.2 7.6 68.6 6.4 76.7 5.9 85.9Z" fill="#ff7f0e" fill-opacity="0.24" stroke="#ff7f0e" stroke-opacity="0.3" stroke-width="1.2" shape-rendering="crispEdges"/></svg><path d="M492.5 921.9V1006.2M507.5 921.9V1006.2M536.5 921.9V1006.2M551.5 921.9V1006.2" stroke="#bdbdbd" stroke-width="1"/><use href="#gr" transform="translate(457.9,921.9)"/><svg x="457.9" y="921.9" width="127.8" height="84.3" overflow="hidden"><path d="M5.6 84.3 6.4 68.8 7.6 60.4 9.7 57.6 11.4 56.2 16 52.7 20.2 55.5 26.1 48.5 28.1 47 30.2 45.6 32.3 44.2 34.4 42.9 36.5 41.7 38.6 40.6 40.7 39.5 42.8 38.5 44.9 37.5 47 36.6 49.1 35.6 51.2 34.7 53.3 33.9 55.4 33.1 58.7 32.1 116.6 84.3 121 88.5" fill="none" stroke="#fff" stroke-width="11.2" stroke-linejoin="round"/><path d="M5.6 84.3 6.4 68.8 7.6 60.4 9.7 57.6 11.4 56.2 16 52.7 20.2 55.5 26.1 48.5 28.1 47 30.2 45.6 32.3 44.2 34.4 42.9 36.5 41.7 38.6 40.6 40.7 39.5 42.8 38.5 44.9 37.5 47 36.6 49.1 35.6 51.2 34.7 53.3 33.9 55.4 33.1 58.7 32.1 116.6 84.3 121 88.5" fill="none" stroke="#000" stroke-width="9.6" stroke-linejoin="round" shape-rendering="crispEdges"/></svg><use href="#fr" transform="translate(457.9,921.9)"/>
<svg x="637.35" y="921.9" width="127.8" height="84.3" overflow="hidden"><path d="M5.9 67.7 6.4 60.1 7.6 50.2 8.9 49 9.7 48.8 11.4 45.9 11.8 46.1 14.7 44.8 16 42.4 17.7 44 20.2 46.6 20.6 44.6 23.5 41.6 26.1 39.5 26.5 37.7 28.1 37 29.4 37 30.2 34.9 32.3 34 34.4 33.4 35.3 31.5 36.5 31.3 38.2 31.2 38.6 29.5 40.7 29 41.1 29.6 42.8 27.3 44.1 27.3 44.9 27.7 47 25.2 47 25.9 49.1 25.7 49.9 23.8 51.2 23.9 52.9 24 53.3 22.4 55.8 22.3 56.6 22.7 58.7 22.5 61.7 24.8 64.6 27.2 67.5 28.2 70.5 31.6 73.4 34.9 76.3 36.1 79.3 39.5 82.2 42.8 85.1 44 88.1 47.4 91 50.7 93.9 51.9 96.9 55.3 99.8 58.6 102.7 59.7 105.7 63.2 108.6 66.4 111.5 67.6 113.6 70.3 113.6 88.5 111.5 87 108.6 83.7 105.7 81.3 102.7 79.1 99.8 75.8 96.9 73.5 93.9 71.2 91 67.9 88.1 65.6 85.1 63.4 82.2 60 79.3 57.7 76.3 55.5 73.4 52.1 70.5 49.8 67.5 47.6 64.6 44.5 61.7 43.9 58.7 43.3 56.6 41.9 55.8 42.5 53.3 43.6 52.9 43.1 51.2 44.1 49.9 45 49.1 44.6 47 46 47 46.3 44.9 46.6 44.1 47.4 42.8 48.4 41.1 48.5 40.7 49.1 38.6 50.5 38.2 50 36.5 51.3 35.3 52.4 34.4 52.1 32.3 54 30.2 55.8 29.4 55.6 28.1 57 26.5 58.4 26.1 58 23.5 61.5 20.6 65.2 20.2 65 17.7 63.8 16 62.9 14.7 63.1 11.8 65.8 11.4 66.4 9.7 67.1 8.9 68.7 7.6 70.6 6.4 78.3 5.9 87.4Z" fill="#1f77b4" fill-opacity="0.3" stroke="#1f77b4" stroke-opacity="0.4" stroke-width="1.4" shape-rendering="crispEdges"/><path d="M5.9 69.4 6.4 61.6 7.6 52 8.9 50.6 9.7 50.3 11.4 47.7 11.8 47.8 14.7 46.3 16 44.1 17.7 45.7 20.2 48.1 20.6 46.4 23.5 43.3 26.1 41 26.5 39.5 28.1 38.7 29.4 38.5 30.2 36.7 32.3 35.7 34.4 35 35.3 33.3 36.5 33 38.2 32.8 38.6 31.3 40.7 30.7 41.1 31.2 42.8 29.1 44.1 29 44.9 29.3 47 27 47 27.6 49.1 27.2 49.9 25.6 51.2 25.6 52.9 25.6 53.3 24.2 55.8 24 56.6 24.3 58.7 24.4 61.7 26.7 64.6 29.1 67.5 30.4 70.5 33.6 73.4 36.9 76.3 38.3 79.3 41.5 82.2 44.7 85.1 46.1 88.1 49.4 91 52.6 93.9 54 96.9 57.3 99.8 60.5 102.7 61.9 105.7 65.2 108.6 68.4 111.5 69.8 113.6 72.4 113.6 87.8 111.5 86.3 108.6 83.1 105.7 80.7 102.7 78.4 99.8 75.2 96.9 72.8 93.9 70.5 91 67.3 88.1 65 85.1 62.7 82.2 59.4 79.3 57.1 76.3 54.8 73.4 51.5 70.5 49.2 67.5 46.9 64.6 43.8 61.7 42.8 58.7 41.8 56.6 40.2 55.8 40.8 53.3 41.9 52.9 41.4 51.2 42.4 49.9 43.3 49.1 43 47 44.3 47 44.6 44.9 45 44.1 45.7 42.8 46.6 41.1 46.8 40.7 47.4 38.6 48.8 38.2 48.4 36.5 49.6 35.3 50.6 34.4 50.5 32.3 52.3 30.2 54 29.4 54 28.1 55.3 26.5 56.7 26.1 56.4 23.5 59.8 20.6 63.5 20.2 63.4 17.7 62.1 16 61.2 14.7 61.5 11.8 64.1 11.4 64.7 9.7 65.5 8.9 67 7.6 68.8 6.4 76.7 5.9 85.7Z" fill="#ff7f0e" fill-opacity="0.24" stroke="#ff7f0e" stroke-opacity="0.3" stroke-width="1.2" shape-rendering="crispEdges"/></svg><path d="M657.5 921.9V1006.2M672.5 921.9V1006.2M730.5 921.9V1006.2M745.5 921.9V1006.2" stroke="#bdbdbd" stroke-width="1"/><use href="#gr" transform="translate(637.35,921.9)"/><svg x="637.35" y="921.9" width="127.8" height="84.3" overflow="hidden"><path d="M5.6 84.3 6.4 68.8 7.6 60.4 9.7 57.6 11.4 56.2 16 52.7 20.2 55.5 26.1 48.5 28.1 46.9 30.2 45.4 32.3 44 34.4 42.5 36.5 41.3 38.6 40.2 40.7 39 42.8 38 44.9 36.9 47 35.9 49.1 34.9 51.2 34 53.3 33.2 56.6 32.1 114.9 84.3 119.4 88.5" fill="none" stroke="#fff" stroke-width="11.2" stroke-linejoin="round"/><path d="M5.6 84.3 6.4 68.8 7.6 60.4 9.7 57.6 11.4 56.2 16 52.7 20.2 55.5 26.1 48.5 28.1 46.9 30.2 45.4 32.3 44 34.4 42.5 36.5 41.3 38.6 40.2 40.7 39 42.8 38 44.9 36.9 47 35.9 49.1 34.9 51.2 34 53.3 33.2 56.6 32.1 114.9 84.3 119.4 88.5" fill="none" stroke="#000" stroke-width="9.6" stroke-linejoin="round" shape-rendering="crispEdges"/></svg><use href="#fr" transform="translate(637.35,921.9)"/>
<svg x="816.8" y="921.9" width="127.8" height="84.3" overflow="hidden"><path d="M5.9 68.3 6.4 59.7 7.6 50 8.9 49.5 9.7 48.4 11.8 46.8 14.7 47.5 15.2 47.4 17.7 44.3 19.8 43.1 20.6 42.7 21.9 40.8 23.5 42 24 41.9 26.1 39.7 26.5 40.5 28.1 38.6 29.4 36 30.2 36.4 32.3 35.3 34.4 33.9 35.3 34.8 36.5 34.1 38.2 31.3 38.6 32.2 40.7 30.5 41.1 29.1 42.8 29.9 44.1 29.6 44.9 28.3 47 28.9 47 28.7 49.1 26.1 49.9 26.8 51.2 25.8 52.9 24.1 53.3 25.3 55.4 24.9 55.8 23.7 57.5 24.5 58.7 23.6 59.6 22 61.7 22.8 62.5 22.3 64.6 22.5 67.5 25.7 70.5 27.2 73.4 28.7 76.3 32.9 79.3 35.4 82.2 37.1 85.1 41.3 88.1 43.7 91 45.5 93.9 49.7 96.9 52.1 99.8 53.8 102.7 58 105.7 60.4 108.6 62.2 111.5 66.4 114.5 68.8 116.1 69.4 116.1 88.8 114.5 86.8 111.5 83.8 108.6 81.7 105.7 78.4 102.7 75.4 99.8 73.3 96.9 70 93.9 67 91 65 88.1 61.6 85.1 58.7 82.2 56.6 79.3 53.3 76.3 50.3 73.4 48.2 70.5 45.1 67.5 43.9 64.6 43.4 62.5 42.1 61.7 42.2 59.6 43.4 58.7 43.3 57.5 43.9 55.8 45 55.4 44.6 53.3 44.6 52.9 45.5 51.2 45.4 49.9 46.1 49.1 47.4 47 48.2 47 48.2 44.9 49.5 44.1 49 42.8 49.1 41.1 50.3 40.7 49.9 38.6 51.4 38.2 52.5 36.5 53.4 35.3 53.9 34.4 55 32.3 54.6 30.2 55.5 29.4 57 28.1 57.7 26.5 59.5 26.1 60.6 24 61 23.5 61 21.9 61.7 20.6 61.7 19.8 62.1 17.7 65.1 15.2 66.3 14.7 66.4 11.8 67.5 9.7 67.2 8.9 68.4 7.6 70.7 6.4 78.5 5.9 87.1Z" fill="#1f77b4" fill-opacity="0.3" stroke="#1f77b4" stroke-opacity="0.4" stroke-width="1.4" shape-rendering="crispEdges"/><path d="M5.9 69.8 6.4 61.3 7.6 51.8 8.9 51.1 9.7 50 11.8 48.6 14.7 49 15.2 49 17.7 46.1 19.8 44.7 20.6 44.3 21.9 42.6 23.5 43.6 24 43.5 26.1 41.5 26.5 42.1 28.1 40.2 29.4 37.8 30.2 38 32.3 37 34.4 35.7 35.3 36.4 36.5 35.7 38.2 33.1 38.6 33.8 40.7 32.1 41.1 31 42.8 31.5 44.1 31.2 44.9 30.1 47 30.5 47 30.4 49.1 27.9 49.9 28.5 51.2 27.4 52.9 25.9 53.3 27 55.4 26.6 55.8 25.5 57.5 26.2 58.7 25.2 59.6 23.8 61.7 24.4 62.5 23.9 64.6 24.4 67.5 27.5 70.5 29.1 73.4 30.9 76.3 34.9 79.3 37.4 82.2 39.3 85.1 43.2 88.1 45.7 91 47.6 93.9 51.6 96.9 54.1 99.8 56 102.7 60 105.7 62.4 108.6 64.4 111.5 68.4 114.5 70.8 116.1 71.6 116.1 88.1 114.5 86.1 111.5 83.2 108.6 81 105.7 77.8 102.7 74.8 99.8 72.6 96.9 69.4 93.9 66.4 91 64.2 88.1 61 85.1 58.1 82.2 55.9 79.3 52.6 76.3 49.7 73.4 47.5 70.5 44.5 67.5 42.8 64.6 41.9 62.5 40.4 61.7 40.5 59.6 41.6 58.7 41.6 57.5 42.2 55.8 43.3 55.4 42.9 53.3 43 52.9 43.7 51.2 43.7 49.9 44.5 49.1 45.6 47 46.6 47 46.5 44.9 47.8 44.1 47.4 42.8 47.4 41.1 48.5 40.7 48.2 38.6 49.8 38.2 50.7 36.5 51.8 35.3 52.3 34.4 53.2 32.3 52.9 30.2 53.8 29.4 55.2 28.1 56.1 26.5 57.9 26.1 58.9 24 59.3 23.5 59.3 21.9 60 20.6 60 19.8 60.4 17.7 63.4 15.2 64.6 14.7 64.7 11.8 65.8 9.7 65.6 8.9 66.7 7.6 68.9 6.4 76.8 5.9 85.4Z" fill="#ff7f0e" fill-opacity="0.24" stroke="#ff7f0e" stroke-opacity="0.3" stroke-width="1.2" shape-rendering="crispEdges"/></svg><path d="M851.5 921.9V1006.2M866.5 921.9V1006.2M910.5 921.9V1006.2M924.5 921.9V1006.2" stroke="#bdbdbd" stroke-width="1"/><use href="#gr" transform="translate(816.8,921.9)"/><svg x="816.8" y="921.9" width="127.8" height="84.3" overflow="hidden"><path d="M5.6 84.3 6.4 68.8 7.6 60.4 9.7 57.6 15.2 56.6 17.7 54.8 19.8 52.4 21.9 51.4 24 51.3 26.1 50.3 28.1 48 30.2 45.7 32.3 44.8 34.4 44.6 36.5 43.6 38.6 41.6 40.7 40 42.8 39.3 44.9 39.1 47 38.4 49.1 36.9 51.2 35.5 53.3 34.8 55.4 34.7 57.5 34.1 59.6 32.9 62.5 32.1 117.4 84.3 121.6 88.5" fill="none" stroke="#fff" stroke-width="11.2" stroke-linejoin="round"/><path d="M5.6 84.3 6.4 68.8 7.6 60.4 9.7 57.6 15.2 56.6 17.7 54.8 19.8 52.4 21.9 51.4 24 51.3 26.1 50.3 28.1 48 30.2 45.7 32.3 44.8 34.4 44.6 36.5 43.6 38.6 41.6 40.7 40 42.8 39.3 44.9 39.1 47 38.4 49.1 36.9 51.2 35.5 53.3 34.8 55.4 34.7 57.5 34.1 59.6 32.9 62.5 32.1 117.4 84.3 121.6 88.5" fill="none" stroke="#000" stroke-width="9.6" stroke-linejoin="round" shape-rendering="crispEdges"/></svg><use href="#fr" transform="translate(816.8,921.9)"/>
<svg x="996.25" y="921.9" width="127.8" height="84.3" overflow="hidden"><path d="M5.9 68.6 6.4 59.2 7.6 50.2 8.9 49.9 9.7 47.9 11.8 46.9 14.7 47.8 15.2 46.8 17.7 44.5 19.8 43.3 20.6 41.8 21.9 40.4 23.5 41.4 24 40.3 26.1 39.3 26.5 40.4 28.1 38.2 29.4 36.3 30.2 36.8 32.3 33.5 34.4 31.7 35.3 32.9 36.5 31.6 38.2 30.8 38.6 32.2 40.7 30 41.1 29.3 42.8 29.4 44.1 27.3 44.9 26.4 47 26.8 47 25.7 49.1 25 49.9 26.2 51.2 24.8 52.9 23.8 53.3 25 55.4 22.6 55.8 22.2 58.3 22.8 58.7 21.9 61.7 23.3 64.6 26.2 67.5 26.9 70.5 29.3 73.4 33.2 76.3 34.6 79.3 36.9 82.2 40.8 85.1 42.2 88.1 44.6 91 48.5 93.9 49.9 96.9 52.3 99.8 56.2 102.7 57.5 105.7 59.9 108.6 63.8 111.5 65.2 114.5 67.6 117 71.1 117 88.1 114.5 86.6 111.5 84 108.6 80.8 105.7 78.9 102.7 76.3 99.8 73.2 96.9 71.3 93.9 68.6 91 65.5 88.1 63.6 85.1 61 82.2 57.8 79.3 56 76.3 53.3 73.4 50.2 70.5 48.3 67.5 45.6 64.6 43.7 61.7 43.5 58.7 42.5 58.3 41.8 55.8 43.2 55.4 43.2 53.3 43.9 52.9 44.8 51.2 45.3 49.9 45 49.1 45.9 47 46.1 47 45.6 44.9 47.2 44.1 47.7 42.8 48.1 41.1 50.2 40.7 50.3 38.6 50.9 38.2 51.7 36.5 51.8 35.3 51.6 34.4 52.5 32.3 53.6 30.2 55.4 29.4 57 28.1 58.2 26.5 58.9 26.1 59.9 24 60.2 23.5 59.9 21.9 61 20.6 61.6 19.8 61.7 17.7 65 15.2 66.6 14.7 66.2 11.8 67.4 9.7 67.5 8.9 68.2 7.6 70.6 6.4 78.7 5.9 86.9Z" fill="#1f77b4" fill-opacity="0.3" stroke="#1f77b4" stroke-opacity="0.4" stroke-width="1.4" shape-rendering="crispEdges"/><path d="M5.9 70.2 6.4 60.8 7.6 51.9 8.9 51.4 9.7 49.5 11.8 48.7 14.7 49.4 15.2 48.5 17.7 46.2 19.8 44.8 20.6 43.4 21.9 42.1 23.5 42.9 24 42 26.1 41.1 26.5 41.9 28.1 39.9 29.4 38.1 30.2 38.4 32.3 35.2 34.4 33.5 35.3 34.5 36.5 33.3 38.2 32.6 38.6 33.7 40.7 31.7 41.1 31.1 42.8 30.9 44.1 29.1 44.9 28.1 47 28.3 47 27.4 49.1 26.7 49.9 27.7 51.2 26.6 52.9 25.6 53.3 26.6 55.4 24.4 55.8 24 58.3 24.4 58.7 23.7 61.7 25.2 64.6 28 67.5 29 70.5 31.4 73.4 35.1 76.3 36.7 79.3 39.1 82.2 42.7 85.1 44.3 88.1 46.7 91 50.4 93.9 52 96.9 54.4 99.8 58.1 102.7 59.6 105.7 62.1 108.6 65.7 111.5 67.3 114.5 69.7 117 73 117 87.6 114.5 85.9 111.5 83.3 108.6 80.3 105.7 78.3 102.7 75.6 99.8 72.6 96.9 70.6 93.9 68 91 64.9 88.1 62.9 85.1 60.3 82.2 57.3 79.3 55.3 76.3 52.6 73.4 49.6 70.5 47.6 67.5 45 64.6 42.9 61.7 42.2 58.7 40.8 58.3 40.2 55.8 41.5 55.4 41.5 53.3 42.3 52.9 43 51.2 43.6 49.9 43.4 49.1 44.1 47 44.4 47 44 44.9 45.5 44.1 46 42.8 46.5 41.1 48.4 40.7 48.6 38.6 49.2 38.2 49.9 36.5 50.1 35.3 49.9 34.4 50.7 32.3 51.9 30.2 53.8 29.4 55.3 28.1 56.5 26.5 57.3 26.1 58.2 24 58.5 23.5 58.2 21.9 59.2 20.6 59.9 19.8 60.1 17.7 63.3 15.2 64.9 14.7 64.6 11.8 65.7 9.7 65.8 8.9 66.6 7.6 68.9 6.4 77.1 5.9 85.3Z" fill="#ff7f0e" fill-opacity="0.24" stroke="#ff7f0e" stroke-opacity="0.3" stroke-width="1.2" shape-rendering="crispEdges"/></svg><path d="M1016.5 921.9V1006.2M1045.5 921.9V1006.2M1104.5 921.9V1006.2" stroke="#bdbdbd" stroke-width="1"/><use href="#gr" transform="translate(996.25,921.9)"/><svg x="996.25" y="921.9" width="127.8" height="84.3" overflow="hidden"><path d="M5.6 84.3 6.4 68.8 7.6 60.4 9.7 57.6 15.2 56.6 17.7 54.8 19.8 52.2 21.9 50.7 24 50.2 26.1 49.7 28.1 48.2 30.2 45.8 32.3 43.5 34.4 42.2 36.5 41.7 38.6 41.3 40.7 40.2 42.8 38.5 44.9 36.9 47 35.9 49.1 35.5 51.2 35.1 53.3 34.3 55.4 33 58.3 32.1 118.2 84.3 122.9 88.5" fill="none" stroke="#fff" stroke-width="11.2" stroke-linejoin="round"/><path d="M5.6 84.3 6.4 68.8 7.6 60.4 9.7 57.6 15.2 56.6 17.7 54.8 19.8 52.2 21.9 50.7 24 50.2 26.1 49.7 28.1 48.2 30.2 45.8 32.3 43.5 34.4 42.2 36.5 41.7 38.6 41.3 40.7 40.2 42.8 38.5 44.9 36.9 47 35.9 49.1 35.5 51.2 35.1 53.3 34.3 55.4 33 58.3 32.1 118.2 84.3 122.9 88.5" fill="none" stroke="#000" stroke-width="9.6" stroke-linejoin="round" shape-rendering="crispEdges"/></svg><use href="#fr" transform="translate(996.25,921.9)"/>
<svg x="1175.7" y="921.9" width="127.8" height="84.3" overflow="hidden"><path d="M5.9 68.7 6.4 58.7 7.6 50.7 8.9 49.9 9.7 47.4 11.8 47.4 14.7 47.8 15.2 46.3 17.7 45 19.8 43.5 20.6 41.4 21.9 40.9 23.5 41.3 24 39.7 26.1 39.9 26.5 40.6 28.1 38.6 29.4 38.2 30.2 38.4 32.3 34.7 34.4 33.2 35.3 33.5 36.5 31.2 38.2 31.4 38.6 32.1 40.7 30.3 41.1 30.8 42.8 31.1 44.1 29 44.9 29.2 47 28.5 47 27 49.1 26.2 49.9 26.6 51.2 24.5 52.9 24.8 53.3 25.5 55.4 23.7 55.8 24.3 57.5 24.7 58.7 22.7 59.6 23.1 61.7 22.9 62.1 21.3 64.6 23.4 67.5 25.7 70.5 25.9 73.4 29.3 76.3 32.6 79.3 33.7 82.2 37.1 85.1 40.4 88.1 41.5 91 45 93.9 48.2 96.9 49.4 99.8 52.8 102.7 56 105.7 57.2 108.6 60.7 111.5 63.9 114.5 65 117.4 68.5 119.5 70.9 119.5 88.2 117.4 86.6 114.5 84.4 111.5 81.1 108.6 78.8 105.7 76.6 102.7 73.3 99.8 71 96.9 68.8 93.9 65.4 91 63.1 88.1 60.9 85.1 57.6 82.2 55.3 79.3 53.1 76.3 49.8 73.4 47.5 70.5 45.3 67.5 43.6 64.6 43 62.1 42.6 61.7 42.1 59.6 43.3 58.7 44 57.5 43.8 55.8 44.5 55.4 44.9 53.3 44.5 52.9 44.9 51.2 45.7 49.9 45.5 49.1 46.3 47 48.1 47 47.3 44.9 49.2 44.1 50 42.8 50 41.1 50.8 40.7 51.3 38.6 50.8 38.2 51.3 36.5 52.1 35.3 52.2 34.4 53.1 32.3 55.6 30.2 57 29.4 58.1 28.1 59.3 26.5 59.2 26.1 59.8 24 60.3 23.5 59.8 21.9 60.8 20.6 62 19.8 61.9 17.7 64.8 15.2 66.8 14.7 66.2 11.8 67.2 9.7 67.8 8.9 68.2 7.6 70.3 6.4 79 5.9 86.9Z" fill="#1f77b4" fill-opacity="0.3" stroke="#1f77b4" stroke-opacity="0.4" stroke-width="1.4" shape-rendering="crispEdges"/><path d="M5.9 70.2 6.4 60.4 7.6 52.3 8.9 51.4 9.7 49.1 11.8 49.1 14.7 49.4 15.2 48.1 17.7 46.7 19.8 45 20.6 43.1 21.9 42.6 23.5 42.8 24 41.5 26.1 41.6 26.5 42.2 28.1 40.4 29.4 39.9 30.2 40 32.3 36.5 34.4 34.9 35.3 35 36.5 33 38.2 33 38.6 33.6 40.7 32.1 41.1 32.5 42.8 32.7 44.1 30.8 44.9 30.9 47 30 47 28.8 49.1 27.9 49.9 28.1 51.2 26.3 52.9 26.5 53.3 27 55.4 25.5 55.8 26 57.5 26.3 58.7 24.5 59.6 24.8 61.7 24.5 62.1 23.1 64.6 25.2 67.5 27.5 70.5 28.1 73.4 31.3 76.3 34.5 79.3 35.9 82.2 39.2 85.1 42.3 88.1 43.7 91 47 93.9 50.1 96.9 51.5 99.8 54.9 102.7 58 105.7 59.4 108.6 62.7 111.5 65.8 114.5 67.2 117.4 70.5 119.5 72.9 119.5 87.6 117.4 86 114.5 83.7 111.5 80.5 108.6 78.2 105.7 75.9 102.7 72.7 99.8 70.3 96.9 68.1 93.9 64.9 91 62.5 88.1 60.2 85.1 57 82.2 54.7 79.3 52.4 76.3 49.2 73.4 46.9 70.5 44.6 67.5 42.7 64.6 41.6 62.1 40.8 61.7 40.4 59.6 41.6 58.7 42.2 57.5 42.1 55.8 42.8 55.4 43.2 53.3 42.8 52.9 43.2 51.2 43.9 49.9 43.9 49.1 44.6 47 46.3 47 45.7 44.9 47.5 44.1 48.3 42.8 48.3 41.1 49.1 40.7 49.5 38.6 49.2 38.2 49.6 36.5 50.3 35.3 50.5 34.4 51.4 32.3 53.8 30.2 55.4 29.4 56.4 28.1 57.6 26.5 57.5 26.1 58.1 24 58.6 23.5 58.1 21.9 59.1 20.6 60.2 19.8 60.3 17.7 63.1 15.2 65.1 14.7 64.6 11.8 65.5 9.7 66 8.9 66.6 7.6 68.7 6.4 77.3 5.9 85.3Z" fill="#ff7f0e" fill-opacity="0.24" stroke="#ff7f0e" stroke-opacity="0.3" stroke-width="1.2" shape-rendering="crispEdges"/></svg><path d="M1195.5 921.9V1006.2M1210.5 921.9V1006.2M1269.5 921.9V1006.2M1283.5 921.9V1006.2" stroke="#bdbdbd" stroke-width="1"/><use href="#gr" transform="translate(1175.7,921.9)"/><svg x="1175.7" y="921.9" width="127.8" height="84.3" overflow="hidden"><path d="M5.6 84.3 6.4 68.8 7.6 60.4 9.7 57.6 15.2 56.6 17.7 54.8 19.8 52.4 21.9 50.8 24 50.1 26.1 49.8 28.1 49 30.2 47.4 32.3 45.2 34.4 43.1 36.5 41.8 38.6 41.2 40.7 40.9 42.8 40.3 44.9 39.2 47 37.7 49.1 36.2 51.2 35.2 53.3 34.8 55.4 34.5 57.5 34 59.6 33.2 62.1 32.1 120.7 84.3 125.3 88.5" fill="none" stroke="#fff" stroke-width="11.2" stroke-linejoin="round"/><path d="M5.6 84.3 6.4 68.8 7.6 60.4 9.7 57.6 15.2 56.6 17.7 54.8 19.8 52.4 21.9 50.8 24 50.1 26.1 49.8 28.1 49 30.2 47.4 32.3 45.2 34.4 43.1 36.5 41.8 38.6 41.2 40.7 40.9 42.8 40.3 44.9 39.2 47 37.7 49.1 36.2 51.2 35.2 53.3 34.8 55.4 34.5 57.5 34 59.6 33.2 62.1 32.1 120.7 84.3 125.3 88.5" fill="none" stroke="#000" stroke-width="9.6" stroke-linejoin="round" shape-rendering="crispEdges"/></svg><use href="#fr" transform="translate(1175.7,921.9)"/>
<svg x="1355.15" y="921.9" width="127.8" height="84.3" overflow="hidden"><path d="M5.9 68.3 6.4 58.4 7.6 51.2 8.9 49.6 9.7 47.2 11.8 48 14.7 47.5 15.2 46.1 17.7 45.5 19.8 43.1 20.6 41.1 21.9 41.2 23.5 40.4 24 38.9 26.1 39.7 26.5 39.5 28.1 37.8 29.4 38.5 30.2 37.9 32.3 34.9 34.4 34.1 35.3 33.2 36.5 30.8 38.2 31 38.6 30.7 40.7 28.7 41.1 29.9 42.8 29.4 44.1 27.9 44.9 29.1 47 28.1 47 27 49.1 27.1 49.9 26.3 51.2 24.3 52.9 24.6 53.3 24.1 55.4 22 55.8 23.3 57.5 22.6 58.7 21.3 60 22.6 61.7 23.2 64.6 23.7 67.5 26.7 70.5 28.7 73.4 30.2 76.3 34.2 79.3 36.5 82.2 38 85.1 42 88.1 44.2 91 45.8 93.9 49.8 96.9 52 99.8 53.5 102.7 57.5 105.7 59.7 108.6 61.3 111.5 65.3 114.5 67.5 117.4 69.1 117.8 70.9 117.8 88.2 117.4 88.6 114.5 85.5 111.5 82.7 108.6 80.8 105.7 77.7 102.7 74.9 99.8 73 96.9 69.9 93.9 67.1 91 65.3 88.1 62.1 85.1 59.4 82.2 57.5 79.3 54.4 76.3 51.6 73.4 49.7 70.5 46.6 67.5 44.3 64.6 44.1 61.7 42.6 60 42 58.7 42.8 57.5 42.3 55.8 42.6 55.4 43.4 53.3 43.8 52.9 44 51.2 45.7 49.9 46 49.1 46.4 47 48.2 47 47.7 44.9 48.3 44.1 49.2 42.8 48.9 41.1 49.1 40.7 49.9 38.6 50 38.2 50.2 36.5 51.9 35.3 52.5 34.4 53.2 32.3 56 30.2 57.1 29.4 57.5 28.1 58.8 26.5 58.6 26.1 58.7 24 59.8 23.5 59.4 21.9 60.2 20.6 62 19.8 62.1 17.7 64.5 15.2 66.9 14.7 66.4 11.8 66.9 9.7 67.9 8.9 68.4 7.6 70.1 6.4 79.1 5.9 87Z" fill="#1f77b4" fill-opacity="0.3" stroke="#1f77b4" stroke-opacity="0.4" stroke-width="1.4" shape-rendering="crispEdges"/><path d="M5.9 69.9 6.4 60.2 7.6 52.8 8.9 51.1 9.7 48.9 11.8 49.6 14.7 49.1 15.2 47.9 17.7 47.1 19.8 44.6 20.6 42.9 21.9 42.8 23.5 42 24 40.7 26.1 41.2 26.5 41.1 28.1 39.6 29.4 40 30.2 39.5 32.3 36.8 34.4 35.7 35.3 34.8 36.5 32.6 38.2 32.6 38.6 32.3 40.7 30.5 41.1 31.5 42.8 31 44.1 29.8 44.9 30.7 47 29.8 47 28.8 49.1 28.7 49.9 28 51.2 26.2 52.9 26.2 53.3 25.8 55.4 23.8 55.8 24.9 57.5 24.2 58.7 23.2 60 24.2 61.7 24.9 64.6 25.7 67.5 28.6 70.5 30.7 73.4 32.4 76.3 36.1 79.3 38.5 82.2 40.2 85.1 43.9 88.1 46.2 91 47.9 93.9 51.7 96.9 54 99.8 55.7 102.7 59.5 105.7 61.7 108.6 63.5 111.5 67.3 114.5 69.5 117.4 71.3 117.8 72.8 117.8 87.6 117.4 87.9 114.5 84.8 111.5 82.1 108.6 80.1 105.7 77.1 102.7 74.3 99.8 72.3 96.9 69.3 93.9 66.5 91 64.5 88.1 61.5 85.1 58.8 82.2 56.8 79.3 53.7 76.3 51 73.4 49 70.5 46 67.5 43.6 64.6 42.9 61.7 41.2 60 40.3 58.7 41 57.5 40.7 55.8 41 55.4 41.6 53.3 42.1 52.9 42.3 51.2 43.9 49.9 44.3 49.1 44.8 47 46.5 47 46 44.9 46.7 44.1 47.4 42.8 47.2 41.1 47.5 40.7 48.1 38.6 48.4 38.2 48.6 36.5 50.1 35.3 50.8 34.4 51.5 32.3 54.3 30.2 55.5 29.4 55.9 28.1 57 26.5 57 26.1 57 24 58.1 23.5 57.8 21.9 58.6 20.6 60.2 19.8 60.4 17.7 62.8 15.2 65.2 14.7 64.7 11.8 65.2 9.7 66.1 8.9 66.7 7.6 68.4 6.4 77.4 5.9 85.4Z" fill="#ff7f0e" fill-opacity="0.24" stroke="#ff7f0e" stroke-opacity="0.3" stroke-width="1.2" shape-rendering="crispEdges"/></svg><path d="M1375.5 921.9V1006.2M1433.5 921.9V1006.2M1463.5 921.9V1006.2" stroke="#bdbdbd" stroke-width="1"/><use href="#gr" transform="translate(1355.15,921.9)"/><svg x="1355.15" y="921.9" width="127.8" height="84.3" overflow="hidden"><path d="M5.6 84.3 6.4 68.8 7.6 60.4 9.7 57.6 15.2 56.6 17.7 54.8 19.8 52.3 21.9 50.5 24 49.5 26.1 49 28.1 48.4 30.2 47.4 32.3 45.6 34.4 43.4 36.5 41.5 38.6 40.2 40.7 39.4 42.8 39 44.9 38.6 47 37.8 49.1 36.6 51.2 35.2 53.3 33.9 55.4 32.9 57.5 32.4 60 32.1 119.1 84.3 123.6 88.5" fill="none" stroke="#fff" stroke-width="11.2" stroke-linejoin="round"/><path d="M5.6 84.3 6.4 68.8 7.6 60.4 9.7 57.6 15.2 56.6 17.7 54.8 19.8 52.3 21.9 50.5 24 49.5 26.1 49 28.1 48.4 30.2 47.4 32.3 45.6 34.4 43.4 36.5 41.5 38.6 40.2 40.7 39.4 42.8 39 44.9 38.6 47 37.8 49.1 36.6 51.2 35.2 53.3 33.9 55.4 32.9 57.5 32.4 60 32.1 119.1 84.3 123.6 88.5" fill="none" stroke="#000" stroke-width="9.6" stroke-linejoin="round" shape-rendering="crispEdges"/></svg><use href="#fr" transform="translate(1355.15,921.9)"/>
<svg x="1534.6" y="921.9" width="127.8" height="84.3" overflow="hidden"><path d="M5.9 67.8 6.4 58.6 7.6 51.6 8.9 49 9.7 47.4 11.8 48.4 14.7 46.9 15.2 46.3 17.7 45.9 19.8 42.6 20.6 41.4 21.9 41.7 23.5 39.8 24 39.1 26.1 39.9 26.5 38.8 28.1 38 29.4 39 30.2 37.8 32.3 36.1 34.4 35.8 35.3 33.9 36.5 32.3 38.2 32.3 38.6 30.9 40.7 29.3 41.1 30.5 42.8 28.8 44.1 28.1 44.9 29.3 47 27.9 47 27.5 49.1 28.4 49.9 27 51.2 26.2 52.9 26.7 53.3 25.3 55.4 23.8 55.8 24.9 57.5 22.8 58.7 22 59.6 23 61.7 21.7 62.5 21.5 64.6 24 67.5 24.4 70.5 25.9 73.4 29.7 76.3 31.1 79.3 33.5 82.2 37.4 85.1 38.8 88.1 41.3 91 45.2 93.9 46.6 96.9 49.1 99.8 53 102.7 54.4 105.7 56.8 108.6 60.7 111.5 62.1 114.5 64.6 117.4 68.5 120.3 69.9 120.3 69.8 120.3 88.8 120.3 88.7 117.4 85.5 114.5 83.6 111.5 80.9 108.6 77.7 105.7 75.8 102.7 73.2 99.8 70 96.9 68 93.9 65.4 91 62.2 88.1 60.3 85.1 57.6 82.2 54.4 79.3 52.5 76.3 49.8 73.4 46.7 70.5 45 67.5 44 64.6 42.5 62.5 42.5 61.7 42.4 59.6 41.9 58.7 43 57.5 43.4 55.8 43.8 55.4 44.7 53.3 45.8 52.9 45.5 51.2 47.1 49.9 47.4 49.1 47.2 47 48.4 47 48.2 44.9 48.1 44.1 48.9 42.8 49.1 41.1 49.2 40.7 50.1 38.6 51.2 38.2 51 36.5 53.1 35.3 54.1 34.4 54.4 32.3 56.8 30.2 57.8 29.4 57.6 28.1 58.7 26.5 58.8 26.1 58.4 24 59.7 23.5 59.7 21.9 60.1 20.6 62 19.8 62.4 17.7 64.3 15.2 66.8 14.7 66.6 11.8 66.7 9.7 67.8 8.9 68.6 7.6 69.9 6.4 79 5.9 87.3Z" fill="#1f77b4" fill-opacity="0.3" stroke="#1f77b4" stroke-opacity="0.4" stroke-width="1.4" shape-rendering="crispEdges"/><path d="M5.9 69.4 6.4 60.4 7.6 53.1 8.9 50.7 9.7 49.1 11.8 49.9 14.7 48.6 15.2 48.1 17.7 47.4 19.8 44.3 20.6 43.1 21.9 43.2 23.5 41.5 24 40.9 26.1 41.4 26.5 40.5 28.1 39.8 29.4 40.6 30.2 39.5 32.3 37.9 34.4 37.3 35.3 35.7 36.5 34.1 38.2 33.9 38.6 32.7 40.7 31.1 41.1 32.1 42.8 30.5 44.1 29.9 44.9 30.9 47 29.6 47 29.3 49.1 30 49.9 28.7 51.2 28 52.9 28.2 53.3 27.1 55.4 25.6 55.8 26.5 57.5 24.6 58.7 23.8 59.6 24.6 61.7 23.5 62.5 23.3 64.6 25.6 67.5 26.4 70.5 28 73.4 31.6 76.3 33.2 79.3 35.6 82.2 39.3 85.1 40.9 88.1 43.4 91 47.1 93.9 48.7 96.9 51.2 99.8 54.9 102.7 56.5 105.7 59 108.6 62.6 111.5 64.2 114.5 66.7 117.4 70.4 120.3 72 120.3 71.9 120.3 88.1 120.3 88.1 117.4 84.9 114.5 82.9 111.5 80.3 108.6 77.2 105.7 75.1 102.7 72.5 99.8 69.4 96.9 67.4 93.9 64.7 91 61.6 88.1 59.6 85.1 56.9 82.2 53.9 79.3 51.8 76.3 49.2 73.4 46.1 70.5 44.3 67.5 42.9 64.6 41.1 62.5 40.7 61.7 40.7 59.6 40.3 58.7 41.2 57.5 41.7 55.8 42.1 55.4 43 53.3 44.1 52.9 43.9 51.2 45.3 49.9 45.7 49.1 45.6 47 46.6 47 46.5 44.9 46.4 44.1 47.2 42.8 47.3 41.1 47.6 40.7 48.3 38.6 49.5 38.2 49.4 36.5 51.3 35.3 52.4 34.4 52.8 32.3 55.1 30.2 56.1 29.4 55.9 28.1 56.9 26.5 57.1 26.1 56.8 24 58 23.5 58 21.9 58.5 20.6 60.2 19.8 60.8 17.7 62.7 15.2 65.1 14.7 65 11.8 65.1 9.7 66.1 8.9 67 7.6 68.3 6.4 77.3 5.9 85.6Z" fill="#ff7f0e" fill-opacity="0.24" stroke="#ff7f0e" stroke-opacity="0.3" stroke-width="1.2" shape-rendering="crispEdges"/></svg><path d="M1554.5 921.9V1006.2M1583.5 921.9V1006.2M1613.5 921.9V1006.2M1627.5 921.9V1006.2" stroke="#bdbdbd" stroke-width="1"/><use href="#gr" transform="translate(1534.6,921.9)"/><svg x="1534.6" y="921.9" width="127.8" height="84.3" overflow="hidden"><path d="M5.6 84.3 6.4 68.8 7.6 60.4 9.7 57.6 15.2 56.6 17.7 54.8 19.8 52.5 21.9 50.6 24 49.4 26.1 48.8 28.1 48.4 30.2 47.7 32.3 46.6 34.4 44.8 36.5 42.8 38.6 41.1 40.7 39.8 42.8 38.9 44.9 38.4 47 38.1 49.1 37.6 51.2 36.8 53.3 35.6 55.4 34.4 57.5 33.2 59.6 32.3 62.5 32.1 121.6 84.3 126.1 88.5" fill="none" stroke="#fff" stroke-width="11.2" stroke-linejoin="round"/><path d="M5.6 84.3 6.4 68.8 7.6 60.4 9.7 57.6 15.2 56.6 17.7 54.8 19.8 52.5 21.9 50.6 24 49.4 26.1 48.8 28.1 48.4 30.2 47.7 32.3 46.6 34.4 44.8 36.5 42.8 38.6 41.1 40.7 39.8 42.8 38.9 44.9 38.4 47 38.1 49.1 37.6 51.2 36.8 53.3 35.6 55.4 34.4 57.5 33.2 59.6 32.3 62.5 32.1 121.6 84.3 126.1 88.5" fill="none" stroke="#000" stroke-width="9.6" stroke-linejoin="round" shape-rendering="crispEdges"/></svg><use href="#fr" transform="translate(1534.6,921.9)"/>
<svg x="1714.05" y="921.9" width="127.8" height="84.3" overflow="hidden"><path d="M5.9 67.2 6.4 59.1 7.6 51.6 8.9 48.5 9.7 47.8 11.8 48.4 14.7 46.4 15.2 46.8 17.7 45.9 19.8 42 20.6 41.7 21.9 41.3 23.5 38.7 24 38.9 26.1 38.9 26.5 37.3 28.1 37.3 29.4 37.8 30.2 36 32.3 35.6 34.4 35 35.3 32.8 36.5 32.2 38.2 31.7 38.6 29.9 40.7 28.9 41.1 29.4 42.8 26.9 44.1 26.9 44.9 27.3 47 25.2 47 25.8 49.1 26.1 49.9 24.5 51.2 24.9 52.9 25.1 53.3 23.5 55.4 23.4 55.8 23.9 57.9 21.3 58.7 22.5 61.7 24.9 64.6 25.1 67.5 28 70.5 31.3 73.4 32.5 76.3 36 79.3 39.3 82.2 40.5 85.1 44 88.1 47.3 91 48.5 93.9 52 96.9 55.3 99.8 56.5 102.7 60 105.7 63.3 108.6 64.5 111.5 68 114 70.9 114 88.2 111.5 86.2 108.6 83.9 105.7 80.5 102.7 78.2 99.8 75.9 96.9 72.5 93.9 70.2 91 67.9 88.1 64.5 85.1 62.2 82.2 59.9 79.3 56.5 76.3 54.2 73.4 51.9 70.5 48.5 67.5 46.2 64.6 44.9 61.7 43.2 58.7 42.5 57.9 42.6 55.8 43 55.4 43.6 53.3 44.8 52.9 44.1 51.2 45 49.9 45.6 49.1 45.1 47 46 47 46.3 44.9 46.2 44.1 47 42.8 47.9 41.1 48.3 40.7 49 38.6 50.9 38.2 50.5 36.5 52.2 35.3 53.7 34.4 53.7 32.3 55.5 30.2 56.8 29.4 56.4 28.1 57.2 26.5 58 26.1 57.4 24 58.8 23.5 59.4 21.9 59.8 20.6 61.5 19.8 62.6 17.7 64.3 15.2 66.6 14.7 66.9 11.8 66.7 9.7 67.5 8.9 68.9 7.6 69.9 6.4 78.8 5.9 87.6Z" fill="#1f77b4" fill-opacity="0.3" stroke="#1f77b4" stroke-opacity="0.4" stroke-width="1.4" shape-rendering="crispEdges"/><path d="M5.9 69 6.4 60.8 7.6 53.1 8.9 50.3 9.7 49.5 11.8 49.9 14.7 48.2 15.2 48.5 17.7 47.4 19.8 43.7 20.6 43.4 21.9 42.9 23.5 40.5 24 40.6 26.1 40.4 26.5 39.1 28.1 39 29.4 39.3 30.2 37.8 32.3 37.3 34.4 36.5 35.3 34.6 36.5 33.9 38.2 33.3 38.6 31.7 40.7 30.6 41.1 31 42.8 28.7 44.1 28.6 44.9 28.9 47 27 47 27.5 49.1 27.7 49.9 26.3 51.2 26.6 52.9 26.7 53.3 25.3 55.4 25.1 55.8 25.5 57.9 23.1 58.7 24.2 61.7 26.6 64.6 27.2 67.5 30 70.5 33.3 73.4 34.7 76.3 38 79.3 41.3 82.2 42.7 85.1 46 88.1 49.2 91 50.7 93.9 54.1 96.9 57.2 99.8 58.7 102.7 62.1 105.7 65.2 108.6 66.7 111.5 70.1 114 72.8 114 87.6 111.5 85.5 108.6 83.2 105.7 80 102.7 77.5 99.8 75.2 96.9 72 93.9 69.5 91 67.2 88.1 64 85.1 61.6 82.2 59.2 79.3 55.9 76.3 53.6 73.4 51.2 70.5 47.9 67.5 45.6 64.6 44 61.7 42 58.7 40.9 57.9 40.8 55.8 41.4 55.4 41.9 53.3 43 52.9 42.5 51.2 43.3 49.9 43.9 49.1 43.5 47 44.2 47 44.5 44.9 44.6 44.1 45.3 42.8 46.2 41.1 46.6 40.7 47.2 38.6 49.1 38.2 48.8 36.5 50.5 35.3 51.9 34.4 52 32.3 53.8 30.2 55.1 29.4 54.7 28.1 55.5 26.5 56.3 26.1 55.8 24 57.1 23.5 57.6 21.9 58.2 20.6 59.8 19.8 60.8 17.7 62.7 15.2 64.9 14.7 65.2 11.8 65.1 9.7 65.9 8.9 67.2 7.6 68.3 6.4 77.1 5.9 85.9Z" fill="#ff7f0e" fill-opacity="0.24" stroke="#ff7f0e" stroke-opacity="0.3" stroke-width="1.2" shape-rendering="crispEdges"/></svg><path d="M1734.5 921.9V1006.2M1748.5 921.9V1006.2M1807.5 921.9V1006.2M1822.5 921.9V1006.2" stroke="#bdbdbd" stroke-width="1"/><use href="#gr" transform="translate(1714.05,921.9)"/><svg x="1714.05" y="921.9" width="127.8" height="84.3" overflow="hidden"><path d="M5.6 84.3 6.4 68.8 7.6 60.4 9.7 57.6 15.2 56.6 17.7 54.8 19.8 52.3 21.9 50.3 24 48.8 26.1 47.9 28.1 47.2 30.2 46.5 32.3 45.5 34.4 44.1 36.5 42.2 38.6 40.5 40.7 38.9 42.8 37.5 44.9 36.5 47 35.9 49.1 35.4 51.2 34.9 53.3 34.3 55.4 33.5 57.9 32.1 115.3 84.3 119.7 88.5" fill="none" stroke="#fff" stroke-width="11.2" stroke-linejoin="round"/><path d="M5.6 84.3 6.4 68.8 7.6 60.4 9.7 57.6 15.2 56.6 17.7 54.8 19.8 52.3 21.9 50.3 24 48.8 26.1 47.9 28.1 47.2 30.2 46.5 32.3 45.5 34.4 44.1 36.5 42.2 38.6 40.5 40.7 38.9 42.8 37.5 44.9 36.5 47 35.9 49.1 35.4 51.2 34.9 53.3 34.3 55.4 33.5 57.9 32.1 115.3 84.3 119.7 88.5" fill="none" stroke="#000" stroke-width="9.6" stroke-linejoin="round" shape-rendering="crispEdges"/></svg><use href="#fr" transform="translate(1714.05,921.9)"/>
<svg x="1893.5" y="921.9" width="127.8" height="84.3" overflow="hidden"><path d="M5.9 67 6.4 59.7 7.6 51.3 8.9 48.3 9.7 48.4 11.8 48 14.7 46.2 15.2 47.4 17.7 45.5 19.8 42 20.6 42.5 21.9 41.3 23.5 38.9 24 39.9 26.1 38.9 26.5 37.5 28.1 38.4 29.4 38 30.2 36.5 32.3 37.2 34.4 36.1 35.3 34.3 36.5 34.8 38.2 33.3 38.6 31.7 40.7 31.5 41.1 31 42.8 28.6 44.1 29.2 44.9 28.5 47 26.3 47 27.7 49.1 26.8 49.9 25.5 51.2 26.6 52.9 26 53.3 24.8 55.4 25.7 55.8 25.3 57.5 23.7 58.7 24.6 59.6 24 61.7 22 61.7 23.3 63.3 22.3 64.6 21.9 67.5 25 70.5 26.4 73.4 27.7 76.3 31.8 79.3 34.1 82.2 35.8 85.1 39.9 88.1 42.2 91 43.9 93.9 48 96.9 50.3 99.8 52 102.7 56.1 105.7 58.4 108.6 60.1 111.5 64.3 114.5 66.5 117.4 68.3 118.6 70.8 118.6 88.2 117.4 87.7 114.5 84.5 111.5 81.6 108.6 79.6 105.7 76.4 102.7 73.5 99.8 71.5 96.9 68.3 93.9 65.4 91 63.4 88.1 60.2 85.1 57.3 82.2 55.3 79.3 52 76.3 49.2 73.4 47.1 70.5 44.6 67.5 43.4 64.6 43.1 63.3 42.1 61.7 42.7 61.7 43.4 59.6 43.8 58.7 43.9 57.5 45.1 55.8 45 55.4 45 53.3 46.1 52.9 45.6 51.2 45.8 49.9 46.8 49.1 46.4 47 46.9 47 47.6 44.9 48 44.1 48.4 42.8 49.8 41.1 50.4 40.7 50.6 38.6 52.9 38.2 52.6 36.5 53.9 35.3 55.4 34.4 55.4 32.3 56.3 30.2 57.6 29.4 57.1 28.1 57.4 26.5 58.5 26.1 58 24 58.9 23.5 59.8 21.9 60.4 20.6 61.5 19.8 62.9 17.7 64.5 15.2 66.3 14.7 67 11.8 66.9 9.7 67.3 8.9 69 7.6 70 6.4 78.5 5.9 87.7Z" fill="#1f77b4" fill-opacity="0.3" stroke="#1f77b4" stroke-opacity="0.4" stroke-width="1.4" shape-rendering="crispEdges"/><path d="M5.9 68.8 6.4 61.3 7.6 52.8 8.9 50.1 9.7 50 11.8 49.6 14.7 48 15.2 49 17.7 47.1 19.8 43.8 20.6 44.1 21.9 42.9 23.5 40.7 24 41.5 26.1 40.5 26.5 39.3 28.1 39.9 29.4 39.6 30.2 38.4 32.3 38.8 34.4 37.7 35.3 36.1 36.5 36.4 38.2 34.9 38.6 33.5 40.7 33.1 41.1 32.6 42.8 30.4 44.1 30.8 44.9 30.1 47 28.2 47 29.3 49.1 28.4 49.9 27.3 51.2 28.2 52.9 27.7 53.3 26.6 55.4 27.3 55.8 27 57.5 25.5 58.7 26.2 59.6 25.6 61.7 23.8 61.7 25 63.3 23.9 64.6 23.8 67.5 26.8 70.5 28.4 73.4 29.8 76.3 33.7 79.3 36.1 82.2 38 85.1 41.8 88.1 44.2 91 46.1 93.9 50 96.9 52.3 99.8 54.2 102.7 58.1 105.7 60.4 108.6 62.3 111.5 66.2 114.5 68.5 117.4 70.4 118.6 72.8 118.6 87.6 117.4 87 114.5 83.9 111.5 81 108.6 78.9 105.7 75.8 102.7 72.9 99.8 70.8 96.9 67.7 93.9 64.8 91 62.7 88.1 59.5 85.1 56.7 82.2 54.6 79.3 51.4 76.3 48.6 73.4 46.4 70.5 43.8 67.5 42.3 64.6 41.5 63.3 40.4 61.7 41 61.7 41.6 59.6 42.1 58.7 42.3 57.5 43.3 55.8 43.3 55.4 43.4 53.3 44.4 52.9 44 51.2 44.2 49.9 45 49.1 44.7 47 45.3 47 45.8 44.9 46.3 44.1 46.7 42.8 48 41.1 48.7 40.7 49 38.6 51.1 38.2 50.9 36.5 52.3 35.3 53.6 34.4 53.7 32.3 54.6 30.2 55.8 29.4 55.5 28.1 55.7 26.5 56.7 26.1 56.4 24 57.3 23.5 58.1 21.9 58.7 20.6 59.8 19.8 61.1 17.7 62.8 15.2 64.6 14.7 65.2 11.8 65.2 9.7 65.6 8.9 67.3 7.6 68.4 6.4 76.8 5.9 85.9Z" fill="#ff7f0e" fill-opacity="0.24" stroke="#ff7f0e" stroke-opacity="0.3" stroke-width="1.2" shape-rendering="crispEdges"/></svg><path d="M1928.5 921.9V1006.2M1942.5 921.9V1006.2M1972.5 921.9V1006.2M1986.5 921.9V1006.2" stroke="#bdbdbd" stroke-width="1"/><use href="#gr" transform="translate(1893.5,921.9)"/><svg x="1893.5" y="921.9" width="127.8" height="84.3" overflow="hidden"><path d="M5.6 84.3 6.4 68.8 7.6 60.4 9.7 57.6 15.2 56.6 17.7 54.8 19.8 52.6 21.9 50.6 24 49.2 26.1 48.3 28.1 47.7 30.2 47.2 32.3 46.5 34.4 45.6 36.5 44.2 38.6 42.4 40.7 40.9 42.8 39.4 44.9 38.1 47 37.1 49.1 36.5 51.2 36 53.3 35.7 55.4 35.2 57.5 34.6 59.6 33.8 61.7 32.9 63.3 32.1 119.9 84.3 124.3 88.5" fill="none" stroke="#fff" stroke-width="11.2" stroke-linejoin="round"/><path d="M5.6 84.3 6.4 68.8 7.6 60.4 9.7 57.6 15.2 56.6 17.7 54.8 19.8 52.6 21.9 50.6 24 49.2 26.1 48.3 28.1 47.7 30.2 47.2 32.3 46.5 34.4 45.6 36.5 44.2 38.6 42.4 40.7 40.9 42.8 39.4 44.9 38.1 47 37.1 49.1 36.5 51.2 36 53.3 35.7 55.4 35.2 57.5 34.6 59.6 33.8 61.7 32.9 63.3 32.1 119.9 84.3 124.3 88.5" fill="none" stroke="#000" stroke-width="9.6" stroke-linejoin="round" shape-rendering="crispEdges"/></svg><use href="#fr" transform="translate(1893.5,921.9)"/>
<svg x="2072.95" y="921.9" width="127.8" height="84.3" overflow="hidden"><path d="M5.9 67.2 6.4 60.1 7.6 50.7 8.9 48.5 9.7 48.8 11.8 47.5 14.7 46.4 15.2 47.8 17.7 45 19.8 42.4 20.6 43.1 21.9 41 23.5 39.4 24 40.6 26.1 38.6 26.5 38.1 28.1 39 29.4 37.7 30.2 37.2 32.3 38.1 34.4 36.5 35.3 35.7 36.5 36.5 38.2 34.4 38.6 33.7 40.7 33.5 41.1 32.1 42.8 30.6 44.1 31.1 44.9 29.5 47 28 47 29.4 49.1 27.3 49.9 26.7 51.2 27.7 52.9 26.2 53.3 25.9 55.4 26.9 55.8 25.7 57.5 25.2 58.7 26.3 59.6 25 61.7 24.1 61.7 25.5 63.8 23.5 64.6 23 65.9 23.8 67.5 22 68.4 21.5 70.5 24.1 73.4 24.8 76.3 26.5 79.3 30.5 82.2 32.1 85.1 34.8 88.1 38.9 91 40.5 93.9 43.2 96.9 47.3 99.8 48.9 102.7 51.7 105.7 55.8 108.6 57.3 111.5 60.1 114.5 64.2 117.4 65.7 120.3 68.5 121.6 71 121.6 88 120.3 87.4 117.4 84.6 114.5 81.2 111.5 79 108.6 76.2 105.7 72.8 102.7 70.6 99.8 67.8 96.9 64.3 93.9 62.2 91 59.3 88.1 55.9 85.1 53.8 82.2 50.9 79.3 47.5 76.3 45.6 73.4 44.4 70.5 42.6 68.4 42.5 67.5 42.7 65.9 42.7 64.6 43.9 63.8 44.2 61.7 44.4 61.7 45.1 59.6 45.5 58.7 45.1 57.5 46.1 55.8 46.2 55.4 45.7 53.3 46.7 52.9 46.7 51.2 46.5 49.9 47.6 49.1 47.7 47 48.1 47 48.8 44.9 49.8 44.1 49.8 42.8 51.3 41.1 52.3 40.7 52.1 38.6 54.4 38.2 54.5 36.5 55.1 35.3 56.4 34.4 56.6 32.3 56.7 30.2 57.8 29.4 57.8 28.1 57.5 26.5 58.7 26.1 58.6 24 59 23.5 60 21.9 60.9 20.6 61.5 19.8 62.9 17.7 64.8 15.2 66.1 14.7 66.9 11.8 67.2 9.7 67.1 8.9 68.9 7.6 70.3 6.4 78.3 5.9 87.6Z" fill="#1f77b4" fill-opacity="0.3" stroke="#1f77b4" stroke-opacity="0.4" stroke-width="1.4" shape-rendering="crispEdges"/><path d="M5.9 69 6.4 61.6 7.6 52.4 8.9 50.2 9.7 50.3 11.8 49.1 14.7 48.2 15.2 49.3 17.7 46.7 19.8 44.2 20.6 44.6 21.9 42.7 23.5 41.2 24 42.1 26.1 40.3 26.5 39.8 28.1 40.5 29.4 39.4 30.2 38.9 32.3 39.7 34.4 38.2 35.3 37.4 36.5 38 38.2 36.1 38.6 35.5 40.7 35 41.1 33.8 42.8 32.3 44.1 32.7 44.9 31.2 47 29.7 47 30.9 49.1 29 49.9 28.5 51.2 29.3 52.9 28 53.3 27.7 55.4 28.5 55.8 27.5 57.5 27 58.7 27.8 59.6 26.7 61.7 25.9 61.7 27 63.8 25.3 64.6 24.8 65.9 25.3 67.5 23.8 68.4 23.3 70.5 25.8 73.4 26.8 76.3 28.6 79.3 32.4 82.2 34.2 85.1 36.9 88.1 40.8 91 42.6 93.9 45.3 96.9 49.2 99.8 51 102.7 53.8 105.7 57.7 108.6 59.4 111.5 62.2 114.5 66.1 117.4 67.9 120.3 70.7 121.6 72.9 121.6 87.4 120.3 86.8 117.4 83.9 114.5 80.6 111.5 78.3 108.6 75.5 105.7 72.2 102.7 69.9 99.8 67.1 96.9 63.8 93.9 61.5 91 58.6 88.1 55.3 85.1 53.1 82.2 50.2 79.3 46.9 76.3 44.8 73.4 43.3 70.5 41.3 68.4 40.7 67.5 41 65.9 41.1 64.6 42.2 63.8 42.4 61.7 42.7 61.7 43.3 59.6 43.8 58.7 43.5 57.5 44.3 55.8 44.5 55.4 44.1 53.3 45 52.9 45 51.2 44.8 49.9 45.8 49.1 46 47 46.4 47 47 44.9 48.1 44.1 48.2 42.8 49.6 41.1 50.6 40.7 50.5 38.6 52.7 38.2 52.8 36.5 53.4 35.3 54.6 34.4 54.8 32.3 55.1 30.2 56.1 29.4 56.1 28.1 55.9 26.5 56.9 26.1 56.9 24 57.4 23.5 58.3 21.9 59.2 20.6 59.9 19.8 61.2 17.7 63.1 15.2 64.5 14.7 65.2 11.8 65.5 9.7 65.5 8.9 67.2 7.6 68.6 6.4 76.7 5.9 85.9Z" fill="#ff7f0e" fill-opacity="0.24" stroke="#ff7f0e" stroke-opacity="0.3" stroke-width="1.2" shape-rendering="crispEdges"/></svg><path d="M2092.5 921.9V1006.2M2122.5 921.9V1006.2M2166.5 921.9V1006.2M2180.5 921.9V1006.2" stroke="#bdbdbd" stroke-width="1"/><use href="#gr" transform="translate(2072.95,921.9)"/><svg x="2072.95" y="921.9" width="127.8" height="84.3" overflow="hidden"><path d="M5.6 84.3 6.4 68.8 7.6 60.4 9.7 57.6 15.2 56.6 17.7 54.8 19.8 52.7 21.9 50.9 24 49.5 26.1 48.6 28.1 48 30.2 47.6 32.3 47.1 34.4 46.5 36.5 45.5 38.6 44.2 40.7 42.5 42.8 41 44.9 39.7 47 38.5 49.1 37.5 51.2 36.8 53.3 36.4 55.4 36.1 57.5 35.8 59.6 35.3 61.7 34.7 63.8 33.9 65.9 33 68.4 32.1 122.8 84.3 127.1 88.5" fill="none" stroke="#fff" stroke-width="11.2" stroke-linejoin="round"/><path d="M5.6 84.3 6.4 68.8 7.6 60.4 9.7 57.6 15.2 56.6 17.7 54.8 19.8 52.7 21.9 50.9 24 49.5 26.1 48.6 28.1 48 30.2 47.6 32.3 47.1 34.4 46.5 36.5 45.5 38.6 44.2 40.7 42.5 42.8 41 44.9 39.7 47 38.5 49.1 37.5 51.2 36.8 53.3 36.4 55.4 36.1 57.5 35.8 59.6 35.3 61.7 34.7 63.8 33.9 65.9 33 68.4 32.1 122.8 84.3 127.1 88.5" fill="none" stroke="#000" stroke-width="9.6" stroke-linejoin="round" shape-rendering="crispEdges"/></svg><use href="#fr" transform="translate(2072.95,921.9)"/>
<text transform="translate(2220.5,962.55) rotate(90)" font-size="53.33" text-anchor="middle">0.07</text>
<svg x="278.45" y="1039.8" width="127.8" height="84.3" overflow="hidden"><path d="M5.9 67.6 6.4 60.1 7.6 50.3 8.9 48.9 9.7 48.8 11.4 46 11.8 46 14.7 44.8 16 42.4 17.7 43.9 20.2 46.6 20.6 44.7 23.5 41.5 26.1 39.5 26.5 37.8 28.1 37.1 29.4 37.2 30.2 35.2 32.3 34.3 34.4 33.9 35.3 32 36.5 31.7 38.2 31.8 38.6 30.1 40.7 29.5 41.1 30.3 42.8 28 44.1 27.9 44.9 28.5 47 26 47 26.6 49.1 26.5 49.9 24.7 51.2 24.7 52.9 24.9 53.3 23.3 55.4 23.1 55.8 23.8 57.5 21.8 58.7 22 59.2 22.8 61.7 22.8 64.6 25.1 67.5 27.6 70.5 28.8 73.4 32.1 76.3 35.6 79.3 36.8 82.2 40.1 85.1 43.6 88.1 44.8 91 48.1 93.9 51.6 96.9 52.8 99.8 56.1 102.7 59.5 105.7 60.7 108.6 64.1 111.5 67.5 114.5 68.7 115.3 70.2 115.3 88.5 114.5 88.1 111.5 84.7 108.6 82.4 105.7 80.1 102.7 76.7 99.8 74.4 96.9 72.1 93.9 68.7 91 66.4 88.1 64.1 85.1 60.7 82.2 58.4 79.3 56.1 76.3 52.7 73.4 50.4 70.5 48.1 67.5 44.7 64.6 44.1 61.7 43.4 59.2 41.9 58.7 42.4 57.5 43 55.8 42.8 55.4 43.4 53.3 44.4 52.9 43.9 51.2 45 49.9 45.8 49.1 45.4 47 46.8 47 47.1 44.9 47.3 44.1 48.1 42.8 49 41.1 49.1 40.7 49.7 38.6 51 38.2 50.5 36.5 51.8 35.3 52.8 34.4 52.5 32.3 54.4 30.2 55.9 29.4 55.8 28.1 57.1 26.5 58.4 26.1 58 23.5 61.5 20.6 65.2 20.2 65 17.7 63.8 16 62.9 14.7 63.1 11.8 65.9 11.4 66.4 9.7 67.1 8.9 68.7 7.6 70.5 6.4 78.3 5.9 87.4Z" fill="#1f77b4" fill-opacity="0.3" stroke="#1f77b4" stroke-opacity="0.4" stroke-width="1.4" shape-rendering="crispEdges"/><path d="M5.9 69.3 6.4 61.6 7.6 52 8.9 50.6 9.7 50.3 11.4 47.8 11.8 47.7 14.7 46.3 16 44.2 17.7 45.6 20.2 48.1 20.6 46.4 23.5 43.2 26.1 41 26.5 39.6 28.1 38.8 29.4 38.8 30.2 37 32.3 36 34.4 35.4 35.3 33.7 36.5 33.4 38.2 33.3 38.6 31.9 40.7 31.3 41.1 31.8 42.8 29.8 44.1 29.6 44.9 30 47 27.8 47 28.3 49.1 28.1 49.9 26.5 51.2 26.4 52.9 26.5 53.3 25.1 55.4 24.8 55.8 25.4 57.5 23.6 58.7 23.7 59.2 24.4 61.7 24.7 64.6 27 67.5 29.5 70.5 30.9 73.4 34.1 76.3 37.5 79.3 38.9 82.2 42.1 85.1 45.5 88.1 46.9 91 50.2 93.9 53.5 96.9 54.9 99.8 58.2 102.7 61.5 105.7 62.9 108.6 66.2 111.5 69.5 114.5 70.9 115.3 72.3 115.3 87.9 114.5 87.4 111.5 84.1 108.6 81.8 105.7 79.4 102.7 76.1 99.8 73.8 96.9 71.4 93.9 68.1 91 65.8 88.1 63.4 85.1 60.1 82.2 57.8 79.3 55.4 76.3 52.1 73.4 49.8 70.5 47.4 67.5 44.1 64.6 43.1 61.7 42 59.2 40.2 58.7 40.7 57.5 41.2 55.8 41.2 55.4 41.7 53.3 42.7 52.9 42.2 51.2 43.3 49.9 44 49.1 43.8 47 45.1 47 45.3 44.9 45.6 44.1 46.4 42.8 47.2 41.1 47.4 40.7 48 38.6 49.2 38.2 48.9 36.5 50.1 35.3 51 34.4 50.9 32.3 52.7 30.2 54.2 29.4 54.2 28.1 55.4 26.5 56.7 26.1 56.4 23.5 59.8 20.6 63.5 20.2 63.4 17.7 62.1 16 61.1 14.7 61.5 11.8 64.2 11.4 64.6 9.7 65.4 8.9 67 7.6 68.8 6.4 76.7 5.9 85.7Z" fill="#ff7f0e" fill-opacity="0.24" stroke="#ff7f0e" stroke-opacity="0.3" stroke-width="1.2" shape-rendering="crispEdges"/></svg><path d="M298.5 1039.8V1124.1M313.5 1039.8V1124.1M357.5 1039.8V1124.1M386.5 1039.8V1124.1" stroke="#bdbdbd" stroke-width="1"/><use href="#gr" transform="translate(278.45,1039.8)"/><svg x="278.45" y="1039.8" width="127.8" height="84.3" overflow="hidden"><path d="M5.6 84.3 6.4 68.8 7.6 60.4 9.7 57.6 11.4 56.2 16 52.7 20.2 55.5 26.1 48.5 28.1 47.1 30.2 45.7 32.3 44.3 34.4 43 36.5 41.7 38.6 40.7 40.7 39.6 42.8 38.6 44.9 37.6 47 36.7 49.1 35.7 51.2 34.9 53.3 34 55.4 33.2 57.5 32.5 59.2 32.1 116.6 84.3 121 88.5" fill="none" stroke="#fff" stroke-width="11.2" stroke-linejoin="round"/><path d="M5.6 84.3 6.4 68.8 7.6 60.4 9.7 57.6 11.4 56.2 16 52.7 20.2 55.5 26.1 48.5 28.1 47.1 30.2 45.7 32.3 44.3 34.4 43 36.5 41.7 38.6 40.7 40.7 39.6 42.8 38.6 44.9 37.6 47 36.7 49.1 35.7 51.2 34.9 53.3 34 55.4 33.2 57.5 32.5 59.2 32.1 116.6 84.3 121 88.5" fill="none" stroke="#000" stroke-width="9.6" stroke-linejoin="round" shape-rendering="crispEdges"/></svg><use href="#fr" transform="translate(278.45,1039.8)"/>
<text x="241.45" y="1139.7" font-size="44.44" text-anchor="end">0</text>
<text x="241.45" y="1097.55" font-size="44.44" text-anchor="end">3</text>
<text x="241.45" y="1055.4" font-size="44.44" text-anchor="end">6</text>
<svg x="457.9" y="1039.8" width="127.8" height="84.3" overflow="hidden"><path d="M5.9 70 6.4 61.6 7.6 51.9 8.9 51.3 9.7 50.4 11.4 47.6 11.8 48.5 14.7 46.4 16 44.1 17.7 46.4 20.2 48.3 20.6 46.4 23.5 44.1 26.1 41.2 26.5 39.6 28.1 39.6 29.4 38.8 30.2 36.9 32.3 36.6 34.4 35.2 35.3 33.5 36.5 34 38.2 33.1 38.6 31.6 40.7 31.7 41.1 31.5 42.8 29.4 44.1 30 44.9 29.6 47 27.3 47 28.6 49.1 27.6 49.9 26 51.2 26.8 52.9 26 53.3 24.6 55.8 25.1 56.6 24.8 58.7 25.4 61.7 29.4 64.6 31.9 67.5 33.3 70.5 37.3 73.4 39.8 76.3 41.2 79.3 45.2 82.2 47.6 85.1 49.1 88.1 53.1 91 55.5 93.9 57 96.9 60.9 99.8 63.4 102.7 64.9 105.7 68.8 108.6 71.2 111.5 72.7 113.6 76 113.6 90.6 111.5 89.4 108.6 86.2 105.7 83.5 102.7 81.6 99.8 78.4 96.9 75.6 93.9 73.7 91 70.5 88.1 67.7 85.1 65.8 82.2 62.6 79.3 59.9 76.3 57.9 73.4 54.7 70.5 52 67.5 50 64.6 46.8 61.7 44.1 58.7 42.1 56.6 39.7 55.8 39.9 53.3 43.7 52.9 43.7 51.2 46.2 49.9 48.8 49.1 49.5 47 52.8 47 53.4 44.9 56.1 44.1 57.5 42.8 60.2 41.1 61.5 40.7 62 38.6 65.2 38.2 65 36.5 67.1 35.3 69.3 34.4 69.7 32.3 72.6 30.2 76.1 29.4 75.3 28.1 75.2 26.5 75.6 26.1 74.9 23.5 75.9 20.6 76.7 20.2 75.9 17.7 70.5 16 67.4 14.7 65.8 11.8 65 11.4 65.6 9.7 65.1 8.9 66.3 7.6 68.6 6.4 76.3 5.9 85Z" fill="#1f77b4" fill-opacity="0.3" stroke="#1f77b4" stroke-opacity="0.4" stroke-width="1.4" shape-rendering="crispEdges"/><path d="M5.9 70.9 6.4 62.5 7.6 52.9 8.9 52.2 9.7 51.2 11.4 48.7 11.8 49.4 14.7 47.3 16 45.2 17.7 47.3 20.2 49.1 20.6 47.5 23.5 45 26.1 42.1 26.5 40.7 28.1 40.5 29.4 39.6 30.2 37.9 32.3 37.5 34.4 36.1 35.3 34.5 36.5 34.8 38.2 33.9 38.6 32.7 40.7 32.6 41.1 32.4 42.8 30.5 44.1 30.9 44.9 30.5 47 28.4 47 29.5 49.1 28.5 49.9 27.1 51.2 27.6 52.9 26.9 53.3 25.7 55.8 26 56.6 25.6 58.7 26.5 61.7 28.6 64.6 27.9 67.5 26.2 70.5 28.2 73.4 29.3 76.3 29.5 79.3 31.8 82.2 33.6 85.1 35.2 88.1 38.9 91 41.4 93.9 43 96.9 46.7 99.8 49.1 102.7 50.8 105.7 54.5 108.6 56.9 111.5 58.5 113.6 61.5 113.6 89.7 111.5 88.4 108.6 85.3 105.7 82.6 102.7 80.6 99.8 77.5 96.9 74.7 93.9 72.7 91 69.6 88.1 66.9 85.1 64.8 82.2 61.7 79.3 59 76.3 56.9 73.4 53.8 70.5 51.1 67.5 49 64.6 45.9 61.7 43.2 58.7 41.1 56.6 38.8 55.8 39 53.3 40.3 52.9 40 51.2 40.6 49.9 41.7 49.1 41.6 47 42.5 47 43.1 44.9 43.5 44.1 44 42.8 45.1 41.1 45.5 40.7 45.7 38.6 47.3 38.2 47 36.5 47.9 35.3 49.2 34.4 49.1 32.3 50.6 30.2 52.6 29.4 52.9 28.1 54.2 26.5 56.4 26.1 56.3 23.5 60.1 20.6 64.4 20.2 64.3 17.7 62.3 16 61.4 14.7 61.7 11.8 62.8 11.4 63.3 9.7 64.2 8.9 65.4 7.6 67.6 6.4 75.4 5.9 84.1Z" fill="#ff7f0e" fill-opacity="0.24" stroke="#ff7f0e" stroke-opacity="0.3" stroke-width="1.2" shape-rendering="crispEdges"/></svg><path d="M492.5 1039.8V1124.1M507.5 1039.8V1124.1M536.5 1039.8V1124.1M551.5 1039.8V1124.1" stroke="#bdbdbd" stroke-width="1"/><use href="#gr" transform="translate(457.9,1039.8)"/><svg x="457.9" y="1039.8" width="127.8" height="84.3" overflow="hidden"><path d="M5.6 84.3 6.4 68.8 7.6 60.4 9.7 57.6 11.4 56.2 16 52.7 20.2 55.5 26.1 48.5 28.1 46.9 30.2 45.4 32.3 44 34.4 42.5 36.5 41.3 38.6 40.2 40.7 39 42.8 38 44.9 36.9 47 35.9 49.1 34.9 51.2 34 53.3 33.2 56.6 32.1 114.9 84.3 119.4 88.5" fill="none" stroke="#fff" stroke-width="11.2" stroke-linejoin="round"/><path d="M5.6 84.3 6.4 68.8 7.6 60.4 9.7 57.6 11.4 56.2 16 52.7 20.2 55.5 26.1 48.5 28.1 46.9 30.2 45.4 32.3 44 34.4 42.5 36.5 41.3 38.6 40.2 40.7 39 42.8 38 44.9 36.9 47 35.9 49.1 34.9 51.2 34 53.3 33.2 56.6 32.1 114.9 84.3 119.4 88.5" fill="none" stroke="#000" stroke-width="9.6" stroke-linejoin="round" shape-rendering="crispEdges"/></svg><use href="#fr" transform="translate(457.9,1039.8)"/>
<svg x="637.35" y="1039.8" width="127.8" height="84.3" overflow="hidden"><path d="M5.9 68.6 6.4 59.2 7.6 50.1 8.9 49.9 9.7 48 11.4 45.9 11.8 47 14.7 43.9 16 42.3 17.7 44.9 20.2 45.7 20.6 44.6 23.5 42.5 26.1 38.6 26.5 37.7 28.1 37.9 29.4 36.1 30.2 34.9 32.3 34.9 34.4 32.5 35.3 31.5 36.5 32.2 38.2 30.3 38.6 29.6 40.7 29.9 41.1 28.7 42.8 27.4 44.1 28.2 44.9 26.8 47 25.3 47 26.7 49.1 24.7 49.9 23.9 51.2 24.8 52.9 23.1 53.3 22.5 55.8 23.1 56.6 21.8 58.7 22.5 61.7 25.4 64.6 25.8 67.5 27.8 70.5 31.6 73.4 33.1 76.3 35.2 79.3 39.1 82.2 40.5 85.1 42.6 88.1 46.5 91 47.9 93.9 50 96.9 53.9 99.8 55.2 102.7 57.4 105.7 61.3 108.6 62.6 111.5 64.8 114.5 68.7 117.4 70 117.4 69.8 117.4 88.8 117.4 88.7 114.5 85.7 111.5 83.9 108.6 81.3 105.7 78.3 102.7 76.5 99.8 73.9 96.9 70.9 93.9 69.1 91 66.5 88.1 63.5 85.1 61.7 82.2 59.1 79.3 56.1 76.3 54.3 73.4 51.7 70.5 48.7 67.5 46.9 64.6 44.5 61.7 43.2 58.7 43.1 56.6 42.3 55.8 42.1 53.3 43.6 52.9 43.5 51.2 43.7 49.9 45 49.1 45.1 47 45.6 47 46.3 44.9 47.1 44.1 47 42.8 48.3 41.1 48.9 40.7 48.7 38.6 50.5 38.2 50.5 36.5 50.9 35.3 52.4 34.4 52.6 32.3 53.6 30.2 55.8 29.4 56.1 28.1 56.5 26.5 58.5 26.1 58.5 23.5 61 20.6 65.3 20.2 65.5 17.7 63.3 16 62.9 14.7 63.6 11.8 65.4 11.4 66.4 9.7 67.5 8.9 68.2 7.6 70.6 6.4 78.7 5.9 86.9Z" fill="#1f77b4" fill-opacity="0.3" stroke="#1f77b4" stroke-opacity="0.4" stroke-width="1.4" shape-rendering="crispEdges"/><path d="M5.9 70.1 6.4 60.9 7.6 51.9 8.9 51.4 9.7 49.6 11.4 47.6 11.8 48.5 14.7 45.6 16 44.1 17.7 46.4 20.2 47.4 20.6 46.4 23.5 44 26.1 40.3 26.5 39.5 28.1 39.5 29.4 37.8 30.2 36.7 32.3 36.4 34.4 34.2 35.3 33.3 36.5 33.7 38.2 32 38.6 31.4 40.7 31.4 41.1 30.5 42.8 29.2 44.1 29.7 44.9 28.5 47 27.1 47 28.3 49.1 26.5 49.9 25.7 51.2 26.3 52.9 24.8 53.3 24.3 55.8 24.7 56.6 23.6 58.7 24.4 61.7 27.1 64.6 27.9 67.5 29.9 70.5 33.6 73.4 35.2 76.3 37.3 79.3 41 82.2 42.5 85.1 44.7 88.1 48.4 91 49.9 93.9 52.1 96.9 55.8 99.8 57.3 102.7 59.6 105.7 63.2 108.6 64.7 111.5 67 114.5 70.6 117.4 72.1 117.4 71.9 117.4 88.2 117.4 88.1 114.5 85.1 111.5 83.2 108.6 80.7 105.7 77.7 102.7 75.8 99.8 73.2 96.9 70.3 93.9 68.4 91 65.8 88.1 62.9 85.1 61 82.2 58.4 79.3 55.5 76.3 53.6 73.4 51 70.5 48.1 67.5 46.2 64.6 43.8 61.7 42.2 58.7 41.6 56.6 40.6 55.8 40.5 53.3 41.8 52.9 41.8 51.2 42.1 49.9 43.2 49.1 43.4 47 43.9 47 44.5 44.9 45.3 44.1 45.4 42.8 46.6 41.1 47.2 40.7 47 38.6 48.7 38.2 48.8 36.5 49.3 35.3 50.6 34.4 50.9 32.3 51.9 30.2 54 29.4 54.4 28.1 54.9 26.5 56.7 26.1 56.8 23.5 59.4 20.6 63.5 20.2 63.8 17.7 61.7 16 61.2 14.7 61.9 11.8 63.8 11.4 64.7 9.7 65.8 8.9 66.6 7.6 68.9 6.4 77 5.9 85.3Z" fill="#ff7f0e" fill-opacity="0.24" stroke="#ff7f0e" stroke-opacity="0.3" stroke-width="1.2" shape-rendering="crispEdges"/></svg><path d="M657.5 1039.8V1124.1M672.5 1039.8V1124.1M730.5 1039.8V1124.1M745.5 1039.8V1124.1" stroke="#bdbdbd" stroke-width="1"/><use href="#gr" transform="translate(637.35,1039.8)"/><svg x="637.35" y="1039.8" width="127.8" height="84.3" overflow="hidden"><path d="M5.6 84.3 6.4 68.8 7.6 60.4 9.7 57.6 11.4 56.2 16 52.7 20.2 55.5 26.1 48.5 28.1 46.9 30.2 45.4 32.3 44 34.4 42.5 36.5 41.3 38.6 40.2 40.7 39 42.8 38 44.9 36.9 47 35.9 49.1 34.9 51.2 34 53.3 33.2 56.6 32.1 118.6 84.3 123.4 88.5" fill="none" stroke="#fff" stroke-width="11.2" stroke-linejoin="round"/><path d="M5.6 84.3 6.4 68.8 7.6 60.4 9.7 57.6 11.4 56.2 16 52.7 20.2 55.5 26.1 48.5 28.1 46.9 30.2 45.4 32.3 44 34.4 42.5 36.5 41.3 38.6 40.2 40.7 39 42.8 38 44.9 36.9 47 35.9 49.1 34.9 51.2 34 53.3 33.2 56.6 32.1 118.6 84.3 123.4 88.5" fill="none" stroke="#000" stroke-width="9.6" stroke-linejoin="round" shape-rendering="crispEdges"/></svg><use href="#fr" transform="translate(637.35,1039.8)"/>
<svg x="816.8" y="1039.8" width="127.8" height="84.3" overflow="hidden"><path d="M5.9 68.7 6.4 58.7 7.6 50.6 8.9 50 9.7 47.4 11.8 47.4 14.7 47.9 15.2 46.4 17.7 44.9 19.8 43.4 20.6 41.5 21.9 41.3 23.5 42.1 24 40.6 26.1 39.9 26.5 40.4 28.1 37.1 29.4 36.1 30.2 36.2 32.3 33.7 34.4 33.8 35.3 34.4 36.5 32.3 38.2 31.3 38.6 31.8 40.7 28.7 41.1 29.1 42.8 29.4 44.1 27.7 44.9 28.1 47 28.3 47 26.8 49.1 25.8 49.9 26.2 51.2 23.8 52.9 23.9 53.3 24.6 55.4 22.9 55.8 23.4 57.5 23.8 58.7 21.7 59.6 21.9 61.7 24 64.6 24.2 67.5 26.6 70.5 29.9 73.4 31.2 76.3 34.5 79.3 38 82.2 39.2 85.1 42.6 88.1 46 91 47.3 93.9 50.6 96.9 54.1 99.8 55.3 102.7 58.7 105.7 62.1 108.6 63.4 111.5 66.8 114.5 70.2 115.3 69.5 115.3 88.9 114.5 87.4 111.5 85 108.6 82.7 105.7 79.3 102.7 77 99.8 74.7 96.9 71.2 93.9 68.9 91 66.6 88.1 63.2 85.1 60.9 82.2 58.5 79.3 55.1 76.3 52.8 73.4 50.5 70.5 47.1 67.5 45 64.6 44.3 61.7 42.6 59.6 42.3 58.7 43 57.5 42.8 55.8 43.7 55.4 44.1 53.3 43.6 52.9 44.2 51.2 45 49.9 45.1 49.1 46.1 47 47.8 47 47.1 44.9 48.3 44.1 48.7 42.8 48.1 41.1 49.2 40.7 49.6 38.6 50.6 38.2 51.4 36.5 53.1 35.3 53 34.4 53.9 32.3 54.4 30.2 54.8 29.4 56.2 28.1 57.8 26.5 58.9 26.1 59.9 24 61.2 23.5 60.5 21.9 61.2 20.6 62.1 19.8 61.8 17.7 64.8 15.2 66.8 14.7 66.2 11.8 67.2 9.7 67.8 8.9 68.2 7.6 70.4 6.4 79 5.9 86.9Z" fill="#1f77b4" fill-opacity="0.3" stroke="#1f77b4" stroke-opacity="0.4" stroke-width="1.4" shape-rendering="crispEdges"/><path d="M5.9 70.2 6.4 60.5 7.6 52.3 8.9 51.5 9.7 49.2 11.8 49.1 14.7 49.4 15.2 48.1 17.7 46.6 19.8 44.9 20.6 43.3 21.9 43 23.5 43.6 24 42.4 26.1 41.6 26.5 42 28.1 38.9 29.4 37.8 30.2 37.7 32.3 35.5 34.4 35.5 35.3 35.9 36.5 34.1 38.2 33 38.6 33.4 40.7 30.5 41.1 30.8 42.8 30.9 44.1 29.5 44.9 29.9 47 29.8 47 28.6 49.1 27.6 49.9 27.7 51.2 25.7 52.9 25.6 53.3 26.2 55.4 24.8 55.8 25.1 57.5 25.4 58.7 23.6 59.6 23.7 61.7 25.6 64.6 26.3 67.5 28.6 70.5 31.8 73.4 33.3 76.3 36.5 79.3 39.9 82.2 41.4 85.1 44.6 88.1 48 91 49.4 93.9 52.7 96.9 56 99.8 57.5 102.7 60.8 105.7 64.1 108.6 65.5 111.5 68.8 114.5 72.1 115.3 71.7 115.3 88.2 114.5 86.8 111.5 84.4 108.6 82 105.7 78.7 102.7 76.3 99.8 74 96.9 70.7 93.9 68.3 91 65.9 88.1 62.6 85.1 60.2 82.2 57.8 79.3 54.5 76.3 52.2 73.4 49.8 70.5 46.5 67.5 44.3 64.6 43.2 61.7 41.2 59.6 40.6 58.7 41.2 57.5 41.2 55.8 42 55.4 42.4 53.3 42 52.9 42.4 51.2 43.2 49.9 43.4 49.1 44.4 47 46.1 47 45.5 44.9 46.6 44.1 47 42.8 46.5 41.1 47.5 40.7 47.9 38.6 48.9 38.2 49.7 36.5 51.4 35.3 51.4 34.4 52.2 32.3 52.7 30.2 53.1 29.4 54.5 28.1 56 26.5 57.3 26.1 58.2 24 59.5 23.5 58.9 21.9 59.5 20.6 60.3 19.8 60.2 17.7 63.1 15.2 65.1 14.7 64.6 11.8 65.5 9.7 66 8.9 66.6 7.6 68.7 6.4 77.2 5.9 85.3Z" fill="#ff7f0e" fill-opacity="0.24" stroke="#ff7f0e" stroke-opacity="0.3" stroke-width="1.2" shape-rendering="crispEdges"/></svg><path d="M851.5 1039.8V1124.1M866.5 1039.8V1124.1M910.5 1039.8V1124.1M924.5 1039.8V1124.1" stroke="#bdbdbd" stroke-width="1"/><use href="#gr" transform="translate(816.8,1039.8)"/><svg x="816.8" y="1039.8" width="127.8" height="84.3" overflow="hidden"><path d="M5.6 84.3 6.4 68.8 7.6 60.4 9.7 57.6 15.2 56.6 17.7 54.8 19.8 52.3 21.9 51.2 24 51 26.1 49.9 28.1 47.5 30.2 45.2 32.3 44.2 34.4 43.9 36.5 42.8 38.6 41 40.7 39.3 42.8 38.5 44.9 38.2 47 37.5 49.1 36 51.2 34.5 53.3 33.9 55.4 33.7 57.5 33.1 59.6 32.1 116.6 84.3 121 88.5" fill="none" stroke="#fff" stroke-width="11.2" stroke-linejoin="round"/><path d="M5.6 84.3 6.4 68.8 7.6 60.4 9.7 57.6 15.2 56.6 17.7 54.8 19.8 52.3 21.9 51.2 24 51 26.1 49.9 28.1 47.5 30.2 45.2 32.3 44.2 34.4 43.9 36.5 42.8 38.6 41 40.7 39.3 42.8 38.5 44.9 38.2 47 37.5 49.1 36 51.2 34.5 53.3 33.9 55.4 33.7 57.5 33.1 59.6 32.1 116.6 84.3 121 88.5" fill="none" stroke="#000" stroke-width="9.6" stroke-linejoin="round" shape-rendering="crispEdges"/></svg><use href="#fr" transform="translate(816.8,1039.8)"/>
<svg x="996.25" y="1039.8" width="127.8" height="84.3" overflow="hidden"><path d="M5.9 68.4 6.4 58.4 7.6 51.2 8.9 49.6 9.7 47.2 11.8 47.9 14.7 47.5 15.2 46.1 17.7 45.5 19.8 43 20.6 41.1 21.9 41.4 23.5 41.1 24 39.6 26.1 40.3 26.5 40.1 28.1 37.6 29.4 37.3 30.2 36.5 32.3 32.9 34.4 32.7 35.3 32.6 36.5 31 38.2 31.9 38.6 31.8 40.7 29.4 41.1 30.3 42.8 29 44.1 26.7 44.9 27.4 47 26.4 47 25.1 49.1 26 49.9 25.7 51.2 24.3 52.9 24.8 53.3 24.6 55.4 22.1 55.8 23.2 58.3 22.4 58.7 21.4 61.7 24.3 64.6 25.7 67.5 26.3 70.5 30.2 73.4 32.6 76.3 33.9 79.3 37.8 82.2 40.2 85.1 41.6 88.1 45.4 91 47.8 93.9 49.2 96.9 53.1 99.8 55.4 102.7 56.8 105.7 60.7 108.6 63 111.5 64.4 114.5 68.3 117.4 70.6 117.4 69.5 117.4 89 117.4 88.4 114.5 85.7 111.5 83.9 108.6 80.8 105.7 78.1 102.7 76.3 99.8 73.2 96.9 70.5 93.9 68.7 91 65.6 88.1 62.9 85.1 61.1 82.2 58 79.3 55.3 76.3 53.5 73.4 50.3 70.5 47.7 67.5 45.9 64.6 43.9 61.7 43 58.7 42.8 58.3 42.1 55.8 42.7 55.4 43.5 53.3 44.2 52.9 44.3 51.2 45.6 49.9 45.3 49.1 45.4 47 46.4 47 45.8 44.9 46.7 44.1 48 42.8 48.3 41.1 49.6 40.7 50.6 38.6 51.1 38.2 51.2 36.5 52.1 35.3 51.8 34.4 52 32.3 53.9 30.2 55.6 29.4 56.5 28.1 58.6 26.5 59.1 26.1 59.4 24 60.6 23.5 60 21.9 60.5 20.6 62 19.8 61.9 17.7 64.5 15.2 66.9 14.7 66.3 11.8 66.9 9.7 67.9 8.9 68.3 7.6 70.1 6.4 79.1 5.9 87Z" fill="#1f77b4" fill-opacity="0.3" stroke="#1f77b4" stroke-opacity="0.4" stroke-width="1.4" shape-rendering="crispEdges"/><path d="M5.9 69.9 6.4 60.2 7.6 52.7 8.9 51.2 9.7 49 11.8 49.5 14.7 49.1 15.2 47.9 17.7 47.1 19.8 44.6 20.6 42.9 21.9 43 23.5 42.6 24 41.4 26.1 41.9 26.5 41.7 28.1 39.4 29.4 39 30.2 38.1 32.3 34.7 34.4 34.3 35.3 34.2 36.5 32.8 38.2 33.5 38.6 33.4 40.7 31.2 41.1 31.9 42.8 30.6 44.1 28.6 44.9 29 47 28 47 26.9 49.1 27.6 49.9 27.4 51.2 26.1 52.9 26.5 53.3 26.2 55.4 23.9 55.8 24.9 58.3 24 58.7 23.3 61.7 26 64.6 27.6 67.5 28.5 70.5 32.2 73.4 34.6 76.3 36.1 79.3 39.8 82.2 42.2 85.1 43.7 88.1 47.4 91 49.8 93.9 51.3 96.9 55 99.8 57.4 102.7 59 105.7 62.6 108.6 65 111.5 66.6 114.5 70.3 117.4 72.6 117.4 71.6 117.4 88.3 117.4 87.8 114.5 85.1 111.5 83.2 108.6 80.2 105.7 77.5 102.7 75.6 99.8 72.6 96.9 69.9 93.9 68 91 65 88.1 62.3 85.1 60.4 82.2 57.3 79.3 54.7 76.3 52.7 73.4 49.7 70.5 47.1 67.5 45.1 64.6 43 61.7 41.7 58.7 41.1 58.3 40.4 55.8 41.1 55.4 41.7 53.3 42.5 52.9 42.6 51.2 43.9 49.9 43.6 49.1 43.7 47 44.7 47 44.1 44.9 45.1 44.1 46.2 42.8 46.7 41.1 48 40.7 48.8 38.6 49.4 38.2 49.5 36.5 50.4 35.3 50.1 34.4 50.3 32.3 52.2 30.2 53.9 29.4 54.9 28.1 56.8 26.5 57.5 26.1 57.8 24 58.8 23.5 58.4 21.9 58.8 20.6 60.2 19.8 60.3 17.7 62.9 15.2 65.2 14.7 64.7 11.8 65.3 9.7 66.1 8.9 66.7 7.6 68.5 6.4 77.4 5.9 85.4Z" fill="#ff7f0e" fill-opacity="0.24" stroke="#ff7f0e" stroke-opacity="0.3" stroke-width="1.2" shape-rendering="crispEdges"/></svg><path d="M1016.5 1039.8V1124.1M1045.5 1039.8V1124.1M1104.5 1039.8V1124.1" stroke="#bdbdbd" stroke-width="1"/><use href="#gr" transform="translate(996.25,1039.8)"/><svg x="996.25" y="1039.8" width="127.8" height="84.3" overflow="hidden"><path d="M5.6 84.3 6.4 68.8 7.6 60.4 9.7 57.6 15.2 56.6 17.7 54.8 19.8 52.2 21.9 50.7 24 50.2 26.1 49.7 28.1 48.2 30.2 45.8 32.3 43.5 34.4 42.2 36.5 41.7 38.6 41.3 40.7 40.2 42.8 38.5 44.9 36.9 47 35.9 49.1 35.5 51.2 35.1 53.3 34.3 55.4 33 58.3 32.1 118.6 84.3 123.3 88.5" fill="none" stroke="#fff" stroke-width="11.2" stroke-linejoin="round"/><path d="M5.6 84.3 6.4 68.8 7.6 60.4 9.7 57.6 15.2 56.6 17.7 54.8 19.8 52.2 21.9 50.7 24 50.2 26.1 49.7 28.1 48.2 30.2 45.8 32.3 43.5 34.4 42.2 36.5 41.7 38.6 41.3 40.7 40.2 42.8 38.5 44.9 36.9 47 35.9 49.1 35.5 51.2 35.1 53.3 34.3 55.4 33 58.3 32.1 118.6 84.3 123.3 88.5" fill="none" stroke="#000" stroke-width="9.6" stroke-linejoin="round" shape-rendering="crispEdges"/></svg><use href="#fr" transform="translate(996.25,1039.8)"/>
<svg x="1175.7" y="1039.8" width="127.8" height="84.3" overflow="hidden"><path d="M5.9 67.8 6.4 58.6 7.6 51.6 8.9 49.1 9.7 47.3 11.8 48.4 14.7 47 15.2 46.3 17.7 45.9 19.8 42.5 20.6 41.2 21.9 41.6 23.5 40.2 24 39.4 26.1 40.4 26.5 39.4 28.1 38.2 29.4 38.6 30.2 37 32.3 34.2 34.4 33.4 35.3 32 36.5 30.7 38.2 31.6 38.6 30.6 40.7 29.7 41.1 31 42.8 29.5 44.1 28.3 44.9 29.3 47 26.7 47 26.3 49.1 26.2 49.9 24.8 51.2 23.8 52.9 24.8 53.3 23.7 55.4 23 55.8 24.3 57.5 22.9 58.7 21.9 59.6 22.8 61.7 23 64.6 24.3 67.5 27.4 70.5 28.9 73.4 31.2 76.3 35.3 79.3 36.8 82.2 39.2 85.1 43.3 88.1 44.8 91 47.2 93.9 51.3 96.9 52.8 99.8 55.2 102.7 59.3 105.7 60.8 108.6 63.2 111.5 67.3 114.5 68.8 115.7 69.7 115.7 88.8 114.5 87.5 111.5 84.3 108.6 82.3 105.7 79.5 102.7 76.3 99.8 74.3 96.9 71.5 93.9 68.3 91 66.3 88.1 63.5 85.1 60.3 82.2 58.3 79.3 55.5 76.3 52.3 73.4 50.3 70.5 47.5 67.5 44.5 64.6 44.2 61.7 43.1 59.6 41.8 58.7 43 57.5 43.4 55.8 43.3 55.4 44.1 53.3 44.1 52.9 43.7 51.2 44.8 49.9 45.2 49.1 45.1 47 47.3 47 47 44.9 48.1 44.1 49.3 42.8 49.7 41.1 49.7 40.7 50.6 38.6 50.7 38.2 50.3 36.5 51.5 35.3 52 34.4 52.1 32.3 55 30.2 57 29.4 57.2 28.1 58.9 26.5 59.3 26.1 59 24 60.1 23.5 60 21.9 60.1 20.6 61.9 19.8 62.2 17.7 64.3 15.2 66.9 14.7 66.6 11.8 66.7 9.7 67.8 8.9 68.6 7.6 69.9 6.4 79 5.9 87.3Z" fill="#1f77b4" fill-opacity="0.3" stroke="#1f77b4" stroke-opacity="0.4" stroke-width="1.4" shape-rendering="crispEdges"/><path d="M5.9 69.5 6.4 60.3 7.6 53.1 8.9 50.7 9.7 49.1 11.8 49.9 14.7 48.6 15.2 48 17.7 47.4 19.8 44.2 20.6 43 21.9 43.2 23.5 41.8 24 41.2 26.1 42 26.5 41.1 28.1 39.9 29.4 40.1 30.2 38.7 32.3 36 34.4 35 35.3 33.7 36.5 32.5 38.2 33.2 38.6 32.3 40.7 31.5 41.1 32.5 42.8 31.2 44.1 30.1 44.9 30.8 47 28.5 47 28.1 49.1 27.8 49.9 26.6 51.2 25.6 52.9 26.4 53.3 25.4 55.4 24.8 55.8 25.9 57.5 24.7 58.7 23.7 59.6 24.4 61.7 24.8 64.6 26.3 67.5 29.3 70.5 30.9 73.4 33.3 76.3 37.2 79.3 38.9 82.2 41.3 85.1 45.2 88.1 46.9 91 49.3 93.9 53.2 96.9 54.9 99.8 57.3 102.7 61.2 105.7 62.9 108.6 65.4 111.5 69.2 114.5 70.9 115.7 71.8 115.7 88.1 114.5 86.8 111.5 83.7 108.6 81.6 105.7 78.8 102.7 75.7 99.8 73.6 96.9 70.8 93.9 67.7 91 65.6 88.1 62.8 85.1 59.7 82.2 57.6 79.3 54.8 76.3 51.7 73.4 49.6 70.5 46.8 67.5 43.9 64.6 43.1 61.7 41.6 59.6 40.2 58.7 41.2 57.5 41.7 55.8 41.6 55.4 42.3 53.3 42.4 52.9 42.1 51.2 43.1 49.9 43.5 49.1 43.5 47 45.5 47 45.3 44.9 46.4 44.1 47.5 42.8 48 41.1 48.1 40.7 48.8 38.6 49 38.2 48.7 36.5 49.8 35.3 50.3 34.4 50.5 32.3 53.3 30.2 55.3 29.4 55.6 28.1 57.2 26.5 57.6 26.1 57.4 24 58.4 23.5 58.3 21.9 58.5 20.6 60.1 19.8 60.6 17.7 62.7 15.2 65.1 14.7 64.9 11.8 65.1 9.7 66.1 8.9 66.9 7.6 68.3 6.4 77.3 5.9 85.6Z" fill="#ff7f0e" fill-opacity="0.24" stroke="#ff7f0e" stroke-opacity="0.3" stroke-width="1.2" shape-rendering="crispEdges"/></svg><path d="M1195.5 1039.8V1124.1M1210.5 1039.8V1124.1M1269.5 1039.8V1124.1M1283.5 1039.8V1124.1" stroke="#bdbdbd" stroke-width="1"/><use href="#gr" transform="translate(1175.7,1039.8)"/><svg x="1175.7" y="1039.8" width="127.8" height="84.3" overflow="hidden"><path d="M5.6 84.3 6.4 68.8 7.6 60.4 9.7 57.6 15.2 56.6 17.7 54.8 19.8 52.3 21.9 50.6 24 49.8 26.1 49.4 28.1 48.6 30.2 47 32.3 44.7 34.4 42.5 36.5 41.2 38.6 40.6 40.7 40.2 42.8 39.6 44.9 38.4 47 36.9 49.1 35.4 51.2 34.4 53.3 33.9 55.4 33.7 57.5 33.2 59.6 32.1 117 84.3 121.4 88.5" fill="none" stroke="#fff" stroke-width="11.2" stroke-linejoin="round"/><path d="M5.6 84.3 6.4 68.8 7.6 60.4 9.7 57.6 15.2 56.6 17.7 54.8 19.8 52.3 21.9 50.6 24 49.8 26.1 49.4 28.1 48.6 30.2 47 32.3 44.7 34.4 42.5 36.5 41.2 38.6 40.6 40.7 40.2 42.8 39.6 44.9 38.4 47 36.9 49.1 35.4 51.2 34.4 53.3 33.9 55.4 33.7 57.5 33.2 59.6 32.1 117 84.3 121.4 88.5" fill="none" stroke="#000" stroke-width="9.6" stroke-linejoin="round" shape-rendering="crispEdges"/></svg><use href="#fr" transform="translate(1175.7,1039.8)"/>
<svg x="1355.15" y="1039.8" width="127.8" height="84.3" overflow="hidden"><path d="M5.9 67.3 6.4 59 7.6 51.7 8.9 48.6 9.7 47.8 11.8 48.4 14.7 46.5 15.2 46.7 17.7 45.9 19.8 42 20.6 41.7 21.9 41.6 23.5 39.3 24 39.5 26.1 40 26.5 38.5 28.1 38.5 29.4 38.8 30.2 36.9 32.3 35.6 34.4 34.4 35.3 32.2 36.5 31.5 38.2 31.4 38.6 29.7 40.7 29.4 41.1 30.2 42.8 28.4 44.1 28.6 44.9 29.4 47 27.1 47 27.7 49.1 27.4 49.9 25.4 51.2 25.1 52.9 24.9 53.3 23.2 55.4 22.7 55.8 23.5 57.5 21.6 58.7 22.1 60 22.8 61.7 22.3 64.6 24.5 67.5 27 70.5 27.9 73.4 31.2 76.3 34.6 79.3 35.8 82.2 39.1 85.1 42.5 88.1 43.6 91 47 93.9 50.3 96.9 51.5 99.8 54.9 102.7 58.2 105.7 59.4 108.6 62.7 111.5 66.1 114.5 67.3 117 70.3 117 88.5 114.5 86.6 111.5 83.3 108.6 81 105.7 78.7 102.7 75.4 99.8 73.1 96.9 70.9 93.9 67.5 91 65.2 88.1 63 85.1 59.6 82.2 57.4 79.3 55.1 76.3 51.7 73.4 49.5 70.5 47.2 67.5 44.3 64.6 43.8 61.7 43.1 60 41.9 58.7 42.4 57.5 42.8 55.8 42.5 55.4 43 53.3 44.3 52.9 43.8 51.2 45.3 49.9 46.4 49.1 46.3 47 47.9 47 48.2 44.9 48.2 44.1 48.8 42.8 49.4 41.1 49 40.7 49.5 38.6 50.5 38.2 50.1 36.5 51.6 35.3 53 34.4 53 32.3 55.7 30.2 57.6 29.4 57.4 28.1 58.5 26.5 59.1 26.1 58.5 24 59.5 23.5 59.9 21.9 60 20.6 61.6 19.8 62.6 17.7 64.3 15.2 66.6 14.7 66.9 11.8 66.7 9.7 67.6 8.9 68.9 7.6 69.9 6.4 78.8 5.9 87.6Z" fill="#1f77b4" fill-opacity="0.3" stroke="#1f77b4" stroke-opacity="0.4" stroke-width="1.4" shape-rendering="crispEdges"/><path d="M5.9 69 6.4 60.7 7.6 53.2 8.9 50.3 9.7 49.4 11.8 49.9 14.7 48.2 15.2 48.4 17.7 47.4 19.8 43.8 20.6 43.4 21.9 43.1 23.5 41.1 24 41.2 26.1 41.5 26.5 40.3 28.1 40.2 29.4 40.3 30.2 38.7 32.3 37.3 34.4 35.9 35.3 33.9 36.5 33.2 38.2 32.9 38.6 31.4 40.7 31.1 41.1 31.8 42.8 30.2 44.1 30.4 44.9 30.9 47 28.9 47 29.4 49.1 28.9 49.9 27.2 51.2 26.8 52.9 26.4 53.3 25 55.4 24.5 55.8 25.1 57.5 23.4 58.7 23.8 60 24.3 61.7 24.1 64.6 26.4 67.5 28.9 70.5 30 73.4 33.2 76.3 36.5 79.3 37.9 82.2 41.1 85.1 44.4 88.1 45.8 91 49 93.9 52.3 96.9 53.7 99.8 56.9 102.7 60.1 105.7 61.5 108.6 64.8 111.5 68 114.5 69.4 117 72.3 117 87.9 114.5 85.9 111.5 82.7 108.6 80.4 105.7 78 102.7 74.8 99.8 72.5 96.9 70.2 93.9 66.9 91 64.6 88.1 62.3 85.1 59 82.2 56.7 79.3 54.4 76.3 51.1 73.4 48.9 70.5 46.5 67.5 43.6 64.6 42.6 61.7 41.6 60 40.2 58.7 40.7 57.5 41.1 55.8 40.9 55.4 41.3 53.3 42.5 52.9 42.2 51.2 43.6 49.9 44.7 49.1 44.6 47 46.2 47 46.4 44.9 46.6 44.1 47.1 42.8 47.6 41.1 47.3 40.7 47.8 38.6 48.8 38.2 48.4 36.5 49.9 35.3 51.2 34.4 51.4 32.3 54 30.2 55.9 29.4 55.7 28.1 56.8 26.5 57.4 26.1 56.9 24 57.8 23.5 58.2 21.9 58.4 20.6 59.9 19.8 60.8 17.7 62.7 15.2 64.9 14.7 65.1 11.8 65.1 9.7 65.9 8.9 67.1 7.6 68.2 6.4 77.1 5.9 85.8Z" fill="#ff7f0e" fill-opacity="0.24" stroke="#ff7f0e" stroke-opacity="0.3" stroke-width="1.2" shape-rendering="crispEdges"/></svg><path d="M1375.5 1039.8V1124.1M1433.5 1039.8V1124.1M1463.5 1039.8V1124.1" stroke="#bdbdbd" stroke-width="1"/><use href="#gr" transform="translate(1355.15,1039.8)"/><svg x="1355.15" y="1039.8" width="127.8" height="84.3" overflow="hidden"><path d="M5.6 84.3 6.4 68.8 7.6 60.4 9.7 57.6 15.2 56.6 17.7 54.8 19.8 52.3 21.9 50.5 24 49.5 26.1 49 28.1 48.4 30.2 47.4 32.3 45.6 34.4 43.4 36.5 41.5 38.6 40.2 40.7 39.4 42.8 39 44.9 38.6 47 37.8 49.1 36.6 51.2 35.2 53.3 33.9 55.4 32.9 57.5 32.4 60 32.1 118.2 84.3 122.7 88.5" fill="none" stroke="#fff" stroke-width="11.2" stroke-linejoin="round"/><path d="M5.6 84.3 6.4 68.8 7.6 60.4 9.7 57.6 15.2 56.6 17.7 54.8 19.8 52.3 21.9 50.5 24 49.5 26.1 49 28.1 48.4 30.2 47.4 32.3 45.6 34.4 43.4 36.5 41.5 38.6 40.2 40.7 39.4 42.8 39 44.9 38.6 47 37.8 49.1 36.6 51.2 35.2 53.3 33.9 55.4 32.9 57.5 32.4 60 32.1 118.2 84.3 122.7 88.5" fill="none" stroke="#000" stroke-width="9.6" stroke-linejoin="round" shape-rendering="crispEdges"/></svg><use href="#fr" transform="translate(1355.15,1039.8)"/>
<svg x="1534.6" y="1039.8" width="127.8" height="84.3" overflow="hidden"><path d="M5.9 67 6.4 59.6 7.6 51.3 8.9 48.3 9.7 48.3 11.8 48.1 14.7 46.2 15.2 47.3 17.7 45.6 19.8 41.9 20.6 42.3 21.9 41.2 23.5 38.9 24 39.9 26.1 39.3 26.5 37.9 28.1 38.7 29.4 38.3 30.2 36.7 32.3 36.7 34.4 34.9 35.3 32.8 36.5 32.8 38.2 31.4 38.6 29.8 40.7 29.8 41.1 29.6 42.8 27.6 44.1 28.5 44.9 28.3 47 26.6 47 27.9 49.1 27.3 49.9 25.7 51.2 26.5 52.9 25.5 53.3 24.1 55.4 24.1 55.8 23.7 57.5 21.6 58.7 22.7 60.4 22.4 61.7 21.9 64.6 24.9 67.5 26.5 70.5 27.6 73.4 31.6 76.3 34.1 79.3 35.6 82.2 39.7 85.1 42.1 88.1 43.7 91 47.7 93.9 50.2 96.9 51.7 99.8 55.8 102.7 58.2 105.7 59.8 108.6 63.9 111.5 66.3 114.5 67.9 116.1 70.8 116.1 88.2 114.5 87.4 111.5 84.1 108.6 81.3 105.7 79.3 102.7 76.1 99.8 73.3 96.9 71.3 93.9 68 91 65.2 88.1 63.2 85.1 59.9 82.2 57.2 79.3 55.1 76.3 51.9 73.4 49.1 70.5 47.1 67.5 44.5 64.6 43.4 61.7 43.1 60.4 42.1 58.7 42.2 57.5 43 55.8 43.4 55.4 43.5 53.3 45.4 52.9 45.1 51.2 45.9 49.9 47 49.1 46.8 47 47.3 47 47.9 44.9 47.7 44.1 47.9 42.8 48.8 41.1 48.9 40.7 49.1 38.6 51 38.2 50.7 36.5 52 35.3 53.9 34.4 54.1 32.3 55.9 30.2 57.7 29.4 57.4 28.1 57.8 26.5 58.8 26.1 58.3 24 59 23.5 59.8 21.9 60.2 20.6 61.4 19.8 62.7 17.7 64.5 15.2 66.3 14.7 67 11.8 66.8 9.7 67.3 8.9 69 7.6 70 6.4 78.5 5.9 87.7Z" fill="#1f77b4" fill-opacity="0.3" stroke="#1f77b4" stroke-opacity="0.4" stroke-width="1.4" shape-rendering="crispEdges"/><path d="M5.9 68.8 6.4 61.2 7.6 52.9 8.9 50.1 9.7 49.9 11.8 49.7 14.7 48 15.2 48.9 17.7 47.2 19.8 43.7 20.6 43.9 21.9 42.8 23.5 40.7 24 41.5 26.1 40.9 26.5 39.7 28.1 40.3 29.4 39.9 30.2 38.5 32.3 38.3 34.4 36.5 35.3 34.6 36.5 34.4 38.2 33.1 38.6 31.7 40.7 31.4 41.1 31.2 42.8 29.4 44.1 30.2 44.9 29.9 47 28.5 47 29.5 49.1 28.9 49.9 27.5 51.2 28.1 52.9 27.1 53.3 25.9 55.4 25.7 55.8 25.4 57.5 23.4 58.7 24.4 60.4 24 61.7 23.8 64.6 26.7 67.5 28.4 70.5 29.8 73.4 33.6 76.3 36.1 79.3 37.8 82.2 41.6 85.1 44.1 88.1 45.9 91 49.7 93.9 52.2 96.9 53.9 99.8 57.8 102.7 60.2 105.7 62 108.6 65.8 111.5 68.3 114.5 70 116.1 72.7 116.1 87.6 114.5 86.7 111.5 83.5 108.6 80.7 105.7 78.6 102.7 75.5 99.8 72.7 96.9 70.5 93.9 67.4 91 64.6 88.1 62.5 85.1 59.3 82.2 56.6 79.3 54.4 76.3 51.3 73.4 48.5 70.5 46.4 67.5 43.8 64.6 42.3 61.7 41.5 60.4 40.4 58.7 40.5 57.5 41.3 55.8 41.7 55.4 41.9 53.3 43.7 52.9 43.4 51.2 44.2 49.9 45.3 49.1 45.1 47 45.6 47 46.1 44.9 46 44.1 46.2 42.8 47.1 41.1 47.2 40.7 47.4 38.6 49.2 38.2 49 36.5 50.4 35.3 52.1 34.4 52.4 32.3 54.2 30.2 56 29.4 55.7 28.1 56.2 26.5 57.1 26.1 56.6 24 57.3 23.5 58.1 21.9 58.5 20.6 59.7 19.8 61 17.7 62.8 15.2 64.7 14.7 65.2 11.8 65.2 9.7 65.6 8.9 67.3 7.6 68.4 6.4 76.9 5.9 85.9Z" fill="#ff7f0e" fill-opacity="0.24" stroke="#ff7f0e" stroke-opacity="0.3" stroke-width="1.2" shape-rendering="crispEdges"/></svg><path d="M1554.5 1039.8V1124.1M1583.5 1039.8V1124.1M1613.5 1039.8V1124.1M1627.5 1039.8V1124.1" stroke="#bdbdbd" stroke-width="1"/><use href="#gr" transform="translate(1534.6,1039.8)"/><svg x="1534.6" y="1039.8" width="127.8" height="84.3" overflow="hidden"><path d="M5.6 84.3 6.4 68.8 7.6 60.4 9.7 57.6 15.2 56.6 17.7 54.8 19.8 52.4 21.9 50.5 24 49.3 26.1 48.6 28.1 48.1 30.2 47.4 32.3 46.1 34.4 44.3 36.5 42.2 38.6 40.6 40.7 39.3 42.8 38.4 44.9 37.8 47 37.4 49.1 36.9 51.2 36.1 53.3 34.9 55.4 33.7 57.5 32.5 60.4 32.1 117.4 84.3 121.8 88.5" fill="none" stroke="#fff" stroke-width="11.2" stroke-linejoin="round"/><path d="M5.6 84.3 6.4 68.8 7.6 60.4 9.7 57.6 15.2 56.6 17.7 54.8 19.8 52.4 21.9 50.5 24 49.3 26.1 48.6 28.1 48.1 30.2 47.4 32.3 46.1 34.4 44.3 36.5 42.2 38.6 40.6 40.7 39.3 42.8 38.4 44.9 37.8 47 37.4 49.1 36.9 51.2 36.1 53.3 34.9 55.4 33.7 57.5 32.5 60.4 32.1 117.4 84.3 121.8 88.5" fill="none" stroke="#000" stroke-width="9.6" stroke-linejoin="round" shape-rendering="crispEdges"/></svg><use href="#fr" transform="translate(1534.6,1039.8)"/>
<svg x="1714.05" y="1039.8" width="127.8" height="84.3" overflow="hidden"><path d="M5.9 67.2 6.4 60 7.6 50.8 8.9 48.4 9.7 48.8 11.8 47.5 14.7 46.3 15.2 47.7 17.7 45 19.8 42 20.6 42.7 21.9 40.7 23.5 38.9 24 40.1 26.1 38.3 26.5 37.6 28.1 38.6 29.4 37.4 30.2 36.6 32.3 37.1 34.4 34.8 35.3 33.5 36.5 33.9 38.2 31.5 38.6 30.6 40.7 30.5 41.1 29.2 42.8 27.7 44.1 28.5 44.9 27.2 47 26.1 47 27.5 49.1 26.1 49.9 25.4 51.2 26.6 52.9 25.1 53.3 24.5 55.4 25.1 55.8 23.9 57.5 22.7 58.7 23.5 60.4 21.8 61.7 22.1 64.6 25.3 67.5 25.9 70.5 27.8 73.4 31.9 76.3 33.5 79.3 35.9 82.2 40 85.1 41.6 88.1 44 91 48 93.9 49.6 96.9 52 99.8 56.1 102.7 57.7 105.7 60.1 108.6 64.1 111.5 65.7 114.5 68.2 116.1 71.1 116.1 88.1 114.5 87.2 111.5 84.4 108.6 81.2 105.7 79.2 102.7 76.4 99.8 73.1 96.9 71.1 93.9 68.3 91 65.1 88.1 63.1 85.1 60.2 82.2 57 79.3 55 76.3 52.2 73.4 48.9 70.5 47 67.5 44.8 64.6 43.3 61.7 43 60.4 42.3 58.7 42.5 57.5 43.7 55.8 44.3 55.4 44 53.3 45.6 52.9 45.5 51.2 45.5 49.9 46.4 49.1 46.4 47 46.3 47 47 44.9 47.4 44.1 47.3 42.8 48.6 41.1 49.4 40.7 49.2 38.6 51.5 38.2 51.6 36.5 52.5 35.3 54.3 34.4 54.8 32.3 55.7 30.2 57.3 29.4 57.3 28.1 57.2 26.5 58.4 26.1 58.2 24 58.6 23.5 59.6 21.9 60.4 20.6 61.2 19.8 62.7 17.7 64.7 15.2 66.1 14.7 66.9 11.8 67.1 9.7 67.1 8.9 68.9 7.6 70.3 6.4 78.3 5.9 87.6Z" fill="#1f77b4" fill-opacity="0.3" stroke="#1f77b4" stroke-opacity="0.4" stroke-width="1.4" shape-rendering="crispEdges"/><path d="M5.9 68.9 6.4 61.5 7.6 52.4 8.9 50.2 9.7 50.3 11.8 49.2 14.7 48.1 15.2 49.3 17.7 46.7 19.8 43.8 20.6 44.2 21.9 42.3 23.5 40.7 24 41.6 26.1 40 26.5 39.4 28.1 40.2 29.4 39.1 30.2 38.3 32.3 38.6 34.4 36.5 35.3 35.3 36.5 35.4 38.2 33.2 38.6 32.4 40.7 32 41.1 31 42.8 29.5 44.1 30.1 44.9 28.9 47 27.9 47 29.1 49.1 27.8 49.9 27.2 51.2 28.1 52.9 26.8 53.3 26.3 55.4 26.7 55.8 25.6 57.5 24.5 58.7 25.1 60.4 23.5 61.7 24 64.6 27 67.5 27.9 70.5 30 73.4 33.8 76.3 35.6 79.3 38 82.2 41.9 85.1 43.7 88.1 46.1 91 49.9 93.9 51.7 96.9 54.2 99.8 58 102.7 59.7 105.7 62.2 108.6 66.1 111.5 67.8 114.5 70.3 116.1 73 116.1 87.5 114.5 86.5 111.5 83.8 108.6 80.6 105.7 78.5 102.7 75.7 99.8 72.5 96.9 70.4 93.9 67.6 91 64.5 88.1 62.4 85.1 59.6 82.2 56.4 79.3 54.3 76.3 51.5 73.4 48.4 70.5 46.3 67.5 44 64.6 42.2 61.7 41.4 60.4 40.6 58.7 40.9 57.5 42 55.8 42.6 55.4 42.4 53.3 43.8 52.9 43.8 51.2 43.8 49.9 44.7 49.1 44.7 47 44.7 47 45.3 44.9 45.7 44.1 45.7 42.8 46.9 41.1 47.7 40.7 47.6 38.6 49.7 38.2 49.9 36.5 50.9 35.3 52.6 34.4 53.1 32.3 54.1 30.2 55.6 29.4 55.6 28.1 55.6 26.5 56.6 26.1 56.5 24 57 23.5 57.9 21.9 58.7 20.6 59.6 19.8 60.9 17.7 63 15.2 64.5 14.7 65.2 11.8 65.4 9.7 65.5 8.9 67.2 7.6 68.6 6.4 76.7 5.9 85.9Z" fill="#ff7f0e" fill-opacity="0.24" stroke="#ff7f0e" stroke-opacity="0.3" stroke-width="1.2" shape-rendering="crispEdges"/></svg><path d="M1734.5 1039.8V1124.1M1748.5 1039.8V1124.1M1807.5 1039.8V1124.1M1822.5 1039.8V1124.1" stroke="#bdbdbd" stroke-width="1"/><use href="#gr" transform="translate(1714.05,1039.8)"/><svg x="1714.05" y="1039.8" width="127.8" height="84.3" overflow="hidden"><path d="M5.6 84.3 6.4 68.8 7.6 60.4 9.7 57.6 15.2 56.6 17.7 54.8 19.8 52.4 21.9 50.5 24 49.1 26.1 48.2 28.1 47.6 30.2 47 32.3 46.1 34.4 44.7 36.5 42.9 38.6 41.2 40.7 39.6 42.8 38.3 44.9 37.3 47 36.7 49.1 36.2 51.2 35.8 53.3 35.2 55.4 34.4 57.5 33.3 60.4 32.1 117.4 84.3 121.8 88.5" fill="none" stroke="#fff" stroke-width="11.2" stroke-linejoin="round"/><path d="M5.6 84.3 6.4 68.8 7.6 60.4 9.7 57.6 15.2 56.6 17.7 54.8 19.8 52.4 21.9 50.5 24 49.1 26.1 48.2 28.1 47.6 30.2 47 32.3 46.1 34.4 44.7 36.5 42.9 38.6 41.2 40.7 39.6 42.8 38.3 44.9 37.3 47 36.7 49.1 36.2 51.2 35.8 53.3 35.2 55.4 34.4 57.5 33.3 60.4 32.1 117.4 84.3 121.8 88.5" fill="none" stroke="#000" stroke-width="9.6" stroke-linejoin="round" shape-rendering="crispEdges"/></svg><use href="#fr" transform="translate(1714.05,1039.8)"/>
<svg x="1893.5" y="1039.8" width="127.8" height="84.3" overflow="hidden"><path d="M5.9 67.6 6.4 60.1 7.6 50.3 8.9 48.9 9.7 48.8 11.8 47 14.7 46.8 15.2 47.8 17.7 44.5 19.8 42.6 20.6 42.9 21.9 40.3 23.5 39.5 24 40.2 26.1 37.8 26.5 38.1 28.1 38.6 29.4 36.9 30.2 37.1 32.3 37.4 34.4 35 35.3 34.9 36.5 35 38.2 32.2 38.6 32.3 40.7 31.6 41.1 29.9 42.8 29.2 44.1 29.4 44.9 27.4 47 26.9 47 27.8 49.1 25.7 49.9 26.1 51.2 26.7 52.9 24.9 53.3 25.4 55.4 25.8 55.8 24.2 57.5 24.3 58.7 24.7 59.6 22.9 61.7 22.5 62.9 22.8 64.6 22.3 67.5 24.6 70.5 27.1 73.4 28.1 76.3 31.4 79.3 34.9 82.2 36.1 85.1 39.5 88.1 43 91 44.2 93.9 47.6 96.9 51 99.8 52.2 102.7 55.7 105.7 59.1 108.6 60.3 111.5 63.7 114.5 67.1 117.4 68.3 118.6 70.3 118.6 88.5 117.4 87.7 114.5 84.3 111.5 82 108.6 79.6 105.7 76.2 102.7 73.9 99.8 71.6 96.9 68.2 93.9 65.9 91 63.5 88.1 60.1 85.1 57.8 82.2 55.5 79.3 52.1 76.3 49.8 73.4 47.4 70.5 44.5 67.5 43.9 64.6 43.2 62.9 41.9 61.7 42.8 59.6 44.1 58.7 43.7 57.5 44.6 55.8 45.4 55.4 44.8 53.3 45.6 52.9 46 51.2 45.6 49.9 46.3 49.1 46.7 47 46.7 47 47.1 44.9 48.3 44.1 48.1 42.8 49.3 41.1 50.8 40.7 50.4 38.6 52.4 38.2 53 36.5 53.7 35.3 55 34.4 55.8 32.3 56 30.2 57.2 29.4 57.6 28.1 57.2 26.5 58.1 26.1 58.5 24 58.7 23.5 59.5 21.9 60.8 20.6 61.3 19.8 62.6 17.7 65 15.2 66.1 14.7 66.7 11.8 67.4 9.7 67.1 8.9 68.7 7.6 70.5 6.4 78.3 5.9 87.4Z" fill="#1f77b4" fill-opacity="0.3" stroke="#1f77b4" stroke-opacity="0.4" stroke-width="1.4" shape-rendering="crispEdges"/><path d="M5.9 69.3 6.4 61.6 7.6 52 8.9 50.6 9.7 50.3 11.8 48.8 14.7 48.5 15.2 49.3 17.7 46.3 19.8 44.3 20.6 44.4 21.9 42.1 23.5 41.2 24 41.8 26.1 39.6 26.5 39.8 28.1 40.2 29.4 38.7 30.2 38.8 32.3 39 34.4 36.8 35.3 36.6 36.5 36.6 38.2 33.9 38.6 34 40.7 33.2 41.1 31.7 42.8 30.9 44.1 30.9 44.9 29.2 47 28.6 47 29.4 49.1 27.5 49.9 27.8 51.2 28.2 52.9 26.7 53.3 27.1 55.4 27.4 55.8 26 57.5 26 58.7 26.2 59.6 24.7 61.7 24.3 62.9 24.3 64.6 24.2 67.5 26.5 70.5 29 73.4 30.2 76.3 33.5 79.3 36.8 82.2 38.3 85.1 41.6 88.1 44.9 91 46.3 93.9 49.6 96.9 52.9 99.8 54.4 102.7 57.7 105.7 61 108.6 62.4 111.5 65.8 114.5 69 117.4 70.5 118.6 72.3 118.6 87.8 117.4 87 114.5 83.7 111.5 81.3 108.6 78.9 105.7 75.7 102.7 73.3 99.8 70.9 96.9 67.6 93.9 65.2 91 62.8 88.1 59.5 85.1 57.2 82.2 54.8 79.3 51.5 76.3 49.1 73.4 46.7 70.5 43.8 67.5 42.7 64.6 41.6 62.9 40.2 61.7 41.1 59.6 42.3 58.7 42.1 57.5 42.9 55.8 43.6 55.4 43.1 53.3 43.9 52.9 44.2 51.2 43.9 49.9 44.6 49.1 45 47 45 47 45.4 44.9 46.6 44.1 46.5 42.8 47.6 41.1 49 40.7 48.7 38.6 50.7 38.2 51.2 36.5 52 35.3 53.3 34.4 54 32.3 54.4 30.2 55.4 29.4 55.8 28.1 55.5 26.5 56.4 26.1 56.7 24 57.1 23.5 57.8 21.9 59.1 20.6 59.7 19.8 60.9 17.7 63.3 15.2 64.5 14.7 65 11.8 65.7 9.7 65.4 8.9 67 7.6 68.8 6.4 76.7 5.9 85.7Z" fill="#ff7f0e" fill-opacity="0.24" stroke="#ff7f0e" stroke-opacity="0.3" stroke-width="1.2" shape-rendering="crispEdges"/></svg><path d="M1928.5 1039.8V1124.1M1942.5 1039.8V1124.1M1972.5 1039.8V1124.1M1986.5 1039.8V1124.1" stroke="#bdbdbd" stroke-width="1"/><use href="#gr" transform="translate(1893.5,1039.8)"/><svg x="1893.5" y="1039.8" width="127.8" height="84.3" overflow="hidden"><path d="M5.6 84.3 6.4 68.8 7.6 60.4 9.7 57.6 15.2 56.6 17.7 54.8 19.8 52.5 21.9 50.6 24 49.2 26.1 48.2 28.1 47.6 30.2 47.1 32.3 46.5 34.4 45.5 36.5 44.1 38.6 42.3 40.7 40.8 42.8 39.3 44.9 38 47 37 49.1 36.4 51.2 35.9 53.3 35.5 55.4 35.1 57.5 34.5 59.6 33.7 62.9 32.1 119.9 84.3 124.3 88.5" fill="none" stroke="#fff" stroke-width="11.2" stroke-linejoin="round"/><path d="M5.6 84.3 6.4 68.8 7.6 60.4 9.7 57.6 15.2 56.6 17.7 54.8 19.8 52.5 21.9 50.6 24 49.2 26.1 48.2 28.1 47.6 30.2 47.1 32.3 46.5 34.4 45.5 36.5 44.1 38.6 42.3 40.7 40.8 42.8 39.3 44.9 38 47 37 49.1 36.4 51.2 35.9 53.3 35.5 55.4 35.1 57.5 34.5 59.6 33.7 62.9 32.1 119.9 84.3 124.3 88.5" fill="none" stroke="#000" stroke-width="9.6" stroke-linejoin="round" shape-rendering="crispEdges"/></svg><use href="#fr" transform="translate(1893.5,1039.8)"/>
<svg x="2072.95" y="1039.8" width="127.8" height="84.3" overflow="hidden"><path d="M5.9 68.2 6.4 59.8 7.6 50 8.9 49.5 9.7 48.5 11.8 46.8 14.7 47.4 15.2 47.5 17.7 44.3 19.8 43.2 20.6 42.5 21.9 40 23.5 39.9 24 39.7 26.1 37.2 26.5 38.3 28.1 37.7 29.4 36 30.2 37 32.3 36.4 34.4 34.3 35.3 35 36.5 34.4 38.2 31.9 38.6 32.8 40.7 31.4 41.1 29.8 42.8 29.9 44.1 28.9 44.9 27.1 47 27.1 47 27 49.1 24.8 49.9 25.8 51.2 25.2 52.9 23.6 53.3 24.8 55.4 24.3 55.8 23 57.5 24 58.7 23.6 59.6 22.2 61.2 22.5 61.7 22.6 64.6 23.1 67.5 26.1 70.5 27.9 73.4 29.4 76.3 33.4 79.3 35.9 82.2 37.4 85.1 41.4 88.1 43.9 91 45.4 93.9 49.4 96.9 51.9 99.8 53.4 102.7 57.5 105.7 59.8 108.6 61.4 111.5 65.5 114.5 67.8 117.4 69.4 117.4 70.8 117.4 88.2 117.4 88.9 114.5 85.7 111.5 82.9 108.6 80.9 105.7 77.7 102.7 74.9 99.8 72.9 96.9 69.7 93.9 66.9 91 64.9 88.1 61.7 85.1 58.9 82.2 56.9 79.3 53.7 76.3 50.9 73.4 48.9 70.5 45.7 67.5 44.1 64.6 43.8 61.7 42.2 61.2 42 59.6 43.7 58.7 43.3 57.5 43.4 55.8 44.4 55.4 43.9 53.3 44.2 52.9 44.9 51.2 44.7 49.9 45.1 49.1 46.1 47 46.5 47 46.4 44.9 48.3 44.1 48.3 42.8 49.2 41.1 51 40.7 50.7 38.6 52.1 38.2 53 36.5 53.6 35.3 54.3 34.4 55.4 32.3 55.5 30.2 56.2 29.4 57 28.1 56.7 26.5 57.4 26.1 58.2 24 58.6 23.5 59 21.9 60.9 20.6 61.4 19.8 62.2 17.7 65.1 15.2 66.3 14.7 66.4 11.8 67.5 9.7 67.2 8.9 68.4 7.6 70.7 6.4 78.4 5.9 87.1Z" fill="#1f77b4" fill-opacity="0.3" stroke="#1f77b4" stroke-opacity="0.4" stroke-width="1.4" shape-rendering="crispEdges"/><path d="M5.9 69.8 6.4 61.3 7.6 51.8 8.9 51.1 9.7 50.1 11.8 48.6 14.7 49 15.2 49 17.7 46.1 19.8 44.8 20.6 44.1 21.9 41.8 23.5 41.5 24 41.2 26.1 39 26.5 39.9 28.1 39.3 29.4 37.8 30.2 38.6 32.3 38 34.4 36.1 35.3 36.7 36.5 36 38.2 33.7 38.6 34.5 40.7 33 41.1 31.6 42.8 31.5 44.1 30.6 44.9 28.9 47 28.7 47 28.7 49.1 26.6 49.9 27.4 51.2 26.9 52.9 25.4 53.3 26.4 55.4 25.9 55.8 24.8 57.5 25.6 58.7 25.2 59.6 24.1 61.2 24.1 61.7 24.3 64.6 25.1 67.5 28 70.5 29.9 73.4 31.6 76.3 35.4 79.3 37.9 82.2 39.6 85.1 43.4 88.1 45.9 91 47.6 93.9 51.4 96.9 53.9 99.8 55.6 102.7 59.4 105.7 61.8 108.6 63.6 111.5 67.4 114.5 69.8 117.4 71.6 117.4 72.8 117.4 87.6 117.4 88.2 114.5 85.1 111.5 82.3 108.6 80.2 105.7 77.1 102.7 74.3 99.8 72.2 96.9 69.1 93.9 66.3 91 64.2 88.1 61.1 85.1 58.3 82.2 56.2 79.3 53.1 76.3 50.3 73.4 48.2 70.5 45.1 67.5 43.2 64.6 42.4 61.7 40.6 61.2 40.3 59.6 41.9 58.7 41.6 57.5 41.8 55.8 42.6 55.4 42.2 53.3 42.5 52.9 43.2 51.2 43.1 49.9 43.5 49.1 44.3 47 44.8 47 44.8 44.9 46.6 44.1 46.6 42.8 47.5 41.1 49.2 40.7 49 38.6 50.4 38.2 51.3 36.5 51.9 35.3 52.6 34.4 53.6 32.3 53.9 30.2 54.5 29.4 55.3 28.1 55.1 26.5 55.7 26.1 56.4 24 57 23.5 57.3 21.9 59.1 20.6 59.7 19.8 60.6 17.7 63.4 15.2 64.6 14.7 64.8 11.8 65.8 9.7 65.6 8.9 66.8 7.6 68.9 6.4 76.8 5.9 85.5Z" fill="#ff7f0e" fill-opacity="0.24" stroke="#ff7f0e" stroke-opacity="0.3" stroke-width="1.2" shape-rendering="crispEdges"/></svg><path d="M2092.5 1039.8V1124.1M2122.5 1039.8V1124.1M2166.5 1039.8V1124.1M2180.5 1039.8V1124.1" stroke="#bdbdbd" stroke-width="1"/><use href="#gr" transform="translate(2072.95,1039.8)"/><svg x="2072.95" y="1039.8" width="127.8" height="84.3" overflow="hidden"><path d="M5.6 84.3 6.4 68.8 7.6 60.4 9.7 57.6 15.2 56.6 17.7 54.8 19.8 52.5 21.9 50.5 24 48.9 26.1 47.8 28.1 47 30.2 46.4 32.3 45.8 34.4 45 36.5 43.8 38.6 42.3 40.7 40.9 42.8 39.3 44.9 37.9 47 36.6 49.1 35.6 51.2 34.9 53.3 34.3 55.4 33.9 57.5 33.6 59.6 33.2 61.2 32.1 118.6 84.3 123.1 88.5" fill="none" stroke="#fff" stroke-width="11.2" stroke-linejoin="round"/><path d="M5.6 84.3 6.4 68.8 7.6 60.4 9.7 57.6 15.2 56.6 17.7 54.8 19.8 52.5 21.9 50.5 24 48.9 26.1 47.8 28.1 47 30.2 46.4 32.3 45.8 34.4 45 36.5 43.8 38.6 42.3 40.7 40.9 42.8 39.3 44.9 37.9 47 36.6 49.1 35.6 51.2 34.9 53.3 34.3 55.4 33.9 57.5 33.6 59.6 33.2 61.2 32.1 118.6 84.3 123.1 88.5" fill="none" stroke="#000" stroke-width="9.6" stroke-linejoin="round" shape-rendering="crispEdges"/></svg><use href="#fr" transform="translate(2072.95,1039.8)"/>
<text transform="translate(2220.5,1080.45) rotate(90)" font-size="53.33" text-anchor="middle">0.08</text>
<svg x="278.45" y="1157.7" width="127.8" height="84.3" overflow="hidden"><path d="M5.9 68.6 6.4 59.3 7.6 50.1 8.9 49.8 9.7 48 11.4 45.8 11.8 47 14.7 44 16 42.3 17.7 44.8 20.2 45.8 20.6 44.5 23.5 42.4 26.1 38.7 26.5 37.6 28.1 37.8 29.4 36.1 30.2 34.7 32.3 34.6 34.4 32.3 35.3 31.1 36.5 31.8 38.2 30 38.6 29.1 40.7 29.4 41.1 28.4 42.8 26.8 44.1 27.6 44.9 26.3 47 24.6 47 26.1 49.1 24.2 49.9 23.2 51.2 24.1 52.9 22.6 53.3 21.8 55 22.8 55.8 22.4 58.7 23.5 61.7 26.6 64.6 27.8 67.5 29.9 70.5 34 73.4 35.7 76.3 37.8 79.3 41.9 82.2 43.6 85.1 45.8 88.1 49.9 91 51.5 93.9 53.7 96.9 57.8 99.8 59.5 102.7 61.7 105.7 65.8 108.6 67.4 111.5 69.6 111.5 71.1 111.5 88.1 111.5 88.8 108.6 86 105.7 82.8 102.7 80.9 99.8 78 96.9 74.9 93.9 72.9 91 70.1 88.1 66.9 85.1 65 82.2 62.1 79.3 59 76.3 57.1 73.4 54.2 70.5 51.1 67.5 49.1 64.6 46.2 61.7 44.1 58.7 43.8 55.8 42.6 55 41.8 53.3 43.1 52.9 42.9 51.2 43.1 49.9 44.4 49.1 44.5 47 45 47 45.8 44.9 46.5 44.1 46.5 42.8 47.9 41.1 48.4 40.7 48.3 38.6 50.1 38.2 50 36.5 50.6 35.3 52.1 34.4 52.2 32.3 53.3 30.2 55.6 29.4 55.9 28.1 56.5 26.5 58.5 26.1 58.4 23.5 61.1 20.6 65.3 20.2 65.4 17.7 63.4 16 63 14.7 63.5 11.8 65.4 11.4 66.4 9.7 67.4 8.9 68.2 7.6 70.6 6.4 78.7 5.9 86.9Z" fill="#1f77b4" fill-opacity="0.3" stroke="#1f77b4" stroke-opacity="0.4" stroke-width="1.4" shape-rendering="crispEdges"/><path d="M5.9 70.1 6.4 61 7.6 51.8 8.9 51.4 9.7 49.7 11.4 47.6 11.8 48.5 14.7 45.7 16 44 17.7 46.4 20.2 47.4 20.6 46.3 23.5 44 26.1 40.4 26.5 39.4 28.1 39.3 29.4 37.7 30.2 36.5 32.3 36.1 34.4 33.9 35.3 32.9 36.5 33.4 38.2 31.7 38.6 30.9 40.7 31 41.1 30.1 42.8 28.6 44.1 29.2 44.9 28 47 26.4 47 27.7 49.1 25.9 49.9 25.1 51.2 25.7 52.9 24.3 53.3 23.7 55 24.4 55.8 24.1 58.7 25.5 61.7 28.4 64.6 29.8 67.5 32 70.5 35.9 73.4 37.8 76.3 40 79.3 43.8 82.2 45.7 85.1 47.9 88.1 51.8 91 53.6 93.9 55.9 96.9 59.7 99.8 61.5 102.7 63.8 105.7 67.7 108.6 69.5 111.5 71.8 111.5 73 111.5 87.5 111.5 88.1 108.6 85.3 105.7 82.2 102.7 80.2 99.8 77.4 96.9 74.3 93.9 72.2 91 69.4 88.1 66.4 85.1 64.3 82.2 61.5 79.3 58.4 76.3 56.4 73.4 53.5 70.5 50.5 67.5 48.4 64.6 45.6 61.7 43.3 58.7 42.5 55.8 41 55 40.2 53.3 41.3 52.9 41.2 51.2 41.5 49.9 42.7 49.1 42.8 47 43.4 47 44 44.9 44.8 44.1 44.9 42.8 46.1 41.1 46.7 40.7 46.6 38.6 48.4 38.2 48.3 36.5 49 35.3 50.3 34.4 50.5 32.3 51.7 30.2 53.9 29.4 54.2 28.1 54.8 26.5 56.7 26.1 56.7 23.5 59.4 20.6 63.5 20.2 63.7 17.7 61.7 16 61.2 14.7 61.8 11.8 63.8 11.4 64.7 9.7 65.8 8.9 66.6 7.6 68.9 6.4 77 5.9 85.3Z" fill="#ff7f0e" fill-opacity="0.24" stroke="#ff7f0e" stroke-opacity="0.3" stroke-width="1.2" shape-rendering="crispEdges"/></svg><path d="M298.5 1157.7V1242M313.5 1157.7V1242M357.5 1157.7V1242M386.5 1157.7V1242" stroke="#bdbdbd" stroke-width="1"/><use href="#gr" transform="translate(278.45,1157.7)"/><svg x="278.45" y="1157.7" width="127.8" height="84.3" overflow="hidden"><path d="M5.6 84.3 6.4 68.8 7.6 60.4 9.7 57.6 11.4 56.2 16 52.7 20.2 55.5 26.1 48.5 28.1 46.9 30.2 45.3 32.3 43.7 34.4 42.2 36.5 41 38.6 39.8 40.7 38.6 42.8 37.5 44.9 36.4 47 35.3 49.1 34.4 51.2 33.4 53.3 32.6 55 32.1 112.8 84.3 117.3 88.5" fill="none" stroke="#fff" stroke-width="11.2" stroke-linejoin="round"/><path d="M5.6 84.3 6.4 68.8 7.6 60.4 9.7 57.6 11.4 56.2 16 52.7 20.2 55.5 26.1 48.5 28.1 46.9 30.2 45.3 32.3 43.7 34.4 42.2 36.5 41 38.6 39.8 40.7 38.6 42.8 37.5 44.9 36.4 47 35.3 49.1 34.4 51.2 33.4 53.3 32.6 55 32.1 112.8 84.3 117.3 88.5" fill="none" stroke="#000" stroke-width="9.6" stroke-linejoin="round" shape-rendering="crispEdges"/></svg><use href="#fr" transform="translate(278.45,1157.7)"/>
<text x="241.45" y="1257.6" font-size="44.44" text-anchor="end">0</text>
<text x="241.45" y="1215.45" font-size="44.44" text-anchor="end">3</text>
<text x="241.45" y="1173.3" font-size="44.44" text-anchor="end">6</text>
<svg x="457.9" y="1157.7" width="127.8" height="84.3" overflow="hidden"><path d="M5.9 68.7 6.4 58.8 7.6 50.5 8.9 50 9.7 47.5 11.4 46.3 11.8 47.1 14.7 43.5 16 42.7 17.7 44.9 20.2 45.2 20.6 45 23.5 42.5 26.1 38.1 26.5 38 28.1 37.7 29.4 35.3 30.2 34.9 32.3 34.3 34.4 31.3 35.3 31.1 36.5 31.4 38.2 29 38.6 29 40.7 28.8 41.1 27.2 42.8 26.6 44.1 26.9 44.9 25 47 24.3 47 25.3 49.1 22.9 49.9 22.9 51.2 23.4 52.9 21.4 52.9 21.8 55.8 24.2 58.7 24.3 61.7 26.3 64.6 29.7 67.5 30.7 70.5 33.5 73.4 36.9 76.3 37.9 79.3 40.8 82.2 44.2 85.1 45.2 88.1 48.1 91 51.4 93.9 52.4 96.9 55.4 99.8 58.7 102.7 59.6 105.7 62.6 108.6 65.9 111.5 66.9 114.5 69.9 114.9 71.1 114.9 88.2 114.5 88.3 111.5 86.2 108.6 83 105.7 81.1 102.7 78.9 99.8 75.8 96.9 73.8 93.9 71.7 91 68.5 88.1 66.6 85.1 64.4 82.2 61.3 79.3 59.3 76.3 57.1 73.4 54 70.5 52.1 67.5 49.9 64.6 46.7 61.7 44.8 58.7 44 55.8 42.6 52.9 42.3 52.9 42.5 51.2 42.4 49.9 43.4 49.1 44 47 44.2 47 44.8 44.9 46 44.1 45.8 42.8 47 41.1 48.1 40.7 47.6 38.6 49.4 38.2 49.8 36.5 50.1 35.3 51.4 34.4 52.1 32.3 52.9 30.2 55.1 29.4 56 28.1 56.3 26.5 58.2 26.1 58.7 23.5 61 20.6 65.1 20.2 65.7 17.7 63.3 16 62.7 14.7 63.8 11.8 65.3 11.4 66.2 9.7 67.7 8.9 68.2 7.6 70.4 6.4 78.9 5.9 86.9Z" fill="#1f77b4" fill-opacity="0.3" stroke="#1f77b4" stroke-opacity="0.4" stroke-width="1.4" shape-rendering="crispEdges"/><path d="M5.9 70.2 6.4 60.5 7.6 52.2 8.9 51.5 9.7 49.2 11.4 48 11.8 48.6 14.7 45.2 16 44.4 17.7 46.5 20.2 47 20.6 46.7 23.5 44.1 26.1 39.9 26.5 39.8 28.1 39.3 29.4 37.1 30.2 36.6 32.3 35.8 34.4 33.1 35.3 32.8 36.5 32.9 38.2 30.7 38.6 30.8 40.7 30.4 41.1 29 42.8 28.3 44.1 28.5 44.9 26.8 47 26 47 26.9 49.1 24.7 49.9 24.7 51.2 24.9 52.9 23.2 52.9 23.6 55.8 25.9 58.7 26.3 61.7 28.4 64.6 31.6 67.5 32.8 70.5 35.6 73.4 38.8 76.3 40.1 79.3 42.9 82.2 46.1 85.1 47.3 88.1 50.2 91 53.3 93.9 54.6 96.9 57.4 99.8 60.6 102.7 61.8 105.7 64.7 108.6 67.8 111.5 69.1 114.5 72 114.9 73 114.9 87.6 114.5 87.7 111.5 85.5 108.6 82.5 105.7 80.4 102.7 78.2 99.8 75.2 96.9 73.2 93.9 71 91 67.9 88.1 65.9 85.1 63.7 82.2 60.7 79.3 58.6 76.3 56.4 73.4 53.4 70.5 51.4 67.5 49.2 64.6 46.2 61.7 44.1 58.7 43 55.8 41.3 52.9 40.6 52.9 40.8 51.2 40.7 49.9 41.7 49.1 42.2 47 42.6 47 43 44.9 44.3 44.1 44.1 42.8 45.2 41.1 46.3 40.7 46 38.6 47.7 38.2 48 36.5 48.5 35.3 49.7 34.4 50.3 32.3 51.3 30.2 53.4 29.4 54.2 28.1 54.7 26.5 56.5 26.1 57 23.5 59.4 20.6 63.4 20.2 64 17.7 61.7 16 61 14.7 62.1 11.8 63.7 11.4 64.5 9.7 66 8.9 66.6 7.6 68.7 6.4 77.2 5.9 85.2Z" fill="#ff7f0e" fill-opacity="0.24" stroke="#ff7f0e" stroke-opacity="0.3" stroke-width="1.2" shape-rendering="crispEdges"/></svg><path d="M492.5 1157.7V1242M507.5 1157.7V1242M536.5 1157.7V1242M551.5 1157.7V1242" stroke="#bdbdbd" stroke-width="1"/><use href="#gr" transform="translate(457.9,1157.7)"/><svg x="457.9" y="1157.7" width="127.8" height="84.3" overflow="hidden"><path d="M5.6 84.3 6.4 68.8 7.6 60.4 9.7 57.6 11.4 56.2 16 52.7 20.2 55.5 26.1 48.5 28.1 46.7 30.2 45 32.3 43.3 34.4 41.8 36.5 40.5 38.6 39.2 40.7 38 42.8 36.8 44.9 35.7 47 34.6 49.1 33.6 51.2 32.7 52.9 32.1 116.1 84.3 121 88.5" fill="none" stroke="#fff" stroke-width="11.2" stroke-linejoin="round"/><path d="M5.6 84.3 6.4 68.8 7.6 60.4 9.7 57.6 11.4 56.2 16 52.7 20.2 55.5 26.1 48.5 28.1 46.7 30.2 45 32.3 43.3 34.4 41.8 36.5 40.5 38.6 39.2 40.7 38 42.8 36.8 44.9 35.7 47 34.6 49.1 33.6 51.2 32.7 52.9 32.1 116.1 84.3 121 88.5" fill="none" stroke="#000" stroke-width="9.6" stroke-linejoin="round" shape-rendering="crispEdges"/></svg><use href="#fr" transform="translate(457.9,1157.7)"/>
<svg x="637.35" y="1157.7" width="127.8" height="84.3" overflow="hidden"><path d="M5.9 68.5 6.4 58.5 7.6 51.1 8.9 49.7 9.7 47.2 11.4 46.8 11.8 46.8 14.7 43.2 16 43.3 17.7 44.7 20.2 44.9 20.6 45.6 23.5 42.3 26.1 37.9 26.5 38.7 28.1 37.6 29.4 35.2 30.2 35.7 32.3 34.4 34.4 31.5 35.3 32.1 36.5 31.6 38.2 29.2 38.6 30.2 40.7 29.1 41.1 27.6 42.8 27.8 44.1 27.3 44.9 25.5 47 25.7 47 25.8 49.1 23.5 49.9 24.3 51.2 23.8 52.9 21.8 53.3 22.9 55 22.5 55.8 21.6 58.7 24.5 61.7 26.2 64.6 27 67.5 31 70.5 33.6 73.4 35 76.3 38.9 79.3 41.5 82.2 42.9 85.1 46.9 88.1 49.5 91 50.9 93.9 54.8 96.9 57.4 99.8 58.8 102.7 62.8 105.7 65.3 108.6 66.8 111.5 70.7 111.5 70.6 111.5 88.3 111.5 88.3 108.6 86.3 105.7 83 102.7 80.3 99.8 78.3 96.9 75.1 93.9 72.4 91 70.4 88.1 67.1 85.1 64.5 82.2 62.5 79.3 59.2 76.3 56.5 73.4 54.5 70.5 51.2 67.5 48.6 64.6 46.6 61.7 44.2 58.7 43.3 55.8 42.9 55 42 53.3 42.5 52.9 43.3 51.2 43.3 49.9 43.9 49.1 44.9 47 45.2 47 45.2 44.9 46.9 44.1 46.6 42.8 47.4 41.1 48.8 40.7 48.4 38.6 49.6 38.2 50.4 36.5 50.7 35.3 51.5 34.4 52.6 32.3 53.4 30.2 55.1 29.4 56.3 28.1 56.6 26.5 58 26.1 58.8 23.5 61.2 20.6 64.8 20.2 65.8 17.7 63.4 16 62.4 14.7 63.9 11.8 65.5 11.4 65.9 9.7 67.9 8.9 68.3 7.6 70.1 6.4 79.1 5.9 87Z" fill="#1f77b4" fill-opacity="0.3" stroke="#1f77b4" stroke-opacity="0.4" stroke-width="1.4" shape-rendering="crispEdges"/><path d="M5.9 70 6.4 60.2 7.6 52.7 8.9 51.3 9.7 49 11.4 48.4 11.8 48.4 14.7 44.9 16 44.9 17.7 46.2 20.2 46.7 20.6 47.2 23.5 43.8 26.1 39.7 26.5 40.3 28.1 39.2 29.4 37.1 30.2 37.4 32.3 36 34.4 33.3 35.3 33.7 36.5 33.2 38.2 31.1 38.6 31.8 40.7 30.8 41.1 29.4 42.8 29.5 44.1 28.9 44.9 27.4 47 27.3 47 27.4 49.1 25.3 49.9 25.9 51.2 25.5 52.9 23.7 53.3 24.6 55 24.1 55.8 23.5 58.7 26.3 61.7 28.2 64.6 29.2 67.5 32.9 70.5 35.6 73.4 37.2 76.3 40.9 79.3 43.5 82.2 45.1 85.1 48.8 88.1 51.4 91 53.1 93.9 56.8 96.9 59.4 99.8 61 102.7 64.7 105.7 67.3 108.6 68.9 111.5 72.7 111.5 72.6 111.5 87.7 111.5 87.7 108.6 85.6 105.7 82.4 102.7 79.7 99.8 77.6 96.9 74.5 93.9 71.8 91 69.7 88.1 66.5 85.1 63.9 82.2 61.7 79.3 58.6 76.3 55.9 73.4 53.8 70.5 50.6 67.5 48 64.6 45.9 61.7 43.4 58.7 42.1 55.8 41.3 55 40.3 53.3 40.9 52.9 41.5 51.2 41.6 49.9 42.2 49.1 43.1 47 43.5 47 43.6 44.9 45.1 44.1 45 42.8 45.7 41.1 47.1 40.7 46.7 38.6 48 38.2 48.7 36.5 49.1 35.3 49.9 34.4 50.8 32.3 51.8 30.2 53.4 29.4 54.5 28.1 54.9 26.5 56.3 26.1 57.1 23.5 59.5 20.6 63.1 20.2 64.1 17.7 61.8 16 60.8 14.7 62.2 11.8 63.8 11.4 64.3 9.7 66.1 8.9 66.7 7.6 68.5 6.4 77.4 5.9 85.4Z" fill="#ff7f0e" fill-opacity="0.24" stroke="#ff7f0e" stroke-opacity="0.3" stroke-width="1.2" shape-rendering="crispEdges"/></svg><path d="M657.5 1157.7V1242M672.5 1157.7V1242M730.5 1157.7V1242M745.5 1157.7V1242" stroke="#bdbdbd" stroke-width="1"/><use href="#gr" transform="translate(637.35,1157.7)"/><svg x="637.35" y="1157.7" width="127.8" height="84.3" overflow="hidden"><path d="M5.6 84.3 6.4 68.8 7.6 60.4 9.7 57.6 11.4 56.2 16 52.7 20.2 55.5 26.1 48.5 28.1 46.9 30.2 45.3 32.3 43.7 34.4 42.2 36.5 41 38.6 39.8 40.7 38.6 42.8 37.5 44.9 36.4 47 35.3 49.1 34.4 51.2 33.4 53.3 32.6 55 32.1 112.8 84.3 117.3 88.5" fill="none" stroke="#fff" stroke-width="11.2" stroke-linejoin="round"/><path d="M5.6 84.3 6.4 68.8 7.6 60.4 9.7 57.6 11.4 56.2 16 52.7 20.2 55.5 26.1 48.5 28.1 46.9 30.2 45.3 32.3 43.7 34.4 42.2 36.5 41 38.6 39.8 40.7 38.6 42.8 37.5 44.9 36.4 47 35.3 49.1 34.4 51.2 33.4 53.3 32.6 55 32.1 112.8 84.3 117.3 88.5" fill="none" stroke="#000" stroke-width="9.6" stroke-linejoin="round" shape-rendering="crispEdges"/></svg><use href="#fr" transform="translate(637.35,1157.7)"/>
<svg x="816.8" y="1157.7" width="127.8" height="84.3" overflow="hidden"><path d="M5.9 67.9 6.4 58.5 7.6 51.5 8.9 49.2 9.7 47.3 11.8 48.3 14.7 47.1 15.2 46.2 17.7 45.8 19.8 42.5 20.6 41.2 21.9 42 23.5 41 24 40.1 26.1 40.4 26.5 39.1 28.1 36.4 29.4 36.5 30.2 34.7 32.3 32.9 34.4 33.9 35.3 32.7 36.5 31.3 38.2 31.4 38.6 30.2 40.7 27.8 41.1 29.1 42.8 27.6 44.1 26.7 44.9 28 47 26.4 47 25.8 49.1 25.7 49.9 24.2 51.2 22.8 52.9 23.7 53.3 22.7 55.8 21.5 56.6 22.8 58.7 23.1 61.7 24.2 64.6 27.3 67.5 28.8 70.5 30.9 73.4 35 76.3 36.7 79.3 38.8 82.2 42.9 85.1 44.6 88.1 46.7 91 50.8 93.9 52.4 96.9 54.6 99.8 58.7 102.7 60.3 105.7 62.5 108.6 66.6 111.5 68.2 113.6 69.6 113.6 88.8 111.5 86.7 108.6 83.6 105.7 81.7 102.7 78.9 99.8 75.7 96.9 73.8 93.9 71 91 67.8 88.1 65.9 85.1 63.1 82.2 60 79.3 58 76.3 55.2 73.4 52.1 70.5 50.2 67.5 47.3 64.6 44.4 61.7 44.2 58.7 43 56.6 41.8 55.8 42.8 53.3 43.1 52.9 42.7 51.2 44 49.9 44.5 49.1 44.6 47 46.9 47 46.6 44.9 46.9 44.1 47.8 42.8 47.7 41.1 47.9 40.7 48.8 38.6 50.2 38.2 50.2 36.5 52.3 35.3 52.6 34.4 52.7 32.3 53.8 30.2 54.6 29.4 55.1 28.1 57.3 26.5 58.9 26.1 59 24 60.9 23.5 60.6 21.9 60.5 20.6 62 19.8 62.1 17.7 64.3 15.2 66.9 14.7 66.6 11.8 66.7 9.7 67.8 8.9 68.6 7.6 69.9 6.4 79.1 5.9 87.2Z" fill="#1f77b4" fill-opacity="0.3" stroke="#1f77b4" stroke-opacity="0.4" stroke-width="1.4" shape-rendering="crispEdges"/><path d="M5.9 69.6 6.4 60.3 7.6 53.1 8.9 50.8 9.7 49 11.8 49.8 14.7 48.7 15.2 48 17.7 47.4 19.8 44.1 20.6 43 21.9 43.5 23.5 42.6 24 41.9 26.1 41.9 26.5 40.8 28.1 38.2 29.4 38 30.2 36.4 32.3 34.7 34.4 35.5 35.3 34.4 36.5 33.1 38.2 32.9 38.6 31.9 40.7 29.6 41.1 30.7 42.8 29.3 44.1 28.5 44.9 29.6 47 28.1 47 27.6 49.1 27.3 49.9 26 51.2 24.6 52.9 25.3 53.3 24.4 55.8 23.4 56.6 24.4 58.7 24.9 61.7 26.2 64.6 29.2 67.5 30.9 70.5 33.1 73.4 36.9 76.3 38.8 79.3 41 82.2 44.8 85.1 46.6 88.1 48.9 91 52.7 93.9 54.5 96.9 56.8 99.8 60.6 102.7 62.4 105.7 64.7 108.6 68.5 111.5 70.2 113.6 71.8 113.6 88.1 111.5 86.1 108.6 83 105.7 81 102.7 78.2 99.8 75.1 96.9 73.1 93.9 70.3 91 67.3 88.1 65.2 85.1 62.4 82.2 59.4 79.3 57.4 76.3 54.5 73.4 51.5 70.5 49.5 67.5 46.6 64.6 43.8 61.7 43.1 58.7 41.5 56.6 40.2 55.8 41 53.3 41.3 52.9 41.1 51.2 42.2 49.9 42.8 49.1 43 47 45.1 47 44.8 44.9 45.3 44.1 46 42.8 46 41.1 46.3 40.7 47.1 38.6 48.5 38.2 48.5 36.5 50.5 35.3 50.9 34.4 51 32.3 52 30.2 52.9 29.4 53.5 28.1 55.5 26.5 57.2 26.1 57.4 24 59.2 23.5 59 21.9 58.9 20.6 60.2 19.8 60.4 17.7 62.7 15.2 65.1 14.7 64.9 11.8 65.1 9.7 66.1 8.9 66.9 7.6 68.3 6.4 77.3 5.9 85.6Z" fill="#ff7f0e" fill-opacity="0.24" stroke="#ff7f0e" stroke-opacity="0.3" stroke-width="1.2" shape-rendering="crispEdges"/></svg><path d="M851.5 1157.7V1242M866.5 1157.7V1242M910.5 1157.7V1242M924.5 1157.7V1242" stroke="#bdbdbd" stroke-width="1"/><use href="#gr" transform="translate(816.8,1157.7)"/><svg x="816.8" y="1157.7" width="127.8" height="84.3" overflow="hidden"><path d="M5.6 84.3 6.4 68.8 7.6 60.4 9.7 57.6 15.2 56.6 17.7 54.8 19.8 52.2 21.9 51 24 50.6 26.1 49.4 28.1 47 30.2 44.6 32.3 43.4 34.4 43 36.5 41.9 38.6 40.2 40.7 38.4 42.8 37.6 44.9 37.3 47 36.4 49.1 34.9 51.2 33.5 53.3 32.9 56.6 32.1 114.9 84.3 119.4 88.5" fill="none" stroke="#fff" stroke-width="11.2" stroke-linejoin="round"/><path d="M5.6 84.3 6.4 68.8 7.6 60.4 9.7 57.6 15.2 56.6 17.7 54.8 19.8 52.2 21.9 51 24 50.6 26.1 49.4 28.1 47 30.2 44.6 32.3 43.4 34.4 43 36.5 41.9 38.6 40.2 40.7 38.4 42.8 37.6 44.9 37.3 47 36.4 49.1 34.9 51.2 33.5 53.3 32.9 56.6 32.1 114.9 84.3 119.4 88.5" fill="none" stroke="#000" stroke-width="9.6" stroke-linejoin="round" shape-rendering="crispEdges"/></svg><use href="#fr" transform="translate(816.8,1157.7)"/>
<svg x="996.25" y="1157.7" width="127.8" height="84.3" overflow="hidden"><path d="M5.9 67.4 6.4 58.9 7.6 51.7 8.9 48.6 9.7 47.7 11.8 48.4 14.7 46.5 15.2 46.7 17.7 45.9 19.8 42 20.6 41.6 21.9 41.8 23.5 40 24 40.2 26.1 40.7 26.5 39.1 28.1 38.1 29.4 37.8 30.2 35.4 32.3 33.4 34.4 33.1 35.3 31.5 36.5 31.6 38.2 32.3 38.6 30.8 40.7 30 41.1 30.7 42.8 28 44.1 27.4 44.9 27.8 47 25.3 47 25.8 49.1 26.3 49.9 24.7 51.2 24.9 52.9 25.2 53.3 23.6 55.4 22.7 55.8 23.6 58.3 21.4 58.7 22.1 61.7 24.7 64.6 25 67.5 27.4 70.5 31 73.4 32.3 76.3 35.4 79.3 39 82.2 40.2 85.1 43.5 88.1 47 91 48.2 93.9 51.5 96.9 55 99.8 56.2 102.7 59.5 105.7 63 108.6 64.2 111.5 67.5 114.5 71 114.5 88.1 111.5 85.9 108.6 83.5 105.7 80.1 102.7 77.9 99.8 75.5 96.9 72.1 93.9 69.9 91 67.5 88.1 64.1 85.1 61.9 82.2 59.5 79.3 56.1 76.3 53.9 73.4 51.5 70.5 48.1 67.5 45.9 64.6 44.7 61.7 43 58.7 42.5 58.3 42.6 55.8 42.6 55.4 43.2 53.3 44.7 52.9 44.1 51.2 45.3 49.9 45.8 49.1 45.2 47 46.1 47 46.3 44.9 46.6 44.1 47.7 42.8 48.8 41.1 49.4 40.7 50.3 38.6 51.6 38.2 51 36.5 51.8 35.3 52.3 34.4 51.7 32.3 53.6 30.2 56.1 29.4 56.3 28.1 58.3 26.5 59.6 26.1 59.2 24 60.3 23.5 60.5 21.9 60.2 20.6 61.7 19.8 62.4 17.7 64.3 15.2 66.7 14.7 66.8 11.8 66.7 9.7 67.6 8.9 68.8 7.6 69.8 6.4 78.9 5.9 87.5Z" fill="#1f77b4" fill-opacity="0.3" stroke="#1f77b4" stroke-opacity="0.4" stroke-width="1.4" shape-rendering="crispEdges"/><path d="M5.9 69.1 6.4 60.6 7.6 53.2 8.9 50.4 9.7 49.4 11.8 49.9 14.7 48.3 15.2 48.4 17.7 47.5 19.8 43.7 20.6 43.3 21.9 43.4 23.5 41.8 24 41.9 26.1 42.3 26.5 40.8 28.1 39.8 29.4 39.3 30.2 37.2 32.3 35.2 34.4 34.7 35.3 33.3 36.5 33.3 38.2 33.8 38.6 32.5 40.7 31.7 41.1 32.3 42.8 29.7 44.1 29.1 44.9 29.3 47 27.1 47 27.5 49.1 27.9 49.9 26.5 51.2 26.6 52.9 26.7 53.3 25.4 55.4 24.5 55.8 25.1 58.3 23.2 58.7 23.8 61.7 26.4 64.6 27 67.5 29.5 70.5 32.9 73.4 34.4 76.3 37.5 79.3 40.9 82.2 42.4 85.1 45.5 88.1 48.9 91 50.4 93.9 53.5 96.9 56.9 99.8 58.4 102.7 61.5 105.7 64.9 108.6 66.4 111.5 69.5 114.5 72.9 114.5 87.5 111.5 85.2 108.6 82.8 105.7 79.5 102.7 77.2 99.8 74.8 96.9 71.5 93.9 69.2 91 66.8 88.1 63.5 85.1 61.2 82.2 58.8 79.3 55.5 76.3 53.3 73.4 50.8 70.5 47.5 67.5 45.3 64.6 43.7 61.7 41.8 58.7 40.8 58.3 40.8 55.8 40.9 55.4 41.5 53.3 42.9 52.9 42.5 51.2 43.6 49.9 44 49.1 43.6 47 44.4 47 44.6 44.9 44.9 44.1 46 42.8 47.1 41.1 47.8 40.7 48.6 38.6 49.8 38.2 49.3 36.5 50.1 35.3 50.5 34.4 50.1 32.3 51.9 30.2 54.3 29.4 54.7 28.1 56.6 26.5 57.9 26.1 57.6 24 58.6 23.5 58.8 21.9 58.6 20.6 60 19.8 60.7 17.7 62.7 15.2 65 14.7 65.1 11.8 65.1 9.7 65.9 8.9 67.1 7.6 68.2 6.4 77.2 5.9 85.8Z" fill="#ff7f0e" fill-opacity="0.24" stroke="#ff7f0e" stroke-opacity="0.3" stroke-width="1.2" shape-rendering="crispEdges"/></svg><path d="M1016.5 1157.7V1242M1045.5 1157.7V1242M1104.5 1157.7V1242" stroke="#bdbdbd" stroke-width="1"/><use href="#gr" transform="translate(996.25,1157.7)"/><svg x="996.25" y="1157.7" width="127.8" height="84.3" overflow="hidden"><path d="M5.6 84.3 6.4 68.8 7.6 60.4 9.7 57.6 15.2 56.6 17.7 54.8 19.8 52.2 21.9 50.7 24 50.2 26.1 49.7 28.1 48.2 30.2 45.8 32.3 43.5 34.4 42.2 36.5 41.7 38.6 41.3 40.7 40.2 42.8 38.5 44.9 36.9 47 35.9 49.1 35.5 51.2 35.1 53.3 34.3 55.4 33 58.3 32.1 115.7 84.3 120.2 88.5" fill="none" stroke="#fff" stroke-width="11.2" stroke-linejoin="round"/><path d="M5.6 84.3 6.4 68.8 7.6 60.4 9.7 57.6 15.2 56.6 17.7 54.8 19.8 52.2 21.9 50.7 24 50.2 26.1 49.7 28.1 48.2 30.2 45.8 32.3 43.5 34.4 42.2 36.5 41.7 38.6 41.3 40.7 40.2 42.8 38.5 44.9 36.9 47 35.9 49.1 35.5 51.2 35.1 53.3 34.3 55.4 33 58.3 32.1 115.7 84.3 120.2 88.5" fill="none" stroke="#000" stroke-width="9.6" stroke-linejoin="round" shape-rendering="crispEdges"/></svg><use href="#fr" transform="translate(996.25,1157.7)"/>
<svg x="1175.7" y="1157.7" width="127.8" height="84.3" overflow="hidden"><path d="M5.9 67 6.4 59.5 7.6 51.4 8.9 48.3 9.7 48.3 11.8 48.2 14.7 46.2 15.2 47.2 17.7 45.7 19.8 41.9 20.6 42.3 21.9 41.6 23.5 39.7 24 40.6 26.1 40.5 26.5 39 28.1 39.6 29.4 38.8 30.2 36.8 32.3 35.7 34.4 33.8 35.3 31.9 36.5 32.2 38.2 31.9 38.6 30.5 40.7 31.3 41.1 31.4 42.8 29.6 44.1 30.1 44.9 29.7 47 26.9 47 28.1 49.1 26.7 49.9 25 51.2 25.6 52.9 25.3 53.3 23.9 55.4 24.8 55.8 24.8 57.5 23.1 58.7 23.9 59.6 23.5 61.7 21.3 62.1 22.4 64.6 24 67.5 24.5 70.5 27.6 73.4 30.4 76.3 31.9 79.3 36 82.2 38.7 85.1 40.3 88.1 44.4 91 47.1 93.9 48.6 96.9 52.7 99.8 55.4 102.7 57 105.7 61.1 108.6 63.8 111.5 65.4 114.5 69.5 115.7 70.5 115.7 88.3 114.5 87 111.5 84.9 108.6 81.5 105.7 78.6 102.7 76.5 99.8 73.1 96.9 70.3 93.9 68.2 91 64.8 88.1 61.9 85.1 59.8 82.2 56.4 79.3 53.6 76.3 51.4 73.4 48 70.5 45.2 67.5 44.7 64.6 43 62.1 42 61.7 42.8 59.6 43.1 58.7 43.4 57.5 44.5 55.8 44.3 55.4 44.4 53.3 45.2 52.9 44.7 51.2 45.1 49.9 46.3 49.1 46 47 47.5 47 48.1 44.9 49 44.1 49.5 42.8 50.8 41.1 50.5 40.7 50.7 38.6 51.6 38.2 51.1 36.5 51.6 35.3 53 34.4 52.8 32.3 55.1 30.2 57.8 29.4 57.8 28.1 58.8 26.5 60 26.1 59.4 24 59.9 23.5 60.6 21.9 60.4 20.6 61.5 19.8 62.7 17.7 64.4 15.2 66.4 14.7 67 11.8 66.8 9.7 67.3 8.9 69 7.6 70 6.4 78.6 5.9 87.7Z" fill="#1f77b4" fill-opacity="0.3" stroke="#1f77b4" stroke-opacity="0.4" stroke-width="1.4" shape-rendering="crispEdges"/><path d="M5.9 68.8 6.4 61.1 7.6 53 8.9 50.1 9.7 49.9 11.8 49.7 14.7 48 15.2 48.8 17.7 47.2 19.8 43.7 20.6 43.9 21.9 43.2 23.5 41.5 24 42.3 26.1 42.1 26.5 40.8 28.1 41.2 29.4 40.4 30.2 38.6 32.3 37.4 34.4 35.4 35.3 33.7 36.5 33.8 38.2 33.5 38.6 32.3 40.7 33 41.1 33 42.8 31.4 44.1 31.7 44.9 31.3 47 28.7 47 29.7 49.1 28.3 49.9 26.8 51.2 27.2 52.9 26.9 53.3 25.7 55.4 26.5 55.8 26.4 57.5 25 58.7 25.5 59.6 25.2 61.7 23.2 62.1 24.1 64.6 25.7 67.5 26.6 70.5 29.6 73.4 32.3 76.3 34.1 79.3 37.9 82.2 40.7 85.1 42.4 88.1 46.3 91 49 93.9 50.8 96.9 54.7 99.8 57.4 102.7 59.2 105.7 63.1 108.6 65.7 111.5 67.5 114.5 71.4 115.7 72.5 115.7 87.7 114.5 86.4 111.5 84.2 108.6 80.9 105.7 78 102.7 75.8 99.8 72.5 96.9 69.7 93.9 67.4 91 64.1 88.1 61.3 85.1 59.1 82.2 55.8 79.3 53 76.3 50.7 73.4 47.4 70.5 44.6 67.5 43.6 64.6 41.6 62.1 40.4 61.7 41.1 59.6 41.4 58.7 41.8 57.5 42.8 55.8 42.6 55.4 42.7 53.3 43.5 52.9 43 51.2 43.4 49.9 44.5 49.1 44.4 47 45.9 47 46.4 44.9 47.3 44.1 47.8 42.8 49 41.1 48.9 40.7 49.1 38.6 49.9 38.2 49.4 36.5 49.9 35.3 51.2 34.4 51.2 32.3 53.4 30.2 56.1 29.4 56.1 28.1 57.2 26.5 58.2 26.1 57.8 24 58.2 23.5 58.8 21.9 58.8 20.6 59.8 19.8 61 17.7 62.8 15.2 64.7 14.7 65.2 11.8 65.2 9.7 65.7 8.9 67.2 7.6 68.3 6.4 76.9 5.9 85.9Z" fill="#ff7f0e" fill-opacity="0.24" stroke="#ff7f0e" stroke-opacity="0.3" stroke-width="1.2" shape-rendering="crispEdges"/></svg><path d="M1195.5 1157.7V1242M1210.5 1157.7V1242M1269.5 1157.7V1242M1283.5 1157.7V1242" stroke="#bdbdbd" stroke-width="1"/><use href="#gr" transform="translate(1175.7,1157.7)"/><svg x="1175.7" y="1157.7" width="127.8" height="84.3" overflow="hidden"><path d="M5.6 84.3 6.4 68.8 7.6 60.4 9.7 57.6 15.2 56.6 17.7 54.8 19.8 52.4 21.9 50.8 24 50.1 26.1 49.8 28.1 49 30.2 47.4 32.3 45.2 34.4 43.1 36.5 41.8 38.6 41.2 40.7 40.9 42.8 40.3 44.9 39.2 47 37.7 49.1 36.2 51.2 35.2 53.3 34.8 55.4 34.5 57.5 34 59.6 33.2 62.1 32.1 117 84.3 121.2 88.5" fill="none" stroke="#fff" stroke-width="11.2" stroke-linejoin="round"/><path d="M5.6 84.3 6.4 68.8 7.6 60.4 9.7 57.6 15.2 56.6 17.7 54.8 19.8 52.4 21.9 50.8 24 50.1 26.1 49.8 28.1 49 30.2 47.4 32.3 45.2 34.4 43.1 36.5 41.8 38.6 41.2 40.7 40.9 42.8 40.3 44.9 39.2 47 37.7 49.1 36.2 51.2 35.2 53.3 34.8 55.4 34.5 57.5 34 59.6 33.2 62.1 32.1 117 84.3 121.2 88.5" fill="none" stroke="#000" stroke-width="9.6" stroke-linejoin="round" shape-rendering="crispEdges"/></svg><use href="#fr" transform="translate(1175.7,1157.7)"/>
<svg x="1355.15" y="1157.7" width="127.8" height="84.3" overflow="hidden"><path d="M5.9 67.1 6.4 60 7.6 50.9 8.9 48.4 9.7 48.7 11.8 47.6 14.7 46.3 15.2 47.7 17.7 45.1 19.8 41.8 20.6 42.5 21.9 40.6 23.5 39 24 40.2 26.1 38.9 26.5 38.1 28.1 39 29.4 37.5 30.2 36.4 32.3 36 34.4 33 35.3 31.6 36.5 31.9 38.2 30 38.6 29.1 40.7 29.7 41.1 28.7 42.8 27.7 44.1 28.9 44.9 27.8 47 26.4 47 27.8 49.1 25.8 49.9 24.6 51.2 25.2 52.9 23.3 53.3 22.4 55.4 22.9 55.8 22 57.9 21.4 58.7 23.3 61.7 24.1 64.6 25.3 67.5 28.8 70.5 30.5 73.4 32.8 76.3 36.9 79.3 38.6 82.2 40.8 85.1 44.9 88.1 46.6 91 48.9 93.9 53 96.9 54.7 99.8 57 102.7 61.1 105.7 62.7 108.6 65 111.5 69.1 113.6 70 113.6 88.6 111.5 86.2 108.6 84.2 105.7 81.3 102.7 78.1 99.8 76.1 96.9 73.2 93.9 70.1 91 68.1 88.1 65.2 85.1 62 82.2 60 79.3 57.1 76.3 53.9 73.4 52 70.5 49 67.5 45.9 64.6 44.9 61.7 43.6 58.7 42.1 57.9 42.6 55.8 42.4 55.4 42 53.3 43.6 52.9 43.6 51.2 44.2 49.9 45.7 49.1 46 47 46.7 47 47.5 44.9 48 44.1 47.7 42.8 48.8 41.1 48.8 40.7 48.5 38.6 50 38.2 50 36.5 50.6 35.3 52.5 34.4 52.9 32.3 54.7 30.2 57.2 29.4 57.4 28.1 57.7 26.5 58.9 26.1 58.6 24 58.8 23.5 59.8 21.9 60.3 20.6 61.1 19.8 62.6 17.7 64.7 15.2 66.1 14.7 67 11.8 67.1 9.7 67.1 8.9 69 7.6 70.2 6.4 78.3 5.9 87.6Z" fill="#1f77b4" fill-opacity="0.3" stroke="#1f77b4" stroke-opacity="0.4" stroke-width="1.4" shape-rendering="crispEdges"/><path d="M5.9 68.9 6.4 61.5 7.6 52.5 8.9 50.2 9.7 50.2 11.8 49.3 14.7 48.1 15.2 49.2 17.7 46.8 19.8 43.6 20.6 44.1 21.9 42.3 23.5 40.8 24 41.8 26.1 40.6 26.5 39.8 28.1 40.6 29.4 39.2 30.2 38.2 32.3 37.6 34.4 34.7 35.3 33.3 36.5 33.4 38.2 31.7 38.6 30.9 40.7 31.2 41.1 30.4 42.8 29.5 44.1 30.4 44.9 29.5 47 28.2 47 29.4 49.1 27.5 49.9 26.4 51.2 26.8 52.9 25 53.3 24.3 55.4 24.5 55.8 23.7 57.9 23.2 58.7 24.9 61.7 25.9 64.6 27.3 67.5 30.7 70.5 32.6 73.4 34.9 76.3 38.8 79.3 40.7 82.2 43 85.1 46.8 88.1 48.7 91 51 93.9 54.9 96.9 56.8 99.8 59.1 102.7 63 105.7 64.8 108.6 67.2 111.5 71 113.6 72.1 113.6 87.9 111.5 85.6 108.6 83.5 105.7 80.6 102.7 77.5 99.8 75.4 96.9 72.6 93.9 69.5 91 67.4 88.1 64.5 85.1 61.4 82.2 59.3 79.3 56.5 76.3 53.4 73.4 51.3 70.5 48.4 67.5 45.3 64.6 44 61.7 42.4 58.7 40.6 57.9 40.8 55.8 40.7 55.4 40.3 53.3 41.8 52.9 41.9 51.2 42.5 49.9 44 49.1 44.3 47 45.1 47 45.7 44.9 46.3 44.1 46.1 42.8 47 41.1 47.1 40.7 46.9 38.6 48.3 38.2 48.3 36.5 49 35.3 50.7 34.4 51.2 32.3 53.1 30.2 55.5 29.4 55.7 28.1 56 26.5 57.1 26.1 56.9 24 57.2 23.5 58 21.9 58.6 20.6 59.4 19.8 60.8 17.7 63 15.2 64.5 14.7 65.2 11.8 65.4 9.7 65.5 8.9 67.2 7.6 68.6 6.4 76.7 5.9 85.9Z" fill="#ff7f0e" fill-opacity="0.24" stroke="#ff7f0e" stroke-opacity="0.3" stroke-width="1.2" shape-rendering="crispEdges"/></svg><path d="M1375.5 1157.7V1242M1433.5 1157.7V1242M1463.5 1157.7V1242" stroke="#bdbdbd" stroke-width="1"/><use href="#gr" transform="translate(1355.15,1157.7)"/><svg x="1355.15" y="1157.7" width="127.8" height="84.3" overflow="hidden"><path d="M5.6 84.3 6.4 68.8 7.6 60.4 9.7 57.6 15.2 56.6 17.7 54.8 19.8 52.3 21.9 50.4 24 49.3 26.1 48.7 28.1 48.1 30.2 46.9 32.3 45.1 34.4 42.9 36.5 41 38.6 39.7 40.7 38.9 42.8 38.4 44.9 37.9 47 37.1 49.1 35.9 51.2 34.5 53.3 33.2 55.4 32.2 57.9 32.1 114.9 84.3 119.3 88.5" fill="none" stroke="#fff" stroke-width="11.2" stroke-linejoin="round"/><path d="M5.6 84.3 6.4 68.8 7.6 60.4 9.7 57.6 15.2 56.6 17.7 54.8 19.8 52.3 21.9 50.4 24 49.3 26.1 48.7 28.1 48.1 30.2 46.9 32.3 45.1 34.4 42.9 36.5 41 38.6 39.7 40.7 38.9 42.8 38.4 44.9 37.9 47 37.1 49.1 35.9 51.2 34.5 53.3 33.2 55.4 32.2 57.9 32.1 114.9 84.3 119.3 88.5" fill="none" stroke="#000" stroke-width="9.6" stroke-linejoin="round" shape-rendering="crispEdges"/></svg><use href="#fr" transform="translate(1355.15,1157.7)"/>
<svg x="1534.6" y="1157.7" width="127.8" height="84.3" overflow="hidden"><path d="M5.9 67.5 6.4 60.1 7.6 50.3 8.9 48.8 9.7 48.8 11.8 47.1 14.7 46.7 15.2 47.8 17.7 44.6 19.8 42.5 20.6 42.9 21.9 40.4 23.5 39.7 24 40.5 26.1 38.5 26.5 38.7 28.1 39.5 29.4 37.7 30.2 37.7 32.3 37.6 34.4 34.4 35.3 33.9 36.5 33.7 38.2 30.9 38.6 30.9 40.7 30.7 41.1 29.1 42.8 28.8 44.1 29.5 44.9 27.9 47 27.9 47 28.9 49.1 27 49.9 27.1 51.2 27.6 52.9 25.2 53.3 25.4 55.4 25.1 55.8 23.4 57.5 22.9 58.7 23.3 59.6 21.5 61.7 21.9 62.5 22.8 64.6 22.5 67.5 24.6 70.5 27.2 73.4 28.2 76.3 31.3 79.3 34.8 82.2 35.9 85.1 39.1 88.1 42.5 91 43.7 93.9 46.9 96.9 50.3 99.8 51.4 102.7 54.6 105.7 58.1 108.6 59.2 111.5 62.4 114.5 65.8 117.4 67 120.3 70.2 120.3 71 120.3 88.2 120.3 88.6 117.4 86.3 114.5 83 111.5 80.8 108.6 78.5 105.7 75.2 102.7 73 99.8 70.7 96.9 67.4 93.9 65.3 91 63 88.1 59.6 85.1 57.5 82.2 55.2 79.3 51.9 76.3 49.7 73.4 47.4 70.5 44.3 67.5 43.9 64.6 43.2 62.5 41.8 61.7 42.3 59.6 42.7 58.7 42.3 57.5 43.3 55.8 44.5 55.4 44 53.3 45.8 52.9 46.2 51.2 46.4 49.9 47.4 49.1 47.9 47 47.7 47 48.2 44.9 48.8 44.1 48.3 42.8 49.1 41.1 49.9 40.7 49.4 38.6 51.2 38.2 51.7 36.5 52.4 35.3 54.1 34.4 55.1 32.3 56.1 30.2 57.8 29.4 58.2 28.1 57.9 26.5 58.8 26.1 59 24 59 23.5 59.7 21.9 60.8 20.6 61.2 19.8 62.5 17.7 65 15.2 66.1 14.7 66.7 11.8 67.4 9.7 67 8.9 68.7 7.6 70.5 6.4 78.3 5.9 87.4Z" fill="#1f77b4" fill-opacity="0.3" stroke="#1f77b4" stroke-opacity="0.4" stroke-width="1.4" shape-rendering="crispEdges"/><path d="M5.9 69.2 6.4 61.6 7.6 52.1 8.9 50.5 9.7 50.3 11.8 48.8 14.7 48.4 15.2 49.3 17.7 46.3 19.8 44.2 20.6 44.4 21.9 42.1 23.5 41.4 24 42.1 26.1 40.3 26.5 40.4 28.1 41 29.4 39.4 30.2 39.4 32.3 39.1 34.4 36.2 35.3 35.6 36.5 35.3 38.2 32.7 38.6 32.7 40.7 32.2 41.1 30.9 42.8 30.5 44.1 31.1 44.9 29.7 47 29.6 47 30.5 49.1 28.8 49.9 28.8 51.2 29.1 52.9 27 53.3 27.2 55.4 26.7 55.8 25.2 57.5 24.7 58.7 24.9 59.6 23.3 61.7 23.6 62.5 24.4 64.6 24.4 67.5 26.6 70.5 29 73.4 30.3 76.3 33.4 79.3 36.7 82.2 38.1 85.1 41.1 88.1 44.5 91 45.8 93.9 48.9 96.9 52.2 99.8 53.6 102.7 56.7 105.7 60 108.6 61.4 111.5 64.5 114.5 67.8 117.4 69.1 120.3 72.3 120.3 72.9 120.3 87.6 120.3 87.9 117.4 85.6 114.5 82.4 111.5 80.1 108.6 77.8 105.7 74.6 102.7 72.4 99.8 70 96.9 66.8 93.9 64.6 91 62.3 88.1 59.1 85.1 56.8 82.2 54.5 79.3 51.3 76.3 49.1 73.4 46.7 70.5 43.7 67.5 42.8 64.6 41.7 62.5 40.2 61.7 40.6 59.6 40.9 58.7 40.7 57.5 41.6 55.8 42.8 55.4 42.4 53.3 44.1 52.9 44.5 51.2 44.8 49.9 45.7 49.1 46.2 47 46.1 47 46.5 44.9 47 44.1 46.6 42.8 47.3 41.1 48.2 40.7 47.7 38.6 49.5 38.2 49.9 36.5 50.7 35.3 52.4 34.4 53.4 32.3 54.5 30.2 56.1 29.4 56.5 28.1 56.3 26.5 57.1 26.1 57.3 24 57.3 23.5 58 21.9 59.1 20.6 59.6 19.8 60.8 17.7 63.2 15.2 64.5 14.7 65 11.8 65.6 9.7 65.4 8.9 67 7.6 68.8 6.4 76.7 5.9 85.7Z" fill="#ff7f0e" fill-opacity="0.24" stroke="#ff7f0e" stroke-opacity="0.3" stroke-width="1.2" shape-rendering="crispEdges"/></svg><path d="M1554.5 1157.7V1242M1583.5 1157.7V1242M1613.5 1157.7V1242M1627.5 1157.7V1242" stroke="#bdbdbd" stroke-width="1"/><use href="#gr" transform="translate(1534.6,1157.7)"/><svg x="1534.6" y="1157.7" width="127.8" height="84.3" overflow="hidden"><path d="M5.6 84.3 6.4 68.8 7.6 60.4 9.7 57.6 15.2 56.6 17.7 54.8 19.8 52.5 21.9 50.6 24 49.4 26.1 48.8 28.1 48.4 30.2 47.7 32.3 46.6 34.4 44.8 36.5 42.8 38.6 41.1 40.7 39.8 42.8 38.9 44.9 38.4 47 38.1 49.1 37.6 51.2 36.8 53.3 35.6 55.4 34.4 57.5 33.2 59.6 32.3 62.5 32.1 121.6 84.3 126.1 88.5" fill="none" stroke="#fff" stroke-width="11.2" stroke-linejoin="round"/><path d="M5.6 84.3 6.4 68.8 7.6 60.4 9.7 57.6 15.2 56.6 17.7 54.8 19.8 52.5 21.9 50.6 24 49.4 26.1 48.8 28.1 48.4 30.2 47.7 32.3 46.6 34.4 44.8 36.5 42.8 38.6 41.1 40.7 39.8 42.8 38.9 44.9 38.4 47 38.1 49.1 37.6 51.2 36.8 53.3 35.6 55.4 34.4 57.5 33.2 59.6 32.3 62.5 32.1 121.6 84.3 126.1 88.5" fill="none" stroke="#000" stroke-width="9.6" stroke-linejoin="round" shape-rendering="crispEdges"/></svg><use href="#fr" transform="translate(1534.6,1157.7)"/>
<svg x="1714.05" y="1157.7" width="127.8" height="84.3" overflow="hidden"><path d="M5.9 68.1 6.4 59.9 7.6 50 8.9 49.4 9.7 48.6 11.8 46.8 14.7 47.3 15.2 47.5 17.7 44.3 19.8 42.9 20.6 42.3 21.9 39.7 23.5 39.6 24 39.6 26.1 37.2 26.5 38.3 28.1 37.9 29.4 36.1 30.2 37 32.3 36.2 34.4 33.4 35.3 33.8 36.5 32.8 38.2 30.1 38.6 30.9 40.7 29.4 41.1 27.8 42.8 27.9 44.1 27.4 44.9 25.7 47 26.3 47 26.3 49.1 24.5 49.9 25.6 51.2 25.3 52.9 23.5 53.3 24.6 55.4 23.8 55.8 22.3 57.9 22.4 58.7 22.9 61.7 23.4 64.6 26.3 67.5 28.4 70.5 29.9 73.4 33.8 76.3 36.5 79.3 37.9 82.2 41.9 85.1 44.5 88.1 46 91 50 93.9 52.6 96.9 54 99.8 58 102.7 60.6 105.7 62.1 108.6 66.1 111.5 68.7 113.6 69.4 113.6 88.9 111.5 86.4 108.6 83.6 105.7 81.6 102.7 78.3 99.8 75.6 96.9 73.6 93.9 70.3 91 67.5 88.1 65.5 85.1 62.2 82.2 59.5 79.3 57.4 76.3 54.1 73.4 51.4 70.5 49.4 67.5 46.1 64.6 44.3 61.7 44 58.7 42.3 57.9 42 55.8 43.8 55.4 43.4 53.3 44.2 52.9 44.9 51.2 44.8 49.9 45.1 49.1 45.9 47 45.7 47 45.7 44.9 47 44.1 46.7 42.8 47.4 41.1 49.1 40.7 48.7 38.6 50.4 38.2 51.3 36.5 52 35.3 53.1 34.4 54.5 32.3 55.2 30.2 56.3 29.4 57.2 28.1 56.9 26.5 57.5 26.1 58.2 24 58.5 23.5 58.9 21.9 60.6 20.6 61.2 19.8 62.1 17.7 65.1 15.2 66.2 14.7 66.4 11.8 67.5 9.7 67.2 8.9 68.5 7.6 70.7 6.4 78.4 5.9 87.1Z" fill="#1f77b4" fill-opacity="0.3" stroke="#1f77b4" stroke-opacity="0.4" stroke-width="1.4" shape-rendering="crispEdges"/><path d="M5.9 69.7 6.4 61.4 7.6 51.8 8.9 51 9.7 50.1 11.8 48.6 14.7 48.9 15.2 49.1 17.7 46.1 19.8 44.5 20.6 43.9 21.9 41.5 23.5 41.3 24 41.2 26.1 39.1 26.5 39.9 28.1 39.5 29.4 38 30.2 38.6 32.3 37.8 34.4 35.2 35.3 35.4 36.5 34.4 38.2 31.9 38.6 32.6 40.7 31.1 41.1 29.7 42.8 29.6 44.1 29.1 44.9 27.6 47 27.9 47 28 49.1 26.4 49.9 27.2 51.2 27 52.9 25.4 53.3 26.3 55.4 25.5 55.8 24.2 57.9 24.1 58.7 24.6 61.7 25.4 64.6 28.2 67.5 30.4 70.5 32 73.4 35.8 76.3 38.5 79.3 40.1 82.2 43.9 85.1 46.5 88.1 48.2 91 51.9 93.9 54.6 96.9 56.2 99.8 60 102.7 62.6 105.7 64.3 108.6 68.1 111.5 70.6 113.6 71.6 113.6 88.2 111.5 85.8 108.6 83 105.7 80.9 102.7 77.7 99.8 75 96.9 72.9 93.9 69.7 91 66.9 88.1 64.8 85.1 61.6 82.2 58.9 79.3 56.7 76.3 53.5 73.4 50.8 70.5 48.7 67.5 45.5 64.6 43.5 61.7 42.7 58.7 40.7 57.9 40.4 55.8 42 55.4 41.7 53.3 42.5 52.9 43.2 51.2 43.1 49.9 43.4 49.1 44.1 47 44 47 44.1 44.9 45.2 44.1 45.1 42.8 45.7 41.1 47.3 40.7 47 38.6 48.7 38.2 49.5 36.5 50.3 35.3 51.5 34.4 52.7 32.3 53.6 30.2 54.7 29.4 55.4 28.1 55.3 26.5 55.9 26.1 56.5 24 56.8 23.5 57.2 21.9 58.9 20.6 59.5 19.8 60.5 17.7 63.4 15.2 64.6 14.7 64.8 11.8 65.8 9.7 65.6 8.9 66.8 7.6 68.9 6.4 76.8 5.9 85.5Z" fill="#ff7f0e" fill-opacity="0.24" stroke="#ff7f0e" stroke-opacity="0.3" stroke-width="1.2" shape-rendering="crispEdges"/></svg><path d="M1734.5 1157.7V1242M1748.5 1157.7V1242M1807.5 1157.7V1242M1822.5 1157.7V1242" stroke="#bdbdbd" stroke-width="1"/><use href="#gr" transform="translate(1714.05,1157.7)"/><svg x="1714.05" y="1157.7" width="127.8" height="84.3" overflow="hidden"><path d="M5.6 84.3 6.4 68.8 7.6 60.4 9.7 57.6 15.2 56.6 17.7 54.8 19.8 52.3 21.9 50.3 24 48.8 26.1 47.9 28.1 47.2 30.2 46.5 32.3 45.5 34.4 44.1 36.5 42.2 38.6 40.5 40.7 38.9 42.8 37.5 44.9 36.5 47 35.9 49.1 35.4 51.2 34.9 53.3 34.3 55.4 33.5 57.9 32.1 114.9 84.3 119.3 88.5" fill="none" stroke="#fff" stroke-width="11.2" stroke-linejoin="round"/><path d="M5.6 84.3 6.4 68.8 7.6 60.4 9.7 57.6 15.2 56.6 17.7 54.8 19.8 52.3 21.9 50.3 24 48.8 26.1 47.9 28.1 47.2 30.2 46.5 32.3 45.5 34.4 44.1 36.5 42.2 38.6 40.5 40.7 38.9 42.8 37.5 44.9 36.5 47 35.9 49.1 35.4 51.2 34.9 53.3 34.3 55.4 33.5 57.9 32.1 114.9 84.3 119.3 88.5" fill="none" stroke="#000" stroke-width="9.6" stroke-linejoin="round" shape-rendering="crispEdges"/></svg><use href="#fr" transform="translate(1714.05,1157.7)"/>
<svg x="1893.5" y="1157.7" width="127.8" height="84.3" overflow="hidden"><path d="M5.9 68.6 6.4 59.3 7.6 50.1 8.9 49.9 9.7 48 11.8 46.9 14.7 47.8 15.2 47 17.7 44.4 19.8 43.6 20.6 42.1 21.9 40.2 23.5 40.5 24 39.5 26.1 37.8 26.5 39.1 28.1 37.9 29.4 36.9 30.2 38.1 32.3 36.7 34.4 35 35.3 35.9 36.5 34.3 38.2 32.2 38.6 33.3 40.7 30.9 41.1 30 42.8 30.2 44.1 28.6 44.9 27.5 47 27.9 47 27.1 49.1 25.8 49.9 27.1 51.2 25.9 52.9 25 53.3 26.4 55.4 25 55.8 24.4 57.5 25.3 58.7 23.9 59.6 23.1 61.7 23.6 61.7 22.6 63.3 21.4 64.6 23.5 67.5 24.3 70.5 25.6 73.4 29.3 76.3 31 79.3 33.3 82.2 37.4 85.1 39.1 88.1 41.4 91 45.5 93.9 47.2 96.9 49.5 99.8 53.6 102.7 55.3 105.7 57.6 108.6 61.8 111.5 63.4 114.5 65.8 117.4 69.9 118.6 70 118.6 88.6 117.4 86.9 114.5 84.9 111.5 82 108.6 78.8 105.7 76.8 102.7 73.9 99.8 70.7 96.9 68.7 93.9 65.8 91 62.6 88.1 60.6 85.1 57.7 82.2 54.4 79.3 52.5 76.3 49.5 73.4 46.3 70.5 45.1 67.5 43.8 64.6 42.3 63.3 42.6 61.7 43.1 61.7 42.6 59.6 44.2 58.7 44.3 57.5 44.3 55.8 45.5 55.4 45.3 53.3 45.3 52.9 46.1 51.2 46.1 49.9 46 49.1 46.9 47 47.2 47 46.8 44.9 48.5 44.1 48.7 42.8 49 41.1 50.9 40.7 50.9 38.6 52.1 38.2 53.1 36.5 54.2 35.3 54.6 34.4 55.9 32.3 56.5 30.2 56.8 29.4 57.7 28.1 57.6 26.5 57.7 26.1 58.6 24 59.1 23.5 59 21.9 60.9 20.6 61.7 19.8 62.1 17.7 65.1 15.2 66.5 14.7 66.2 11.8 67.5 9.7 67.4 8.9 68.2 7.6 70.6 6.4 78.7 5.9 86.9Z" fill="#1f77b4" fill-opacity="0.3" stroke="#1f77b4" stroke-opacity="0.4" stroke-width="1.4" shape-rendering="crispEdges"/><path d="M5.9 70.1 6.4 61 7.6 51.9 8.9 51.4 9.7 49.7 11.8 48.6 14.7 49.3 15.2 48.6 17.7 46.2 19.8 45.1 20.6 43.7 21.9 42 23.5 42 24 41.1 26.1 39.6 26.5 40.7 28.1 39.5 29.4 38.7 30.2 39.7 32.3 38.4 34.4 36.8 35.3 37.5 36.5 35.9 38.2 34 38.6 34.9 40.7 32.6 41.1 31.8 42.8 31.8 44.1 30.3 44.9 29.3 47 29.5 47 28.8 49.1 27.6 49.9 28.6 51.2 27.6 52.9 26.9 53.3 28 55.4 26.8 55.8 26.2 57.5 26.9 58.7 25.6 59.6 24.9 61.7 25.1 61.7 24.4 63.3 23.2 64.6 25.2 67.5 26.2 70.5 27.7 73.4 31.2 76.3 33.1 79.3 35.4 82.2 39.3 85.1 41.2 88.1 43.5 91 47.4 93.9 49.3 96.9 51.7 99.8 55.5 102.7 57.4 105.7 59.8 108.6 63.7 111.5 65.5 114.5 67.9 117.4 71.8 118.6 72.1 118.6 87.9 117.4 86.3 114.5 84.2 111.5 81.4 108.6 78.2 105.7 76.1 102.7 73.2 99.8 70.1 96.9 68 93.9 65.1 91 62 88.1 59.9 85.1 57 82.2 53.9 79.3 51.8 76.3 48.9 73.4 45.8 70.5 44.2 67.5 42.6 64.6 40.8 63.3 40.8 61.7 41.3 61.7 40.9 59.6 42.5 58.7 42.6 57.5 42.6 55.8 43.7 55.4 43.6 53.3 43.7 52.9 44.4 51.2 44.4 49.9 44.3 49.1 45.1 47 45.5 47 45.1 44.9 46.7 44.1 47 42.8 47.4 41.1 49.2 40.7 49.2 38.6 50.4 38.2 51.4 36.5 52.5 35.3 53 34.4 54.1 32.3 54.8 30.2 55.1 29.4 55.9 28.1 55.9 26.5 56.1 26.1 56.8 24 57.5 23.5 57.4 21.9 59.2 20.6 60 19.8 60.5 17.7 63.3 15.2 64.8 14.7 64.6 11.8 65.7 9.7 65.8 8.9 66.6 7.6 68.9 6.4 77 5.9 85.3Z" fill="#ff7f0e" fill-opacity="0.24" stroke="#ff7f0e" stroke-opacity="0.3" stroke-width="1.2" shape-rendering="crispEdges"/></svg><path d="M1928.5 1157.7V1242M1942.5 1157.7V1242M1972.5 1157.7V1242M1986.5 1157.7V1242" stroke="#bdbdbd" stroke-width="1"/><use href="#gr" transform="translate(1893.5,1157.7)"/><svg x="1893.5" y="1157.7" width="127.8" height="84.3" overflow="hidden"><path d="M5.6 84.3 6.4 68.8 7.6 60.4 9.7 57.6 15.2 56.6 17.7 54.8 19.8 52.6 21.9 50.6 24 49.2 26.1 48.3 28.1 47.7 30.2 47.2 32.3 46.5 34.4 45.6 36.5 44.2 38.6 42.4 40.7 40.9 42.8 39.4 44.9 38.1 47 37.1 49.1 36.5 51.2 36 53.3 35.7 55.4 35.2 57.5 34.6 59.6 33.8 61.7 32.9 63.3 32.1 119.9 84.3 124.3 88.5" fill="none" stroke="#fff" stroke-width="11.2" stroke-linejoin="round"/><path d="M5.6 84.3 6.4 68.8 7.6 60.4 9.7 57.6 15.2 56.6 17.7 54.8 19.8 52.6 21.9 50.6 24 49.2 26.1 48.3 28.1 47.7 30.2 47.2 32.3 46.5 34.4 45.6 36.5 44.2 38.6 42.4 40.7 40.9 42.8 39.4 44.9 38.1 47 37.1 49.1 36.5 51.2 36 53.3 35.7 55.4 35.2 57.5 34.6 59.6 33.8 61.7 32.9 63.3 32.1 119.9 84.3 124.3 88.5" fill="none" stroke="#000" stroke-width="9.6" stroke-linejoin="round" shape-rendering="crispEdges"/></svg><use href="#fr" transform="translate(1893.5,1157.7)"/>
<svg x="2072.95" y="1157.7" width="127.8" height="84.3" overflow="hidden"><path d="M5.9 68.7 6.4 58.8 7.6 50.5 8.9 50 9.7 47.5 11.8 47.3 14.7 47.9 15.2 46.4 17.7 44.8 19.8 43.6 20.6 41.5 21.9 40.5 23.5 40.3 24 38.6 26.1 37.8 26.5 38.7 28.1 36.7 29.4 36.6 30.2 37.4 32.3 35.4 34.4 34.9 35.3 35.5 36.5 33.3 38.2 32.5 38.6 33.2 40.7 30.4 41.1 30.4 42.8 30.2 44.1 27.9 44.9 27.7 47 27.5 47 26 49.1 25.4 49.9 26.1 51.2 24.2 52.9 24.2 53.3 25.1 55.4 23.3 55.8 23.7 57.5 24.3 58.7 22.6 59.6 22.9 61.2 22.8 61.7 21.6 64.6 23.8 67.5 26.4 70.5 26.9 73.4 30.1 76.3 33.7 79.3 34.9 82.2 38.1 85.1 41.7 88.1 42.9 91 46.1 93.9 49.7 96.9 50.9 99.8 54.2 102.7 57.7 105.7 58.9 108.6 62.2 111.5 65.7 114.5 66.9 117.4 70.2 117.4 71 117.4 88.1 117.4 88.5 114.5 86.2 111.5 82.8 108.6 80.5 105.7 78.2 102.7 74.8 99.8 72.5 96.9 70.2 93.9 66.8 91 64.5 88.1 62.2 85.1 58.8 82.2 56.6 79.3 54.2 76.3 50.8 73.4 48.6 70.5 46.2 67.5 44 64.6 43.4 61.7 42.7 61.2 41.8 59.6 43.3 58.7 43.7 57.5 43.3 55.8 44 55.4 44.4 53.3 44 52.9 44.6 51.2 45.2 49.9 45 49.1 45.8 47 47 47 46.3 44.9 48 44.1 48.8 42.8 49 41.1 50.7 40.7 51.2 38.6 51.9 38.2 52.7 36.5 54.1 35.3 54.1 34.4 55.1 32.3 56 30.2 56 29.4 56.7 28.1 57.2 26.5 57.2 26.1 57.9 24 59.1 23.5 58.8 21.9 60.6 20.6 61.9 19.8 62 17.7 64.8 15.2 66.8 14.7 66.2 11.8 67.2 9.7 67.7 8.9 68.2 7.6 70.4 6.4 78.9 5.9 86.9Z" fill="#1f77b4" fill-opacity="0.3" stroke="#1f77b4" stroke-opacity="0.4" stroke-width="1.4" shape-rendering="crispEdges"/><path d="M5.9 70.2 6.4 60.5 7.6 52.2 8.9 51.5 9.7 49.2 11.8 49 14.7 49.4 15.2 48.2 17.7 46.5 19.8 45.2 20.6 43.2 21.9 42.2 23.5 41.9 24 40.4 26.1 39.5 26.5 40.2 28.1 38.4 29.4 38.3 30.2 39 32.3 37.2 34.4 36.6 35.3 37 36.5 35.1 38.2 34.2 38.6 34.8 40.7 32.1 41.1 32.1 42.8 31.8 44.1 29.7 44.9 29.5 47 29 47 27.8 49.1 27.2 49.9 27.7 51.2 26 52.9 26 53.3 26.7 55.4 25.1 55.8 25.4 57.5 25.9 58.7 24.4 59.6 24.6 61.2 24.4 61.7 23.4 64.6 25.7 67.5 28.2 70.5 29.1 73.4 32.2 76.3 35.6 79.3 37.1 82.2 40.2 85.1 43.6 88.1 45.1 91 48.2 93.9 51.6 96.9 53 99.8 56.2 102.7 59.6 105.7 61 108.6 64.2 111.5 67.6 114.5 69 117.4 72.2 117.4 72.9 117.4 87.5 117.4 87.9 114.5 85.5 111.5 82.2 108.6 79.9 105.7 77.5 102.7 74.2 99.8 71.9 96.9 69.5 93.9 66.2 91 63.9 88.1 61.5 85.1 58.2 82.2 55.9 79.3 53.5 76.3 50.2 73.4 47.9 70.5 45.5 67.5 43.1 64.6 42.1 61.7 41 61.2 40.2 59.6 41.6 58.7 42 57.5 41.6 55.8 42.3 55.4 42.6 53.3 42.4 52.9 42.9 51.2 43.5 49.9 43.3 49.1 44 47 45.2 47 44.6 44.9 46.3 44.1 47.1 42.8 47.3 41.1 49 40.7 49.4 38.6 50.3 38.2 51 36.5 52.3 35.3 52.4 34.4 53.3 32.3 54.3 30.2 54.3 29.4 55 28.1 55.5 26.5 55.5 26.1 56.2 24 57.4 23.5 57.1 21.9 58.9 20.6 60.2 19.8 60.4 17.7 63.1 15.2 65 14.7 64.6 11.8 65.5 9.7 66 8.9 66.6 7.6 68.7 6.4 77.2 5.9 85.2Z" fill="#ff7f0e" fill-opacity="0.24" stroke="#ff7f0e" stroke-opacity="0.3" stroke-width="1.2" shape-rendering="crispEdges"/></svg><path d="M2092.5 1157.7V1242M2122.5 1157.7V1242M2166.5 1157.7V1242M2180.5 1157.7V1242" stroke="#bdbdbd" stroke-width="1"/><use href="#gr" transform="translate(2072.95,1157.7)"/><svg x="2072.95" y="1157.7" width="127.8" height="84.3" overflow="hidden"><path d="M5.6 84.3 6.4 68.8 7.6 60.4 9.7 57.6 15.2 56.6 17.7 54.8 19.8 52.5 21.9 50.5 24 48.9 26.1 47.8 28.1 47 30.2 46.4 32.3 45.8 34.4 45 36.5 43.8 38.6 42.3 40.7 40.9 42.8 39.3 44.9 37.9 47 36.6 49.1 35.6 51.2 34.9 53.3 34.3 55.4 33.9 57.5 33.6 59.6 33.2 61.2 32.1 118.6 84.3 123.1 88.5" fill="none" stroke="#fff" stroke-width="11.2" stroke-linejoin="round"/><path d="M5.6 84.3 6.4 68.8 7.6 60.4 9.7 57.6 15.2 56.6 17.7 54.8 19.8 52.5 21.9 50.5 24 48.9 26.1 47.8 28.1 47 30.2 46.4 32.3 45.8 34.4 45 36.5 43.8 38.6 42.3 40.7 40.9 42.8 39.3 44.9 37.9 47 36.6 49.1 35.6 51.2 34.9 53.3 34.3 55.4 33.9 57.5 33.6 59.6 33.2 61.2 32.1 118.6 84.3 123.1 88.5" fill="none" stroke="#000" stroke-width="9.6" stroke-linejoin="round" shape-rendering="crispEdges"/></svg><use href="#fr" transform="translate(2072.95,1157.7)"/>
<text transform="translate(2220.5,1198.35) rotate(90)" font-size="53.33" text-anchor="middle">0.09</text>
<svg x="278.45" y="1275.6" width="127.8" height="84.3" overflow="hidden"><path d="M5.9 68.5 6.4 58.5 7.6 51 8.9 49.8 9.7 47.2 11.4 46.8 11.8 46.9 14.7 43.2 16 43.2 17.7 44.7 20.2 45 20.6 45.5 23.5 42.3 26.1 37.9 26.5 38.6 28.1 37.8 29.4 35.4 30.2 35.9 32.3 34.8 34.4 31.9 35.3 32.5 36.5 32 38.2 29.7 38.6 30.6 40.7 29.8 41.1 28.2 42.8 28.4 44.1 28 44.9 26.2 47 26.3 47 26.6 49.1 24.2 49.9 25 51.2 24.7 52.9 22.6 53.3 23.6 55.4 23 55.8 21.5 57.1 22.3 58.7 23.5 61.7 23.9 64.6 26.9 67.5 29.5 70.5 30.9 73.4 34.8 76.3 37.7 79.3 39.1 82.2 43.1 85.1 46 88.1 47.4 91 51.3 93.9 54.2 96.9 55.6 99.8 59.6 102.7 62.4 105.7 63.9 108.6 67.9 111.5 70.6 111.5 88.2 108.6 85.5 105.7 83.4 102.7 80 99.8 77.3 96.9 75.2 93.9 71.8 91 69.1 88.1 66.9 85.1 63.5 82.2 60.8 79.3 58.7 76.3 55.3 73.4 52.6 70.5 50.4 67.5 47 64.6 44.8 61.7 44.3 58.7 42.6 57.1 42.1 55.8 43 55.4 42.4 53.3 43.3 52.9 44 51.2 44 49.9 44.7 49.1 45.6 47 45.8 47 46 44.9 47.5 44.1 47.2 42.8 48 41.1 49.4 40.7 48.9 38.6 50.1 38.2 50.9 36.5 51.1 35.3 52 34.4 53 32.3 53.7 30.2 55.3 29.4 56.5 28.1 56.6 26.5 58 26.1 58.8 23.5 61.1 20.6 64.8 20.2 65.8 17.7 63.4 16 62.5 14.7 63.9 11.8 65.4 11.4 66 9.7 67.9 8.9 68.3 7.6 70.2 6.4 79.1 5.9 86.9Z" fill="#1f77b4" fill-opacity="0.3" stroke="#1f77b4" stroke-opacity="0.4" stroke-width="1.4" shape-rendering="crispEdges"/><path d="M5.9 70 6.4 60.3 7.6 52.6 8.9 51.3 9.7 49 11.4 48.4 11.8 48.4 14.7 45 16 44.8 17.7 46.3 20.2 46.8 20.6 47.1 23.5 43.9 26.1 39.7 26.5 40.2 28.1 39.3 29.4 37.3 30.2 37.5 32.3 36.3 34.4 33.7 35.3 34.1 36.5 33.6 38.2 31.6 38.6 32.2 40.7 31.4 41.1 30 42.8 30 44.1 29.6 44.9 28.1 47 28 47 28.2 49.1 26.1 49.9 26.6 51.2 26.3 52.9 24.4 53.3 25.2 55.4 24.6 55.8 23.4 57.1 24 58.7 25.2 61.7 26 64.6 28.8 67.5 31.5 70.5 33.1 73.4 36.8 76.3 39.7 79.3 41.3 82.2 45.1 85.1 47.9 88.1 49.6 91 53.3 93.9 56.2 96.9 57.8 99.8 61.6 102.7 64.4 105.7 66 108.6 69.8 111.5 72.6 111.5 87.6 108.6 84.9 105.7 82.7 102.7 79.4 99.8 76.7 96.9 74.4 93.9 71.2 91 68.4 88.1 66.2 85.1 62.9 82.2 60.2 79.3 58 76.3 54.7 73.4 52 70.5 49.7 67.5 46.4 64.6 44.1 61.7 43.2 58.7 41.1 57.1 40.4 55.8 41.2 55.4 40.8 53.3 41.6 52.9 42.2 51.2 42.3 49.9 43 49.1 43.8 47 44.2 47 44.3 44.9 45.7 44.1 45.6 42.8 46.3 41.1 47.6 40.7 47.2 38.6 48.5 38.2 49.1 36.5 49.4 35.3 50.3 34.4 51.2 32.3 52.1 30.2 53.7 29.4 54.7 28.1 55 26.5 56.3 26.1 57.1 23.5 59.5 20.6 63.1 20.2 64.1 17.7 61.8 16 60.8 14.7 62.2 11.8 63.8 11.4 64.3 9.7 66.1 8.9 66.6 7.6 68.5 6.4 77.3 5.9 85.3Z" fill="#ff7f0e" fill-opacity="0.24" stroke="#ff7f0e" stroke-opacity="0.3" stroke-width="1.2" shape-rendering="crispEdges"/></svg><path d="M298.5 1275.6V1359.9M313.5 1275.6V1359.9M357.5 1275.6V1359.9M386.5 1275.6V1359.9" stroke="#bdbdbd" stroke-width="1"/><use href="#gr" transform="translate(278.45,1275.6)"/><svg x="278.45" y="1275.6" width="127.8" height="84.3" overflow="hidden"><path d="M5.6 84.3 6.4 68.8 7.6 60.4 9.7 57.6 11.4 56.2 16 52.7 20.2 55.5 26.1 48.5 28.1 47 30.2 45.5 32.3 44 34.4 42.6 36.5 41.4 38.6 40.2 40.7 39.1 42.8 38.1 44.9 37 47 36 49.1 35.1 51.2 34.2 53.3 33.3 55.4 32.6 57.1 32.1 112.8 84.3 117.1 88.5" fill="none" stroke="#fff" stroke-width="11.2" stroke-linejoin="round"/><path d="M5.6 84.3 6.4 68.8 7.6 60.4 9.7 57.6 11.4 56.2 16 52.7 20.2 55.5 26.1 48.5 28.1 47 30.2 45.5 32.3 44 34.4 42.6 36.5 41.4 38.6 40.2 40.7 39.1 42.8 38.1 44.9 37 47 36 49.1 35.1 51.2 34.2 53.3 33.3 55.4 32.6 57.1 32.1 112.8 84.3 117.1 88.5" fill="none" stroke="#000" stroke-width="9.6" stroke-linejoin="round" shape-rendering="crispEdges"/></svg><use href="#fr" transform="translate(278.45,1275.6)"/>
<text x="241.45" y="1375.5" font-size="44.44" text-anchor="end">0</text>
<text x="241.45" y="1333.35" font-size="44.44" text-anchor="end">3</text>
<text x="241.45" y="1291.2" font-size="44.44" text-anchor="end">6</text>
<text x="283.55" y="1433.9" font-size="53.33" text-anchor="middle">0</text>
<text x="400.87" y="1433.9" font-size="53.33" text-anchor="middle">28</text>
<svg x="457.9" y="1275.6" width="127.8" height="84.3" overflow="hidden"><path d="M5.9 68 6.4 58.5 7.6 51.5 8.9 49.3 9.7 47.2 11.4 47.2 11.8 46.4 14.7 43.2 16 43.7 17.7 44.2 20.2 45 20.6 46 23.5 41.8 26.1 37.9 26.5 39.1 28.1 37.3 29.4 35.6 30.2 36.4 32.3 34.4 34.4 32.1 35.3 33.1 36.5 31.7 38.2 30 38.6 31.2 40.7 29.4 41.1 28.5 42.8 29.1 44.1 27.7 44.9 26.6 47 27 47 26.3 49.1 24.6 49.9 25.7 51.2 24.4 52.9 23 53.3 24.3 55.4 22.7 55.8 21.9 57.9 22.8 58.7 22.5 61.7 23.6 64.6 26.9 67.5 28.3 70.5 30.4 73.4 34.7 76.3 36.6 79.3 38.8 82.2 43.1 85.1 45 88.1 47.2 91 51.4 93.9 53.3 96.9 55.6 99.8 59.8 102.7 61.7 105.7 63.9 108.6 68.2 111.5 70.1 111.5 88.5 108.6 85.3 105.7 83.2 102.7 80.1 99.8 76.9 96.9 74.8 93.9 71.8 91 68.5 88.1 66.5 85.1 63.4 82.2 60.2 79.3 58.1 76.3 55 73.4 51.8 70.5 49.8 67.5 46.7 64.6 44.4 61.7 44 58.7 42.6 57.9 41.9 55.8 43.2 55.4 43 53.3 43.3 52.9 44.2 51.2 44.5 49.9 44.7 49.1 45.8 47 46.4 47 46 44.9 47.7 44.1 47.7 42.8 48 41.1 49.5 40.7 49.4 38.6 50.1 38.2 51 36.5 51.5 35.3 51.9 34.4 53.1 32.3 54.1 30.2 55.2 29.4 56.5 28.1 56.9 26.5 57.8 26.1 58.8 23.5 61.4 20.6 64.6 20.2 65.8 17.7 63.7 16 62.2 14.7 63.9 11.8 65.7 11.4 65.7 9.7 67.9 8.9 68.5 7.6 69.9 6.4 79.1 5.9 87.2Z" fill="#1f77b4" fill-opacity="0.3" stroke="#1f77b4" stroke-opacity="0.4" stroke-width="1.4" shape-rendering="crispEdges"/><path d="M5.9 69.6 6.4 60.3 7.6 53 8.9 50.9 9.7 49 11.4 48.8 11.8 48 14.7 45 16 45.2 17.7 45.9 20.2 46.8 20.6 47.5 23.5 43.5 26.1 39.7 26.5 40.6 28.1 38.9 29.4 37.4 30.2 38 32.3 36 34.4 33.9 35.3 34.6 36.5 33.3 38.2 31.8 38.6 32.8 40.7 31.1 41.1 30.3 42.8 30.6 44.1 29.4 44.9 28.4 47 28.6 47 28 49.1 26.4 49.9 27.3 51.2 26.1 52.9 24.8 53.3 25.9 55.4 24.4 55.8 23.7 57.9 24.3 58.7 24.2 61.7 25.6 64.6 28.7 67.5 30.4 70.5 32.6 73.4 36.6 76.3 38.7 79.3 41 82.2 45 85.1 47.1 88.1 49.4 91 53.4 93.9 55.4 96.9 57.7 99.8 61.7 102.7 63.8 105.7 66.1 108.6 70.1 111.5 72.1 111.5 87.9 108.6 84.7 105.7 82.5 102.7 79.5 99.8 76.3 96.9 74.1 93.9 71.1 91 68 88.1 65.8 85.1 62.7 82.2 59.6 79.3 57.4 76.3 54.4 73.4 51.2 70.5 49.1 67.5 46 64.6 43.6 61.7 42.7 58.7 41 57.9 40.2 55.8 41.4 55.4 41.2 53.3 41.7 52.9 42.5 51.2 42.8 49.9 43.1 49.1 44 47 44.7 47 44.4 44.9 45.9 44.1 46 42.8 46.3 41.1 47.8 40.7 47.7 38.6 48.4 38.2 49.3 36.5 49.8 35.3 50.3 34.4 51.4 32.3 52.4 30.2 53.5 29.4 54.7 28.1 55.2 26.5 56.2 26.1 57.1 23.5 59.7 20.6 62.9 20.2 64.1 17.7 62 16 60.6 14.7 62.2 11.8 64 11.4 64.1 9.7 66.1 8.9 66.9 7.6 68.3 6.4 77.3 5.9 85.5Z" fill="#ff7f0e" fill-opacity="0.24" stroke="#ff7f0e" stroke-opacity="0.3" stroke-width="1.2" shape-rendering="crispEdges"/></svg><path d="M492.5 1275.6V1359.9M507.5 1275.6V1359.9M536.5 1275.6V1359.9M551.5 1275.6V1359.9" stroke="#bdbdbd" stroke-width="1"/><use href="#gr" transform="translate(457.9,1275.6)"/><svg x="457.9" y="1275.6" width="127.8" height="84.3" overflow="hidden"><path d="M5.6 84.3 6.4 68.8 7.6 60.4 9.7 57.6 11.4 56.2 16 52.7 20.2 55.5 26.1 48.5 28.1 47 30.2 45.6 32.3 44.1 34.4 42.7 36.5 41.5 38.6 40.4 40.7 39.3 42.8 38.3 44.9 37.3 47 36.3 49.1 35.4 51.2 34.5 53.3 33.6 55.4 32.8 57.9 32.1 112.8 84.3 117 88.5" fill="none" stroke="#fff" stroke-width="11.2" stroke-linejoin="round"/><path d="M5.6 84.3 6.4 68.8 7.6 60.4 9.7 57.6 11.4 56.2 16 52.7 20.2 55.5 26.1 48.5 28.1 47 30.2 45.6 32.3 44.1 34.4 42.7 36.5 41.5 38.6 40.4 40.7 39.3 42.8 38.3 44.9 37.3 47 36.3 49.1 35.4 51.2 34.5 53.3 33.6 55.4 32.8 57.9 32.1 112.8 84.3 117 88.5" fill="none" stroke="#000" stroke-width="9.6" stroke-linejoin="round" shape-rendering="crispEdges"/></svg><use href="#fr" transform="translate(457.9,1275.6)"/>
<text x="463" y="1433.9" font-size="53.33" text-anchor="middle">0</text>
<text x="580.32" y="1433.9" font-size="53.33" text-anchor="middle">28</text>
<svg x="637.35" y="1275.6" width="127.8" height="84.3" overflow="hidden"><path d="M5.9 67.4 6.4 58.9 7.6 51.7 8.9 48.7 9.7 47.6 11.4 47.4 11.8 45.8 14.7 43.6 16 43.8 17.7 43.6 20.2 45.4 20.6 46.1 23.5 41.2 26.1 38.3 26.5 39.2 28.1 36.5 29.4 35.6 30.2 36.1 32.3 33.1 34.4 31.6 35.3 32.3 36.5 30.2 38.2 29.3 38.6 30.2 40.7 27.6 41.1 27.6 42.8 27.8 44.1 25.7 44.9 25.5 47 25.5 47 24.1 49.1 23.4 49.9 24.1 51.2 22.2 52.9 21.9 53.3 22.8 55.8 22.8 58.7 24.7 61.7 27.4 64.6 28.5 67.5 31.4 70.5 35.1 73.4 36.2 76.3 39.2 79.3 42.8 82.2 44 85.1 46.9 88.1 50.5 91 51.7 93.9 54.6 96.9 58.2 99.8 59.4 102.7 62.4 105.7 65.9 108.6 67.1 111.5 70.1 111.5 88.6 108.6 86.3 105.7 83 102.7 80.9 99.8 78.6 96.9 75.3 93.9 73.2 91 70.8 88.1 67.6 85.1 65.5 82.2 63.1 79.3 59.8 76.3 57.8 73.4 55.4 70.5 52.1 67.5 50.1 64.6 47.7 61.7 44.4 58.7 44 55.8 43.3 53.3 41.8 52.9 42.5 51.2 43.2 49.9 43 49.1 44 47 45.1 47 44.4 44.9 46 44.1 46.6 42.8 46.6 41.1 48.1 40.7 48.4 38.6 48.9 38.2 49.8 36.5 50.9 35.3 50.9 34.4 52 32.3 53.7 30.2 54.6 29.4 55.9 28.1 57 26.5 57.7 26.1 58.6 23.5 61.7 20.6 64.5 20.2 65.6 17.7 64 16 62.2 14.7 63.7 11.8 66 11.4 65.7 9.7 67.7 8.9 68.8 7.6 69.8 6.4 78.9 5.9 87.5Z" fill="#1f77b4" fill-opacity="0.3" stroke="#1f77b4" stroke-opacity="0.4" stroke-width="1.4" shape-rendering="crispEdges"/><path d="M5.9 69.2 6.4 60.6 7.6 53.2 8.9 50.4 9.7 49.3 11.4 48.9 11.8 47.5 14.7 45.3 16 45.4 17.7 45.4 20.2 47.1 20.6 47.6 23.5 43 26.1 40 26.5 40.7 28.1 38.2 29.4 37.3 30.2 37.6 32.3 34.8 34.4 33.4 35.3 33.8 36.5 31.9 38.2 31.1 38.6 31.8 40.7 29.4 41.1 29.3 42.8 29.3 44.1 27.5 44.9 27.2 47 27.1 47 25.9 49.1 25.1 49.9 25.7 51.2 24 52.9 23.6 53.3 24.4 55.8 24.7 58.7 26.7 61.7 29.3 64.6 30.7 67.5 33.5 70.5 37 73.4 38.4 76.3 41.3 79.3 44.7 82.2 46.1 85.1 49 88.1 52.4 91 53.8 93.9 56.7 96.9 60.1 99.8 61.5 102.7 64.4 105.7 67.8 108.6 69.2 111.5 72.2 111.5 88 108.6 85.6 105.7 82.4 102.7 80.3 99.8 77.9 96.9 74.7 93.9 72.5 91 70.1 88.1 67 85.1 64.8 82.2 62.4 79.3 59.3 76.3 57.1 73.4 54.7 70.5 51.5 67.5 49.4 64.6 47 61.7 43.8 58.7 43 55.8 41.9 53.3 40.2 52.9 40.8 51.2 41.4 49.9 41.4 49.1 42.2 47 43.3 47 42.8 44.9 44.3 44.1 44.8 42.8 44.9 41.1 46.4 40.7 46.7 38.6 47.3 38.2 48 36.5 49.1 35.3 49.3 34.4 50.3 32.3 51.9 30.2 53 29.4 54.2 28.1 55.2 26.5 56.1 26.1 56.9 23.5 59.9 20.6 62.9 20.2 63.9 17.7 62.2 16 60.6 14.7 62 11.8 64.3 11.4 64 9.7 66 8.9 67.1 7.6 68.2 6.4 77.2 5.9 85.8Z" fill="#ff7f0e" fill-opacity="0.24" stroke="#ff7f0e" stroke-opacity="0.3" stroke-width="1.2" shape-rendering="crispEdges"/></svg><path d="M657.5 1275.6V1359.9M672.5 1275.6V1359.9M730.5 1275.6V1359.9M745.5 1275.6V1359.9" stroke="#bdbdbd" stroke-width="1"/><use href="#gr" transform="translate(637.35,1275.6)"/><svg x="637.35" y="1275.6" width="127.8" height="84.3" overflow="hidden"><path d="M5.6 84.3 6.4 68.8 7.6 60.4 9.7 57.6 11.4 56.2 16 52.7 20.2 55.5 26.1 48.5 28.1 46.8 30.2 45.1 32.3 43.4 34.4 41.9 36.5 40.6 38.6 39.3 40.7 38.1 42.8 36.9 44.9 35.8 47 34.7 49.1 33.7 51.2 32.8 53.3 32.1 112.8 84.3 117.4 88.5" fill="none" stroke="#fff" stroke-width="11.2" stroke-linejoin="round"/><path d="M5.6 84.3 6.4 68.8 7.6 60.4 9.7 57.6 11.4 56.2 16 52.7 20.2 55.5 26.1 48.5 28.1 46.8 30.2 45.1 32.3 43.4 34.4 41.9 36.5 40.6 38.6 39.3 40.7 38.1 42.8 36.9 44.9 35.8 47 34.7 49.1 33.7 51.2 32.8 53.3 32.1 112.8 84.3 117.4 88.5" fill="none" stroke="#000" stroke-width="9.6" stroke-linejoin="round" shape-rendering="crispEdges"/></svg><use href="#fr" transform="translate(637.35,1275.6)"/>
<text x="642.45" y="1433.9" font-size="53.33" text-anchor="middle">0</text>
<text x="759.77" y="1433.9" font-size="53.33" text-anchor="middle">28</text>
<svg x="816.8" y="1275.6" width="127.8" height="84.3" overflow="hidden"><path d="M5.9 67.1 6.4 59.4 7.6 51.5 8.9 48.3 9.7 48.2 11.8 48.2 14.7 46.2 15.2 47.1 17.7 45.7 19.8 41.6 20.6 42.2 21.9 41.9 23.5 40.1 24 41.1 26.1 40.2 26.5 38.3 28.1 37.4 29.4 36.3 30.2 33.9 32.3 33.8 34.4 33.7 35.3 31.9 36.5 32.3 38.2 31.2 38.6 29.4 40.7 28.8 41.1 28.9 42.8 26.8 44.1 27.7 44.9 27.8 47 25.6 47 26.7 49.1 25.4 49.9 23.5 51.2 23.8 52.9 23.5 53.3 22 55.8 22.5 56.6 22.5 58.7 22.4 61.7 25.3 64.6 27.2 67.5 28.5 70.5 32.4 73.4 35.3 76.3 36.7 79.3 40.6 82.2 43.4 85.1 44.8 88.1 48.8 91 51.6 93.9 53 96.9 57 99.8 59.8 102.7 61.2 105.7 65.2 108.6 67.9 111.5 69.4 111.5 88.9 108.6 85.5 105.7 82.8 102.7 80.7 99.8 77.3 96.9 74.6 93.9 72.5 91 69.2 88.1 66.5 85.1 64.4 82.2 61 79.3 58.3 76.3 56.2 73.4 52.8 70.5 50.1 67.5 48 64.6 44.8 61.7 43.9 58.7 43.4 56.6 42 55.8 42.3 53.3 43.4 52.9 42.9 51.2 43.5 49.9 44.9 49.1 44.8 47 46.4 47 46.9 44.9 47.1 44.1 47.3 42.8 48.1 41.1 48 40.7 48.3 38.6 50.6 38.2 50.3 36.5 51.8 35.3 53 34.4 52.7 32.3 53.3 30.2 55 29.4 55.2 28.1 56.8 26.5 59.3 26.1 59.1 24 60.5 23.5 61 21.9 60.6 20.6 61.5 19.8 62.5 17.7 64.4 15.2 66.4 14.7 67 11.8 66.8 9.7 67.4 8.9 69 7.6 69.9 6.4 78.6 5.9 87.7Z" fill="#1f77b4" fill-opacity="0.3" stroke="#1f77b4" stroke-opacity="0.4" stroke-width="1.4" shape-rendering="crispEdges"/><path d="M5.9 68.8 6.4 61.1 7.6 53 8.9 50.1 9.7 49.8 11.8 49.8 14.7 48 15.2 48.8 17.7 47.3 19.8 43.4 20.6 43.8 21.9 43.4 23.5 41.9 24 42.7 26.1 41.8 26.5 40.1 28.1 39 29.4 37.9 30.2 35.7 32.3 35.5 34.4 35.3 35.3 33.7 36.5 33.9 38.2 32.8 38.6 31.2 40.7 30.4 41.1 30.5 42.8 28.6 44.1 29.4 44.9 29.4 47 27.4 47 28.4 49.1 27.1 49.9 25.3 51.2 25.4 52.9 25.1 53.3 23.8 55.8 24.2 56.6 24.1 58.7 24.3 61.7 27.2 64.6 29.2 67.5 30.7 70.5 34.4 73.4 37.2 76.3 38.8 79.3 42.6 82.2 45.4 85.1 47 88.1 50.8 91 53.6 93.9 55.2 96.9 58.9 99.8 61.7 102.7 63.4 105.7 67.1 108.6 69.9 111.5 71.5 111.5 88.2 108.6 84.9 105.7 82.2 102.7 80 99.8 76.7 96.9 74 93.9 71.8 91 68.6 88.1 65.9 85.1 63.6 82.2 60.4 79.3 57.7 76.3 55.5 73.4 52.2 70.5 49.5 67.5 47.3 64.6 44.2 61.7 42.8 58.7 41.9 56.6 40.3 55.8 40.6 53.3 41.6 52.9 41.2 51.2 41.8 49.9 43.1 49.1 43.1 47 44.7 47 45.2 44.9 45.4 44.1 45.6 42.8 46.3 41.1 46.4 40.7 46.7 38.6 48.8 38.2 48.6 36.5 50.1 35.3 51.2 34.4 51.1 32.3 51.6 30.2 53.2 29.4 53.6 28.1 55.1 26.5 57.5 26.1 57.4 24 58.8 23.5 59.3 21.9 59 20.6 59.8 19.8 60.7 17.7 62.8 15.2 64.8 14.7 65.2 11.8 65.2 9.7 65.7 8.9 67.2 7.6 68.3 6.4 76.9 5.9 85.9Z" fill="#ff7f0e" fill-opacity="0.24" stroke="#ff7f0e" stroke-opacity="0.3" stroke-width="1.2" shape-rendering="crispEdges"/></svg><path d="M851.5 1275.6V1359.9M866.5 1275.6V1359.9M910.5 1275.6V1359.9M924.5 1275.6V1359.9" stroke="#bdbdbd" stroke-width="1"/><use href="#gr" transform="translate(816.8,1275.6)"/><svg x="816.8" y="1275.6" width="127.8" height="84.3" overflow="hidden"><path d="M5.6 84.3 6.4 68.8 7.6 60.4 9.7 57.6 15.2 56.6 17.7 54.8 19.8 52.2 21.9 51 24 50.6 26.1 49.4 28.1 47 30.2 44.6 32.3 43.4 34.4 43 36.5 41.9 38.6 40.2 40.7 38.4 42.8 37.6 44.9 37.3 47 36.4 49.1 34.9 51.2 33.5 53.3 32.9 56.6 32.1 112.8 84.3 117.1 88.5" fill="none" stroke="#fff" stroke-width="11.2" stroke-linejoin="round"/><path d="M5.6 84.3 6.4 68.8 7.6 60.4 9.7 57.6 15.2 56.6 17.7 54.8 19.8 52.2 21.9 51 24 50.6 26.1 49.4 28.1 47 30.2 44.6 32.3 43.4 34.4 43 36.5 41.9 38.6 40.2 40.7 38.4 42.8 37.6 44.9 37.3 47 36.4 49.1 34.9 51.2 33.5 53.3 32.9 56.6 32.1 112.8 84.3 117.1 88.5" fill="none" stroke="#000" stroke-width="9.6" stroke-linejoin="round" shape-rendering="crispEdges"/></svg><use href="#fr" transform="translate(816.8,1275.6)"/>
<text x="821.9" y="1433.9" font-size="53.33" text-anchor="middle">0</text>
<text x="939.22" y="1433.9" font-size="53.33" text-anchor="middle">28</text>
<svg x="996.25" y="1275.6" width="127.8" height="84.3" overflow="hidden"><path d="M5.9 67.1 6.4 59.9 7.6 51 8.9 48.4 9.7 48.7 11.8 47.7 14.7 46.3 15.2 47.6 17.7 45.2 19.8 41.7 20.6 42.5 21.9 40.9 23.5 39.6 24 40.9 26.1 39.6 26.5 38.5 28.1 38.7 29.4 36.6 30.2 34.8 32.3 33.9 34.4 31.8 35.3 30.8 36.5 32 38.2 30.9 38.6 30 40.7 30.3 41.1 29.2 42.8 27.1 44.1 27.6 44.9 26.2 47 24.5 47 26 49.1 24.7 49.9 23.9 51.2 25 52.9 23.6 53.3 22.7 55.8 23 56.2 22 58.7 22.8 61.7 26 64.6 26.9 67.5 29 70.5 33.2 73.4 35.1 76.3 37.2 79.3 41.4 82.2 43.3 85.1 45.4 88.1 49.6 91 51.4 93.9 53.6 96.9 57.7 99.8 59.6 102.7 61.8 105.7 65.9 108.6 67.7 111.1 69.6 111.1 88.8 108.6 86.2 105.7 83 102.7 81 99.8 78 96.9 74.8 93.9 72.8 91 69.8 88.1 66.7 85.1 64.7 82.2 61.6 79.3 58.5 76.3 56.5 73.4 53.5 70.5 50.3 67.5 48.3 64.6 45.3 61.7 43.8 58.7 43.5 56.2 42.3 55.8 42.1 53.3 44 52.9 43.8 51.2 44.1 49.9 45.1 49.1 44.9 47 44.9 47 45.7 44.9 46.3 44.1 46.6 42.8 48.2 41.1 49.2 40.7 49.2 38.6 51.1 38.2 50.8 36.5 50.8 35.3 51.9 34.4 51.7 32.3 52.6 30.2 55.7 29.4 56.3 28.1 57.4 26.5 59.4 26.1 59.3 24 59.6 23.5 60.4 21.9 60.5 20.6 61.1 19.8 62.4 17.7 64.7 15.2 66.2 14.7 67 11.8 67 9.7 67.1 8.9 69 7.6 70.2 6.4 78.4 5.9 87.7Z" fill="#1f77b4" fill-opacity="0.3" stroke="#1f77b4" stroke-opacity="0.4" stroke-width="1.4" shape-rendering="crispEdges"/><path d="M5.9 68.9 6.4 61.5 7.6 52.6 8.9 50.1 9.7 50.2 11.8 49.3 14.7 48 15.2 49.2 17.7 46.8 19.8 43.4 20.6 44 21.9 42.6 23.5 41.4 24 42.5 26.1 41.3 26.5 40.3 28.1 40.2 29.4 38.2 30.2 36.6 32.3 35.4 34.4 33.5 35.3 32.7 36.5 33.6 38.2 32.6 38.6 31.8 40.7 31.9 41.1 30.9 42.8 28.9 44.1 29.2 44.9 27.9 47 26.3 47 27.5 49.1 26.4 49.9 25.7 51.2 26.6 52.9 25.3 53.3 24.5 55.8 24.5 56.2 23.7 58.7 24.7 61.7 27.8 64.6 29 67.5 31.2 70.5 35.1 73.4 37.1 76.3 39.4 79.3 43.3 82.2 45.3 85.1 47.5 88.1 51.5 91 53.5 93.9 55.7 96.9 59.7 99.8 61.6 102.7 63.9 105.7 67.8 108.6 69.8 111.1 71.7 111.1 88.1 108.6 85.5 105.7 82.4 102.7 80.3 99.8 77.4 96.9 74.3 93.9 72.1 91 69.2 88.1 66.1 85.1 64 82.2 61 79.3 57.9 76.3 55.8 73.4 52.8 70.5 49.7 67.5 47.6 64.6 44.6 61.7 42.9 58.7 42 56.2 40.5 55.8 40.4 53.3 42.2 52.9 42.1 51.2 42.4 49.9 43.3 49.1 43.2 47 43.3 47 43.9 44.9 44.6 44.1 44.9 42.8 46.5 41.1 47.5 40.7 47.6 38.6 49.3 38.2 49.1 36.5 49.2 35.3 50.1 34.4 50 32.3 51 30.2 54 29.4 54.6 28.1 55.8 26.5 57.6 26.1 57.6 24 57.9 23.5 58.7 21.9 58.8 20.6 59.5 19.8 60.7 17.7 63 15.2 64.5 14.7 65.2 11.8 65.4 9.7 65.5 8.9 67.2 7.6 68.5 6.4 76.7 5.9 85.9Z" fill="#ff7f0e" fill-opacity="0.24" stroke="#ff7f0e" stroke-opacity="0.3" stroke-width="1.2" shape-rendering="crispEdges"/></svg><path d="M1016.5 1275.6V1359.9M1045.5 1275.6V1359.9M1104.5 1275.6V1359.9" stroke="#bdbdbd" stroke-width="1"/><use href="#gr" transform="translate(996.25,1275.6)"/><svg x="996.25" y="1275.6" width="127.8" height="84.3" overflow="hidden"><path d="M5.6 84.3 6.4 68.8 7.6 60.4 9.7 57.6 15.2 56.6 17.7 54.8 19.8 52.1 21.9 50.6 24 50 26.1 49.4 28.1 47.8 30.2 45.4 32.3 43 34.4 41.7 36.5 41.2 38.6 40.7 40.7 39.5 42.8 37.8 44.9 36.2 47 35.2 49.1 34.8 51.2 34.4 53.3 33.5 56.2 32.1 112.4 84.3 116.7 88.5" fill="none" stroke="#fff" stroke-width="11.2" stroke-linejoin="round"/><path d="M5.6 84.3 6.4 68.8 7.6 60.4 9.7 57.6 15.2 56.6 17.7 54.8 19.8 52.1 21.9 50.6 24 50 26.1 49.4 28.1 47.8 30.2 45.4 32.3 43 34.4 41.7 36.5 41.2 38.6 40.7 40.7 39.5 42.8 37.8 44.9 36.2 47 35.2 49.1 34.8 51.2 34.4 53.3 33.5 56.2 32.1 112.4 84.3 116.7 88.5" fill="none" stroke="#000" stroke-width="9.6" stroke-linejoin="round" shape-rendering="crispEdges"/></svg><use href="#fr" transform="translate(996.25,1275.6)"/>
<text x="1001.35" y="1433.9" font-size="53.33" text-anchor="middle">0</text>
<text x="1118.67" y="1433.9" font-size="53.33" text-anchor="middle">28</text>
<svg x="1175.7" y="1275.6" width="127.8" height="84.3" overflow="hidden"><path d="M5.9 67.5 6.4 60.1 7.6 50.4 8.9 48.7 9.7 48.8 11.8 47.2 14.7 46.7 15.2 47.8 17.7 44.6 19.8 42.2 20.6 42.8 21.9 40.4 23.5 39.9 24 40.9 26.1 39.2 26.5 39.1 28.1 39.7 29.4 37.3 30.2 36.8 32.3 35.7 34.4 32.1 35.3 31.8 36.5 32.2 38.2 30.3 38.6 30.4 40.7 31.1 41.1 29.7 42.8 29.4 44.1 29.8 44.9 27.9 47 26.6 47 27.7 49.1 24.9 49.9 24.8 51.2 25.2 52.9 23.4 53.3 23.6 55.4 24.4 55.8 22.9 57.5 22.9 58.7 23.3 59.6 21.4 61.7 23.1 64.6 25.9 67.5 26.3 70.5 29.3 73.4 33.2 76.3 34.5 79.3 37.7 82.2 41.5 85.1 42.9 88.1 46.1 91 49.9 93.9 51.2 96.9 54.5 99.8 58.2 102.7 59.6 105.7 62.9 108.6 66.6 111.5 67.9 113.2 70 113.2 88.5 111.5 87.2 108.6 83.7 105.7 81.4 102.7 78.8 99.8 75.3 96.9 73 93.9 70.4 91 66.9 88.1 64.6 85.1 62.1 82.2 58.6 79.3 56.3 76.3 53.7 73.4 50.2 70.5 47.9 67.5 45.6 64.6 43.7 61.7 43.1 59.6 42.5 58.7 42.3 57.5 43.4 55.8 44 55.4 43.3 53.3 44.1 52.9 44.4 51.2 44.1 49.9 45.2 49.1 45.8 47 46.5 47 47.1 44.9 48.8 44.1 48.5 42.8 49.8 41.1 50.4 40.7 49.8 38.6 50.8 38.2 51 36.5 50.8 35.3 52.1 34.4 52.8 32.3 54.3 30.2 57.1 29.4 57.8 28.1 58.1 26.5 59.4 26.1 59.6 24 59.3 23.5 60.1 21.9 60.8 20.6 61.1 19.8 62.4 17.7 64.9 15.2 66.1 14.7 66.8 11.8 67.3 9.7 67 8.9 68.8 7.6 70.5 6.4 78.3 5.9 87.5Z" fill="#1f77b4" fill-opacity="0.3" stroke="#1f77b4" stroke-opacity="0.4" stroke-width="1.4" shape-rendering="crispEdges"/><path d="M5.9 69.2 6.4 61.6 7.6 52.1 8.9 50.5 9.7 50.4 11.8 48.9 14.7 48.4 15.2 49.3 17.7 46.4 19.8 43.9 20.6 44.3 21.9 42.1 23.5 41.6 24 42.5 26.1 40.9 26.5 40.9 28.1 41.2 29.4 39.1 30.2 38.5 32.3 37.2 34.4 33.9 35.3 33.5 36.5 33.7 38.2 32.1 38.6 32.1 40.7 32.7 41.1 31.4 42.8 31.1 44.1 31.3 44.9 29.7 47 28.4 47 29.3 49.1 26.7 49.9 26.5 51.2 26.8 52.9 25.2 53.3 25.4 55.4 26 55.8 24.7 57.5 24.6 58.7 24.8 59.6 23.2 61.7 24.9 64.6 27.7 67.5 28.4 70.5 31.4 73.4 35.1 76.3 36.7 79.3 39.8 82.2 43.4 85.1 45 88.1 48.2 91 51.8 93.9 53.4 96.9 56.5 99.8 60.1 102.7 61.7 105.7 64.9 108.6 68.5 111.5 70.1 113.2 72.1 113.2 87.9 111.5 86.5 108.6 83.1 105.7 80.7 102.7 78.1 99.8 74.7 96.9 72.3 93.9 69.7 91 66.4 88.1 64 85.1 61.4 82.2 58 79.3 55.6 76.3 53 73.4 49.6 70.5 47.3 67.5 44.8 64.6 42.7 61.7 41.7 59.6 40.8 58.7 40.6 57.5 41.7 55.8 42.2 55.4 41.7 53.3 42.4 52.9 42.7 51.2 42.5 49.9 43.5 49.1 44 47 44.9 47 45.4 44.9 47 44.1 46.9 42.8 48.1 41.1 48.7 40.7 48.2 38.6 49 38.2 49.3 36.5 49.2 35.3 50.4 34.4 51 32.3 52.6 30.2 55.4 29.4 56.1 28.1 56.5 26.5 57.7 26.1 57.9 24 57.7 23.5 58.4 21.9 59 20.6 59.5 19.8 60.7 17.7 63.2 15.2 64.5 14.7 65.1 11.8 65.6 9.7 65.4 8.9 67.1 7.6 68.8 6.4 76.7 5.9 85.8Z" fill="#ff7f0e" fill-opacity="0.24" stroke="#ff7f0e" stroke-opacity="0.3" stroke-width="1.2" shape-rendering="crispEdges"/></svg><path d="M1195.5 1275.6V1359.9M1210.5 1275.6V1359.9M1269.5 1275.6V1359.9M1283.5 1275.6V1359.9" stroke="#bdbdbd" stroke-width="1"/><use href="#gr" transform="translate(1175.7,1275.6)"/><svg x="1175.7" y="1275.6" width="127.8" height="84.3" overflow="hidden"><path d="M5.6 84.3 6.4 68.8 7.6 60.4 9.7 57.6 15.2 56.6 17.7 54.8 19.8 52.3 21.9 50.6 24 49.8 26.1 49.4 28.1 48.6 30.2 47 32.3 44.7 34.4 42.5 36.5 41.2 38.6 40.6 40.7 40.2 42.8 39.6 44.9 38.4 47 36.9 49.1 35.4 51.2 34.4 53.3 33.9 55.4 33.7 57.5 33.2 59.6 32.1 114.5 84.3 118.7 88.5" fill="none" stroke="#fff" stroke-width="11.2" stroke-linejoin="round"/><path d="M5.6 84.3 6.4 68.8 7.6 60.4 9.7 57.6 15.2 56.6 17.7 54.8 19.8 52.3 21.9 50.6 24 49.8 26.1 49.4 28.1 48.6 30.2 47 32.3 44.7 34.4 42.5 36.5 41.2 38.6 40.6 40.7 40.2 42.8 39.6 44.9 38.4 47 36.9 49.1 35.4 51.2 34.4 53.3 33.9 55.4 33.7 57.5 33.2 59.6 32.1 114.5 84.3 118.7 88.5" fill="none" stroke="#000" stroke-width="9.6" stroke-linejoin="round" shape-rendering="crispEdges"/></svg><use href="#fr" transform="translate(1175.7,1275.6)"/>
<text x="1180.8" y="1433.9" font-size="53.33" text-anchor="middle">0</text>
<text x="1298.12" y="1433.9" font-size="53.33" text-anchor="middle">28</text>
<svg x="1355.15" y="1275.6" width="127.8" height="84.3" overflow="hidden"><path d="M5.9 68 6.4 59.9 7.6 50 8.9 49.3 9.7 48.6 11.8 46.8 14.7 47.2 15.2 47.6 17.7 44.3 19.8 42.6 20.6 42.2 21.9 39.6 23.5 39.6 24 39.7 26.1 37.6 26.5 38.5 28.1 38.2 29.4 36.1 30.2 36.6 32.3 35 34.4 31.3 35.3 31.7 36.5 30.9 38.2 28.4 38.6 29.2 40.7 28.6 41.1 27.1 42.8 27.7 44.1 27.6 44.9 26 47 26.3 47 26.5 49.1 23.9 49.9 24.5 51.2 23.9 52.9 21.5 53.3 22.4 55 22.5 55.8 21.7 58.7 24.5 61.7 26.4 64.6 27.2 67.5 31.1 70.5 33.9 73.4 35.2 76.3 39.1 79.3 41.9 82.2 43.3 85.1 47.2 88.1 50 91 51.3 93.9 55.3 96.9 58 99.8 59.4 102.7 63.3 105.7 66.1 108.6 67.5 110.7 70.6 110.7 88.3 108.6 87 105.7 83.7 102.7 81 99.8 78.9 96.9 75.6 93.9 72.9 91 70.9 88.1 67.5 85.1 64.9 82.2 62.8 79.3 59.5 76.3 56.8 73.4 54.8 70.5 51.4 67.5 48.8 64.6 46.7 61.7 44.3 58.7 43.4 55.8 42.9 55 42 53.3 42.1 52.9 43 51.2 43.3 49.9 44.2 49.1 45.3 47 45.8 47 45.9 44.9 47.3 44.1 46.9 42.8 47.3 41.1 48.3 40.7 47.7 38.6 48.7 38.2 49.6 36.5 50 35.3 51.2 34.4 52.4 32.3 54 30.2 56.1 29.4 57.1 28.1 57.1 26.5 57.9 26.1 58.6 24 58.6 23.5 59 21.9 60.5 20.6 61 19.8 62 17.7 65.1 15.2 66.2 14.7 66.5 11.8 67.5 9.7 67.2 8.9 68.5 7.6 70.7 6.4 78.4 5.9 87.2Z" fill="#1f77b4" fill-opacity="0.3" stroke="#1f77b4" stroke-opacity="0.4" stroke-width="1.4" shape-rendering="crispEdges"/><path d="M5.9 69.6 6.4 61.4 7.6 51.8 8.9 50.9 9.7 50.2 11.8 48.6 14.7 48.8 15.2 49.1 17.7 46.1 19.8 44.3 20.6 43.8 21.9 41.4 23.5 41.2 24 41.3 26.1 39.4 26.5 40.1 28.1 39.8 29.4 37.9 30.2 38.3 32.3 36.6 34.4 33.1 35.3 33.3 36.5 32.5 38.2 30.2 38.6 30.8 40.7 30.2 41.1 28.9 42.8 29.4 44.1 29.2 44.9 27.8 47 27.9 47 28.1 49.1 25.7 49.9 26.1 51.2 25.5 52.9 23.4 53.3 24.1 55 24.1 55.8 23.5 58.7 26.3 61.7 28.3 64.6 29.4 67.5 33 70.5 35.8 73.4 37.4 76.3 41.1 79.3 43.9 82.2 45.5 85.1 49.2 88.1 51.9 91 53.5 93.9 57.2 96.9 60 99.8 61.6 102.7 65.3 105.7 68 108.6 69.6 110.7 72.6 110.7 87.7 108.6 86.3 105.7 83.1 102.7 80.4 99.8 78.2 96.9 75 93.9 72.3 91 70.2 88.1 66.9 85.1 64.3 82.2 62.1 79.3 58.9 76.3 56.2 73.4 54.1 70.5 50.8 67.5 48.2 64.6 46 61.7 43.5 58.7 42.2 55.8 41.3 55 40.3 53.3 40.5 52.9 41.2 51.2 41.6 49.9 42.5 49.1 43.5 47 44.1 47 44.2 44.9 45.5 44.1 45.2 42.8 45.6 41.1 46.5 40.7 46.1 38.6 47.1 38.2 47.8 36.5 48.3 35.3 49.5 34.4 50.7 32.3 52.4 30.2 54.4 29.4 55.3 28.1 55.5 26.5 56.2 26.1 56.8 24 56.9 23.5 57.3 21.9 58.7 20.6 59.3 19.8 60.3 17.7 63.4 15.2 64.6 14.7 64.8 11.8 65.8 9.7 65.5 8.9 66.8 7.6 68.9 6.4 76.7 5.9 85.5Z" fill="#ff7f0e" fill-opacity="0.24" stroke="#ff7f0e" stroke-opacity="0.3" stroke-width="1.2" shape-rendering="crispEdges"/></svg><path d="M1375.5 1275.6V1359.9M1433.5 1275.6V1359.9M1463.5 1275.6V1359.9" stroke="#bdbdbd" stroke-width="1"/><use href="#gr" transform="translate(1355.15,1275.6)"/><svg x="1355.15" y="1275.6" width="127.8" height="84.3" overflow="hidden"><path d="M5.6 84.3 6.4 68.8 7.6 60.4 9.7 57.6 15.2 56.6 17.7 54.8 19.8 52.2 21.9 50.1 24 48.9 26.1 48.2 28.1 47.5 30.2 46.2 32.3 44.3 34.4 42 36.5 40.2 38.6 38.8 40.7 38 42.8 37.4 44.9 36.8 47 36 49.1 34.8 51.2 33.4 53.3 32.2 55 32.1 111.9 84.3 116.4 88.5" fill="none" stroke="#fff" stroke-width="11.2" stroke-linejoin="round"/><path d="M5.6 84.3 6.4 68.8 7.6 60.4 9.7 57.6 15.2 56.6 17.7 54.8 19.8 52.2 21.9 50.1 24 48.9 26.1 48.2 28.1 47.5 30.2 46.2 32.3 44.3 34.4 42 36.5 40.2 38.6 38.8 40.7 38 42.8 37.4 44.9 36.8 47 36 49.1 34.8 51.2 33.4 53.3 32.2 55 32.1 111.9 84.3 116.4 88.5" fill="none" stroke="#000" stroke-width="9.6" stroke-linejoin="round" shape-rendering="crispEdges"/></svg><use href="#fr" transform="translate(1355.15,1275.6)"/>
<text x="1360.25" y="1433.9" font-size="53.33" text-anchor="middle">0</text>
<text x="1477.57" y="1433.9" font-size="53.33" text-anchor="middle">28</text>
<svg x="1534.6" y="1275.6" width="127.8" height="84.3" overflow="hidden"><path d="M5.9 68.5 6.4 59.4 7.6 50.1 8.9 49.8 9.7 48.1 11.8 46.8 14.7 47.7 15.2 47.1 17.7 44.3 19.8 43.2 20.6 41.8 21.9 39.7 23.5 40.1 24 39.2 26.1 37.5 26.5 38.8 28.1 37.7 29.4 36.3 30.2 37.4 32.3 35.4 34.4 32.7 35.3 33.3 36.5 31.4 38.2 29.3 38.6 30.4 40.7 28.3 41.1 27.3 42.8 28 44.1 26.9 44.9 25.9 47 26.9 47 26.1 49.1 24.8 49.9 25.9 51.2 24.6 52.9 23 53.3 24.3 55.8 22.3 56.6 21.3 58.7 23.9 61.7 24.7 64.6 25.7 67.5 29.6 70.5 31.4 73.4 33.4 76.3 37.5 79.3 39.2 82.2 41.3 85.1 45.3 88.1 47 91 49.1 93.9 53.1 96.9 54.9 99.8 56.9 102.7 61 105.7 62.7 108.6 64.8 111.5 68.8 114 70.1 114 88.6 111.5 85.9 108.6 84 105.7 81.1 102.7 78.1 99.8 76.2 96.9 73.3 93.9 70.2 91 68.4 88.1 65.5 85.1 62.4 82.2 60.5 79.3 57.6 76.3 54.6 73.4 52.7 70.5 49.8 67.5 46.8 64.6 45.1 61.7 43.9 58.7 42.5 56.6 42.6 55.8 42.6 53.3 43.3 52.9 44.3 51.2 44.8 49.9 44.9 49.1 46 47 46.2 47 45.9 44.9 47.1 44.1 46.9 42.8 46.9 41.1 48.4 40.7 48.2 38.6 49.2 38.2 50.3 36.5 51.3 35.3 52.1 34.4 53.6 32.3 55.1 30.2 56.2 29.4 57.2 28.1 57.3 26.5 57.5 26.1 58.4 24 58.8 23.5 58.7 21.9 60.5 20.6 61.3 19.8 61.8 17.7 65.1 15.2 66.5 14.7 66.2 11.8 67.5 9.7 67.4 8.9 68.3 7.6 70.7 6.4 78.6 5.9 86.9Z" fill="#1f77b4" fill-opacity="0.3" stroke="#1f77b4" stroke-opacity="0.4" stroke-width="1.4" shape-rendering="crispEdges"/><path d="M5.9 70.1 6.4 61 7.6 51.8 8.9 51.3 9.7 49.7 11.8 48.6 14.7 49.3 15.2 48.7 17.7 46.1 19.8 44.8 20.6 43.4 21.9 41.5 23.5 41.6 24 40.8 26.1 39.3 26.5 40.4 28.1 39.3 29.4 38.1 30.2 39 32.3 37 34.4 34.5 35.3 34.9 36.5 33.1 38.2 31.1 38.6 32 40.7 30 41.1 29.2 42.8 29.6 44.1 28.6 44.9 27.8 47 28.5 47 27.8 49.1 26.6 49.9 27.5 51.2 26.3 52.9 24.9 53.3 25.9 55.8 24.1 56.6 23.1 58.7 25.6 61.7 26.7 64.6 27.9 67.5 31.6 70.5 33.5 73.4 35.6 76.3 39.4 79.3 41.3 82.2 43.4 85.1 47.2 88.1 49.1 91 51.2 93.9 55.1 96.9 56.9 99.8 59.1 102.7 62.9 105.7 64.7 108.6 66.9 111.5 70.7 114 72.2 114 87.9 111.5 85.3 108.6 83.3 105.7 80.5 102.7 77.5 99.8 75.5 96.9 72.6 93.9 69.7 91 67.7 88.1 64.8 85.1 61.8 82.2 59.8 79.3 57 76.3 54 73.4 52 70.5 49.1 67.5 46.2 64.6 44.4 61.7 42.8 58.7 41.2 56.6 40.8 55.8 40.9 53.3 41.7 52.9 42.5 51.2 43.1 49.9 43.3 49.1 44.2 47 44.5 47 44.2 44.9 45.3 44.1 45.2 42.8 45.3 41.1 46.7 40.7 46.5 38.6 47.6 38.2 48.6 36.5 49.6 35.3 50.5 34.4 51.9 32.3 53.4 30.2 54.5 29.4 55.5 28.1 55.7 26.5 55.9 26.1 56.6 24 57.1 23.5 57.1 21.9 58.8 20.6 59.6 19.8 60.2 17.7 63.3 15.2 64.8 14.7 64.6 11.8 65.7 9.7 65.7 8.9 66.6 7.6 68.9 6.4 77 5.9 85.3Z" fill="#ff7f0e" fill-opacity="0.24" stroke="#ff7f0e" stroke-opacity="0.3" stroke-width="1.2" shape-rendering="crispEdges"/></svg><path d="M1554.5 1275.6V1359.9M1583.5 1275.6V1359.9M1613.5 1275.6V1359.9M1627.5 1275.6V1359.9" stroke="#bdbdbd" stroke-width="1"/><use href="#gr" transform="translate(1534.6,1275.6)"/><svg x="1534.6" y="1275.6" width="127.8" height="84.3" overflow="hidden"><path d="M5.6 84.3 6.4 68.8 7.6 60.4 9.7 57.6 15.2 56.6 17.7 54.8 19.8 52.3 21.9 50.2 24 48.8 26.1 48 28.1 47.4 30.2 46.5 32.3 45.2 34.4 43.3 36.5 41.3 38.6 39.6 40.7 38.2 42.8 37.3 44.9 36.7 47 36.2 49.1 35.6 51.2 34.7 53.3 33.6 56.6 32.1 115.3 84.3 119.8 88.5" fill="none" stroke="#fff" stroke-width="11.2" stroke-linejoin="round"/><path d="M5.6 84.3 6.4 68.8 7.6 60.4 9.7 57.6 15.2 56.6 17.7 54.8 19.8 52.3 21.9 50.2 24 48.8 26.1 48 28.1 47.4 30.2 46.5 32.3 45.2 34.4 43.3 36.5 41.3 38.6 39.6 40.7 38.2 42.8 37.3 44.9 36.7 47 36.2 49.1 35.6 51.2 34.7 53.3 33.6 56.6 32.1 115.3 84.3 119.8 88.5" fill="none" stroke="#000" stroke-width="9.6" stroke-linejoin="round" shape-rendering="crispEdges"/></svg><use href="#fr" transform="translate(1534.6,1275.6)"/>
<text x="1539.7" y="1433.9" font-size="53.33" text-anchor="middle">0</text>
<text x="1657.02" y="1433.9" font-size="53.33" text-anchor="middle">28</text>
<svg x="1714.05" y="1275.6" width="127.8" height="84.3" overflow="hidden"><path d="M5.9 68.7 6.4 58.8 7.6 50.4 8.9 50 9.7 47.5 11.8 47.2 14.7 47.9 15.2 46.5 17.7 44.7 19.8 43.4 20.6 41.2 21.9 40 23.5 40 24 38.3 26.1 37.4 26.5 38.4 28.1 36.5 29.4 36.2 30.2 37 32.3 34.6 34.4 33.2 35.3 33.7 36.5 31.2 38.2 30 38.6 30.8 40.7 27.8 41.1 27.7 42.8 27.7 44.1 25.7 44.9 25.6 47 26 47 24.6 49.1 24.3 49.9 25.2 51.2 23.5 52.9 23.3 53.3 24.3 55.8 21.4 55.8 21.8 58.7 24.4 61.7 24.6 64.6 26.7 67.5 30.4 70.5 31.6 73.4 34.5 76.3 38.1 79.3 39.3 82.2 42.3 85.1 45.9 88.1 47.1 91 50.1 93.9 53.7 96.9 54.8 99.8 57.9 102.7 61.4 105.7 62.6 108.6 65.7 111.5 69.2 113.6 69.6 113.6 88.9 111.5 86.3 108.6 84.2 105.7 81.8 102.7 78.5 99.8 76.4 96.9 74 93.9 70.7 91 68.6 88.1 66.3 85.1 63 82.2 60.9 79.3 58.5 76.3 55.2 73.4 53.1 70.5 50.7 67.5 47.4 64.6 45.3 61.7 44.4 58.7 42.7 55.8 42.4 55.8 42.5 53.3 43.2 52.9 43.9 51.2 44.5 49.9 44.1 49.1 44.9 47 45.5 47 44.8 44.9 46 44.1 46.6 42.8 46.5 41.1 48.2 40.7 48.6 38.6 49.5 38.2 50.4 36.5 51.9 35.3 52.3 34.4 53.6 32.3 55.2 30.2 55.6 29.4 56.5 28.1 57 26.5 56.9 26.1 57.7 24 58.7 23.5 58.4 21.9 60.2 20.6 61.6 19.8 61.8 17.7 64.9 15.2 66.7 14.7 66.2 11.8 67.3 9.7 67.7 8.9 68.2 7.6 70.5 6.4 78.9 5.9 86.8Z" fill="#1f77b4" fill-opacity="0.3" stroke="#1f77b4" stroke-opacity="0.4" stroke-width="1.4" shape-rendering="crispEdges"/><path d="M5.9 70.2 6.4 60.6 7.6 52.1 8.9 51.5 9.7 49.3 11.8 48.9 14.7 49.4 15.2 48.2 17.7 46.4 19.8 44.9 20.6 42.9 21.9 41.7 23.5 41.5 24 40.1 26.1 39.1 26.5 40 28.1 38.2 29.4 37.9 30.2 38.6 32.3 36.4 34.4 35 35.3 35.2 36.5 33 38.2 31.8 38.6 32.4 40.7 29.6 41.1 29.5 42.8 29.3 44.1 27.5 44.9 27.3 47 27.5 47 26.4 49.1 26.1 49.9 26.8 51.2 25.3 52.9 25.1 53.3 25.8 55.8 23.2 55.8 23.5 58.7 26.1 61.7 26.7 64.6 28.8 67.5 32.3 70.5 33.7 73.4 36.6 76.3 40.1 79.3 41.5 82.2 44.4 85.1 47.8 88.1 49.2 91 52.2 93.9 55.6 96.9 57 99.8 60 102.7 63.4 105.7 64.7 108.6 67.7 111.5 71.1 113.6 71.8 113.6 88.2 111.5 85.7 108.6 83.5 105.7 81.1 102.7 77.9 99.8 75.7 96.9 73.3 93.9 70.2 91 68 88.1 65.6 85.1 62.4 82.2 60.2 79.3 57.8 76.3 54.6 73.4 52.5 70.5 50 67.5 46.8 64.6 44.7 61.7 43.4 58.7 41.5 55.8 40.6 55.8 40.8 53.3 41.6 52.9 42.2 51.2 42.8 49.9 42.5 49.1 43.1 47 43.7 47 43.2 44.9 44.3 44.1 44.8 42.8 44.9 41.1 46.4 40.7 46.8 38.6 47.9 38.2 48.7 36.5 50.2 35.3 50.7 34.4 51.9 32.3 53.5 30.2 54 29.4 54.8 28.1 55.3 26.5 55.3 26.1 55.9 24 57 23.5 56.8 21.9 58.5 20.6 59.8 19.8 60.1 17.7 63.2 15.2 65 14.7 64.6 11.8 65.6 9.7 66 8.9 66.6 7.6 68.8 6.4 77.2 5.9 85.2Z" fill="#ff7f0e" fill-opacity="0.24" stroke="#ff7f0e" stroke-opacity="0.3" stroke-width="1.2" shape-rendering="crispEdges"/></svg><path d="M1734.5 1275.6V1359.9M1748.5 1275.6V1359.9M1807.5 1275.6V1359.9M1822.5 1275.6V1359.9" stroke="#bdbdbd" stroke-width="1"/><use href="#gr" transform="translate(1714.05,1275.6)"/><svg x="1714.05" y="1275.6" width="127.8" height="84.3" overflow="hidden"><path d="M5.6 84.3 6.4 68.8 7.6 60.4 9.7 57.6 15.2 56.6 17.7 54.8 19.8 52.3 21.9 50.1 24 48.6 26.1 47.5 28.1 46.8 30.2 46 32.3 45 34.4 43.4 36.5 41.6 38.6 39.9 40.7 38.3 42.8 36.9 44.9 35.9 47 35.2 49.1 34.6 51.2 34.1 53.3 33.5 55.8 32.1 114.9 84.3 119.4 88.5" fill="none" stroke="#fff" stroke-width="11.2" stroke-linejoin="round"/><path d="M5.6 84.3 6.4 68.8 7.6 60.4 9.7 57.6 15.2 56.6 17.7 54.8 19.8 52.3 21.9 50.1 24 48.6 26.1 47.5 28.1 46.8 30.2 46 32.3 45 34.4 43.4 36.5 41.6 38.6 39.9 40.7 38.3 42.8 36.9 44.9 35.9 47 35.2 49.1 34.6 51.2 34.1 53.3 33.5 55.8 32.1 114.9 84.3 119.4 88.5" fill="none" stroke="#000" stroke-width="9.6" stroke-linejoin="round" shape-rendering="crispEdges"/></svg><use href="#fr" transform="translate(1714.05,1275.6)"/>
<text x="1719.15" y="1433.9" font-size="53.33" text-anchor="middle">0</text>
<text x="1836.47" y="1433.9" font-size="53.33" text-anchor="middle">28</text>
<svg x="1893.5" y="1275.6" width="127.8" height="84.3" overflow="hidden"><path d="M5.9 68.5 6.4 58.5 7.6 51 8.9 49.8 9.7 47.2 11.8 47.8 14.7 47.7 15.2 46.2 17.7 45.3 19.8 43.5 20.6 41.3 21.9 41.1 23.5 40.4 24 38.7 26.1 38.7 26.5 39 28.1 37.1 29.4 37.8 30.2 38 32.3 35.9 34.4 36 35.3 35.7 36.5 33.5 38.2 33.2 38.6 33.1 40.7 30.1 41.1 30.9 42.8 30 44.1 27.8 44.9 28.5 47 27.7 47 26.3 49.1 26.8 49.9 26.8 51.2 25.2 52.9 26 53.3 26.1 55.4 24.3 55.8 25.4 57.5 25 58.7 23.2 59.6 24.1 61.7 23.3 61.7 21.9 63.3 22.4 64.6 23.3 67.5 23.7 70.5 26.8 73.4 29.2 76.3 30.7 79.3 34.7 82.2 37.6 85.1 39.1 88.1 43.1 91 45.9 93.9 47.4 96.9 51.5 99.8 54.3 102.7 55.8 105.7 59.8 108.6 62.6 111.5 64.2 114.5 68.2 117 70.6 117 88.2 114.5 85.8 111.5 83.7 108.6 80.3 105.7 77.5 102.7 75.3 99.8 71.9 96.9 69.1 93.9 67 91 63.5 88.1 60.8 85.1 58.6 82.2 55.2 79.3 52.4 76.3 50.2 73.4 46.8 70.5 44.8 67.5 44.3 64.6 42.5 63.3 42.1 61.7 43.4 61.7 42.7 59.6 43.7 58.7 44.6 57.5 44.4 55.8 45 55.4 45.7 53.3 45.5 52.9 45.6 51.2 46.5 49.9 46.1 49.1 46.4 47 47.6 47 46.9 44.9 48 44.1 49 42.8 49.1 41.1 50.4 40.7 51.3 38.6 52.2 38.2 52.7 36.5 54.6 35.3 54.7 34.4 55.4 32.3 56.9 30.2 56.9 29.4 57.2 28.1 58 26.5 57.8 26.1 58.1 24 59.5 23.5 59.1 21.9 60.4 20.6 62.1 19.8 62.2 17.7 64.6 15.2 66.9 14.7 66.3 11.8 67 9.7 67.9 8.9 68.3 7.6 70.2 6.4 79.1 5.9 87Z" fill="#1f77b4" fill-opacity="0.3" stroke="#1f77b4" stroke-opacity="0.4" stroke-width="1.4" shape-rendering="crispEdges"/><path d="M5.9 70 6.4 60.3 7.6 52.6 8.9 51.3 9.7 49 11.8 49.4 14.7 49.2 15.2 47.9 17.7 46.9 19.8 45 20.6 43.1 21.9 42.8 23.5 41.9 24 40.5 26.1 40.4 26.5 40.5 28.1 38.9 29.4 39.5 30.2 39.5 32.3 37.7 34.4 37.6 35.3 37.3 36.5 35.3 38.2 34.8 38.6 34.7 40.7 31.9 41.1 32.6 42.8 31.6 44.1 29.7 44.9 30.1 47 29.3 47 28.2 49.1 28.4 49.9 28.4 51.2 27 52.9 27.7 53.3 27.8 55.4 26.2 55.8 27 57.5 26.7 58.7 25 59.6 25.7 61.7 24.9 61.7 23.8 63.3 24 64.6 24.9 67.5 25.8 70.5 28.7 73.4 31.2 76.3 32.9 79.3 36.7 82.2 39.5 85.1 41.3 88.1 45.1 91 47.9 93.9 49.6 96.9 53.4 99.8 56.2 102.7 58 105.7 61.8 108.6 64.6 111.5 66.3 114.5 70.2 117 72.6 117 87.6 114.5 85.2 111.5 83 108.6 79.7 105.7 76.9 102.7 74.6 99.8 71.3 96.9 68.5 93.9 66.2 91 62.9 88.1 60.2 85.1 57.9 82.2 54.6 79.3 51.8 76.3 49.5 73.4 46.2 70.5 44 67.5 43 64.6 41 63.3 40.4 61.7 41.6 61.7 41.1 59.6 42 58.7 42.9 57.5 42.8 55.8 43.3 55.4 43.9 53.3 43.8 52.9 44 51.2 44.7 49.9 44.4 49.1 44.7 47 45.8 47 45.2 44.9 46.3 44.1 47.3 42.8 47.5 41.1 48.8 40.7 49.5 38.6 50.5 38.2 51 36.5 52.8 35.3 53.1 34.4 53.7 32.3 55.2 30.2 55.2 29.4 55.5 28.1 56.3 26.5 56.2 26.1 56.4 24 57.8 23.5 57.5 21.9 58.8 20.6 60.4 19.8 60.5 17.7 62.9 15.2 65.2 14.7 64.6 11.8 65.3 9.7 66.1 8.9 66.6 7.6 68.5 6.4 77.3 5.9 85.3Z" fill="#ff7f0e" fill-opacity="0.24" stroke="#ff7f0e" stroke-opacity="0.3" stroke-width="1.2" shape-rendering="crispEdges"/></svg><path d="M1928.5 1275.6V1359.9M1942.5 1275.6V1359.9M1972.5 1275.6V1359.9M1986.5 1275.6V1359.9" stroke="#bdbdbd" stroke-width="1"/><use href="#gr" transform="translate(1893.5,1275.6)"/><svg x="1893.5" y="1275.6" width="127.8" height="84.3" overflow="hidden"><path d="M5.6 84.3 6.4 68.8 7.6 60.4 9.7 57.6 15.2 56.6 17.7 54.8 19.8 52.6 21.9 50.6 24 49.2 26.1 48.3 28.1 47.7 30.2 47.2 32.3 46.5 34.4 45.6 36.5 44.2 38.6 42.4 40.7 40.9 42.8 39.4 44.9 38.1 47 37.1 49.1 36.5 51.2 36 53.3 35.7 55.4 35.2 57.5 34.6 59.6 33.8 61.7 32.9 63.3 32.1 118.2 84.3 122.5 88.5" fill="none" stroke="#fff" stroke-width="11.2" stroke-linejoin="round"/><path d="M5.6 84.3 6.4 68.8 7.6 60.4 9.7 57.6 15.2 56.6 17.7 54.8 19.8 52.6 21.9 50.6 24 49.2 26.1 48.3 28.1 47.7 30.2 47.2 32.3 46.5 34.4 45.6 36.5 44.2 38.6 42.4 40.7 40.9 42.8 39.4 44.9 38.1 47 37.1 49.1 36.5 51.2 36 53.3 35.7 55.4 35.2 57.5 34.6 59.6 33.8 61.7 32.9 63.3 32.1 118.2 84.3 122.5 88.5" fill="none" stroke="#000" stroke-width="9.6" stroke-linejoin="round" shape-rendering="crispEdges"/></svg><use href="#fr" transform="translate(1893.5,1275.6)"/>
<text x="1898.6" y="1433.9" font-size="53.33" text-anchor="middle">0</text>
<text x="2015.92" y="1433.9" font-size="53.33" text-anchor="middle">28</text>
<svg x="2072.95" y="1275.6" width="127.8" height="84.3" overflow="hidden"><path d="M5.9 68 6.4 58.5 7.6 51.5 8.9 49.2 9.7 47.2 11.8 48.3 14.7 47.1 15.2 46.2 17.7 45.8 19.8 42.8 20.6 41.1 21.9 41.3 23.5 39.4 24 38.2 26.1 38.4 26.5 37.6 28.1 36.1 29.4 37.2 30.2 36.2 32.3 34.7 34.4 35.3 35.3 34.1 36.5 32.6 38.2 32.9 38.6 31.9 40.7 29.6 41.1 30.8 42.8 28.8 44.1 27.2 44.9 28 47 26 47 25.3 49.1 25.7 49.9 24.6 51.2 23.5 52.9 24.5 53.3 23.6 55.4 22.5 55.8 23.9 57.5 22.8 58.7 21.5 59.2 22.8 61.7 23.3 64.6 24.3 67.5 27.4 70.5 29.1 73.4 31.1 76.3 35.1 79.3 36.9 82.2 38.9 85.1 42.9 88.1 44.6 91 46.7 93.9 50.7 96.9 52.4 99.8 54.4 102.7 58.5 105.7 60.1 108.6 62.2 111.5 66.2 114.5 67.9 117 69.6 117 88.8 114.5 86.4 111.5 83.3 108.6 81.5 105.7 78.6 102.7 75.6 99.8 73.7 96.9 70.8 93.9 67.8 91 65.9 88.1 63.1 85.1 60 82.2 58.1 79.3 55.3 76.3 52.2 73.4 50.4 70.5 47.5 67.5 44.5 64.6 44.3 61.7 43.1 59.2 41.9 58.7 42.8 57.5 43.1 55.8 42.9 55.4 43.7 53.3 43.8 52.9 43.5 51.2 44.6 49.9 44.7 49.1 44.7 47 46.4 47 46 44.9 47 44.1 48.3 42.8 48.8 41.1 49.6 40.7 50.7 38.6 51.8 38.2 51.7 36.5 53.6 35.3 53.9 34.4 54 32.3 55.7 30.2 55.9 29.4 55.9 28.1 57 26.5 57.3 26.1 57.1 24 59 23.5 59 21.9 60 20.6 61.9 19.8 62.3 17.7 64.4 15.2 66.9 14.7 66.5 11.8 66.8 9.7 67.9 8.9 68.5 7.6 69.9 6.4 79.1 5.9 87.2Z" fill="#1f77b4" fill-opacity="0.3" stroke="#1f77b4" stroke-opacity="0.4" stroke-width="1.4" shape-rendering="crispEdges"/><path d="M5.9 69.6 6.4 60.3 7.6 53 8.9 50.9 9.7 49 11.8 49.8 14.7 48.8 15.2 48 17.7 47.3 19.8 44.5 20.6 42.9 21.9 42.9 23.5 41 24 40 26.1 40 26.5 39.3 28.1 37.9 29.4 38.7 30.2 37.9 32.3 36.5 34.4 36.8 35.3 35.8 36.5 34.4 38.2 34.4 38.6 33.5 40.7 31.4 41.1 32.3 42.8 30.5 44.1 29 44.9 29.6 47 27.7 47 27.1 49.1 27.3 49.9 26.3 51.2 25.3 52.9 26 53.3 25.3 55.4 24.3 55.8 25.4 57.5 24.5 58.7 23.3 59.2 24.3 61.7 25.1 64.6 26.3 67.5 29.3 70.5 31.2 73.4 33.3 76.3 37.1 79.3 38.9 82.2 41 85.1 44.8 88.1 46.7 91 48.8 93.9 52.6 96.9 54.4 99.8 56.6 102.7 60.4 105.7 62.2 108.6 64.4 111.5 68.2 114.5 70 117 71.8 117 88.2 114.5 85.7 111.5 82.7 108.6 80.8 105.7 78 102.7 75 99.8 73 96.9 70.2 93.9 67.2 91 65.2 88.1 62.4 85.1 59.4 82.2 57.5 79.3 54.6 76.3 51.7 73.4 49.7 70.5 46.8 67.5 43.9 64.6 43.2 61.7 41.7 59.2 40.2 58.7 41 57.5 41.3 55.8 41.3 55.4 41.9 53.3 42.1 52.9 41.8 51.2 42.9 49.9 43 49.1 43 47 44.6 47 44.3 44.9 45.3 44.1 46.5 42.8 47.1 41.1 48 40.7 48.9 38.6 50.1 38.2 50 36.5 51.8 35.3 52.2 34.4 52.4 32.3 53.9 30.2 54.3 29.4 54.2 28.1 55.3 26.5 55.6 26.1 55.5 24 57.3 23.5 57.3 21.9 58.3 20.6 60.2 19.8 60.6 17.7 62.7 15.2 65.1 14.7 64.9 11.8 65.1 9.7 66.1 8.9 66.9 7.6 68.3 6.4 77.3 5.9 85.5Z" fill="#ff7f0e" fill-opacity="0.24" stroke="#ff7f0e" stroke-opacity="0.3" stroke-width="1.2" shape-rendering="crispEdges"/></svg><path d="M2092.5 1275.6V1359.9M2122.5 1275.6V1359.9M2166.5 1275.6V1359.9M2180.5 1275.6V1359.9" stroke="#bdbdbd" stroke-width="1"/><use href="#gr" transform="translate(2072.95,1275.6)"/><svg x="2072.95" y="1275.6" width="127.8" height="84.3" overflow="hidden"><path d="M5.6 84.3 6.4 68.8 7.6 60.4 9.7 57.6 15.2 56.6 17.7 54.8 19.8 52.4 21.9 50.4 24 48.7 26.1 47.5 28.1 46.7 30.2 46 32.3 45.3 34.4 44.4 36.5 43.2 38.6 41.7 40.7 40.3 42.8 38.8 44.9 37.3 47 36 49.1 35 51.2 34.2 53.3 33.7 55.4 33.3 57.5 32.9 59.2 32.1 118.2 84.3 122.8 88.5" fill="none" stroke="#fff" stroke-width="11.2" stroke-linejoin="round"/><path d="M5.6 84.3 6.4 68.8 7.6 60.4 9.7 57.6 15.2 56.6 17.7 54.8 19.8 52.4 21.9 50.4 24 48.7 26.1 47.5 28.1 46.7 30.2 46 32.3 45.3 34.4 44.4 36.5 43.2 38.6 41.7 40.7 40.3 42.8 38.8 44.9 37.3 47 36 49.1 35 51.2 34.2 53.3 33.7 55.4 33.3 57.5 32.9 59.2 32.1 118.2 84.3 122.8 88.5" fill="none" stroke="#000" stroke-width="9.6" stroke-linejoin="round" shape-rendering="crispEdges"/></svg><use href="#fr" transform="translate(2072.95,1275.6)"/>
<text x="2078.05" y="1433.9" font-size="53.33" text-anchor="middle">0</text>
<text x="2195.37" y="1433.9" font-size="53.33" text-anchor="middle">28</text>
<text transform="translate(2220.5,1316.25) rotate(90)" font-size="53.33" text-anchor="middle">0.1</text>
<text x="1208.5" y="77" font-size="53.33" text-anchor="middle">First dose with the infection of 10 cells</text>
<text x="1208.5" y="134.3" font-size="53.33" text-anchor="middle">Time between doses (hours)</text>
<text x="1208.5" y="1510.5" font-size="53.33" text-anchor="middle">Simulation time (days)</text>
<text transform="translate(2323,780.5) rotate(90)" font-size="53.33" text-anchor="middle">IC50 multiplier</text>
<text transform="translate(93.7,1096) rotate(-90)" font-size="53.33">Total diffusive virus (<tspan font-family="DejaVu Sans,sans-serif" font-style="italic" dx="3">log</tspan><tspan font-family="DejaVu Sans,sans-serif" font-size="37.33" dy="8.3">10</tspan><tspan dy="-8.3" dx="4.5">)</tspan></text>
</svg></body></html>
